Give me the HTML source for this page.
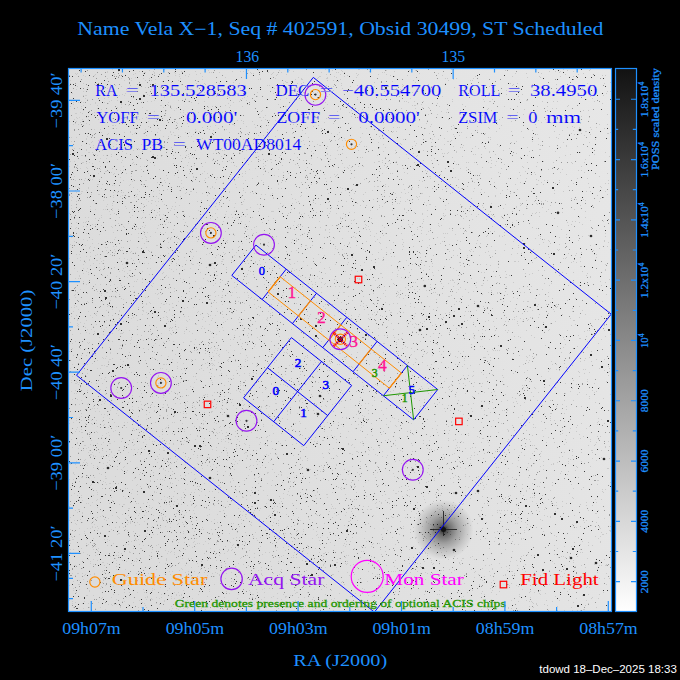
<!DOCTYPE html><html><head><meta charset="utf-8"><style>html,body{margin:0;padding:0;background:#000;width:680px;height:680px;overflow:hidden}svg{display:block}</style></head><body>
<svg width="680" height="680" viewBox="0 0 680 680">
<defs>
<linearGradient id="cb" x1="0" y1="0" x2="0" y2="1"><stop offset="0" stop-color="#121212"/><stop offset="1" stop-color="#ffffff"/></linearGradient>
<linearGradient id="bgg" x1="0" y1="0.3" x2="1" y2="0"><stop offset="0" stop-color="#dcdcdc"/><stop offset="1" stop-color="#e7e7e7"/></linearGradient>
<radialGradient id="halo"><stop offset="0" stop-color="#000" stop-opacity="0.85"/><stop offset="0.08" stop-color="#000" stop-opacity="0.7"/><stop offset="0.2" stop-color="#000" stop-opacity="0.52"/><stop offset="0.45" stop-color="#000" stop-opacity="0.3"/><stop offset="0.75" stop-color="#000" stop-opacity="0.12"/><stop offset="1" stop-color="#000" stop-opacity="0"/></radialGradient>
<filter id="sb2" x="-1" y="-1" width="3" height="3"><feGaussianBlur stdDeviation="0.7"/></filter>
<clipPath id="fr"><rect x="69" y="69" width="542" height="542"/></clipPath>
</defs>
<rect width="680" height="680" fill="#000"/>
<g clip-path="url(#fr)">
<rect x="68" y="68" width="544" height="544" fill="url(#bgg)"/>
<path fill="#cacaca" d="M345 515h1v1h-1zM247 260h1v1h-1zM491 585h1v1h-1zM148 263h1v1h-1zM93 538h1v1h-1zM236 252h1v1h-1zM177 255h1v1h-1zM290 259h1v1h-1zM599 201h1v1h-1zM377 78h1v1h-1zM427 419h1v1h-1zM82 119h1v1h-1zM193 561h1v1h-1zM499 275h1v1h-1zM222 150h1v1h-1zM305 277h1v1h-1zM222 161h1v1h-1zM219 72h1v1h-1zM167 339h1v1h-1zM136 540h1v1h-1zM257 96h1v1h-1zM473 251h1v1h-1zM401 192h1v1h-1zM307 407h1v1h-1zM591 129h1v1h-1zM114 441h1v1h-1zM138 228h1v1h-1zM350 523h1v1h-1zM383 528h1v1h-1zM573 560h1v1h-1zM99 293h1v1h-1zM154 100h1v1h-1zM475 571h1v1h-1zM282 376h1v1h-1zM146 377h1v1h-1zM498 263h1v1h-1zM382 306h1v1h-1zM83 222h1v1h-1zM418 470h1v1h-1zM316 171h1v1h-1zM334 436h1v1h-1zM107 162h1v1h-1zM84 601h1v1h-1zM236 537h1v1h-1zM431 86h1v1h-1zM115 395h1v1h-1zM197 457h1v1h-1zM167 247h1v1h-1zM385 290h1v1h-1zM580 549h1v1h-1zM235 461h1v1h-1zM288 232h1v1h-1zM83 268h1v1h-1zM194 165h1v1h-1zM287 353h1v1h-1zM530 585h1v1h-1zM594 445h1v1h-1zM153 500h1v1h-1zM324 523h1v1h-1zM244 292h1v1h-1zM337 249h1v1h-1zM93 559h1v1h-1zM325 304h1v1h-1zM326 74h1v1h-1zM405 287h1v1h-1zM591 361h1v1h-1zM519 355h1v1h-1zM231 501h1v1h-1zM191 341h1v1h-1zM470 557h1v1h-1zM193 510h1v1h-1zM345 216h1v1h-1zM399 392h1v1h-1zM320 537h1v1h-1zM204 579h1v1h-1zM546 445h1v1h-1zM299 589h1v1h-1zM303 494h1v1h-1zM222 259h1v1h-1zM465 197h1v1h-1zM289 70h1v1h-1zM386 424h1v1h-1zM192 517h1v1h-1zM310 330h1v1h-1zM131 581h1v1h-1zM436 117h1v1h-1zM211 89h1v1h-1zM503 499h1v1h-1zM591 598h1v1h-1zM91 142h1v1h-1zM204 438h1v1h-1zM370 269h1v1h-1zM141 408h1v1h-1zM242 204h1v1h-1zM219 331h1v1h-1zM327 330h1v1h-1zM276 454h1v1h-1zM242 544h1v1h-1zM145 180h1v1h-1zM224 115h1v1h-1zM482 333h1v1h-1zM249 169h1v1h-1zM474 338h1v1h-1zM386 74h1v1h-1zM530 497h1v1h-1zM554 554h1v1h-1zM427 247h1v1h-1zM147 282h1v1h-1zM73 173h1v1h-1zM374 82h1v1h-1zM415 164h1v1h-1zM171 385h1v1h-1zM216 605h1v1h-1zM489 216h1v1h-1zM541 421h1v1h-1zM146 607h1v1h-1zM575 255h1v1h-1zM506 94h1v1h-1zM261 486h1v1h-1zM526 499h1v1h-1zM124 258h1v1h-1zM444 522h1v1h-1zM599 526h1v1h-1zM111 156h1v1h-1zM518 517h1v1h-1zM492 569h1v1h-1zM503 150h1v1h-1zM160 415h1v1h-1zM415 145h1v1h-1zM277 506h1v1h-1zM430 539h1v1h-1zM92 317h1v1h-1zM451 69h1v1h-1zM253 274h1v1h-1zM394 418h1v1h-1zM71 307h1v1h-1zM546 211h1v1h-1zM301 398h1v1h-1zM192 405h1v1h-1zM589 426h1v1h-1zM505 271h1v1h-1zM232 249h1v1h-1zM196 350h1v1h-1zM340 353h1v1h-1zM404 587h1v1h-1zM443 317h1v1h-1zM293 439h1v1h-1zM542 101h1v1h-1zM163 397h1v1h-1zM179 274h1v1h-1zM209 205h1v1h-1zM548 406h1v1h-1zM350 565h1v1h-1zM507 332h1v1h-1zM414 289h1v1h-1zM78 452h1v1h-1zM162 532h1v1h-1zM181 499h1v1h-1zM236 390h1v1h-1zM285 181h1v1h-1zM143 94h1v1h-1zM171 383h1v1h-1zM452 99h1v1h-1zM594 564h1v1h-1zM141 607h1v1h-1zM452 514h1v1h-1zM72 603h1v1h-1zM488 162h1v1h-1zM409 376h1v1h-1zM119 464h1v1h-1zM157 158h1v1h-1zM472 80h1v1h-1zM359 144h1v1h-1zM186 155h1v1h-1zM70 322h1v1h-1zM430 395h1v1h-1zM544 270h1v1h-1zM281 501h1v1h-1zM523 387h1v1h-1zM444 597h1v1h-1zM496 161h1v1h-1zM186 327h1v1h-1zM208 586h1v1h-1zM465 333h1v1h-1zM89 591h1v1h-1zM464 364h1v1h-1zM442 189h1v1h-1zM128 522h1v1h-1zM146 599h1v1h-1zM565 155h1v1h-1zM266 373h1v1h-1zM90 252h1v1h-1zM122 160h1v1h-1zM86 149h1v1h-1zM460 204h1v1h-1zM505 330h1v1h-1zM157 479h1v1h-1zM70 326h1v1h-1zM77 258h1v1h-1zM494 231h1v1h-1zM389 503h1v1h-1zM278 303h1v1h-1zM464 358h1v1h-1zM138 416h1v1h-1zM471 133h1v1h-1zM422 214h1v1h-1zM361 424h1v1h-1zM380 549h1v1h-1zM264 588h1v1h-1zM92 113h1v1h-1zM385 157h1v1h-1zM305 245h1v1h-1zM400 521h1v1h-1zM118 120h1v1h-1zM522 589h1v1h-1zM561 117h1v1h-1zM263 117h1v1h-1zM419 196h1v1h-1zM285 106h1v1h-1zM126 576h1v1h-1zM259 117h1v1h-1zM484 117h1v1h-1zM338 294h1v1h-1zM556 369h1v1h-1zM355 428h1v1h-1zM356 492h1v1h-1zM85 98h1v1h-1zM333 86h1v1h-1zM187 462h1v1h-1zM145 80h1v1h-1zM313 529h1v1h-1zM225 231h1v1h-1zM313 500h1v1h-1zM108 500h1v1h-1zM214 292h1v1h-1zM372 435h1v1h-1zM521 539h1v1h-1zM396 342h1v1h-1zM441 570h1v1h-1zM222 409h1v1h-1zM484 357h1v1h-1zM509 585h1v1h-1zM76 113h1v1h-1zM392 193h1v1h-1zM69 193h1v1h-1zM535 258h1v1h-1zM211 72h1v1h-1zM512 358h1v1h-1zM117 534h1v1h-1zM531 466h1v1h-1zM220 487h1v1h-1zM338 139h1v1h-1zM415 120h1v1h-1zM401 277h1v1h-1zM560 147h1v1h-1zM321 341h1v1h-1zM217 438h1v1h-1zM110 359h1v1h-1zM349 165h1v1h-1zM605 282h1v1h-1zM158 375h1v1h-1zM336 562h1v1h-1zM589 155h1v1h-1zM521 502h1v1h-1zM473 322h1v1h-1zM581 352h1v1h-1zM145 92h1v1h-1zM196 159h1v1h-1zM136 580h1v1h-1zM469 220h1v1h-1zM281 602h1v1h-1zM439 509h1v1h-1zM577 577h1v1h-1zM191 504h1v1h-1zM149 70h1v1h-1zM494 391h1v1h-1zM378 361h1v1h-1zM346 512h1v1h-1zM600 528h1v1h-1zM183 444h1v1h-1zM297 109h1v1h-1zM156 545h1v1h-1zM262 575h1v1h-1zM148 349h1v1h-1zM408 265h1v1h-1zM338 571h1v1h-1zM601 565h1v1h-1zM538 392h1v1h-1zM268 311h1v1h-1zM312 245h1v1h-1zM243 497h1v1h-1zM309 173h1v1h-1zM482 115h1v1h-1zM469 208h1v1h-1zM283 384h1v1h-1zM278 523h1v1h-1zM360 137h1v1h-1zM195 359h1v1h-1zM534 172h1v1h-1zM81 429h1v1h-1zM222 402h1v1h-1zM261 111h1v1h-1zM71 208h1v1h-1zM143 78h1v1h-1zM174 431h1v1h-1zM169 340h1v1h-1zM89 178h1v1h-1zM99 179h1v1h-1zM523 364h1v1h-1zM532 356h1v1h-1zM407 380h1v1h-1zM596 607h1v1h-1zM123 467h1v1h-1zM390 391h1v1h-1zM76 222h1v1h-1zM518 245h1v1h-1zM169 478h1v1h-1zM259 578h1v1h-1zM69 479h1v1h-1zM143 545h1v1h-1zM536 527h1v1h-1zM406 212h1v1h-1zM96 324h1v1h-1zM297 87h1v1h-1zM285 318h1v1h-1zM167 139h1v1h-1zM556 364h1v1h-1zM226 609h1v1h-1zM576 253h1v1h-1zM369 329h1v1h-1zM405 517h1v1h-1zM97 368h1v1h-1zM367 420h1v1h-1zM460 564h1v1h-1zM443 286h1v1h-1zM585 567h1v1h-1zM206 254h1v1h-1zM151 118h1v1h-1zM116 128h1v1h-1zM262 554h1v1h-1zM409 370h1v1h-1zM246 150h1v1h-1zM513 297h1v1h-1zM74 176h1v1h-1zM588 110h1v1h-1zM315 203h1v1h-1zM184 269h1v1h-1zM109 553h1v1h-1zM290 595h1v1h-1zM135 194h1v1h-1zM112 128h1v1h-1zM592 390h1v1h-1zM584 162h1v1h-1zM174 501h1v1h-1zM403 85h1v1h-1zM452 454h1v1h-1zM379 171h1v1h-1zM571 581h1v1h-1zM146 117h1v1h-1zM77 271h1v1h-1zM351 127h1v1h-1zM490 287h1v1h-1zM77 573h1v1h-1zM554 535h1v1h-1zM321 331h1v1h-1zM596 513h1v1h-1zM266 326h1v1h-1zM383 352h1v1h-1zM212 133h1v1h-1zM363 111h1v1h-1zM313 92h1v1h-1zM100 588h1v1h-1zM240 322h1v1h-1zM239 441h1v1h-1zM330 349h1v1h-1zM473 333h1v1h-1zM92 424h1v1h-1zM448 510h1v1h-1zM508 607h1v1h-1zM559 182h1v1h-1zM197 486h1v1h-1zM110 353h1v1h-1zM496 188h1v1h-1zM73 539h1v1h-1zM467 320h1v1h-1zM229 85h1v1h-1zM356 370h1v1h-1zM163 279h1v1h-1zM361 551h1v1h-1zM166 441h1v1h-1zM190 386h1v1h-1zM130 552h1v1h-1zM193 542h1v1h-1zM368 454h1v1h-1zM168 428h1v1h-1zM71 432h1v1h-1zM130 184h1v1h-1zM130 94h1v1h-1zM520 205h1v1h-1zM480 539h1v1h-1zM167 590h1v1h-1zM377 466h1v1h-1zM138 409h1v1h-1zM217 534h1v1h-1zM154 278h1v1h-1zM412 489h1v1h-1zM97 260h1v1h-1zM442 506h1v1h-1zM503 301h1v1h-1zM140 472h1v1h-1zM357 352h1v1h-1zM125 369h1v1h-1zM342 188h1v1h-1zM276 328h1v1h-1zM579 217h1v1h-1zM288 402h1v1h-1zM79 275h1v1h-1zM75 291h1v1h-1zM470 365h1v1h-1zM342 163h1v1h-1zM325 562h1v1h-1zM113 394h1v1h-1zM501 495h1v1h-1zM109 279h1v1h-1zM178 385h1v1h-1zM426 521h1v1h-1zM294 229h1v1h-1zM203 370h1v1h-1zM350 485h1v1h-1zM123 527h1v1h-1zM277 547h1v1h-1zM395 461h1v1h-1zM78 324h1v1h-1zM128 585h1v1h-1zM518 544h1v1h-1zM107 339h1v1h-1zM496 594h1v1h-1zM135 132h1v1h-1zM509 148h1v1h-1zM123 170h1v1h-1zM313 126h1v1h-1zM587 379h1v1h-1zM458 187h1v1h-1zM389 304h1v1h-1zM482 346h1v1h-1zM69 544h1v1h-1zM243 279h1v1h-1zM198 581h1v1h-1zM203 244h1v1h-1zM566 406h1v1h-1zM120 462h1v1h-1zM308 601h1v1h-1zM292 203h1v1h-1zM556 536h1v1h-1zM419 331h1v1h-1zM217 348h1v1h-1zM581 406h1v1h-1zM180 429h1v1h-1zM562 430h1v1h-1zM363 386h1v1h-1zM263 426h1v1h-1zM212 106h1v1h-1zM508 321h1v1h-1zM86 284h1v1h-1zM360 461h1v1h-1zM487 235h1v1h-1zM363 306h1v1h-1zM475 154h1v1h-1zM507 503h1v1h-1zM550 368h1v1h-1zM442 579h1v1h-1zM202 127h1v1h-1zM548 240h1v1h-1zM340 449h1v1h-1zM414 576h1v1h-1zM104 316h1v1h-1zM202 397h1v1h-1zM221 541h1v1h-1zM521 427h1v1h-1zM249 375h1v1h-1zM585 369h1v1h-1zM336 175h1v1h-1zM297 553h1v1h-1zM113 174h1v1h-1zM427 553h1v1h-1zM331 508h1v1h-1zM565 114h1v1h-1zM338 147h1v1h-1zM460 265h1v1h-1zM283 172h1v1h-1zM601 187h1v1h-1zM585 217h1v1h-1zM440 174h1v1h-1zM109 101h1v1h-1zM434 478h1v1h-1zM222 414h1v1h-1zM445 392h1v1h-1zM316 523h1v1h-1zM353 564h1v1h-1zM535 124h1v1h-1zM143 186h1v1h-1zM286 380h1v1h-1zM113 192h1v1h-1zM69 343h1v1h-1zM199 299h1v1h-1zM349 242h1v1h-1zM81 413h1v1h-1zM288 148h1v1h-1zM283 493h1v1h-1zM297 413h1v1h-1zM383 600h1v1h-1zM240 420h1v1h-1zM224 385h1v1h-1zM380 117h1v1h-1zM222 311h1v1h-1zM185 489h1v1h-1zM484 503h1v1h-1zM327 78h1v1h-1zM82 603h1v1h-1zM216 308h1v1h-1zM467 255h1v1h-1zM86 233h1v1h-1zM213 263h1v1h-1zM457 465h1v1h-1zM283 280h1v1h-1zM128 192h1v1h-1zM242 515h1v1h-1zM75 380h1v1h-1zM527 467h1v1h-1zM590 134h1v1h-1zM105 171h1v1h-1zM121 579h1v1h-1zM70 234h1v1h-1zM351 386h1v1h-1zM109 525h1v1h-1zM176 329h1v1h-1zM182 601h1v1h-1zM157 377h1v1h-1zM266 388h1v1h-1zM328 452h1v1h-1zM511 121h1v1h-1zM477 240h1v1h-1zM383 257h1v1h-1zM458 400h1v1h-1zM331 435h1v1h-1zM265 530h1v1h-1zM143 348h1v1h-1zM179 456h1v1h-1zM331 599h1v1h-1zM411 354h1v1h-1zM260 258h1v1h-1zM106 451h1v1h-1zM352 367h1v1h-1zM98 144h1v1h-1zM491 246h1v1h-1zM402 365h1v1h-1zM119 557h1v1h-1zM180 382h1v1h-1zM224 130h1v1h-1zM564 573h1v1h-1zM185 98h1v1h-1zM281 530h1v1h-1zM590 69h1v1h-1zM119 504h1v1h-1zM307 545h1v1h-1zM144 234h1v1h-1zM245 147h1v1h-1zM370 509h1v1h-1zM268 144h1v1h-1zM89 234h1v1h-1zM479 437h1v1h-1zM213 356h1v1h-1zM473 135h1v1h-1zM262 110h1v1h-1zM430 524h1v1h-1zM355 237h1v1h-1zM245 216h1v1h-1zM309 326h1v1h-1zM384 227h1v1h-1zM328 393h1v1h-1zM150 112h1v1h-1zM408 604h1v1h-1zM172 362h1v1h-1zM235 421h1v1h-1zM576 384h1v1h-1zM386 247h1v1h-1zM229 132h1v1h-1zM238 250h1v1h-1zM592 581h1v1h-1zM230 122h1v1h-1zM382 456h1v1h-1zM343 551h1v1h-1zM80 333h1v1h-1zM412 224h1v1h-1zM383 151h1v1h-1zM260 239h1v1h-1zM285 90h1v1h-1zM295 199h1v1h-1zM507 340h1v1h-1zM340 323h1v1h-1zM257 406h1v1h-1zM295 149h1v1h-1zM154 111h1v1h-1zM324 426h1v1h-1zM511 131h1v1h-1zM551 413h1v1h-1zM206 508h1v1h-1zM168 237h1v1h-1zM209 354h1v1h-1zM412 561h1v1h-1zM181 71h1v1h-1zM514 573h1v1h-1zM300 423h1v1h-1zM133 531h1v1h-1zM216 404h1v1h-1zM398 419h1v1h-1zM101 293h1v1h-1zM283 205h1v1h-1zM414 398h1v1h-1zM240 383h1v1h-1zM261 573h1v1h-1zM131 339h1v1h-1zM178 80h1v1h-1zM578 477h1v1h-1zM384 399h1v1h-1zM262 589h1v1h-1zM138 503h1v1h-1zM176 595h1v1h-1zM78 499h1v1h-1zM341 192h1v1h-1zM86 139h1v1h-1zM83 273h1v1h-1zM322 560h1v1h-1zM302 460h1v1h-1zM177 394h1v1h-1zM557 101h1v1h-1zM351 378h1v1h-1zM126 427h1v1h-1zM526 470h1v1h-1zM280 384h1v1h-1zM379 147h1v1h-1zM380 597h1v1h-1zM584 331h1v1h-1zM499 451h1v1h-1zM595 513h1v1h-1zM162 81h1v1h-1zM402 333h1v1h-1zM424 321h1v1h-1zM346 157h1v1h-1zM128 604h1v1h-1zM86 89h1v1h-1zM74 216h1v1h-1zM233 375h1v1h-1zM395 440h1v1h-1zM357 97h1v1h-1zM131 449h1v1h-1zM516 432h1v1h-1zM396 384h1v1h-1zM217 112h1v1h-1zM582 236h1v1h-1zM112 333h1v1h-1zM307 408h1v1h-1zM222 112h1v1h-1zM195 71h1v1h-1zM225 154h1v1h-1zM272 258h1v1h-1zM110 443h1v1h-1zM424 602h1v1h-1zM605 152h1v1h-1zM80 112h1v1h-1zM151 251h1v1h-1zM132 253h1v1h-1zM229 107h1v1h-1zM182 581h1v1h-1zM525 522h1v1h-1zM328 552h1v1h-1zM152 590h1v1h-1zM87 554h1v1h-1zM523 577h1v1h-1zM439 590h1v1h-1zM82 500h1v1h-1zM228 359h1v1h-1zM428 493h1v1h-1zM241 216h1v1h-1zM518 601h1v1h-1zM273 93h1v1h-1zM293 137h1v1h-1zM69 213h1v1h-1zM504 459h1v1h-1zM230 393h1v1h-1zM288 228h1v1h-1zM456 151h1v1h-1zM262 144h1v1h-1zM338 311h1v1h-1zM393 242h1v1h-1zM157 565h1v1h-1zM601 532h1v1h-1zM490 412h1v1h-1zM264 597h1v1h-1zM69 520h1v1h-1zM601 419h1v1h-1zM202 76h1v1h-1zM104 102h1v1h-1zM353 603h1v1h-1zM292 541h1v1h-1zM287 269h1v1h-1zM542 430h1v1h-1zM431 610h1v1h-1zM576 527h1v1h-1zM152 443h1v1h-1zM413 546h1v1h-1zM227 240h1v1h-1zM339 364h1v1h-1zM345 563h1v1h-1zM193 387h1v1h-1zM208 177h1v1h-1zM182 517h1v1h-1zM426 318h1v1h-1zM236 310h1v1h-1zM126 91h1v1h-1zM240 71h1v1h-1zM167 405h1v1h-1zM189 277h1v1h-1zM210 548h1v1h-1zM89 436h1v1h-1zM547 110h1v1h-1zM139 396h1v1h-1zM376 233h1v1h-1zM433 333h1v1h-1zM356 245h1v1h-1zM123 504h1v1h-1zM360 466h1v1h-1zM94 112h1v1h-1zM164 480h1v1h-1zM336 515h1v1h-1zM320 158h1v1h-1zM396 493h1v1h-1zM86 546h1v1h-1zM117 287h1v1h-1zM453 250h1v1h-1zM324 350h1v1h-1zM429 266h1v1h-1zM363 249h1v1h-1zM501 216h1v1h-1zM510 116h1v1h-1zM117 516h1v1h-1zM535 427h1v1h-1zM223 548h1v1h-1zM378 585h1v1h-1zM518 508h1v1h-1zM241 120h1v1h-1zM101 261h1v1h-1zM72 334h1v1h-1zM157 534h1v1h-1zM292 268h1v1h-1zM604 423h1v1h-1zM85 222h1v1h-1zM482 591h1v1h-1zM73 311h1v1h-1zM281 72h1v1h-1zM245 532h1v1h-1zM481 272h1v1h-1zM275 136h1v1h-1zM421 230h1v1h-1zM180 475h1v1h-1zM142 282h1v1h-1zM90 246h1v1h-1zM522 313h1v1h-1zM270 159h1v1h-1zM405 193h1v1h-1zM397 313h1v1h-1zM327 537h1v1h-1zM253 143h1v1h-1zM527 320h1v1h-1zM370 210h1v1h-1zM512 551h1v1h-1zM492 399h1v1h-1zM542 289h1v1h-1zM119 258h1v1h-1zM263 424h1v1h-1zM116 134h1v1h-1zM480 243h1v1h-1zM502 375h1v1h-1zM296 126h1v1h-1zM567 300h1v1h-1zM271 262h1v1h-1zM506 454h1v1h-1zM361 329h1v1h-1zM358 410h1v1h-1zM183 524h1v1h-1zM416 111h1v1h-1zM83 284h1v1h-1zM256 589h1v1h-1zM574 320h1v1h-1zM95 154h1v1h-1zM274 88h1v1h-1zM345 557h1v1h-1zM161 105h1v1h-1zM169 330h1v1h-1zM424 594h1v1h-1zM127 575h1v1h-1zM327 146h1v1h-1zM167 449h1v1h-1zM494 541h1v1h-1zM214 505h1v1h-1zM324 553h1v1h-1zM465 448h1v1h-1zM419 289h1v1h-1zM110 280h1v1h-1zM110 272h1v1h-1zM474 577h1v1h-1zM268 472h1v1h-1zM83 281h1v1h-1zM147 101h1v1h-1zM210 248h1v1h-1zM276 550h1v1h-1zM263 166h1v1h-1zM182 423h1v1h-1zM516 585h1v1h-1zM409 70h1v1h-1zM122 264h1v1h-1zM284 382h1v1h-1zM446 112h1v1h-1zM194 467h1v1h-1zM267 320h1v1h-1zM325 69h1v1h-1zM403 536h1v1h-1zM119 201h1v1h-1zM131 585h1v1h-1zM99 190h1v1h-1zM374 304h1v1h-1zM401 338h1v1h-1zM113 431h1v1h-1zM132 163h1v1h-1zM468 523h1v1h-1zM189 216h1v1h-1zM357 85h1v1h-1zM140 584h1v1h-1zM452 424h1v1h-1zM331 590h1v1h-1zM196 74h1v1h-1zM446 378h1v1h-1zM325 178h1v1h-1zM503 603h1v1h-1zM574 127h1v1h-1zM207 280h1v1h-1zM217 471h1v1h-1zM226 269h1v1h-1zM383 414h1v1h-1zM71 205h1v1h-1zM213 120h1v1h-1zM197 543h1v1h-1zM133 162h1v1h-1zM142 291h1v1h-1zM106 206h1v1h-1zM82 155h1v1h-1zM97 360h1v1h-1zM453 187h1v1h-1zM272 418h1v1h-1zM279 503h1v1h-1zM227 242h1v1h-1zM420 341h1v1h-1zM580 205h1v1h-1zM94 129h1v1h-1zM588 594h1v1h-1zM591 525h1v1h-1zM517 323h1v1h-1zM383 431h1v1h-1zM489 445h1v1h-1zM138 449h1v1h-1zM85 217h1v1h-1zM605 264h1v1h-1zM189 545h1v1h-1zM107 78h1v1h-1zM302 286h1v1h-1zM271 188h1v1h-1zM104 572h1v1h-1zM192 333h1v1h-1zM395 425h1v1h-1zM351 110h1v1h-1zM121 103h1v1h-1zM288 429h1v1h-1zM442 468h1v1h-1zM141 210h1v1h-1zM394 76h1v1h-1zM178 129h1v1h-1zM562 456h1v1h-1zM180 78h1v1h-1zM608 366h1v1h-1zM490 588h1v1h-1zM149 488h1v1h-1zM207 367h1v1h-1zM169 393h1v1h-1zM115 251h1v1h-1zM170 255h1v1h-1zM333 421h1v1h-1zM132 395h1v1h-1zM460 411h1v1h-1zM581 423h1v1h-1zM371 260h1v1h-1zM87 521h1v1h-1zM160 444h1v1h-1zM404 412h1v1h-1zM301 553h1v1h-1zM605 269h1v1h-1zM548 313h1v1h-1zM248 475h1v1h-1zM186 586h1v1h-1zM197 263h1v1h-1zM532 435h1v1h-1zM100 533h1v1h-1zM334 254h1v1h-1zM351 167h1v1h-1zM401 108h1v1h-1zM291 472h1v1h-1zM557 479h1v1h-1zM70 517h1v1h-1zM151 598h1v1h-1zM185 370h1v1h-1zM223 506h1v1h-1zM168 462h1v1h-1zM99 267h1v1h-1zM404 269h1v1h-1zM76 418h1v1h-1zM154 406h1v1h-1zM375 315h1v1h-1zM69 310h1v1h-1zM261 194h1v1h-1zM90 206h1v1h-1zM162 264h1v1h-1zM566 257h1v1h-1zM374 162h1v1h-1zM259 269h1v1h-1zM337 298h1v1h-1zM183 363h1v1h-1zM278 251h1v1h-1zM313 364h1v1h-1zM499 119h1v1h-1zM196 131h1v1h-1zM76 121h1v1h-1zM331 87h1v1h-1zM325 308h1v1h-1zM318 382h1v1h-1zM156 528h1v1h-1zM478 493h1v1h-1zM351 445h1v1h-1zM368 609h1v1h-1zM282 121h1v1h-1zM362 95h1v1h-1zM582 271h1v1h-1zM397 274h1v1h-1zM491 592h1v1h-1zM372 573h1v1h-1zM69 258h1v1h-1zM432 139h1v1h-1zM530 399h1v1h-1zM122 151h1v1h-1zM390 421h1v1h-1zM491 167h1v1h-1zM499 484h1v1h-1zM279 145h1v1h-1zM228 103h1v1h-1zM108 573h1v1h-1zM296 250h1v1h-1zM144 243h1v1h-1zM437 294h1v1h-1zM580 610h1v1h-1zM257 249h1v1h-1zM163 95h1v1h-1zM83 102h1v1h-1zM497 503h1v1h-1zM233 544h1v1h-1zM341 324h1v1h-1zM604 370h1v1h-1zM232 159h1v1h-1zM109 503h1v1h-1zM286 347h1v1h-1zM397 120h1v1h-1zM333 508h1v1h-1zM425 552h1v1h-1zM169 504h1v1h-1zM331 133h1v1h-1zM175 354h1v1h-1zM151 80h1v1h-1zM321 72h1v1h-1zM166 558h1v1h-1zM337 559h1v1h-1zM499 510h1v1h-1zM457 279h1v1h-1zM208 107h1v1h-1zM89 333h1v1h-1zM227 551h1v1h-1zM487 503h1v1h-1zM286 583h1v1h-1zM72 399h1v1h-1zM78 550h1v1h-1zM397 217h1v1h-1zM499 591h1v1h-1zM164 96h1v1h-1zM219 555h1v1h-1zM154 410h1v1h-1zM280 498h1v1h-1zM362 588h1v1h-1zM428 317h1v1h-1zM346 555h1v1h-1zM342 393h1v1h-1zM594 392h1v1h-1zM189 158h1v1h-1zM202 244h1v1h-1zM120 283h1v1h-1zM450 354h1v1h-1zM141 218h1v1h-1zM372 190h1v1h-1zM231 550h1v1h-1zM231 111h1v1h-1zM599 594h1v1h-1zM100 373h1v1h-1zM430 574h1v1h-1zM540 590h1v1h-1zM326 181h1v1h-1zM90 574h1v1h-1zM191 359h1v1h-1zM302 398h1v1h-1zM219 485h1v1h-1zM490 101h1v1h-1zM83 141h1v1h-1zM433 606h1v1h-1zM97 105h1v1h-1zM410 503h1v1h-1zM477 126h1v1h-1zM203 423h1v1h-1zM501 539h1v1h-1zM212 160h1v1h-1zM492 402h1v1h-1zM365 227h1v1h-1zM85 396h1v1h-1zM274 510h1v1h-1zM415 108h1v1h-1zM523 114h1v1h-1zM91 523h1v1h-1zM431 376h1v1h-1zM343 292h1v1h-1zM382 225h1v1h-1zM379 136h1v1h-1zM71 217h1v1h-1zM490 211h1v1h-1zM316 368h1v1h-1zM134 281h1v1h-1zM341 318h1v1h-1zM573 90h1v1h-1zM327 80h1v1h-1zM424 326h1v1h-1zM445 323h1v1h-1zM219 356h1v1h-1zM96 260h1v1h-1zM368 523h1v1h-1zM227 293h1v1h-1zM318 254h1v1h-1zM119 526h1v1h-1zM471 278h1v1h-1zM294 221h1v1h-1zM520 203h1v1h-1zM319 221h1v1h-1zM173 271h1v1h-1zM182 282h1v1h-1zM550 302h1v1h-1zM104 329h1v1h-1zM248 270h1v1h-1zM118 209h1v1h-1zM245 361h1v1h-1zM268 414h1v1h-1zM187 307h1v1h-1zM221 430h1v1h-1zM363 392h1v1h-1zM70 540h1v1h-1zM422 213h1v1h-1zM171 134h1v1h-1zM476 243h1v1h-1zM108 362h1v1h-1zM247 274h1v1h-1zM111 529h1v1h-1zM176 216h1v1h-1zM539 149h1v1h-1zM98 344h1v1h-1zM564 339h1v1h-1zM240 99h1v1h-1zM399 487h1v1h-1zM459 301h1v1h-1zM398 219h1v1h-1zM306 570h1v1h-1zM322 99h1v1h-1zM478 87h1v1h-1zM280 155h1v1h-1zM89 248h1v1h-1zM113 561h1v1h-1zM138 539h1v1h-1zM384 343h1v1h-1zM355 516h1v1h-1zM92 179h1v1h-1zM124 132h1v1h-1zM274 257h1v1h-1zM162 407h1v1h-1zM424 95h1v1h-1zM542 520h1v1h-1zM604 128h1v1h-1zM335 246h1v1h-1zM418 462h1v1h-1zM605 489h1v1h-1zM223 317h1v1h-1zM430 367h1v1h-1zM411 269h1v1h-1zM579 372h1v1h-1zM478 148h1v1h-1zM344 324h1v1h-1zM248 282h1v1h-1zM379 501h1v1h-1zM398 294h1v1h-1zM152 434h1v1h-1zM188 136h1v1h-1zM138 233h1v1h-1zM515 398h1v1h-1zM283 83h1v1h-1zM456 164h1v1h-1zM153 124h1v1h-1zM89 162h1v1h-1zM97 426h1v1h-1zM211 412h1v1h-1zM297 83h1v1h-1zM125 344h1v1h-1zM157 149h1v1h-1zM82 522h1v1h-1zM207 173h1v1h-1zM406 154h1v1h-1zM589 142h1v1h-1zM109 413h1v1h-1zM137 438h1v1h-1zM564 400h1v1h-1zM100 532h1v1h-1zM281 153h1v1h-1zM472 180h1v1h-1zM162 517h1v1h-1zM430 536h1v1h-1zM462 156h1v1h-1zM298 574h1v1h-1zM125 525h1v1h-1zM489 151h1v1h-1zM342 249h1v1h-1zM565 344h1v1h-1zM236 286h1v1h-1zM516 206h1v1h-1zM377 384h1v1h-1zM412 451h1v1h-1zM183 279h1v1h-1zM231 162h1v1h-1zM116 246h1v1h-1zM114 576h1v1h-1zM221 263h1v1h-1zM562 433h1v1h-1zM339 254h1v1h-1zM315 548h1v1h-1zM327 370h1v1h-1zM217 514h1v1h-1zM160 441h1v1h-1zM376 590h1v1h-1zM445 580h1v1h-1zM147 426h1v1h-1zM227 96h1v1h-1zM240 514h1v1h-1zM380 243h1v1h-1zM148 427h1v1h-1zM460 273h1v1h-1zM168 471h1v1h-1zM214 488h1v1h-1zM554 190h1v1h-1zM202 319h1v1h-1zM418 199h1v1h-1zM193 256h1v1h-1zM571 484h1v1h-1zM379 576h1v1h-1zM151 508h1v1h-1zM189 331h1v1h-1zM254 514h1v1h-1zM419 266h1v1h-1zM358 74h1v1h-1zM271 74h1v1h-1zM298 318h1v1h-1zM259 339h1v1h-1zM467 199h1v1h-1zM496 131h1v1h-1zM397 408h1v1h-1zM366 258h1v1h-1zM120 177h1v1h-1zM444 153h1v1h-1zM400 290h1v1h-1zM543 461h1v1h-1zM78 278h1v1h-1zM128 105h1v1h-1zM443 199h1v1h-1zM604 240h1v1h-1zM86 355h1v1h-1zM493 408h1v1h-1zM225 214h1v1h-1zM145 129h1v1h-1zM431 606h1v1h-1zM158 487h1v1h-1zM293 557h1v1h-1zM184 542h1v1h-1zM121 469h1v1h-1zM112 205h1v1h-1zM72 537h1v1h-1zM394 505h1v1h-1zM468 404h1v1h-1zM526 73h1v1h-1zM233 233h1v1h-1zM188 395h1v1h-1zM86 95h1v1h-1zM107 275h1v1h-1zM142 602h1v1h-1zM236 448h1v1h-1zM294 153h1v1h-1zM175 75h1v1h-1zM263 174h1v1h-1zM348 231h1v1h-1zM200 272h1v1h-1zM139 600h1v1h-1zM78 584h1v1h-1zM336 280h1v1h-1zM485 515h1v1h-1zM165 563h1v1h-1zM175 531h1v1h-1zM470 495h1v1h-1zM208 533h1v1h-1zM136 503h1v1h-1zM112 125h1v1h-1zM359 69h1v1h-1zM236 496h1v1h-1zM157 360h1v1h-1zM527 370h1v1h-1zM344 357h1v1h-1zM265 552h1v1h-1zM549 348h1v1h-1zM378 258h1v1h-1zM158 383h1v1h-1zM513 373h1v1h-1zM589 372h1v1h-1zM472 590h1v1h-1zM125 488h1v1h-1zM577 556h1v1h-1zM294 481h1v1h-1zM353 480h1v1h-1zM240 571h1v1h-1zM470 459h1v1h-1zM199 88h1v1h-1zM88 452h1v1h-1zM136 196h1v1h-1zM435 414h1v1h-1zM101 365h1v1h-1zM270 195h1v1h-1zM165 500h1v1h-1zM90 433h1v1h-1zM373 449h1v1h-1zM350 596h1v1h-1zM145 87h1v1h-1zM293 71h1v1h-1zM219 375h1v1h-1zM274 501h1v1h-1zM207 362h1v1h-1zM217 246h1v1h-1zM149 507h1v1h-1zM421 334h1v1h-1zM233 82h1v1h-1zM163 317h1v1h-1zM390 75h1v1h-1zM497 350h1v1h-1zM93 154h1v1h-1zM233 124h1v1h-1zM228 378h1v1h-1zM431 562h1v1h-1zM268 72h1v1h-1zM436 429h1v1h-1zM240 257h1v1h-1zM237 120h1v1h-1zM419 120h1v1h-1zM568 576h1v1h-1zM118 71h1v1h-1zM270 366h1v1h-1zM587 586h1v1h-1zM271 441h1v1h-1zM157 245h1v1h-1zM550 378h1v1h-1zM251 377h1v1h-1zM385 184h1v1h-1zM433 501h1v1h-1zM600 541h1v1h-1zM74 520h1v1h-1zM285 597h1v1h-1zM273 198h1v1h-1zM367 581h1v1h-1zM255 413h1v1h-1zM87 373h1v1h-1zM223 238h1v1h-1zM481 401h1v1h-1zM74 148h1v1h-1zM427 171h1v1h-1zM308 283h1v1h-1zM467 257h1v1h-1zM343 488h1v1h-1zM119 329h1v1h-1zM351 220h1v1h-1zM328 164h1v1h-1zM189 169h1v1h-1zM236 370h1v1h-1zM432 573h1v1h-1zM153 392h1v1h-1zM599 578h1v1h-1zM381 520h1v1h-1zM377 507h1v1h-1zM314 475h1v1h-1zM110 254h1v1h-1zM117 194h1v1h-1zM530 122h1v1h-1zM448 559h1v1h-1zM545 507h1v1h-1zM312 84h1v1h-1zM96 420h1v1h-1zM393 571h1v1h-1zM170 96h1v1h-1zM129 87h1v1h-1zM236 490h1v1h-1zM263 400h1v1h-1zM486 484h1v1h-1zM257 584h1v1h-1zM214 272h1v1h-1zM507 386h1v1h-1zM425 553h1v1h-1zM77 165h1v1h-1zM379 161h1v1h-1zM167 189h1v1h-1zM403 607h1v1h-1zM472 447h1v1h-1zM455 475h1v1h-1zM86 320h1v1h-1zM249 466h1v1h-1zM413 319h1v1h-1zM129 365h1v1h-1zM212 318h1v1h-1zM581 200h1v1h-1zM168 248h1v1h-1zM232 217h1v1h-1zM221 562h1v1h-1zM239 322h1v1h-1zM117 469h1v1h-1zM244 541h1v1h-1zM86 384h1v1h-1zM320 471h1v1h-1zM170 238h1v1h-1zM86 271h1v1h-1zM371 285h1v1h-1zM457 214h1v1h-1zM529 355h1v1h-1zM453 286h1v1h-1zM131 541h1v1h-1zM421 532h1v1h-1zM96 229h1v1h-1zM87 240h1v1h-1zM238 547h1v1h-1zM498 467h1v1h-1zM308 517h1v1h-1zM562 404h1v1h-1zM109 218h1v1h-1zM316 290h1v1h-1zM436 553h1v1h-1zM362 382h1v1h-1zM91 489h1v1h-1zM446 581h1v1h-1zM239 492h1v1h-1zM341 283h1v1h-1zM401 219h1v1h-1zM496 470h1v1h-1zM430 341h1v1h-1zM156 336h1v1h-1zM356 240h1v1h-1zM340 217h1v1h-1zM340 74h1v1h-1zM407 477h1v1h-1zM192 547h1v1h-1zM539 459h1v1h-1zM399 386h1v1h-1zM323 336h1v1h-1zM368 410h1v1h-1zM595 244h1v1h-1zM210 188h1v1h-1zM85 574h1v1h-1zM294 143h1v1h-1zM226 448h1v1h-1zM138 116h1v1h-1zM427 365h1v1h-1zM156 245h1v1h-1zM97 560h1v1h-1zM327 497h1v1h-1zM92 136h1v1h-1zM301 79h1v1h-1zM184 429h1v1h-1zM69 423h1v1h-1zM407 490h1v1h-1zM129 508h1v1h-1zM87 180h1v1h-1zM584 522h1v1h-1zM425 502h1v1h-1zM443 213h1v1h-1zM183 112h1v1h-1zM147 268h1v1h-1zM124 195h1v1h-1zM297 592h1v1h-1zM130 85h1v1h-1zM206 217h1v1h-1zM412 324h1v1h-1zM517 178h1v1h-1zM464 360h1v1h-1zM225 441h1v1h-1zM138 155h1v1h-1zM259 510h1v1h-1zM448 433h1v1h-1zM91 420h1v1h-1zM88 382h1v1h-1zM280 203h1v1h-1zM97 550h1v1h-1zM143 306h1v1h-1zM544 283h1v1h-1zM83 552h1v1h-1zM410 258h1v1h-1zM121 298h1v1h-1zM251 525h1v1h-1zM287 255h1v1h-1zM353 236h1v1h-1zM117 466h1v1h-1zM70 552h1v1h-1zM107 306h1v1h-1zM289 263h1v1h-1zM251 506h1v1h-1zM216 370h1v1h-1zM201 287h1v1h-1zM278 523h1v1h-1zM472 219h1v1h-1zM139 441h1v1h-1zM350 86h1v1h-1zM304 233h1v1h-1zM186 413h1v1h-1zM337 177h1v1h-1zM255 192h1v1h-1zM158 444h1v1h-1zM552 482h1v1h-1zM314 441h1v1h-1zM586 505h1v1h-1zM477 130h1v1h-1zM388 320h1v1h-1zM118 483h1v1h-1zM174 501h1v1h-1zM194 513h1v1h-1zM388 391h1v1h-1zM301 78h1v1h-1zM527 77h1v1h-1zM512 211h1v1h-1zM129 283h1v1h-1zM84 575h1v1h-1zM512 463h1v1h-1zM305 176h1v1h-1zM483 555h1v1h-1zM295 600h1v1h-1zM76 89h1v1h-1zM275 532h1v1h-1zM350 399h1v1h-1zM107 247h1v1h-1zM186 192h1v1h-1zM312 109h1v1h-1zM256 253h1v1h-1zM154 309h1v1h-1zM412 202h1v1h-1zM180 196h1v1h-1zM171 391h1v1h-1zM269 406h1v1h-1zM345 357h1v1h-1zM213 302h1v1h-1zM250 289h1v1h-1zM344 543h1v1h-1zM208 604h1v1h-1zM423 429h1v1h-1zM389 498h1v1h-1zM286 596h1v1h-1zM339 286h1v1h-1zM524 402h1v1h-1zM187 459h1v1h-1zM478 574h1v1h-1zM453 477h1v1h-1zM528 362h1v1h-1zM224 597h1v1h-1zM475 76h1v1h-1zM427 352h1v1h-1zM92 344h1v1h-1zM465 393h1v1h-1zM351 582h1v1h-1zM556 307h1v1h-1zM605 236h1v1h-1zM559 370h1v1h-1zM381 503h1v1h-1zM504 581h1v1h-1zM170 483h1v1h-1zM541 182h1v1h-1zM578 335h1v1h-1zM480 346h1v1h-1zM118 533h1v1h-1zM225 568h1v1h-1zM248 565h1v1h-1zM249 305h1v1h-1zM203 395h1v1h-1zM125 529h1v1h-1zM317 157h1v1h-1zM441 128h1v1h-1zM320 145h1v1h-1zM149 576h1v1h-1zM162 556h1v1h-1zM177 604h1v1h-1zM131 516h1v1h-1zM186 584h1v1h-1zM597 572h1v1h-1zM296 269h1v1h-1zM195 94h1v1h-1zM529 592h1v1h-1zM198 566h1v1h-1zM303 296h1v1h-1zM163 395h1v1h-1zM75 113h1v1h-1zM90 454h1v1h-1zM223 330h1v1h-1zM346 417h1v1h-1zM548 499h1v1h-1zM406 580h1v1h-1zM216 302h1v1h-1zM94 574h1v1h-1zM307 265h1v1h-1zM201 529h1v1h-1zM239 537h1v1h-1zM175 403h1v1h-1zM113 146h1v1h-1zM365 403h1v1h-1zM301 446h1v1h-1zM224 254h1v1h-1zM455 364h1v1h-1zM241 196h1v1h-1zM326 85h1v1h-1zM130 340h1v1h-1zM531 335h1v1h-1zM588 510h1v1h-1zM280 141h1v1h-1zM116 413h1v1h-1zM372 564h1v1h-1zM414 162h1v1h-1zM136 281h1v1h-1zM243 564h1v1h-1zM360 142h1v1h-1zM89 432h1v1h-1zM193 583h1v1h-1zM363 445h1v1h-1zM307 127h1v1h-1zM442 530h1v1h-1zM366 225h1v1h-1zM374 236h1v1h-1zM321 392h1v1h-1zM267 396h1v1h-1zM143 204h1v1h-1zM457 284h1v1h-1zM383 260h1v1h-1zM563 69h1v1h-1zM304 92h1v1h-1zM330 532h1v1h-1zM267 129h1v1h-1zM213 433h1v1h-1zM107 292h1v1h-1zM563 288h1v1h-1zM343 426h1v1h-1zM351 318h1v1h-1zM439 402h1v1h-1zM329 91h1v1h-1zM141 404h1v1h-1zM222 280h1v1h-1zM344 584h1v1h-1zM367 593h1v1h-1zM351 424h1v1h-1zM495 451h1v1h-1zM128 589h1v1h-1zM200 455h1v1h-1zM604 325h1v1h-1zM72 93h1v1h-1zM189 74h1v1h-1zM83 450h1v1h-1zM144 263h1v1h-1zM445 83h1v1h-1zM123 321h1v1h-1zM202 468h1v1h-1zM157 524h1v1h-1zM103 316h1v1h-1zM348 316h1v1h-1zM507 408h1v1h-1zM153 283h1v1h-1zM550 205h1v1h-1zM549 241h1v1h-1zM220 229h1v1h-1zM266 319h1v1h-1zM184 380h1v1h-1zM477 121h1v1h-1zM422 388h1v1h-1zM348 474h1v1h-1zM364 179h1v1h-1zM195 439h1v1h-1zM610 530h1v1h-1zM134 561h1v1h-1zM502 190h1v1h-1zM227 401h1v1h-1zM378 485h1v1h-1zM192 579h1v1h-1zM188 316h1v1h-1zM109 305h1v1h-1zM507 476h1v1h-1zM178 327h1v1h-1zM130 131h1v1h-1zM104 266h1v1h-1zM427 391h1v1h-1zM149 142h1v1h-1zM175 206h1v1h-1zM193 376h1v1h-1zM485 148h1v1h-1zM327 494h1v1h-1zM562 272h1v1h-1zM75 297h1v1h-1zM256 373h1v1h-1zM207 572h1v1h-1zM392 81h1v1h-1zM254 568h1v1h-1zM382 136h1v1h-1zM374 400h1v1h-1zM130 343h1v1h-1zM146 237h1v1h-1zM187 112h1v1h-1zM610 531h1v1h-1zM473 191h1v1h-1zM264 455h1v1h-1zM438 223h1v1h-1zM469 381h1v1h-1zM187 148h1v1h-1zM374 397h1v1h-1zM72 539h1v1h-1zM378 335h1v1h-1zM103 481h1v1h-1zM95 411h1v1h-1zM165 526h1v1h-1zM79 528h1v1h-1zM380 138h1v1h-1zM179 595h1v1h-1zM232 141h1v1h-1zM487 280h1v1h-1zM437 578h1v1h-1zM173 155h1v1h-1zM411 389h1v1h-1zM386 167h1v1h-1zM564 444h1v1h-1zM183 537h1v1h-1zM497 510h1v1h-1zM436 393h1v1h-1zM90 179h1v1h-1zM310 86h1v1h-1zM421 386h1v1h-1zM597 424h1v1h-1zM89 152h1v1h-1zM499 563h1v1h-1zM379 369h1v1h-1zM287 526h1v1h-1zM194 474h1v1h-1zM322 86h1v1h-1zM310 526h1v1h-1zM468 466h1v1h-1zM381 249h1v1h-1zM516 141h1v1h-1zM590 96h1v1h-1zM468 433h1v1h-1zM564 117h1v1h-1zM577 610h1v1h-1zM117 584h1v1h-1zM428 523h1v1h-1zM477 179h1v1h-1zM209 443h1v1h-1zM298 201h1v1h-1zM214 584h1v1h-1zM330 363h1v1h-1zM243 390h1v1h-1zM194 406h1v1h-1zM89 144h1v1h-1zM98 467h1v1h-1zM425 170h1v1h-1zM387 326h1v1h-1zM172 571h1v1h-1zM392 272h1v1h-1zM240 603h1v1h-1zM157 337h1v1h-1zM240 573h1v1h-1zM203 424h1v1h-1zM354 193h1v1h-1zM444 576h1v1h-1zM251 522h1v1h-1zM85 327h1v1h-1zM422 468h1v1h-1zM117 386h1v1h-1zM117 460h1v1h-1zM78 187h1v1h-1zM550 232h1v1h-1zM172 483h1v1h-1zM122 579h1v1h-1zM279 91h1v1h-1zM330 328h1v1h-1zM514 544h1v1h-1zM241 115h1v1h-1zM202 166h1v1h-1zM605 446h1v1h-1zM366 329h1v1h-1zM209 129h1v1h-1zM106 327h1v1h-1zM586 527h1v1h-1zM170 131h1v1h-1zM520 518h1v1h-1zM349 195h1v1h-1zM489 86h1v1h-1zM382 397h1v1h-1zM420 329h1v1h-1zM384 91h1v1h-1zM298 139h1v1h-1zM292 437h1v1h-1zM307 248h1v1h-1zM73 422h1v1h-1zM300 136h1v1h-1zM365 482h1v1h-1zM229 593h1v1h-1zM144 427h1v1h-1zM342 153h1v1h-1zM449 569h1v1h-1zM299 384h1v1h-1zM504 250h1v1h-1zM590 466h1v1h-1zM210 364h1v1h-1zM521 204h1v1h-1zM293 384h1v1h-1zM577 553h1v1h-1zM155 83h1v1h-1zM167 104h1v1h-1zM399 376h1v1h-1zM143 442h1v1h-1zM312 377h1v1h-1zM490 205h1v1h-1zM170 506h1v1h-1zM156 205h1v1h-1zM210 348h1v1h-1zM293 455h1v1h-1zM330 211h1v1h-1zM295 79h1v1h-1zM186 512h1v1h-1zM191 155h1v1h-1zM541 451h1v1h-1zM152 200h1v1h-1zM180 142h1v1h-1zM533 427h1v1h-1zM225 253h1v1h-1zM134 536h1v1h-1zM283 381h1v1h-1zM260 546h1v1h-1zM278 299h1v1h-1zM108 311h1v1h-1zM590 439h1v1h-1zM324 107h1v1h-1zM505 549h1v1h-1zM395 591h1v1h-1zM427 210h1v1h-1zM508 486h1v1h-1zM127 277h1v1h-1zM407 199h1v1h-1zM347 470h1v1h-1zM513 192h1v1h-1zM478 330h1v1h-1zM477 436h1v1h-1zM244 443h1v1h-1zM423 354h1v1h-1zM463 218h1v1h-1zM208 350h1v1h-1zM557 610h1v1h-1zM470 448h1v1h-1zM205 353h1v1h-1zM112 227h1v1h-1zM468 487h1v1h-1zM222 327h1v1h-1zM550 323h1v1h-1zM147 94h1v1h-1zM279 70h1v1h-1zM504 164h1v1h-1zM412 92h1v1h-1zM125 544h1v1h-1zM172 608h1v1h-1zM98 548h1v1h-1zM191 263h1v1h-1zM609 156h1v1h-1zM435 176h1v1h-1zM113 586h1v1h-1zM564 421h1v1h-1zM304 358h1v1h-1zM430 491h1v1h-1zM366 128h1v1h-1zM99 161h1v1h-1zM158 128h1v1h-1zM139 119h1v1h-1zM399 534h1v1h-1zM150 358h1v1h-1zM307 470h1v1h-1zM97 291h1v1h-1zM230 482h1v1h-1zM324 237h1v1h-1zM307 176h1v1h-1zM195 577h1v1h-1zM204 483h1v1h-1zM327 96h1v1h-1zM422 193h1v1h-1zM534 357h1v1h-1zM444 556h1v1h-1zM504 452h1v1h-1zM165 470h1v1h-1zM88 272h1v1h-1zM572 308h1v1h-1zM400 201h1v1h-1zM311 439h1v1h-1zM391 581h1v1h-1zM579 317h1v1h-1zM410 303h1v1h-1zM266 535h1v1h-1zM386 252h1v1h-1zM253 233h1v1h-1zM177 510h1v1h-1zM430 284h1v1h-1zM507 570h1v1h-1zM332 225h1v1h-1zM166 502h1v1h-1zM560 172h1v1h-1zM125 170h1v1h-1zM541 122h1v1h-1zM327 208h1v1h-1zM147 530h1v1h-1zM387 581h1v1h-1zM572 311h1v1h-1zM182 511h1v1h-1zM75 390h1v1h-1zM212 449h1v1h-1zM145 585h1v1h-1zM117 410h1v1h-1zM332 304h1v1h-1zM507 400h1v1h-1zM490 137h1v1h-1zM596 391h1v1h-1zM347 338h1v1h-1zM300 196h1v1h-1zM458 187h1v1h-1zM573 400h1v1h-1zM570 318h1v1h-1zM223 609h1v1h-1zM206 550h1v1h-1zM85 381h1v1h-1zM151 552h1v1h-1zM474 188h1v1h-1zM327 391h1v1h-1zM395 560h1v1h-1zM305 403h1v1h-1zM151 527h1v1h-1zM317 534h1v1h-1zM212 263h1v1h-1zM117 192h1v1h-1zM429 269h1v1h-1zM252 506h1v1h-1zM313 564h1v1h-1zM82 366h1v1h-1zM310 469h1v1h-1zM153 95h1v1h-1zM177 393h1v1h-1zM71 101h1v1h-1zM185 222h1v1h-1zM466 170h1v1h-1zM270 288h1v1h-1zM369 364h1v1h-1zM87 168h1v1h-1zM432 428h1v1h-1zM87 329h1v1h-1zM531 555h1v1h-1zM549 329h1v1h-1zM403 246h1v1h-1zM284 535h1v1h-1zM492 374h1v1h-1zM306 188h1v1h-1zM106 478h1v1h-1zM86 424h1v1h-1zM378 74h1v1h-1zM247 342h1v1h-1zM593 580h1v1h-1zM325 567h1v1h-1zM550 516h1v1h-1zM202 193h1v1h-1zM87 136h1v1h-1zM199 147h1v1h-1zM549 90h1v1h-1zM424 399h1v1h-1zM319 552h1v1h-1zM79 199h1v1h-1zM318 125h1v1h-1zM576 199h1v1h-1zM247 149h1v1h-1zM345 107h1v1h-1zM89 124h1v1h-1zM429 474h1v1h-1zM207 313h1v1h-1zM135 252h1v1h-1zM75 383h1v1h-1zM210 438h1v1h-1zM358 150h1v1h-1zM173 443h1v1h-1zM178 523h1v1h-1zM99 218h1v1h-1zM535 298h1v1h-1zM204 395h1v1h-1zM302 534h1v1h-1zM167 178h1v1h-1zM470 171h1v1h-1zM371 423h1v1h-1zM358 424h1v1h-1zM139 535h1v1h-1zM112 515h1v1h-1zM463 145h1v1h-1zM437 425h1v1h-1zM254 557h1v1h-1zM411 188h1v1h-1zM536 184h1v1h-1zM527 524h1v1h-1zM473 386h1v1h-1zM375 503h1v1h-1zM561 352h1v1h-1zM481 154h1v1h-1zM191 492h1v1h-1zM128 606h1v1h-1zM417 227h1v1h-1zM131 234h1v1h-1zM581 119h1v1h-1zM416 430h1v1h-1zM85 178h1v1h-1zM508 468h1v1h-1zM518 87h1v1h-1zM380 273h1v1h-1zM549 137h1v1h-1zM248 420h1v1h-1zM165 580h1v1h-1zM221 441h1v1h-1zM255 532h1v1h-1zM534 592h1v1h-1zM251 297h1v1h-1zM567 371h1v1h-1zM193 454h1v1h-1zM608 420h1v1h-1zM146 414h1v1h-1zM75 464h1v1h-1zM90 456h1v1h-1zM365 220h1v1h-1zM373 352h1v1h-1zM261 407h1v1h-1zM124 460h1v1h-1zM440 570h1v1h-1zM336 567h1v1h-1zM160 182h1v1h-1zM358 166h1v1h-1zM81 155h1v1h-1zM213 153h1v1h-1zM385 440h1v1h-1zM444 216h1v1h-1zM239 101h1v1h-1zM216 179h1v1h-1zM240 392h1v1h-1zM221 504h1v1h-1zM78 448h1v1h-1zM566 145h1v1h-1zM445 513h1v1h-1zM218 489h1v1h-1zM221 148h1v1h-1zM449 166h1v1h-1zM77 442h1v1h-1zM419 523h1v1h-1zM453 440h1v1h-1zM210 331h1v1h-1zM250 298h1v1h-1zM290 227h1v1h-1zM120 359h1v1h-1zM192 258h1v1h-1zM528 463h1v1h-1zM291 286h1v1h-1zM294 316h1v1h-1zM136 510h1v1h-1zM259 208h1v1h-1zM205 162h1v1h-1zM149 274h1v1h-1zM350 520h1v1h-1zM276 375h1v1h-1zM160 87h1v1h-1zM390 509h1v1h-1zM270 416h1v1h-1zM354 499h1v1h-1zM245 263h1v1h-1zM406 101h1v1h-1zM178 504h1v1h-1zM289 365h1v1h-1zM285 385h1v1h-1zM406 463h1v1h-1zM114 579h1v1h-1zM210 295h1v1h-1zM154 73h1v1h-1zM205 541h1v1h-1zM191 102h1v1h-1zM557 119h1v1h-1zM213 223h1v1h-1zM411 589h1v1h-1zM117 159h1v1h-1zM349 330h1v1h-1zM489 101h1v1h-1zM438 225h1v1h-1zM237 297h1v1h-1zM85 245h1v1h-1zM81 427h1v1h-1zM278 418h1v1h-1zM396 426h1v1h-1zM354 574h1v1h-1zM455 448h1v1h-1zM372 93h1v1h-1zM335 328h1v1h-1zM131 80h1v1h-1zM274 140h1v1h-1zM97 492h1v1h-1zM149 251h1v1h-1zM203 443h1v1h-1zM217 311h1v1h-1zM119 217h1v1h-1zM312 209h1v1h-1zM580 261h1v1h-1zM574 570h1v1h-1zM548 437h1v1h-1zM234 211h1v1h-1zM129 82h1v1h-1zM443 570h1v1h-1zM269 500h1v1h-1zM351 223h1v1h-1zM134 128h1v1h-1zM259 376h1v1h-1zM562 169h1v1h-1zM214 268h1v1h-1zM146 159h1v1h-1zM441 117h1v1h-1zM413 527h1v1h-1zM244 227h1v1h-1zM100 166h1v1h-1zM217 275h1v1h-1zM305 606h1v1h-1zM225 546h1v1h-1zM421 193h1v1h-1zM485 321h1v1h-1zM226 267h1v1h-1zM202 387h1v1h-1zM590 276h1v1h-1zM416 537h1v1h-1zM169 309h1v1h-1zM503 325h1v1h-1zM172 422h1v1h-1zM275 120h1v1h-1zM131 251h1v1h-1zM538 138h1v1h-1zM543 322h1v1h-1zM530 118h1v1h-1zM392 132h1v1h-1zM124 460h1v1h-1zM143 311h1v1h-1zM329 161h1v1h-1zM157 125h1v1h-1zM233 177h1v1h-1zM233 261h1v1h-1zM447 300h1v1h-1zM484 192h1v1h-1zM522 94h1v1h-1zM143 207h1v1h-1zM417 571h1v1h-1zM105 358h1v1h-1zM146 419h1v1h-1zM302 312h1v1h-1zM134 478h1v1h-1zM174 575h1v1h-1zM268 462h1v1h-1zM470 525h1v1h-1zM390 253h1v1h-1zM181 594h1v1h-1zM245 180h1v1h-1zM582 310h1v1h-1zM403 312h1v1h-1zM158 376h1v1h-1zM592 450h1v1h-1zM223 330h1v1h-1zM249 395h1v1h-1zM264 137h1v1h-1zM454 282h1v1h-1zM610 82h1v1h-1zM250 495h1v1h-1zM346 201h1v1h-1zM411 400h1v1h-1zM178 592h1v1h-1zM568 285h1v1h-1zM81 497h1v1h-1zM199 265h1v1h-1zM418 126h1v1h-1zM606 564h1v1h-1zM349 366h1v1h-1zM317 276h1v1h-1zM245 228h1v1h-1zM72 348h1v1h-1zM225 517h1v1h-1zM310 314h1v1h-1zM400 570h1v1h-1zM195 129h1v1h-1zM606 294h1v1h-1zM452 192h1v1h-1zM484 272h1v1h-1zM277 593h1v1h-1zM157 456h1v1h-1zM114 422h1v1h-1zM189 132h1v1h-1zM320 316h1v1h-1zM187 505h1v1h-1zM443 570h1v1h-1zM255 168h1v1h-1zM518 96h1v1h-1zM586 587h1v1h-1zM542 405h1v1h-1zM430 547h1v1h-1zM127 358h1v1h-1zM329 367h1v1h-1zM560 434h1v1h-1zM170 333h1v1h-1zM450 596h1v1h-1zM230 357h1v1h-1zM457 255h1v1h-1zM150 303h1v1h-1zM162 155h1v1h-1zM435 343h1v1h-1zM188 473h1v1h-1zM456 579h1v1h-1zM151 558h1v1h-1zM590 245h1v1h-1zM77 443h1v1h-1zM232 464h1v1h-1zM465 289h1v1h-1zM168 356h1v1h-1zM375 354h1v1h-1zM474 162h1v1h-1zM438 139h1v1h-1zM108 133h1v1h-1zM88 447h1v1h-1zM193 230h1v1h-1zM260 409h1v1h-1zM351 223h1v1h-1zM288 280h1v1h-1zM211 360h1v1h-1zM165 593h1v1h-1zM246 452h1v1h-1zM177 236h1v1h-1zM124 582h1v1h-1zM181 598h1v1h-1zM217 177h1v1h-1zM177 217h1v1h-1zM109 443h1v1h-1zM444 237h1v1h-1zM248 164h1v1h-1zM410 565h1v1h-1zM180 199h1v1h-1zM180 403h1v1h-1zM365 224h1v1h-1zM418 542h1v1h-1zM256 461h1v1h-1zM449 228h1v1h-1zM296 475h1v1h-1zM278 291h1v1h-1zM242 176h1v1h-1zM216 334h1v1h-1zM331 207h1v1h-1zM320 544h1v1h-1zM368 571h1v1h-1zM357 203h1v1h-1zM108 103h1v1h-1zM575 298h1v1h-1zM461 188h1v1h-1zM76 192h1v1h-1zM322 540h1v1h-1zM153 472h1v1h-1zM493 580h1v1h-1zM239 419h1v1h-1zM469 225h1v1h-1zM514 449h1v1h-1zM409 185h1v1h-1zM443 233h1v1h-1zM391 312h1v1h-1zM119 533h1v1h-1zM76 227h1v1h-1zM359 278h1v1h-1zM479 515h1v1h-1zM539 244h1v1h-1zM160 368h1v1h-1zM517 523h1v1h-1zM360 327h1v1h-1zM80 168h1v1h-1zM337 144h1v1h-1zM404 278h1v1h-1zM239 317h1v1h-1zM96 315h1v1h-1zM163 394h1v1h-1zM150 178h1v1h-1zM195 468h1v1h-1zM430 558h1v1h-1zM456 328h1v1h-1zM261 567h1v1h-1zM140 390h1v1h-1zM435 324h1v1h-1zM116 276h1v1h-1zM345 479h1v1h-1zM184 351h1v1h-1zM238 594h1v1h-1zM338 422h1v1h-1zM382 260h1v1h-1zM267 397h1v1h-1zM172 376h1v1h-1zM449 244h1v1h-1zM429 465h1v1h-1zM584 135h1v1h-1zM255 344h1v1h-1zM488 451h1v1h-1zM304 597h1v1h-1zM173 253h1v1h-1zM233 339h1v1h-1zM218 422h1v1h-1zM490 360h1v1h-1zM229 586h1v1h-1zM587 273h1v1h-1zM90 601h1v1h-1zM241 557h1v1h-1zM404 510h1v1h-1zM299 212h1v1h-1zM481 123h1v1h-1zM598 319h1v1h-1zM158 397h1v1h-1zM137 494h1v1h-1zM155 79h1v1h-1zM77 320h1v1h-1zM287 410h1v1h-1zM360 421h1v1h-1zM482 294h1v1h-1zM595 499h1v1h-1zM120 170h1v1h-1zM446 464h1v1h-1zM237 463h1v1h-1zM343 321h1v1h-1zM193 307h1v1h-1zM180 112h1v1h-1zM289 488h1v1h-1zM330 269h1v1h-1zM557 184h1v1h-1zM297 111h1v1h-1zM505 607h1v1h-1zM102 365h1v1h-1zM146 180h1v1h-1zM300 96h1v1h-1zM77 73h1v1h-1zM228 92h1v1h-1zM107 134h1v1h-1zM160 255h1v1h-1zM159 345h1v1h-1zM286 514h1v1h-1zM213 478h1v1h-1zM134 430h1v1h-1zM210 218h1v1h-1zM297 261h1v1h-1zM176 263h1v1h-1zM328 202h1v1h-1zM202 603h1v1h-1zM167 434h1v1h-1zM101 414h1v1h-1zM393 303h1v1h-1zM72 197h1v1h-1zM120 333h1v1h-1zM115 476h1v1h-1zM428 445h1v1h-1zM492 99h1v1h-1zM242 267h1v1h-1zM73 588h1v1h-1zM207 515h1v1h-1zM325 230h1v1h-1zM296 241h1v1h-1zM154 72h1v1h-1zM298 118h1v1h-1zM307 355h1v1h-1zM303 140h1v1h-1zM412 105h1v1h-1zM212 573h1v1h-1zM152 599h1v1h-1zM92 388h1v1h-1zM259 298h1v1h-1zM535 174h1v1h-1zM129 592h1v1h-1zM488 442h1v1h-1zM162 368h1v1h-1zM334 315h1v1h-1zM394 337h1v1h-1zM109 149h1v1h-1zM143 340h1v1h-1zM357 451h1v1h-1zM400 402h1v1h-1zM313 202h1v1h-1zM174 291h1v1h-1zM250 524h1v1h-1zM530 591h1v1h-1zM407 75h1v1h-1zM303 550h1v1h-1zM106 180h1v1h-1zM358 69h1v1h-1zM166 364h1v1h-1zM518 533h1v1h-1zM173 539h1v1h-1zM101 437h1v1h-1zM426 522h1v1h-1zM125 498h1v1h-1zM329 361h1v1h-1zM82 432h1v1h-1zM432 503h1v1h-1zM462 188h1v1h-1zM426 353h1v1h-1zM511 254h1v1h-1zM302 576h1v1h-1zM497 124h1v1h-1zM338 201h1v1h-1zM177 467h1v1h-1zM571 224h1v1h-1zM155 232h1v1h-1zM232 478h1v1h-1zM482 580h1v1h-1zM132 473h1v1h-1zM133 602h1v1h-1zM162 438h1v1h-1zM130 523h1v1h-1zM303 294h1v1h-1zM520 292h1v1h-1zM248 235h1v1h-1zM107 462h1v1h-1zM204 412h1v1h-1zM514 406h1v1h-1zM247 491h1v1h-1zM165 224h1v1h-1zM329 370h1v1h-1zM358 411h1v1h-1zM250 260h1v1h-1zM348 431h1v1h-1zM226 241h1v1h-1zM422 349h1v1h-1zM488 320h1v1h-1zM358 412h1v1h-1zM426 538h1v1h-1zM147 597h1v1h-1zM395 571h1v1h-1zM95 255h1v1h-1zM559 244h1v1h-1zM175 324h1v1h-1zM205 421h1v1h-1zM577 425h1v1h-1zM216 544h1v1h-1zM244 97h1v1h-1zM124 388h1v1h-1zM181 595h1v1h-1zM482 568h1v1h-1zM217 522h1v1h-1zM141 144h1v1h-1zM576 523h1v1h-1zM329 511h1v1h-1zM142 581h1v1h-1zM240 385h1v1h-1zM70 274h1v1h-1zM190 268h1v1h-1zM395 544h1v1h-1zM533 424h1v1h-1zM198 594h1v1h-1zM317 371h1v1h-1zM344 469h1v1h-1zM518 247h1v1h-1zM547 201h1v1h-1zM508 485h1v1h-1zM119 310h1v1h-1zM218 117h1v1h-1zM464 189h1v1h-1zM209 514h1v1h-1zM484 414h1v1h-1zM487 470h1v1h-1zM566 503h1v1h-1zM294 383h1v1h-1zM336 208h1v1h-1zM210 445h1v1h-1zM477 164h1v1h-1zM147 145h1v1h-1zM329 213h1v1h-1zM473 205h1v1h-1zM258 563h1v1h-1zM245 380h1v1h-1zM298 226h1v1h-1zM495 196h1v1h-1zM304 116h1v1h-1zM368 449h1v1h-1zM431 383h1v1h-1zM432 577h1v1h-1zM256 286h1v1h-1zM171 261h1v1h-1zM337 225h1v1h-1zM326 78h1v1h-1zM247 360h1v1h-1zM183 413h1v1h-1zM134 133h1v1h-1zM258 490h1v1h-1zM220 553h1v1h-1zM102 571h1v1h-1zM130 522h1v1h-1zM103 417h1v1h-1zM495 165h1v1h-1zM456 301h1v1h-1zM340 566h1v1h-1zM529 606h1v1h-1zM147 533h1v1h-1zM506 286h1v1h-1zM443 454h1v1h-1zM317 515h1v1h-1zM512 161h1v1h-1zM495 330h1v1h-1zM324 122h1v1h-1zM436 442h1v1h-1zM202 138h1v1h-1zM375 280h1v1h-1zM386 201h1v1h-1zM113 125h1v1h-1zM219 83h1v1h-1zM296 531h1v1h-1zM189 459h1v1h-1zM74 493h1v1h-1zM263 169h1v1h-1zM352 444h1v1h-1zM298 523h1v1h-1zM292 120h1v1h-1zM216 467h1v1h-1zM243 412h1v1h-1zM417 155h1v1h-1zM122 364h1v1h-1zM79 589h1v1h-1zM212 186h1v1h-1zM305 497h1v1h-1zM468 201h1v1h-1zM193 141h1v1h-1zM343 146h1v1h-1zM255 262h1v1h-1zM299 401h1v1h-1zM252 487h1v1h-1zM159 468h1v1h-1zM333 534h1v1h-1zM523 555h1v1h-1zM540 145h1v1h-1zM299 270h1v1h-1zM200 217h1v1h-1zM187 239h1v1h-1zM265 389h1v1h-1zM580 526h1v1h-1zM342 352h1v1h-1zM559 180h1v1h-1zM93 465h1v1h-1zM93 145h1v1h-1zM438 490h1v1h-1zM503 218h1v1h-1zM331 504h1v1h-1zM284 122h1v1h-1zM79 431h1v1h-1zM606 573h1v1h-1zM115 558h1v1h-1zM199 495h1v1h-1zM287 411h1v1h-1zM504 235h1v1h-1zM231 605h1v1h-1zM345 328h1v1h-1zM124 80h1v1h-1zM538 235h1v1h-1zM370 353h1v1h-1zM437 609h1v1h-1zM134 164h1v1h-1zM382 495h1v1h-1zM334 279h1v1h-1zM180 355h1v1h-1zM382 304h1v1h-1zM196 251h1v1h-1zM148 427h1v1h-1zM204 246h1v1h-1zM289 605h1v1h-1zM366 256h1v1h-1zM432 325h1v1h-1zM397 303h1v1h-1zM210 315h1v1h-1zM398 270h1v1h-1zM345 190h1v1h-1zM114 201h1v1h-1zM329 304h1v1h-1zM142 314h1v1h-1zM83 239h1v1h-1zM302 79h1v1h-1zM400 381h1v1h-1zM522 385h1v1h-1zM571 198h1v1h-1zM354 277h1v1h-1zM460 287h1v1h-1zM119 95h1v1h-1zM193 392h1v1h-1zM360 265h1v1h-1zM361 427h1v1h-1zM315 284h1v1h-1zM124 118h1v1h-1zM516 486h1v1h-1zM267 317h1v1h-1zM208 500h1v1h-1zM420 257h1v1h-1zM73 472h1v1h-1zM78 546h1v1h-1zM408 486h1v1h-1zM379 242h1v1h-1zM337 328h1v1h-1zM552 298h1v1h-1zM309 482h1v1h-1zM376 563h1v1h-1zM217 350h1v1h-1zM195 339h1v1h-1zM445 411h1v1h-1zM124 466h1v1h-1zM231 402h1v1h-1zM327 364h1v1h-1zM161 294h1v1h-1zM204 101h1v1h-1zM494 347h1v1h-1zM154 352h1v1h-1zM212 216h1v1h-1zM600 186h1v1h-1zM512 222h1v1h-1zM76 524h1v1h-1zM431 560h1v1h-1zM294 137h1v1h-1zM260 373h1v1h-1zM75 228h1v1h-1zM439 397h1v1h-1zM242 330h1v1h-1zM75 565h1v1h-1zM194 541h1v1h-1zM463 503h1v1h-1zM335 158h1v1h-1zM238 389h1v1h-1zM227 92h1v1h-1zM393 283h1v1h-1zM110 483h1v1h-1zM532 483h1v1h-1zM340 187h1v1h-1zM425 572h1v1h-1zM581 133h1v1h-1zM463 596h1v1h-1zM267 473h1v1h-1zM454 602h1v1h-1zM235 203h1v1h-1zM490 265h1v1h-1zM146 312h1v1h-1zM254 299h1v1h-1zM510 301h1v1h-1zM321 292h1v1h-1zM550 517h1v1h-1zM249 469h1v1h-1zM314 327h1v1h-1zM147 428h1v1h-1zM453 552h1v1h-1zM413 434h1v1h-1zM498 345h1v1h-1zM255 344h1v1h-1zM459 383h1v1h-1zM332 574h1v1h-1zM244 399h1v1h-1zM189 173h1v1h-1zM240 428h1v1h-1zM516 220h1v1h-1zM83 226h1v1h-1zM210 126h1v1h-1zM537 400h1v1h-1zM176 122h1v1h-1zM197 352h1v1h-1zM521 131h1v1h-1zM555 183h1v1h-1zM366 205h1v1h-1zM398 339h1v1h-1zM189 288h1v1h-1zM429 196h1v1h-1zM256 437h1v1h-1zM553 162h1v1h-1zM182 584h1v1h-1zM573 282h1v1h-1zM159 449h1v1h-1zM294 387h1v1h-1zM321 406h1v1h-1zM469 227h1v1h-1zM393 335h1v1h-1zM442 96h1v1h-1zM339 146h1v1h-1zM249 329h1v1h-1zM317 491h1v1h-1zM281 475h1v1h-1zM201 561h1v1h-1zM138 237h1v1h-1zM417 197h1v1h-1zM75 73h1v1h-1zM522 439h1v1h-1zM322 428h1v1h-1zM100 607h1v1h-1zM303 531h1v1h-1zM499 235h1v1h-1zM377 385h1v1h-1zM348 296h1v1h-1zM97 530h1v1h-1zM501 299h1v1h-1zM82 515h1v1h-1zM191 252h1v1h-1zM204 228h1v1h-1zM166 175h1v1h-1zM579 222h1v1h-1zM70 106h1v1h-1zM546 304h1v1h-1zM521 538h1v1h-1zM254 510h1v1h-1zM82 512h1v1h-1zM102 150h1v1h-1zM426 482h1v1h-1zM297 225h1v1h-1zM332 517h1v1h-1zM284 151h1v1h-1zM245 173h1v1h-1zM131 276h1v1h-1zM223 322h1v1h-1zM185 549h1v1h-1zM403 362h1v1h-1zM257 176h1v1h-1zM599 565h1v1h-1zM110 389h1v1h-1zM196 192h1v1h-1zM272 525h1v1h-1zM548 292h1v1h-1zM162 519h1v1h-1zM345 546h1v1h-1zM77 320h1v1h-1zM386 457h1v1h-1zM512 397h1v1h-1zM247 214h1v1h-1zM508 450h1v1h-1zM448 583h1v1h-1zM211 135h1v1h-1zM116 569h1v1h-1zM252 257h1v1h-1zM205 609h1v1h-1zM389 90h1v1h-1zM242 243h1v1h-1zM368 413h1v1h-1zM434 541h1v1h-1zM75 186h1v1h-1zM201 488h1v1h-1zM445 209h1v1h-1zM417 291h1v1h-1zM525 411h1v1h-1zM160 506h1v1h-1zM245 224h1v1h-1zM157 228h1v1h-1zM454 570h1v1h-1zM218 355h1v1h-1zM560 71h1v1h-1zM109 95h1v1h-1zM359 279h1v1h-1zM588 603h1v1h-1zM586 502h1v1h-1zM604 359h1v1h-1zM439 545h1v1h-1zM349 278h1v1h-1zM165 475h1v1h-1zM160 130h1v1h-1zM590 191h1v1h-1zM238 366h1v1h-1zM157 391h1v1h-1zM481 143h1v1h-1zM168 277h1v1h-1zM119 527h1v1h-1zM441 178h1v1h-1zM293 537h1v1h-1zM180 240h1v1h-1zM90 561h1v1h-1zM278 523h1v1h-1zM340 330h1v1h-1zM118 223h1v1h-1zM72 404h1v1h-1zM214 392h1v1h-1zM248 407h1v1h-1zM126 173h1v1h-1zM150 474h1v1h-1zM388 86h1v1h-1zM251 432h1v1h-1zM590 127h1v1h-1zM412 146h1v1h-1zM343 545h1v1h-1zM414 316h1v1h-1zM99 234h1v1h-1zM348 378h1v1h-1zM296 592h1v1h-1zM88 283h1v1h-1zM566 442h1v1h-1zM395 150h1v1h-1zM226 408h1v1h-1zM353 459h1v1h-1zM554 131h1v1h-1zM492 568h1v1h-1zM215 554h1v1h-1zM306 370h1v1h-1zM86 167h1v1h-1zM159 215h1v1h-1zM504 214h1v1h-1zM207 560h1v1h-1zM579 376h1v1h-1zM166 316h1v1h-1zM99 473h1v1h-1zM252 178h1v1h-1zM71 237h1v1h-1zM547 314h1v1h-1zM496 603h1v1h-1zM119 518h1v1h-1zM396 161h1v1h-1zM164 461h1v1h-1zM187 600h1v1h-1zM171 208h1v1h-1zM204 572h1v1h-1zM333 90h1v1h-1zM207 457h1v1h-1zM521 556h1v1h-1zM391 526h1v1h-1zM273 573h1v1h-1zM145 579h1v1h-1zM127 530h1v1h-1zM493 420h1v1h-1zM605 191h1v1h-1zM209 589h1v1h-1zM448 395h1v1h-1zM445 215h1v1h-1zM229 427h1v1h-1zM307 357h1v1h-1zM431 449h1v1h-1zM358 480h1v1h-1zM89 450h1v1h-1zM91 480h1v1h-1zM83 364h1v1h-1zM533 396h1v1h-1zM275 78h1v1h-1zM103 442h1v1h-1zM607 133h1v1h-1zM428 481h1v1h-1zM457 240h1v1h-1zM563 142h1v1h-1zM286 98h1v1h-1zM203 236h1v1h-1zM590 191h1v1h-1zM302 435h1v1h-1zM424 568h1v1h-1zM256 308h1v1h-1zM103 334h1v1h-1zM133 179h1v1h-1zM142 251h1v1h-1zM315 282h1v1h-1zM105 394h1v1h-1zM260 526h1v1h-1zM449 312h1v1h-1zM413 557h1v1h-1zM179 252h1v1h-1zM198 103h1v1h-1zM197 463h1v1h-1zM171 463h1v1h-1zM252 506h1v1h-1zM427 168h1v1h-1zM280 99h1v1h-1zM71 200h1v1h-1zM98 184h1v1h-1zM441 354h1v1h-1zM226 591h1v1h-1zM450 353h1v1h-1zM556 406h1v1h-1zM297 157h1v1h-1zM240 493h1v1h-1zM284 260h1v1h-1zM516 401h1v1h-1zM71 316h1v1h-1zM214 162h1v1h-1zM354 483h1v1h-1zM443 215h1v1h-1zM246 355h1v1h-1zM277 396h1v1h-1zM107 88h1v1h-1zM337 134h1v1h-1zM346 537h1v1h-1zM245 516h1v1h-1zM102 383h1v1h-1zM439 561h1v1h-1zM403 399h1v1h-1zM219 575h1v1h-1zM332 506h1v1h-1zM465 525h1v1h-1zM132 489h1v1h-1zM93 549h1v1h-1zM138 607h1v1h-1zM167 553h1v1h-1zM470 251h1v1h-1zM312 287h1v1h-1zM93 456h1v1h-1zM609 279h1v1h-1zM422 277h1v1h-1zM595 475h1v1h-1zM183 590h1v1h-1zM257 204h1v1h-1zM301 574h1v1h-1zM488 388h1v1h-1zM573 71h1v1h-1zM410 378h1v1h-1zM233 538h1v1h-1zM589 357h1v1h-1zM402 86h1v1h-1zM168 76h1v1h-1zM400 89h1v1h-1zM165 428h1v1h-1zM453 492h1v1h-1zM168 242h1v1h-1zM589 398h1v1h-1zM397 119h1v1h-1zM387 530h1v1h-1zM275 399h1v1h-1zM247 456h1v1h-1zM160 318h1v1h-1zM215 238h1v1h-1zM369 352h1v1h-1zM76 461h1v1h-1zM378 130h1v1h-1zM505 497h1v1h-1zM391 380h1v1h-1zM174 422h1v1h-1zM286 352h1v1h-1zM186 87h1v1h-1zM272 515h1v1h-1zM317 474h1v1h-1zM149 505h1v1h-1zM562 576h1v1h-1zM279 574h1v1h-1zM504 106h1v1h-1zM472 376h1v1h-1zM293 368h1v1h-1zM478 205h1v1h-1zM496 318h1v1h-1zM523 167h1v1h-1zM104 365h1v1h-1zM374 563h1v1h-1zM313 501h1v1h-1zM308 437h1v1h-1zM97 554h1v1h-1zM124 448h1v1h-1zM415 358h1v1h-1zM116 604h1v1h-1zM101 188h1v1h-1zM465 476h1v1h-1zM600 536h1v1h-1zM273 299h1v1h-1zM344 333h1v1h-1zM349 212h1v1h-1zM306 447h1v1h-1zM476 310h1v1h-1zM359 474h1v1h-1zM377 339h1v1h-1zM495 463h1v1h-1zM278 441h1v1h-1zM430 228h1v1h-1zM271 383h1v1h-1zM280 571h1v1h-1zM301 195h1v1h-1zM576 466h1v1h-1zM212 402h1v1h-1zM518 325h1v1h-1zM404 583h1v1h-1zM434 480h1v1h-1zM267 436h1v1h-1zM291 270h1v1h-1zM536 179h1v1h-1zM188 571h1v1h-1zM192 173h1v1h-1zM608 133h1v1h-1zM112 168h1v1h-1zM377 311h1v1h-1zM415 282h1v1h-1zM523 538h1v1h-1zM253 417h1v1h-1zM504 305h1v1h-1zM321 589h1v1h-1zM389 310h1v1h-1zM534 463h1v1h-1zM98 551h1v1h-1zM77 292h1v1h-1zM300 399h1v1h-1zM251 512h1v1h-1zM180 582h1v1h-1zM165 550h1v1h-1zM79 552h1v1h-1zM341 83h1v1h-1zM228 549h1v1h-1zM542 495h1v1h-1zM508 496h1v1h-1zM553 464h1v1h-1zM498 418h1v1h-1zM86 150h1v1h-1zM81 400h1v1h-1zM292 545h1v1h-1zM412 187h1v1h-1zM607 91h1v1h-1zM355 593h1v1h-1zM554 193h1v1h-1zM316 511h1v1h-1zM407 468h1v1h-1zM114 120h1v1h-1zM470 589h1v1h-1zM344 253h1v1h-1zM213 428h1v1h-1zM254 478h1v1h-1zM439 594h1v1h-1zM209 509h1v1h-1zM417 563h1v1h-1zM450 193h1v1h-1zM239 375h1v1h-1zM540 519h1v1h-1zM466 167h1v1h-1zM403 139h1v1h-1zM385 494h1v1h-1zM597 497h1v1h-1zM568 186h1v1h-1zM215 296h1v1h-1zM225 189h1v1h-1zM133 292h1v1h-1zM400 261h1v1h-1zM198 112h1v1h-1zM585 131h1v1h-1zM247 335h1v1h-1zM88 403h1v1h-1zM564 452h1v1h-1zM322 319h1v1h-1zM248 297h1v1h-1zM412 375h1v1h-1zM222 291h1v1h-1zM313 410h1v1h-1zM180 412h1v1h-1zM110 404h1v1h-1zM451 572h1v1h-1zM113 460h1v1h-1zM499 484h1v1h-1zM323 358h1v1h-1zM492 226h1v1h-1zM156 121h1v1h-1zM138 515h1v1h-1zM209 415h1v1h-1zM78 573h1v1h-1zM257 152h1v1h-1zM609 530h1v1h-1zM156 492h1v1h-1zM411 348h1v1h-1zM556 502h1v1h-1zM239 486h1v1h-1zM568 253h1v1h-1zM322 453h1v1h-1zM200 505h1v1h-1zM558 138h1v1h-1zM230 339h1v1h-1zM498 432h1v1h-1zM95 355h1v1h-1zM228 600h1v1h-1zM526 200h1v1h-1zM125 93h1v1h-1zM488 292h1v1h-1zM479 516h1v1h-1zM369 71h1v1h-1zM278 520h1v1h-1zM483 438h1v1h-1zM197 81h1v1h-1zM428 459h1v1h-1zM413 153h1v1h-1zM279 496h1v1h-1zM222 183h1v1h-1zM360 557h1v1h-1zM293 429h1v1h-1zM389 91h1v1h-1zM149 78h1v1h-1zM495 195h1v1h-1zM192 504h1v1h-1zM260 467h1v1h-1zM86 138h1v1h-1zM136 558h1v1h-1zM459 135h1v1h-1zM86 448h1v1h-1zM555 596h1v1h-1zM425 546h1v1h-1zM333 438h1v1h-1zM234 235h1v1h-1zM126 372h1v1h-1zM392 537h1v1h-1zM424 499h1v1h-1zM429 533h1v1h-1zM90 265h1v1h-1zM382 173h1v1h-1zM112 315h1v1h-1zM418 480h1v1h-1zM163 469h1v1h-1zM279 532h1v1h-1zM276 236h1v1h-1zM581 565h1v1h-1zM316 122h1v1h-1zM486 264h1v1h-1zM404 209h1v1h-1zM527 286h1v1h-1zM522 240h1v1h-1zM554 442h1v1h-1zM471 538h1v1h-1zM340 433h1v1h-1zM394 120h1v1h-1zM201 220h1v1h-1zM115 237h1v1h-1zM355 140h1v1h-1zM201 491h1v1h-1zM594 154h1v1h-1zM415 464h1v1h-1zM461 560h1v1h-1zM337 111h1v1h-1zM231 424h1v1h-1zM274 239h1v1h-1zM552 364h1v1h-1zM533 249h1v1h-1zM155 219h1v1h-1zM362 109h1v1h-1zM373 567h1v1h-1zM401 552h1v1h-1zM544 327h1v1h-1zM184 333h1v1h-1zM326 406h1v1h-1zM268 172h1v1h-1zM554 545h1v1h-1zM130 461h1v1h-1zM279 157h1v1h-1zM290 264h1v1h-1zM227 81h1v1h-1zM501 125h1v1h-1zM363 166h1v1h-1zM285 148h1v1h-1zM335 508h1v1h-1zM145 72h1v1h-1zM163 509h1v1h-1zM286 109h1v1h-1zM429 239h1v1h-1zM431 160h1v1h-1zM385 485h1v1h-1zM488 610h1v1h-1zM348 244h1v1h-1zM128 508h1v1h-1zM211 263h1v1h-1zM524 372h1v1h-1zM195 281h1v1h-1zM108 518h1v1h-1zM406 321h1v1h-1zM437 432h1v1h-1zM154 491h1v1h-1zM487 440h1v1h-1zM195 516h1v1h-1zM514 430h1v1h-1zM164 215h1v1h-1zM322 471h1v1h-1zM353 268h1v1h-1zM506 274h1v1h-1zM280 486h1v1h-1zM290 386h1v1h-1zM568 458h1v1h-1zM580 438h1v1h-1zM539 212h1v1h-1zM216 450h1v1h-1zM341 401h1v1h-1zM163 458h1v1h-1zM299 421h1v1h-1zM195 228h1v1h-1zM73 479h1v1h-1zM117 392h1v1h-1zM101 295h1v1h-1zM540 238h1v1h-1zM79 148h1v1h-1zM142 118h1v1h-1zM428 393h1v1h-1zM293 225h1v1h-1zM479 307h1v1h-1zM419 483h1v1h-1zM328 130h1v1h-1zM446 368h1v1h-1zM384 375h1v1h-1zM113 232h1v1h-1zM260 160h1v1h-1zM503 208h1v1h-1zM219 140h1v1h-1zM224 447h1v1h-1zM477 318h1v1h-1zM278 260h1v1h-1zM271 211h1v1h-1zM162 518h1v1h-1zM349 225h1v1h-1zM129 330h1v1h-1zM71 382h1v1h-1zM347 563h1v1h-1zM119 435h1v1h-1zM141 548h1v1h-1zM278 169h1v1h-1zM355 145h1v1h-1zM116 599h1v1h-1zM111 388h1v1h-1zM572 221h1v1h-1zM358 452h1v1h-1zM409 226h1v1h-1zM265 194h1v1h-1zM610 132h1v1h-1zM477 454h1v1h-1zM484 453h1v1h-1zM188 573h1v1h-1zM319 76h1v1h-1zM406 581h1v1h-1zM112 309h1v1h-1zM340 108h1v1h-1zM320 345h1v1h-1zM227 558h1v1h-1zM77 118h1v1h-1zM363 194h1v1h-1zM311 151h1v1h-1zM345 311h1v1h-1zM538 317h1v1h-1zM175 411h1v1h-1zM597 584h1v1h-1zM410 98h1v1h-1zM550 416h1v1h-1zM218 254h1v1h-1zM529 274h1v1h-1zM191 472h1v1h-1zM410 208h1v1h-1zM314 360h1v1h-1zM305 133h1v1h-1zM126 561h1v1h-1zM195 324h1v1h-1zM144 603h1v1h-1zM349 592h1v1h-1zM365 192h1v1h-1zM125 206h1v1h-1zM500 158h1v1h-1zM166 303h1v1h-1zM324 399h1v1h-1zM128 444h1v1h-1zM105 377h1v1h-1zM103 580h1v1h-1zM402 348h1v1h-1zM145 297h1v1h-1zM272 469h1v1h-1zM100 578h1v1h-1zM342 171h1v1h-1zM466 231h1v1h-1zM160 483h1v1h-1zM570 459h1v1h-1zM402 381h1v1h-1zM195 408h1v1h-1zM430 436h1v1h-1zM86 123h1v1h-1zM409 496h1v1h-1zM483 536h1v1h-1zM539 76h1v1h-1zM382 537h1v1h-1zM470 498h1v1h-1zM300 276h1v1h-1zM219 427h1v1h-1zM456 270h1v1h-1zM505 575h1v1h-1zM178 609h1v1h-1zM266 408h1v1h-1zM316 356h1v1h-1zM483 518h1v1h-1zM129 552h1v1h-1zM221 245h1v1h-1zM200 314h1v1h-1zM216 95h1v1h-1zM122 195h1v1h-1zM322 440h1v1h-1zM119 434h1v1h-1zM356 508h1v1h-1zM540 456h1v1h-1zM436 299h1v1h-1zM576 262h1v1h-1zM573 76h1v1h-1zM137 484h1v1h-1zM69 351h1v1h-1zM97 108h1v1h-1zM292 239h1v1h-1zM181 517h1v1h-1zM159 436h1v1h-1zM76 315h1v1h-1zM501 502h1v1h-1zM364 589h1v1h-1zM601 316h1v1h-1zM480 192h1v1h-1zM538 180h1v1h-1zM230 378h1v1h-1zM447 131h1v1h-1zM568 90h1v1h-1zM223 510h1v1h-1zM475 482h1v1h-1zM246 276h1v1h-1zM239 569h1v1h-1zM317 144h1v1h-1zM120 369h1v1h-1zM198 210h1v1h-1zM256 328h1v1h-1zM443 533h1v1h-1zM158 544h1v1h-1zM339 353h1v1h-1zM171 108h1v1h-1zM76 254h1v1h-1zM123 226h1v1h-1zM422 323h1v1h-1zM528 388h1v1h-1zM133 317h1v1h-1zM318 362h1v1h-1zM523 183h1v1h-1zM375 360h1v1h-1zM430 91h1v1h-1zM129 551h1v1h-1zM478 485h1v1h-1zM247 209h1v1h-1zM170 482h1v1h-1zM591 351h1v1h-1zM247 133h1v1h-1zM206 115h1v1h-1zM88 603h1v1h-1zM571 133h1v1h-1zM75 602h1v1h-1zM188 558h1v1h-1zM393 444h1v1h-1zM363 303h1v1h-1zM287 419h1v1h-1zM84 338h1v1h-1zM226 403h1v1h-1zM469 265h1v1h-1zM126 472h1v1h-1zM93 406h1v1h-1zM583 369h1v1h-1zM157 132h1v1h-1zM362 133h1v1h-1zM241 133h1v1h-1zM356 374h1v1h-1zM121 441h1v1h-1zM281 556h1v1h-1zM423 135h1v1h-1zM242 98h1v1h-1zM95 314h1v1h-1zM81 101h1v1h-1zM124 422h1v1h-1zM228 381h1v1h-1zM366 229h1v1h-1zM259 315h1v1h-1zM536 203h1v1h-1zM460 168h1v1h-1zM442 241h1v1h-1zM432 355h1v1h-1zM216 353h1v1h-1zM362 157h1v1h-1zM194 535h1v1h-1zM171 328h1v1h-1zM285 603h1v1h-1zM435 421h1v1h-1zM100 258h1v1h-1zM402 496h1v1h-1zM602 75h1v1h-1zM197 201h1v1h-1zM454 127h1v1h-1zM174 598h1v1h-1zM505 291h1v1h-1zM121 104h1v1h-1zM83 83h1v1h-1zM104 424h1v1h-1zM500 444h1v1h-1zM124 227h1v1h-1zM403 528h1v1h-1zM410 572h1v1h-1zM170 105h1v1h-1zM172 359h1v1h-1zM215 263h1v1h-1zM79 509h1v1h-1zM177 123h1v1h-1zM533 455h1v1h-1zM164 450h1v1h-1zM488 408h1v1h-1zM571 162h1v1h-1zM92 502h1v1h-1zM290 413h1v1h-1zM296 533h1v1h-1zM244 606h1v1h-1zM465 289h1v1h-1zM592 458h1v1h-1zM159 562h1v1h-1zM471 344h1v1h-1zM426 205h1v1h-1zM405 397h1v1h-1zM132 397h1v1h-1zM424 265h1v1h-1zM338 514h1v1h-1zM190 341h1v1h-1zM239 152h1v1h-1zM358 184h1v1h-1zM324 255h1v1h-1zM512 571h1v1h-1zM267 472h1v1h-1zM273 197h1v1h-1zM549 146h1v1h-1zM529 360h1v1h-1zM302 267h1v1h-1zM573 272h1v1h-1zM106 171h1v1h-1zM514 317h1v1h-1zM282 418h1v1h-1zM162 273h1v1h-1zM124 579h1v1h-1zM395 493h1v1h-1zM86 483h1v1h-1zM106 484h1v1h-1zM382 162h1v1h-1zM368 540h1v1h-1zM501 567h1v1h-1zM267 495h1v1h-1zM190 119h1v1h-1zM300 492h1v1h-1zM422 553h1v1h-1zM307 553h1v1h-1zM371 123h1v1h-1zM144 257h1v1h-1zM291 384h1v1h-1zM471 408h1v1h-1zM441 362h1v1h-1zM610 249h1v1h-1zM474 382h1v1h-1zM330 177h1v1h-1zM132 215h1v1h-1zM536 503h1v1h-1zM360 594h1v1h-1zM153 534h1v1h-1zM77 319h1v1h-1zM394 476h1v1h-1zM453 168h1v1h-1zM210 299h1v1h-1zM258 135h1v1h-1zM518 586h1v1h-1zM101 456h1v1h-1zM89 259h1v1h-1zM444 138h1v1h-1zM229 113h1v1h-1zM562 506h1v1h-1zM269 85h1v1h-1zM537 204h1v1h-1zM153 345h1v1h-1zM422 227h1v1h-1zM108 267h1v1h-1zM528 470h1v1h-1zM216 203h1v1h-1zM405 346h1v1h-1zM104 379h1v1h-1zM278 183h1v1h-1zM291 251h1v1h-1zM450 478h1v1h-1zM118 517h1v1h-1zM479 585h1v1h-1zM257 464h1v1h-1zM202 402h1v1h-1zM75 372h1v1h-1zM120 345h1v1h-1zM75 575h1v1h-1zM147 297h1v1h-1zM415 362h1v1h-1zM159 190h1v1h-1zM256 237h1v1h-1zM457 447h1v1h-1zM360 270h1v1h-1zM212 382h1v1h-1zM500 513h1v1h-1zM181 595h1v1h-1zM349 508h1v1h-1zM302 560h1v1h-1zM505 204h1v1h-1zM90 256h1v1h-1zM524 109h1v1h-1zM451 295h1v1h-1zM129 352h1v1h-1zM392 600h1v1h-1zM226 515h1v1h-1zM91 495h1v1h-1zM452 280h1v1h-1zM425 187h1v1h-1zM145 225h1v1h-1zM290 407h1v1h-1zM573 498h1v1h-1zM111 497h1v1h-1zM475 285h1v1h-1zM597 296h1v1h-1zM334 76h1v1h-1zM311 268h1v1h-1zM278 348h1v1h-1zM302 130h1v1h-1zM94 599h1v1h-1zM419 409h1v1h-1zM254 423h1v1h-1zM261 582h1v1h-1zM158 458h1v1h-1zM163 304h1v1h-1zM332 470h1v1h-1zM80 257h1v1h-1zM166 155h1v1h-1zM566 435h1v1h-1zM151 346h1v1h-1zM570 428h1v1h-1zM359 401h1v1h-1zM519 288h1v1h-1zM108 468h1v1h-1zM415 82h1v1h-1zM108 456h1v1h-1zM177 242h1v1h-1zM505 70h1v1h-1zM283 562h1v1h-1zM121 333h1v1h-1zM172 330h1v1h-1zM97 443h1v1h-1zM226 438h1v1h-1zM461 132h1v1h-1zM122 94h1v1h-1zM112 208h1v1h-1zM260 117h1v1h-1zM185 405h1v1h-1zM322 401h1v1h-1zM457 459h1v1h-1zM342 238h1v1h-1zM277 130h1v1h-1zM500 482h1v1h-1zM339 593h1v1h-1zM330 542h1v1h-1zM238 174h1v1h-1zM106 292h1v1h-1zM165 182h1v1h-1zM134 291h1v1h-1zM411 523h1v1h-1zM243 385h1v1h-1zM118 594h1v1h-1zM165 111h1v1h-1zM218 485h1v1h-1zM454 87h1v1h-1zM522 569h1v1h-1zM323 306h1v1h-1zM464 87h1v1h-1zM163 407h1v1h-1zM383 343h1v1h-1zM312 396h1v1h-1zM132 480h1v1h-1zM82 437h1v1h-1zM586 520h1v1h-1zM610 394h1v1h-1zM348 555h1v1h-1zM604 324h1v1h-1zM79 359h1v1h-1zM149 325h1v1h-1zM563 347h1v1h-1zM498 172h1v1h-1zM126 384h1v1h-1zM275 403h1v1h-1zM75 278h1v1h-1zM453 493h1v1h-1zM498 267h1v1h-1zM368 107h1v1h-1zM258 156h1v1h-1zM292 198h1v1h-1zM319 271h1v1h-1zM486 377h1v1h-1zM335 521h1v1h-1zM334 238h1v1h-1zM384 127h1v1h-1zM166 93h1v1h-1zM181 308h1v1h-1zM292 503h1v1h-1zM98 143h1v1h-1zM405 295h1v1h-1zM423 221h1v1h-1zM607 468h1v1h-1zM485 133h1v1h-1zM105 585h1v1h-1zM481 477h1v1h-1zM109 425h1v1h-1zM188 457h1v1h-1zM427 472h1v1h-1zM536 355h1v1h-1zM379 543h1v1h-1zM214 229h1v1h-1zM124 504h1v1h-1zM573 488h1v1h-1zM212 534h1v1h-1zM293 95h1v1h-1zM457 357h1v1h-1zM105 482h1v1h-1zM526 178h1v1h-1zM569 449h1v1h-1zM374 528h1v1h-1zM291 194h1v1h-1zM165 516h1v1h-1zM87 475h1v1h-1zM284 304h1v1h-1zM464 379h1v1h-1zM108 268h1v1h-1zM92 452h1v1h-1zM186 146h1v1h-1zM574 209h1v1h-1zM186 574h1v1h-1zM132 409h1v1h-1zM489 403h1v1h-1zM460 110h1v1h-1zM161 245h1v1h-1zM519 99h1v1h-1zM469 476h1v1h-1zM172 474h1v1h-1zM434 450h1v1h-1zM363 495h1v1h-1zM199 131h1v1h-1zM221 138h1v1h-1zM111 100h1v1h-1zM410 306h1v1h-1zM426 316h1v1h-1zM410 532h1v1h-1zM90 528h1v1h-1zM244 453h1v1h-1zM419 388h1v1h-1zM267 85h1v1h-1zM132 406h1v1h-1zM111 172h1v1h-1zM544 515h1v1h-1zM527 155h1v1h-1zM290 172h1v1h-1zM403 168h1v1h-1zM173 496h1v1h-1zM168 321h1v1h-1zM368 226h1v1h-1zM219 511h1v1h-1zM274 277h1v1h-1zM391 516h1v1h-1zM346 564h1v1h-1zM548 88h1v1h-1zM254 604h1v1h-1zM469 415h1v1h-1zM545 345h1v1h-1zM222 297h1v1h-1zM166 90h1v1h-1zM352 534h1v1h-1zM126 89h1v1h-1zM317 92h1v1h-1zM420 553h1v1h-1zM357 472h1v1h-1zM112 457h1v1h-1zM455 177h1v1h-1zM213 130h1v1h-1zM217 209h1v1h-1zM144 234h1v1h-1zM447 153h1v1h-1zM371 509h1v1h-1zM347 106h1v1h-1zM172 541h1v1h-1zM262 392h1v1h-1zM183 602h1v1h-1zM175 580h1v1h-1zM542 207h1v1h-1zM532 141h1v1h-1zM261 570h1v1h-1zM602 103h1v1h-1zM605 183h1v1h-1zM73 473h1v1h-1zM309 217h1v1h-1zM179 562h1v1h-1zM165 276h1v1h-1zM582 224h1v1h-1zM473 371h1v1h-1zM375 262h1v1h-1zM497 292h1v1h-1zM299 88h1v1h-1zM467 255h1v1h-1zM450 280h1v1h-1zM148 201h1v1h-1zM178 542h1v1h-1zM457 334h1v1h-1zM89 260h1v1h-1zM580 338h1v1h-1zM495 165h1v1h-1zM365 547h1v1h-1zM76 74h1v1h-1zM114 321h1v1h-1zM149 302h1v1h-1zM223 221h1v1h-1zM257 437h1v1h-1zM164 496h1v1h-1zM93 263h1v1h-1zM581 116h1v1h-1zM520 405h1v1h-1zM448 608h1v1h-1zM492 607h1v1h-1zM428 279h1v1h-1zM172 327h1v1h-1zM140 166h1v1h-1zM232 313h1v1h-1zM408 224h1v1h-1zM228 286h1v1h-1zM577 588h1v1h-1zM158 225h1v1h-1zM72 343h1v1h-1zM181 232h1v1h-1zM216 447h1v1h-1zM135 73h1v1h-1zM316 172h1v1h-1zM352 300h1v1h-1zM234 125h1v1h-1zM209 372h1v1h-1zM286 390h1v1h-1zM581 166h1v1h-1zM306 297h1v1h-1zM482 167h1v1h-1zM250 579h1v1h-1zM213 277h1v1h-1zM106 320h1v1h-1zM376 341h1v1h-1zM323 564h1v1h-1zM594 101h1v1h-1zM449 468h1v1h-1zM468 435h1v1h-1zM407 347h1v1h-1zM136 513h1v1h-1zM123 192h1v1h-1zM539 216h1v1h-1zM183 290h1v1h-1zM444 216h1v1h-1zM139 241h1v1h-1zM105 427h1v1h-1zM143 231h1v1h-1zM356 341h1v1h-1zM177 524h1v1h-1zM484 278h1v1h-1zM208 95h1v1h-1zM111 154h1v1h-1zM287 386h1v1h-1zM375 454h1v1h-1zM247 229h1v1h-1zM229 191h1v1h-1zM375 477h1v1h-1zM453 268h1v1h-1zM159 604h1v1h-1zM474 572h1v1h-1zM211 363h1v1h-1zM501 401h1v1h-1zM124 95h1v1h-1zM274 506h1v1h-1zM393 127h1v1h-1zM244 366h1v1h-1zM410 111h1v1h-1zM150 374h1v1h-1zM448 152h1v1h-1zM88 343h1v1h-1zM543 503h1v1h-1zM547 106h1v1h-1zM190 287h1v1h-1zM303 217h1v1h-1zM201 149h1v1h-1zM229 192h1v1h-1zM340 218h1v1h-1zM495 586h1v1h-1zM196 83h1v1h-1zM114 185h1v1h-1zM139 435h1v1h-1zM154 411h1v1h-1zM301 365h1v1h-1zM536 212h1v1h-1zM415 323h1v1h-1zM268 220h1v1h-1zM338 334h1v1h-1zM183 452h1v1h-1zM271 384h1v1h-1zM242 282h1v1h-1zM77 427h1v1h-1zM516 560h1v1h-1zM286 251h1v1h-1zM234 464h1v1h-1zM111 490h1v1h-1zM518 261h1v1h-1zM459 447h1v1h-1zM105 242h1v1h-1zM563 191h1v1h-1zM540 594h1v1h-1zM425 579h1v1h-1zM197 436h1v1h-1zM234 282h1v1h-1zM586 428h1v1h-1zM359 314h1v1h-1zM314 338h1v1h-1zM316 531h1v1h-1zM251 490h1v1h-1zM495 395h1v1h-1zM106 310h1v1h-1zM101 378h1v1h-1zM556 304h1v1h-1zM95 527h1v1h-1zM265 262h1v1h-1zM562 212h1v1h-1zM459 502h1v1h-1zM467 458h1v1h-1zM465 379h1v1h-1zM578 74h1v1h-1zM196 324h1v1h-1zM260 78h1v1h-1zM558 557h1v1h-1zM180 136h1v1h-1zM110 584h1v1h-1zM474 301h1v1h-1zM183 492h1v1h-1zM75 228h1v1h-1zM446 520h1v1h-1zM414 564h1v1h-1zM268 136h1v1h-1zM514 479h1v1h-1zM101 217h1v1h-1zM302 226h1v1h-1zM298 224h1v1h-1zM409 461h1v1h-1zM405 305h1v1h-1zM164 585h1v1h-1zM102 562h1v1h-1zM160 467h1v1h-1zM354 487h1v1h-1zM233 234h1v1h-1zM100 284h1v1h-1zM282 609h1v1h-1zM194 479h1v1h-1zM360 283h1v1h-1zM249 221h1v1h-1zM214 376h1v1h-1zM123 247h1v1h-1zM146 237h1v1h-1zM583 487h1v1h-1zM98 602h1v1h-1zM92 527h1v1h-1zM246 458h1v1h-1zM511 142h1v1h-1zM575 566h1v1h-1zM505 244h1v1h-1zM459 563h1v1h-1zM92 353h1v1h-1zM362 91h1v1h-1zM419 180h1v1h-1zM451 421h1v1h-1zM209 591h1v1h-1zM87 293h1v1h-1zM215 291h1v1h-1zM174 554h1v1h-1zM162 441h1v1h-1zM181 369h1v1h-1zM212 187h1v1h-1zM221 261h1v1h-1zM288 213h1v1h-1zM558 508h1v1h-1zM101 215h1v1h-1zM144 521h1v1h-1zM236 576h1v1h-1zM199 427h1v1h-1zM112 358h1v1h-1zM467 592h1v1h-1zM241 579h1v1h-1zM491 110h1v1h-1zM353 253h1v1h-1zM489 467h1v1h-1zM157 273h1v1h-1zM151 141h1v1h-1zM395 571h1v1h-1zM452 279h1v1h-1zM161 499h1v1h-1zM483 99h1v1h-1zM404 208h1v1h-1zM95 608h1v1h-1zM112 69h1v1h-1zM398 421h1v1h-1zM400 388h1v1h-1zM254 415h1v1h-1zM193 264h1v1h-1zM491 160h1v1h-1zM454 512h1v1h-1zM79 487h1v1h-1zM128 112h1v1h-1zM423 309h1v1h-1zM261 406h1v1h-1zM211 347h1v1h-1zM430 386h1v1h-1zM448 249h1v1h-1zM327 416h1v1h-1zM140 208h1v1h-1zM235 184h1v1h-1zM567 222h1v1h-1zM216 407h1v1h-1zM555 321h1v1h-1zM506 277h1v1h-1zM174 209h1v1h-1zM315 495h1v1h-1zM114 284h1v1h-1zM495 537h1v1h-1zM165 232h1v1h-1zM465 106h1v1h-1zM217 311h1v1h-1zM564 565h1v1h-1zM86 190h1v1h-1zM267 405h1v1h-1zM596 460h1v1h-1zM488 108h1v1h-1zM556 84h1v1h-1zM438 73h1v1h-1zM559 157h1v1h-1zM406 359h1v1h-1zM609 458h1v1h-1zM388 463h1v1h-1zM323 467h1v1h-1zM73 590h1v1h-1zM254 553h1v1h-1zM89 555h1v1h-1zM325 594h1v1h-1zM81 106h1v1h-1zM429 440h1v1h-1zM334 513h1v1h-1zM437 307h1v1h-1zM372 544h1v1h-1zM385 233h1v1h-1zM329 229h1v1h-1zM522 321h1v1h-1zM270 284h1v1h-1zM503 478h1v1h-1zM235 361h1v1h-1zM161 380h1v1h-1zM90 444h1v1h-1zM141 572h1v1h-1zM391 114h1v1h-1zM434 403h1v1h-1zM137 189h1v1h-1zM333 423h1v1h-1zM552 601h1v1h-1zM247 146h1v1h-1zM543 469h1v1h-1zM568 225h1v1h-1zM223 439h1v1h-1zM458 351h1v1h-1zM212 363h1v1h-1zM197 435h1v1h-1zM447 78h1v1h-1zM241 346h1v1h-1zM71 175h1v1h-1zM353 199h1v1h-1zM204 180h1v1h-1zM559 72h1v1h-1zM157 339h1v1h-1zM219 204h1v1h-1zM503 377h1v1h-1zM235 218h1v1h-1zM184 316h1v1h-1zM103 468h1v1h-1zM83 91h1v1h-1zM548 254h1v1h-1zM97 507h1v1h-1zM334 545h1v1h-1zM430 178h1v1h-1zM606 565h1v1h-1zM448 405h1v1h-1zM231 214h1v1h-1zM113 195h1v1h-1zM100 129h1v1h-1zM197 563h1v1h-1zM151 101h1v1h-1zM531 601h1v1h-1zM381 273h1v1h-1zM99 452h1v1h-1zM513 402h1v1h-1zM215 206h1v1h-1zM318 77h1v1h-1zM285 440h1v1h-1zM463 501h1v1h-1zM88 544h1v1h-1zM562 501h1v1h-1zM129 145h1v1h-1zM571 262h1v1h-1zM242 544h1v1h-1zM429 245h1v1h-1zM535 303h1v1h-1zM377 574h1v1h-1zM419 552h1v1h-1zM69 574h1v1h-1zM520 574h1v1h-1zM551 361h1v1h-1zM252 376h1v1h-1zM415 538h1v1h-1zM284 271h1v1h-1zM248 226h1v1h-1zM160 255h1v1h-1zM356 414h1v1h-1zM107 563h1v1h-1zM248 602h1v1h-1zM372 596h1v1h-1zM227 501h1v1h-1zM391 323h1v1h-1zM263 135h1v1h-1zM76 201h1v1h-1zM184 515h1v1h-1zM129 185h1v1h-1zM391 256h1v1h-1zM149 439h1v1h-1zM519 594h1v1h-1zM169 328h1v1h-1zM317 78h1v1h-1zM100 368h1v1h-1zM192 403h1v1h-1zM352 537h1v1h-1zM392 204h1v1h-1zM307 167h1v1h-1zM342 88h1v1h-1zM545 593h1v1h-1zM208 70h1v1h-1zM292 444h1v1h-1zM489 303h1v1h-1zM521 521h1v1h-1zM242 497h1v1h-1zM94 477h1v1h-1zM360 205h1v1h-1zM378 328h1v1h-1zM265 165h1v1h-1zM572 497h1v1h-1zM465 385h1v1h-1zM185 89h1v1h-1zM344 72h1v1h-1zM251 335h1v1h-1zM259 438h1v1h-1zM475 447h1v1h-1zM143 212h1v1h-1zM550 400h1v1h-1zM453 558h1v1h-1zM350 371h1v1h-1zM274 518h1v1h-1zM387 116h1v1h-1zM605 336h1v1h-1zM243 71h1v1h-1zM441 111h1v1h-1zM315 318h1v1h-1zM157 182h1v1h-1zM115 296h1v1h-1zM232 124h1v1h-1zM472 180h1v1h-1zM165 535h1v1h-1zM322 535h1v1h-1zM456 445h1v1h-1zM324 284h1v1h-1zM273 433h1v1h-1zM139 544h1v1h-1zM76 592h1v1h-1zM159 598h1v1h-1zM144 459h1v1h-1zM588 445h1v1h-1zM155 201h1v1h-1zM200 235h1v1h-1zM216 432h1v1h-1zM437 103h1v1h-1zM155 262h1v1h-1zM603 492h1v1h-1zM410 430h1v1h-1zM316 535h1v1h-1zM77 323h1v1h-1zM150 495h1v1h-1zM246 535h1v1h-1zM77 399h1v1h-1zM338 487h1v1h-1zM234 165h1v1h-1zM71 495h1v1h-1zM272 543h1v1h-1zM254 346h1v1h-1zM524 292h1v1h-1zM534 258h1v1h-1zM466 216h1v1h-1zM593 475h1v1h-1zM146 303h1v1h-1zM290 411h1v1h-1zM592 545h1v1h-1zM423 496h1v1h-1zM399 437h1v1h-1zM154 165h1v1h-1zM157 142h1v1h-1zM481 339h1v1h-1zM441 225h1v1h-1zM293 555h1v1h-1zM168 391h1v1h-1zM578 371h1v1h-1zM101 225h1v1h-1zM380 315h1v1h-1zM201 585h1v1h-1zM146 239h1v1h-1zM111 408h1v1h-1zM180 551h1v1h-1zM76 429h1v1h-1zM243 123h1v1h-1zM294 525h1v1h-1zM325 273h1v1h-1zM428 465h1v1h-1zM167 319h1v1h-1zM150 162h1v1h-1zM241 519h1v1h-1zM490 121h1v1h-1zM341 512h1v1h-1zM461 597h1v1h-1zM271 566h1v1h-1zM610 526h1v1h-1zM415 537h1v1h-1zM104 519h1v1h-1zM517 466h1v1h-1zM339 403h1v1h-1zM119 311h1v1h-1zM179 356h1v1h-1zM205 122h1v1h-1zM335 248h1v1h-1zM256 226h1v1h-1zM118 251h1v1h-1zM185 151h1v1h-1zM479 584h1v1h-1zM311 394h1v1h-1zM162 429h1v1h-1zM346 418h1v1h-1zM488 354h1v1h-1zM152 588h1v1h-1zM213 158h1v1h-1zM215 213h1v1h-1zM387 578h1v1h-1zM225 566h1v1h-1zM581 489h1v1h-1zM87 545h1v1h-1zM153 71h1v1h-1zM604 330h1v1h-1zM563 588h1v1h-1zM106 189h1v1h-1zM126 373h1v1h-1zM577 146h1v1h-1zM91 423h1v1h-1zM195 376h1v1h-1zM129 497h1v1h-1zM327 104h1v1h-1zM596 502h1v1h-1zM270 315h1v1h-1zM275 454h1v1h-1zM127 259h1v1h-1zM98 482h1v1h-1zM123 396h1v1h-1zM335 535h1v1h-1zM249 445h1v1h-1zM142 226h1v1h-1zM460 405h1v1h-1zM331 430h1v1h-1zM159 415h1v1h-1zM366 305h1v1h-1zM166 275h1v1h-1zM508 439h1v1h-1zM346 541h1v1h-1zM339 138h1v1h-1zM166 459h1v1h-1zM300 416h1v1h-1zM109 418h1v1h-1zM530 117h1v1h-1zM248 70h1v1h-1zM144 197h1v1h-1zM196 379h1v1h-1zM356 319h1v1h-1zM240 511h1v1h-1zM120 567h1v1h-1zM130 516h1v1h-1zM119 147h1v1h-1zM207 114h1v1h-1zM416 560h1v1h-1zM581 452h1v1h-1zM216 255h1v1h-1zM185 475h1v1h-1zM269 588h1v1h-1zM291 242h1v1h-1zM572 163h1v1h-1zM273 87h1v1h-1zM160 386h1v1h-1zM602 491h1v1h-1zM460 249h1v1h-1zM139 474h1v1h-1zM74 268h1v1h-1zM203 317h1v1h-1zM413 80h1v1h-1zM235 568h1v1h-1zM203 222h1v1h-1zM376 462h1v1h-1zM88 187h1v1h-1zM298 517h1v1h-1zM526 206h1v1h-1zM527 147h1v1h-1zM301 214h1v1h-1zM205 178h1v1h-1zM540 453h1v1h-1zM436 160h1v1h-1zM177 362h1v1h-1zM238 219h1v1h-1zM294 303h1v1h-1zM167 378h1v1h-1zM88 311h1v1h-1zM177 368h1v1h-1zM166 110h1v1h-1zM97 426h1v1h-1zM230 469h1v1h-1zM82 191h1v1h-1zM73 236h1v1h-1zM124 145h1v1h-1zM587 558h1v1h-1zM428 231h1v1h-1zM143 184h1v1h-1zM199 490h1v1h-1zM384 72h1v1h-1zM69 121h1v1h-1zM608 315h1v1h-1zM168 425h1v1h-1zM310 360h1v1h-1zM438 435h1v1h-1zM122 250h1v1h-1zM598 598h1v1h-1zM82 568h1v1h-1zM392 517h1v1h-1zM543 242h1v1h-1zM169 498h1v1h-1zM373 199h1v1h-1zM588 542h1v1h-1zM187 367h1v1h-1zM325 102h1v1h-1zM580 123h1v1h-1zM238 563h1v1h-1zM323 437h1v1h-1zM231 581h1v1h-1zM257 379h1v1h-1zM414 327h1v1h-1zM587 178h1v1h-1zM532 227h1v1h-1zM186 260h1v1h-1zM188 126h1v1h-1zM373 515h1v1h-1zM328 193h1v1h-1zM403 460h1v1h-1zM371 218h1v1h-1zM465 474h1v1h-1zM358 418h1v1h-1zM536 289h1v1h-1zM166 427h1v1h-1zM513 208h1v1h-1zM253 536h1v1h-1zM459 477h1v1h-1zM501 510h1v1h-1zM196 520h1v1h-1zM142 278h1v1h-1zM75 523h1v1h-1zM108 171h1v1h-1zM102 301h1v1h-1zM363 551h1v1h-1zM290 412h1v1h-1zM545 379h1v1h-1zM116 389h1v1h-1zM439 106h1v1h-1zM536 327h1v1h-1zM565 74h1v1h-1zM178 264h1v1h-1zM532 317h1v1h-1zM587 284h1v1h-1zM483 357h1v1h-1zM599 248h1v1h-1zM510 108h1v1h-1zM72 601h1v1h-1zM550 532h1v1h-1zM464 231h1v1h-1zM142 151h1v1h-1zM258 477h1v1h-1zM88 603h1v1h-1zM102 421h1v1h-1zM114 74h1v1h-1zM203 278h1v1h-1zM581 577h1v1h-1zM322 248h1v1h-1zM115 93h1v1h-1zM79 493h1v1h-1zM489 362h1v1h-1zM410 538h1v1h-1zM300 458h1v1h-1zM81 355h1v1h-1zM94 450h1v1h-1zM482 482h1v1h-1zM490 412h1v1h-1zM194 426h1v1h-1zM527 357h1v1h-1zM210 552h1v1h-1zM591 333h1v1h-1zM156 215h1v1h-1zM585 211h1v1h-1zM295 587h1v1h-1zM267 318h1v1h-1zM575 324h1v1h-1zM288 491h1v1h-1zM230 105h1v1h-1zM105 247h1v1h-1zM377 120h1v1h-1zM182 373h1v1h-1zM101 404h1v1h-1zM121 162h1v1h-1zM274 175h1v1h-1zM195 544h1v1h-1zM278 184h1v1h-1zM206 267h1v1h-1zM107 579h1v1h-1zM363 486h1v1h-1zM326 118h1v1h-1zM434 136h1v1h-1zM380 298h1v1h-1zM368 318h1v1h-1zM106 250h1v1h-1zM158 502h1v1h-1zM584 360h1v1h-1zM536 166h1v1h-1zM271 304h1v1h-1zM487 608h1v1h-1zM109 460h1v1h-1zM395 445h1v1h-1zM419 418h1v1h-1zM208 543h1v1h-1zM534 337h1v1h-1zM565 439h1v1h-1zM368 314h1v1h-1zM278 474h1v1h-1zM527 162h1v1h-1zM609 368h1v1h-1zM212 86h1v1h-1zM406 260h1v1h-1zM278 104h1v1h-1zM81 155h1v1h-1zM422 223h1v1h-1zM341 313h1v1h-1zM244 310h1v1h-1zM585 159h1v1h-1zM225 242h1v1h-1zM272 448h1v1h-1zM278 419h1v1h-1zM353 220h1v1h-1zM596 359h1v1h-1zM97 408h1v1h-1zM78 309h1v1h-1zM199 426h1v1h-1zM159 209h1v1h-1zM269 515h1v1h-1zM171 269h1v1h-1zM228 91h1v1h-1zM526 356h1v1h-1zM183 411h1v1h-1zM527 301h1v1h-1zM417 229h1v1h-1zM69 585h1v1h-1zM529 381h1v1h-1zM195 489h1v1h-1zM164 600h1v1h-1zM168 102h1v1h-1zM143 133h1v1h-1zM523 319h1v1h-1zM135 525h1v1h-1zM540 77h1v1h-1zM427 444h1v1h-1zM308 318h1v1h-1zM299 377h1v1h-1zM545 200h1v1h-1zM272 532h1v1h-1zM411 443h1v1h-1zM606 584h1v1h-1zM300 520h1v1h-1zM552 485h1v1h-1zM448 426h1v1h-1zM333 411h1v1h-1zM349 112h1v1h-1zM181 598h1v1h-1zM162 479h1v1h-1zM242 106h1v1h-1zM508 330h1v1h-1zM268 363h1v1h-1zM517 106h1v1h-1zM238 177h1v1h-1zM350 327h1v1h-1zM320 76h1v1h-1zM234 255h1v1h-1zM528 477h1v1h-1zM187 597h1v1h-1zM566 146h1v1h-1zM122 270h1v1h-1zM357 331h1v1h-1zM228 439h1v1h-1zM69 600h1v1h-1zM557 606h1v1h-1zM116 292h1v1h-1zM278 372h1v1h-1zM70 543h1v1h-1zM509 275h1v1h-1zM432 263h1v1h-1zM344 245h1v1h-1zM595 402h1v1h-1zM209 72h1v1h-1zM217 239h1v1h-1zM94 524h1v1h-1zM316 405h1v1h-1zM114 555h1v1h-1zM580 544h1v1h-1zM572 365h1v1h-1zM336 95h1v1h-1zM107 545h1v1h-1zM559 600h1v1h-1zM241 204h1v1h-1zM89 124h1v1h-1zM471 569h1v1h-1zM332 404h1v1h-1zM296 202h1v1h-1zM164 364h1v1h-1zM113 543h1v1h-1zM461 441h1v1h-1zM334 598h1v1h-1zM248 263h1v1h-1zM200 73h1v1h-1zM457 516h1v1h-1zM454 518h1v1h-1zM226 350h1v1h-1zM459 576h1v1h-1zM265 119h1v1h-1zM199 92h1v1h-1zM219 574h1v1h-1zM377 472h1v1h-1zM484 487h1v1h-1zM146 414h1v1h-1zM296 238h1v1h-1zM400 450h1v1h-1zM303 92h1v1h-1zM607 114h1v1h-1zM113 296h1v1h-1zM511 600h1v1h-1zM252 234h1v1h-1zM91 440h1v1h-1zM540 236h1v1h-1zM315 437h1v1h-1zM218 362h1v1h-1zM245 514h1v1h-1zM246 392h1v1h-1zM382 587h1v1h-1zM267 71h1v1h-1zM554 505h1v1h-1zM401 463h1v1h-1zM593 250h1v1h-1zM230 542h1v1h-1zM84 260h1v1h-1zM577 394h1v1h-1zM246 499h1v1h-1zM327 436h1v1h-1zM499 236h1v1h-1zM432 564h1v1h-1zM234 469h1v1h-1zM87 133h1v1h-1zM211 431h1v1h-1zM267 245h1v1h-1zM470 80h1v1h-1zM287 477h1v1h-1zM109 341h1v1h-1zM137 522h1v1h-1zM336 77h1v1h-1zM81 432h1v1h-1zM110 359h1v1h-1zM495 537h1v1h-1zM130 240h1v1h-1zM181 349h1v1h-1zM420 322h1v1h-1zM436 496h1v1h-1zM329 339h1v1h-1zM243 511h1v1h-1zM112 379h1v1h-1zM127 422h1v1h-1zM383 144h1v1h-1zM573 438h1v1h-1zM513 282h1v1h-1zM176 608h1v1h-1zM202 173h1v1h-1zM169 443h1v1h-1zM109 359h1v1h-1zM538 304h1v1h-1zM158 474h1v1h-1zM462 504h1v1h-1zM113 318h1v1h-1zM500 481h1v1h-1zM349 243h1v1h-1zM491 472h1v1h-1zM245 386h1v1h-1zM110 319h1v1h-1zM553 101h1v1h-1zM402 244h1v1h-1zM122 470h1v1h-1zM337 525h1v1h-1zM273 237h1v1h-1zM264 458h1v1h-1zM360 430h1v1h-1zM310 274h1v1h-1zM293 505h1v1h-1zM137 581h1v1h-1zM409 557h1v1h-1zM219 456h1v1h-1zM139 319h1v1h-1zM150 236h1v1h-1zM166 560h1v1h-1zM89 607h1v1h-1zM238 508h1v1h-1zM427 250h1v1h-1zM537 605h1v1h-1zM337 456h1v1h-1zM609 371h1v1h-1zM360 442h1v1h-1zM234 180h1v1h-1zM480 516h1v1h-1zM205 477h1v1h-1zM124 601h1v1h-1zM342 140h1v1h-1zM369 450h1v1h-1zM452 505h1v1h-1zM243 253h1v1h-1zM290 87h1v1h-1zM151 285h1v1h-1zM83 462h1v1h-1zM153 191h1v1h-1zM564 363h1v1h-1zM119 318h1v1h-1zM517 253h1v1h-1zM300 225h1v1h-1zM527 311h1v1h-1zM123 549h1v1h-1zM222 314h1v1h-1zM321 282h1v1h-1zM87 545h1v1h-1zM305 356h1v1h-1zM579 127h1v1h-1zM239 246h1v1h-1zM424 561h1v1h-1zM205 84h1v1h-1zM174 392h1v1h-1zM576 598h1v1h-1zM459 248h1v1h-1zM324 470h1v1h-1zM481 609h1v1h-1zM451 140h1v1h-1zM136 345h1v1h-1zM573 119h1v1h-1zM88 559h1v1h-1zM143 73h1v1h-1zM373 206h1v1h-1zM250 592h1v1h-1zM541 169h1v1h-1zM282 431h1v1h-1zM500 173h1v1h-1zM311 184h1v1h-1zM227 567h1v1h-1zM491 178h1v1h-1zM529 488h1v1h-1zM134 109h1v1h-1zM225 77h1v1h-1zM427 573h1v1h-1zM478 393h1v1h-1zM357 271h1v1h-1zM519 596h1v1h-1zM505 277h1v1h-1zM334 391h1v1h-1zM246 239h1v1h-1zM169 464h1v1h-1zM264 592h1v1h-1zM493 321h1v1h-1zM546 574h1v1h-1zM491 564h1v1h-1zM366 496h1v1h-1zM278 539h1v1h-1zM123 332h1v1h-1zM401 148h1v1h-1zM171 147h1v1h-1zM512 76h1v1h-1zM242 348h1v1h-1zM169 571h1v1h-1zM101 328h1v1h-1zM247 436h1v1h-1zM506 566h1v1h-1zM283 498h1v1h-1zM72 573h1v1h-1zM525 425h1v1h-1zM160 479h1v1h-1zM126 382h1v1h-1zM214 519h1v1h-1zM336 439h1v1h-1zM215 182h1v1h-1zM550 418h1v1h-1zM185 114h1v1h-1zM77 495h1v1h-1zM458 410h1v1h-1zM113 197h1v1h-1zM342 417h1v1h-1zM232 545h1v1h-1zM154 116h1v1h-1zM220 511h1v1h-1zM363 425h1v1h-1zM403 298h1v1h-1zM73 549h1v1h-1zM187 321h1v1h-1zM412 331h1v1h-1zM460 117h1v1h-1zM481 593h1v1h-1zM341 424h1v1h-1zM257 379h1v1h-1zM96 383h1v1h-1zM432 272h1v1h-1zM128 223h1v1h-1zM88 217h1v1h-1zM368 403h1v1h-1zM372 405h1v1h-1zM490 575h1v1h-1zM532 84h1v1h-1zM584 373h1v1h-1zM405 466h1v1h-1zM582 88h1v1h-1zM439 473h1v1h-1zM292 133h1v1h-1zM114 249h1v1h-1zM529 307h1v1h-1zM345 494h1v1h-1zM468 311h1v1h-1zM595 319h1v1h-1zM352 189h1v1h-1zM321 396h1v1h-1zM137 578h1v1h-1zM142 217h1v1h-1zM216 334h1v1h-1zM381 410h1v1h-1zM271 272h1v1h-1zM474 336h1v1h-1zM245 93h1v1h-1zM531 392h1v1h-1zM147 186h1v1h-1zM369 603h1v1h-1zM307 460h1v1h-1zM236 292h1v1h-1zM410 321h1v1h-1zM121 247h1v1h-1zM478 214h1v1h-1zM72 537h1v1h-1zM226 143h1v1h-1zM378 286h1v1h-1zM295 423h1v1h-1zM522 484h1v1h-1zM334 354h1v1h-1zM371 127h1v1h-1zM110 381h1v1h-1zM170 552h1v1h-1zM193 177h1v1h-1zM185 565h1v1h-1zM79 276h1v1h-1zM172 351h1v1h-1zM517 112h1v1h-1zM371 546h1v1h-1zM70 504h1v1h-1zM226 466h1v1h-1zM599 387h1v1h-1zM229 200h1v1h-1zM573 130h1v1h-1zM482 473h1v1h-1zM592 505h1v1h-1zM261 120h1v1h-1zM255 573h1v1h-1zM84 323h1v1h-1zM391 265h1v1h-1zM215 408h1v1h-1zM245 85h1v1h-1zM253 372h1v1h-1zM205 94h1v1h-1zM598 343h1v1h-1zM492 349h1v1h-1zM511 608h1v1h-1zM532 273h1v1h-1zM235 95h1v1h-1zM175 73h1v1h-1zM163 404h1v1h-1zM302 226h1v1h-1zM93 521h1v1h-1zM216 96h1v1h-1zM171 598h1v1h-1zM536 198h1v1h-1zM91 329h1v1h-1zM320 514h1v1h-1zM493 271h1v1h-1zM259 610h1v1h-1zM420 563h1v1h-1zM227 281h1v1h-1zM434 369h1v1h-1zM74 119h1v1h-1zM312 599h1v1h-1zM92 224h1v1h-1zM231 424h1v1h-1zM303 476h1v1h-1zM506 226h1v1h-1zM399 297h1v1h-1zM344 525h1v1h-1zM408 192h1v1h-1zM96 490h1v1h-1zM315 362h1v1h-1zM543 436h1v1h-1zM525 380h1v1h-1zM88 188h1v1h-1zM224 188h1v1h-1zM98 173h1v1h-1zM552 108h1v1h-1zM159 454h1v1h-1zM572 451h1v1h-1zM196 401h1v1h-1zM272 299h1v1h-1zM106 158h1v1h-1zM78 102h1v1h-1zM99 194h1v1h-1zM95 411h1v1h-1zM144 227h1v1h-1zM300 457h1v1h-1zM123 575h1v1h-1zM127 377h1v1h-1zM605 565h1v1h-1zM116 566h1v1h-1zM191 361h1v1h-1zM483 489h1v1h-1zM333 600h1v1h-1zM544 180h1v1h-1zM403 526h1v1h-1zM572 610h1v1h-1zM160 378h1v1h-1zM236 93h1v1h-1zM327 380h1v1h-1zM532 497h1v1h-1zM87 87h1v1h-1zM330 155h1v1h-1zM98 140h1v1h-1zM440 495h1v1h-1zM326 599h1v1h-1zM445 233h1v1h-1zM118 555h1v1h-1zM586 99h1v1h-1zM85 76h1v1h-1zM175 547h1v1h-1zM211 333h1v1h-1zM189 299h1v1h-1zM459 132h1v1h-1zM475 146h1v1h-1zM194 507h1v1h-1zM442 555h1v1h-1zM327 601h1v1h-1zM489 255h1v1h-1zM95 284h1v1h-1zM92 239h1v1h-1zM156 569h1v1h-1zM193 607h1v1h-1zM545 428h1v1h-1zM519 455h1v1h-1zM607 124h1v1h-1zM183 608h1v1h-1zM164 180h1v1h-1zM545 119h1v1h-1zM529 439h1v1h-1zM127 149h1v1h-1zM235 436h1v1h-1zM239 257h1v1h-1zM465 524h1v1h-1zM199 404h1v1h-1zM266 437h1v1h-1zM261 603h1v1h-1zM170 458h1v1h-1zM201 200h1v1h-1zM385 186h1v1h-1zM507 294h1v1h-1zM455 505h1v1h-1zM377 186h1v1h-1zM497 512h1v1h-1zM364 146h1v1h-1zM342 71h1v1h-1zM449 259h1v1h-1zM290 481h1v1h-1zM397 528h1v1h-1zM194 344h1v1h-1zM198 606h1v1h-1zM167 382h1v1h-1zM134 449h1v1h-1zM95 167h1v1h-1zM142 238h1v1h-1zM111 226h1v1h-1zM549 369h1v1h-1zM468 292h1v1h-1zM118 76h1v1h-1zM487 558h1v1h-1zM600 542h1v1h-1zM483 112h1v1h-1zM594 564h1v1h-1zM221 297h1v1h-1zM119 450h1v1h-1zM294 99h1v1h-1zM402 239h1v1h-1zM310 338h1v1h-1zM321 128h1v1h-1zM302 292h1v1h-1zM109 296h1v1h-1zM296 292h1v1h-1zM179 76h1v1h-1zM163 136h1v1h-1zM396 344h1v1h-1zM265 194h1v1h-1zM113 183h1v1h-1zM521 491h1v1h-1zM555 387h1v1h-1zM261 574h1v1h-1zM462 600h1v1h-1zM308 232h1v1h-1zM491 582h1v1h-1zM228 439h1v1h-1zM201 368h1v1h-1zM365 329h1v1h-1zM108 242h1v1h-1zM308 548h1v1h-1zM209 431h1v1h-1zM569 589h1v1h-1zM194 531h1v1h-1zM568 461h1v1h-1zM248 333h1v1h-1zM444 609h1v1h-1zM571 384h1v1h-1zM351 270h1v1h-1zM494 326h1v1h-1zM247 555h1v1h-1zM222 261h1v1h-1zM221 90h1v1h-1zM574 515h1v1h-1zM243 121h1v1h-1zM403 242h1v1h-1zM329 232h1v1h-1zM520 182h1v1h-1zM537 306h1v1h-1zM367 434h1v1h-1zM351 116h1v1h-1zM79 534h1v1h-1zM87 364h1v1h-1zM110 321h1v1h-1zM456 152h1v1h-1zM112 341h1v1h-1zM545 584h1v1h-1zM341 302h1v1h-1zM524 419h1v1h-1zM98 194h1v1h-1zM388 130h1v1h-1zM419 226h1v1h-1zM371 556h1v1h-1zM81 369h1v1h-1zM349 607h1v1h-1zM480 406h1v1h-1zM70 529h1v1h-1zM193 134h1v1h-1zM422 240h1v1h-1zM407 167h1v1h-1zM534 555h1v1h-1zM549 570h1v1h-1zM559 134h1v1h-1zM586 394h1v1h-1zM171 237h1v1h-1zM139 513h1v1h-1zM348 443h1v1h-1zM110 285h1v1h-1zM352 584h1v1h-1zM435 494h1v1h-1zM197 576h1v1h-1zM170 210h1v1h-1zM381 554h1v1h-1zM240 558h1v1h-1zM110 289h1v1h-1zM378 335h1v1h-1zM247 424h1v1h-1zM160 279h1v1h-1zM82 305h1v1h-1zM426 521h1v1h-1zM559 275h1v1h-1zM531 413h1v1h-1zM272 193h1v1h-1zM297 567h1v1h-1zM354 146h1v1h-1zM379 562h1v1h-1zM294 270h1v1h-1zM189 532h1v1h-1zM274 581h1v1h-1zM169 260h1v1h-1zM379 345h1v1h-1zM74 295h1v1h-1zM140 453h1v1h-1zM125 569h1v1h-1zM394 581h1v1h-1zM564 413h1v1h-1zM215 247h1v1h-1zM462 104h1v1h-1zM431 608h1v1h-1zM448 283h1v1h-1zM358 110h1v1h-1zM88 274h1v1h-1zM202 364h1v1h-1zM419 73h1v1h-1zM155 343h1v1h-1zM119 271h1v1h-1zM91 463h1v1h-1zM530 441h1v1h-1zM222 127h1v1h-1zM199 431h1v1h-1zM188 162h1v1h-1zM152 507h1v1h-1zM604 241h1v1h-1zM548 296h1v1h-1zM276 145h1v1h-1zM77 379h1v1h-1zM378 560h1v1h-1zM472 411h1v1h-1zM325 225h1v1h-1zM350 453h1v1h-1zM75 123h1v1h-1zM440 467h1v1h-1zM79 382h1v1h-1zM493 294h1v1h-1zM287 178h1v1h-1zM260 537h1v1h-1zM494 216h1v1h-1zM454 136h1v1h-1zM377 455h1v1h-1zM385 551h1v1h-1zM414 141h1v1h-1zM562 314h1v1h-1zM128 402h1v1h-1zM374 606h1v1h-1zM411 467h1v1h-1zM347 561h1v1h-1zM368 114h1v1h-1zM291 378h1v1h-1zM245 171h1v1h-1zM354 212h1v1h-1zM92 141h1v1h-1zM192 598h1v1h-1zM87 89h1v1h-1zM160 258h1v1h-1zM431 213h1v1h-1zM223 252h1v1h-1zM481 422h1v1h-1zM83 95h1v1h-1zM245 359h1v1h-1zM209 491h1v1h-1zM454 128h1v1h-1zM121 118h1v1h-1zM101 586h1v1h-1zM598 480h1v1h-1zM289 254h1v1h-1zM372 314h1v1h-1zM333 80h1v1h-1zM93 564h1v1h-1zM313 258h1v1h-1zM408 277h1v1h-1zM82 477h1v1h-1zM410 529h1v1h-1zM235 566h1v1h-1zM162 382h1v1h-1zM330 159h1v1h-1zM193 157h1v1h-1zM167 317h1v1h-1zM250 454h1v1h-1zM581 461h1v1h-1zM150 268h1v1h-1zM579 338h1v1h-1zM240 153h1v1h-1zM259 260h1v1h-1zM356 343h1v1h-1zM100 516h1v1h-1zM196 218h1v1h-1zM197 419h1v1h-1zM403 570h1v1h-1zM196 538h1v1h-1zM420 573h1v1h-1zM104 190h1v1h-1zM271 458h1v1h-1zM459 461h1v1h-1zM268 366h1v1h-1zM444 408h1v1h-1zM523 301h1v1h-1zM255 157h1v1h-1zM177 459h1v1h-1zM507 429h1v1h-1zM201 455h1v1h-1zM413 168h1v1h-1zM539 486h1v1h-1zM239 297h1v1h-1zM608 242h1v1h-1zM391 279h1v1h-1zM186 417h1v1h-1zM89 570h1v1h-1zM579 434h1v1h-1zM237 423h1v1h-1zM186 545h1v1h-1zM572 92h1v1h-1zM216 487h1v1h-1zM433 309h1v1h-1zM160 527h1v1h-1zM242 496h1v1h-1zM273 596h1v1h-1zM327 153h1v1h-1zM231 295h1v1h-1zM396 296h1v1h-1zM527 100h1v1h-1zM420 253h1v1h-1zM285 114h1v1h-1zM287 494h1v1h-1zM388 108h1v1h-1zM253 193h1v1h-1zM553 309h1v1h-1zM442 153h1v1h-1zM71 419h1v1h-1zM168 371h1v1h-1zM159 339h1v1h-1zM288 111h1v1h-1zM108 339h1v1h-1zM77 107h1v1h-1zM82 513h1v1h-1zM260 508h1v1h-1zM355 115h1v1h-1zM163 263h1v1h-1zM283 594h1v1h-1zM230 345h1v1h-1zM242 173h1v1h-1zM600 190h1v1h-1zM174 135h1v1h-1zM451 511h1v1h-1zM523 495h1v1h-1zM150 219h1v1h-1zM120 196h1v1h-1zM174 288h1v1h-1zM555 511h1v1h-1zM114 383h1v1h-1zM468 418h1v1h-1zM220 396h1v1h-1zM270 561h1v1h-1zM258 211h1v1h-1zM368 182h1v1h-1zM468 433h1v1h-1zM402 407h1v1h-1zM228 442h1v1h-1zM515 73h1v1h-1zM389 93h1v1h-1zM252 411h1v1h-1zM205 445h1v1h-1zM220 91h1v1h-1zM121 553h1v1h-1zM229 607h1v1h-1zM204 477h1v1h-1zM223 182h1v1h-1zM194 571h1v1h-1zM447 141h1v1h-1zM346 100h1v1h-1zM470 463h1v1h-1zM194 344h1v1h-1zM374 312h1v1h-1zM502 236h1v1h-1zM264 581h1v1h-1zM567 474h1v1h-1zM408 158h1v1h-1zM221 199h1v1h-1zM299 400h1v1h-1zM231 475h1v1h-1zM347 226h1v1h-1zM439 474h1v1h-1zM399 157h1v1h-1zM232 549h1v1h-1zM80 260h1v1h-1zM456 330h1v1h-1zM530 526h1v1h-1zM298 275h1v1h-1zM400 143h1v1h-1zM532 501h1v1h-1zM152 357h1v1h-1zM425 306h1v1h-1zM364 309h1v1h-1zM506 90h1v1h-1zM92 152h1v1h-1zM87 99h1v1h-1zM386 418h1v1h-1zM441 517h1v1h-1zM136 347h1v1h-1zM357 373h1v1h-1zM347 264h1v1h-1zM122 601h1v1h-1zM485 252h1v1h-1zM502 381h1v1h-1zM557 584h1v1h-1zM255 127h1v1h-1zM144 331h1v1h-1zM462 579h1v1h-1zM485 309h1v1h-1zM186 562h1v1h-1zM473 154h1v1h-1zM498 478h1v1h-1zM563 556h1v1h-1zM405 580h1v1h-1zM120 607h1v1h-1zM594 93h1v1h-1zM484 582h1v1h-1zM378 252h1v1h-1zM312 284h1v1h-1zM423 101h1v1h-1zM164 594h1v1h-1zM500 193h1v1h-1zM474 559h1v1h-1zM372 607h1v1h-1zM181 183h1v1h-1zM559 237h1v1h-1zM312 491h1v1h-1zM544 509h1v1h-1zM75 431h1v1h-1zM357 75h1v1h-1zM318 575h1v1h-1zM393 329h1v1h-1zM228 103h1v1h-1zM530 350h1v1h-1zM184 542h1v1h-1zM228 217h1v1h-1zM356 499h1v1h-1zM589 330h1v1h-1zM443 347h1v1h-1zM114 455h1v1h-1zM553 167h1v1h-1zM326 494h1v1h-1zM483 374h1v1h-1zM396 395h1v1h-1zM79 580h1v1h-1zM492 590h1v1h-1zM181 504h1v1h-1zM382 196h1v1h-1zM271 309h1v1h-1zM189 291h1v1h-1zM419 150h1v1h-1zM200 414h1v1h-1zM234 287h1v1h-1zM86 376h1v1h-1zM491 290h1v1h-1zM403 219h1v1h-1zM203 529h1v1h-1zM276 603h1v1h-1zM186 524h1v1h-1zM271 162h1v1h-1zM473 291h1v1h-1zM345 271h1v1h-1zM250 465h1v1h-1zM159 193h1v1h-1zM105 478h1v1h-1zM112 118h1v1h-1zM281 472h1v1h-1zM332 437h1v1h-1zM251 609h1v1h-1zM415 584h1v1h-1zM265 372h1v1h-1zM169 310h1v1h-1zM275 418h1v1h-1zM133 428h1v1h-1zM445 433h1v1h-1zM74 307h1v1h-1zM96 423h1v1h-1zM305 502h1v1h-1zM89 590h1v1h-1zM428 388h1v1h-1zM223 491h1v1h-1zM489 571h1v1h-1zM379 205h1v1h-1zM205 394h1v1h-1zM227 460h1v1h-1zM270 521h1v1h-1zM251 161h1v1h-1zM285 106h1v1h-1zM85 445h1v1h-1zM395 153h1v1h-1zM565 393h1v1h-1zM102 88h1v1h-1zM373 560h1v1h-1zM141 393h1v1h-1zM399 127h1v1h-1zM345 359h1v1h-1zM345 603h1v1h-1zM347 75h1v1h-1zM116 426h1v1h-1zM483 306h1v1h-1zM88 503h1v1h-1zM489 548h1v1h-1zM131 258h1v1h-1zM344 407h1v1h-1zM324 313h1v1h-1zM577 467h1v1h-1zM493 350h1v1h-1zM231 260h1v1h-1zM178 135h1v1h-1zM291 209h1v1h-1zM113 246h1v1h-1zM518 336h1v1h-1zM481 408h1v1h-1zM213 464h1v1h-1zM452 376h1v1h-1zM231 523h1v1h-1zM128 146h1v1h-1zM182 598h1v1h-1zM270 141h1v1h-1zM310 586h1v1h-1zM97 507h1v1h-1zM86 426h1v1h-1zM483 283h1v1h-1zM172 315h1v1h-1zM434 512h1v1h-1zM209 324h1v1h-1zM151 556h1v1h-1zM286 527h1v1h-1zM191 567h1v1h-1zM174 344h1v1h-1zM115 85h1v1h-1zM378 359h1v1h-1zM123 496h1v1h-1zM75 341h1v1h-1zM568 471h1v1h-1zM208 314h1v1h-1zM326 587h1v1h-1zM244 237h1v1h-1zM198 603h1v1h-1zM322 258h1v1h-1zM275 393h1v1h-1zM544 239h1v1h-1zM256 366h1v1h-1zM313 355h1v1h-1zM71 536h1v1h-1zM357 520h1v1h-1zM86 163h1v1h-1zM123 299h1v1h-1zM320 227h1v1h-1zM86 332h1v1h-1zM588 235h1v1h-1zM517 83h1v1h-1zM118 552h1v1h-1zM351 482h1v1h-1zM171 596h1v1h-1zM405 276h1v1h-1zM500 531h1v1h-1zM439 517h1v1h-1zM402 84h1v1h-1zM281 427h1v1h-1zM174 72h1v1h-1zM243 405h1v1h-1zM156 603h1v1h-1zM323 457h1v1h-1zM96 313h1v1h-1zM131 176h1v1h-1zM551 283h1v1h-1zM347 167h1v1h-1zM178 592h1v1h-1zM315 475h1v1h-1zM455 356h1v1h-1zM554 420h1v1h-1zM225 578h1v1h-1zM103 162h1v1h-1zM173 444h1v1h-1zM237 217h1v1h-1zM101 437h1v1h-1zM329 532h1v1h-1zM204 587h1v1h-1zM449 296h1v1h-1zM402 451h1v1h-1zM489 565h1v1h-1zM175 128h1v1h-1zM298 597h1v1h-1zM507 410h1v1h-1zM455 439h1v1h-1zM337 150h1v1h-1zM425 537h1v1h-1zM522 389h1v1h-1zM280 443h1v1h-1zM229 439h1v1h-1zM524 532h1v1h-1zM590 277h1v1h-1zM97 432h1v1h-1zM257 592h1v1h-1zM102 184h1v1h-1zM306 490h1v1h-1zM565 383h1v1h-1zM176 513h1v1h-1zM95 456h1v1h-1zM505 394h1v1h-1zM311 281h1v1h-1zM250 207h1v1h-1zM261 269h1v1h-1zM265 165h1v1h-1zM411 409h1v1h-1zM605 447h1v1h-1zM163 468h1v1h-1zM415 313h1v1h-1zM609 446h1v1h-1zM247 357h1v1h-1zM338 154h1v1h-1zM139 262h1v1h-1zM103 579h1v1h-1zM425 128h1v1h-1zM404 172h1v1h-1zM293 322h1v1h-1zM118 384h1v1h-1zM299 88h1v1h-1zM473 403h1v1h-1zM605 75h1v1h-1zM91 194h1v1h-1zM409 474h1v1h-1zM202 326h1v1h-1zM327 154h1v1h-1zM250 192h1v1h-1zM484 410h1v1h-1zM608 180h1v1h-1zM477 523h1v1h-1zM391 452h1v1h-1zM123 166h1v1h-1zM575 470h1v1h-1zM221 452h1v1h-1zM118 434h1v1h-1zM544 413h1v1h-1zM381 502h1v1h-1zM168 253h1v1h-1zM432 266h1v1h-1zM94 75h1v1h-1zM520 157h1v1h-1zM555 71h1v1h-1zM459 562h1v1h-1zM545 94h1v1h-1zM454 311h1v1h-1zM427 296h1v1h-1zM241 410h1v1h-1zM241 605h1v1h-1zM131 318h1v1h-1zM233 102h1v1h-1zM150 258h1v1h-1zM199 401h1v1h-1zM240 353h1v1h-1zM311 158h1v1h-1zM181 443h1v1h-1zM567 106h1v1h-1zM473 337h1v1h-1zM83 105h1v1h-1zM212 332h1v1h-1zM326 98h1v1h-1zM312 141h1v1h-1zM319 600h1v1h-1zM295 539h1v1h-1zM474 397h1v1h-1zM112 605h1v1h-1zM361 141h1v1h-1zM105 276h1v1h-1zM300 235h1v1h-1zM568 463h1v1h-1zM424 462h1v1h-1zM368 514h1v1h-1zM87 404h1v1h-1zM373 543h1v1h-1zM321 287h1v1h-1zM427 555h1v1h-1zM78 212h1v1h-1zM335 286h1v1h-1zM530 400h1v1h-1zM116 555h1v1h-1zM557 226h1v1h-1zM225 438h1v1h-1zM458 456h1v1h-1zM222 304h1v1h-1zM222 433h1v1h-1zM215 348h1v1h-1zM567 330h1v1h-1zM372 500h1v1h-1zM239 336h1v1h-1zM510 561h1v1h-1zM216 416h1v1h-1zM444 144h1v1h-1zM490 167h1v1h-1zM463 414h1v1h-1zM360 397h1v1h-1zM109 464h1v1h-1zM161 355h1v1h-1zM314 589h1v1h-1zM525 571h1v1h-1zM313 153h1v1h-1zM139 261h1v1h-1zM254 124h1v1h-1zM174 398h1v1h-1zM81 193h1v1h-1zM526 100h1v1h-1zM176 467h1v1h-1zM427 120h1v1h-1zM365 437h1v1h-1zM126 153h1v1h-1zM447 233h1v1h-1zM131 563h1v1h-1zM301 468h1v1h-1zM399 311h1v1h-1zM191 505h1v1h-1zM238 546h1v1h-1zM147 241h1v1h-1zM454 304h1v1h-1zM221 156h1v1h-1zM395 193h1v1h-1zM255 127h1v1h-1zM367 593h1v1h-1zM377 368h1v1h-1zM178 503h1v1h-1zM74 393h1v1h-1zM259 461h1v1h-1zM474 205h1v1h-1zM578 335h1v1h-1zM361 84h1v1h-1zM154 144h1v1h-1zM480 264h1v1h-1zM276 360h1v1h-1zM526 600h1v1h-1zM287 414h1v1h-1zM116 563h1v1h-1zM336 442h1v1h-1zM294 590h1v1h-1zM202 79h1v1h-1zM345 140h1v1h-1zM422 181h1v1h-1zM438 493h1v1h-1zM176 594h1v1h-1zM535 479h1v1h-1zM159 169h1v1h-1zM264 335h1v1h-1zM82 573h1v1h-1zM497 293h1v1h-1zM164 393h1v1h-1zM264 444h1v1h-1zM81 477h1v1h-1zM566 234h1v1h-1zM145 236h1v1h-1zM541 201h1v1h-1zM155 582h1v1h-1zM384 394h1v1h-1zM244 404h1v1h-1zM106 433h1v1h-1zM454 161h1v1h-1zM253 594h1v1h-1zM174 592h1v1h-1zM112 185h1v1h-1zM252 291h1v1h-1zM403 184h1v1h-1zM233 146h1v1h-1zM335 264h1v1h-1zM356 73h1v1h-1zM279 604h1v1h-1zM137 374h1v1h-1zM140 454h1v1h-1zM262 311h1v1h-1zM168 288h1v1h-1zM173 163h1v1h-1zM278 282h1v1h-1zM603 592h1v1h-1zM138 407h1v1h-1zM580 504h1v1h-1zM188 359h1v1h-1zM111 604h1v1h-1zM544 387h1v1h-1zM116 297h1v1h-1zM278 176h1v1h-1zM123 180h1v1h-1zM365 452h1v1h-1zM316 478h1v1h-1zM585 314h1v1h-1zM405 459h1v1h-1zM373 474h1v1h-1zM429 108h1v1h-1zM304 144h1v1h-1zM163 450h1v1h-1zM260 442h1v1h-1zM288 546h1v1h-1zM473 375h1v1h-1zM146 483h1v1h-1zM357 367h1v1h-1zM483 207h1v1h-1zM156 274h1v1h-1zM183 533h1v1h-1zM489 152h1v1h-1zM161 338h1v1h-1zM538 228h1v1h-1zM225 321h1v1h-1zM273 604h1v1h-1zM317 602h1v1h-1zM587 381h1v1h-1zM309 277h1v1h-1zM106 520h1v1h-1zM488 451h1v1h-1zM535 213h1v1h-1zM543 465h1v1h-1zM597 569h1v1h-1zM226 436h1v1h-1zM527 554h1v1h-1zM126 253h1v1h-1zM283 292h1v1h-1zM92 547h1v1h-1zM214 365h1v1h-1zM446 527h1v1h-1zM86 123h1v1h-1zM504 410h1v1h-1zM283 555h1v1h-1zM548 169h1v1h-1zM233 111h1v1h-1zM607 246h1v1h-1zM356 233h1v1h-1zM77 320h1v1h-1zM86 539h1v1h-1zM544 604h1v1h-1zM129 248h1v1h-1zM73 372h1v1h-1zM236 187h1v1h-1zM293 515h1v1h-1zM485 565h1v1h-1zM521 452h1v1h-1zM155 422h1v1h-1zM529 422h1v1h-1zM567 591h1v1h-1zM122 333h1v1h-1zM580 257h1v1h-1zM236 446h1v1h-1zM501 423h1v1h-1zM316 212h1v1h-1zM100 396h1v1h-1zM421 233h1v1h-1zM142 279h1v1h-1zM200 569h1v1h-1zM590 220h1v1h-1zM182 115h1v1h-1zM341 390h1v1h-1zM71 216h1v1h-1zM481 510h1v1h-1zM513 535h1v1h-1zM79 481h1v1h-1zM87 301h1v1h-1zM335 604h1v1h-1zM77 86h1v1h-1zM164 395h1v1h-1zM380 237h1v1h-1zM75 294h1v1h-1zM324 268h1v1h-1zM164 69h1v1h-1zM465 208h1v1h-1zM224 553h1v1h-1zM180 155h1v1h-1zM255 261h1v1h-1zM179 74h1v1h-1zM467 186h1v1h-1zM188 101h1v1h-1zM268 246h1v1h-1zM381 307h1v1h-1zM473 78h1v1h-1zM93 455h1v1h-1zM453 502h1v1h-1zM333 448h1v1h-1zM225 563h1v1h-1zM429 133h1v1h-1zM549 71h1v1h-1zM141 573h1v1h-1zM288 273h1v1h-1zM394 71h1v1h-1zM595 139h1v1h-1zM472 255h1v1h-1zM169 268h1v1h-1zM336 455h1v1h-1zM445 168h1v1h-1zM124 271h1v1h-1zM219 432h1v1h-1zM606 533h1v1h-1zM367 509h1v1h-1zM460 241h1v1h-1zM182 558h1v1h-1zM92 408h1v1h-1zM354 506h1v1h-1zM596 127h1v1h-1zM537 134h1v1h-1zM250 271h1v1h-1zM315 324h1v1h-1zM344 167h1v1h-1zM100 158h1v1h-1zM140 158h1v1h-1zM513 241h1v1h-1zM115 191h1v1h-1zM74 474h1v1h-1zM573 320h1v1h-1zM164 304h1v1h-1zM156 196h1v1h-1zM238 301h1v1h-1zM471 198h1v1h-1zM375 269h1v1h-1zM216 560h1v1h-1zM394 457h1v1h-1zM165 115h1v1h-1zM240 582h1v1h-1zM401 469h1v1h-1zM265 406h1v1h-1zM245 452h1v1h-1zM229 541h1v1h-1zM364 538h1v1h-1zM319 540h1v1h-1zM226 375h1v1h-1zM424 202h1v1h-1zM215 572h1v1h-1zM403 228h1v1h-1zM106 387h1v1h-1zM487 415h1v1h-1zM449 251h1v1h-1zM339 323h1v1h-1zM283 547h1v1h-1zM537 486h1v1h-1zM209 356h1v1h-1zM156 597h1v1h-1zM211 306h1v1h-1zM90 513h1v1h-1zM269 268h1v1h-1zM111 597h1v1h-1zM72 364h1v1h-1zM332 492h1v1h-1zM237 598h1v1h-1zM316 412h1v1h-1zM592 452h1v1h-1zM387 335h1v1h-1zM265 115h1v1h-1zM250 72h1v1h-1zM420 566h1v1h-1zM454 453h1v1h-1zM556 505h1v1h-1zM194 350h1v1h-1zM557 462h1v1h-1zM462 491h1v1h-1zM282 606h1v1h-1zM90 104h1v1h-1zM449 332h1v1h-1zM271 341h1v1h-1zM566 90h1v1h-1zM433 255h1v1h-1zM421 548h1v1h-1zM357 603h1v1h-1zM427 518h1v1h-1zM229 97h1v1h-1zM543 87h1v1h-1zM488 505h1v1h-1zM77 382h1v1h-1zM282 165h1v1h-1zM146 241h1v1h-1zM98 119h1v1h-1zM182 396h1v1h-1zM466 137h1v1h-1zM533 603h1v1h-1zM526 491h1v1h-1zM150 388h1v1h-1zM595 536h1v1h-1zM555 305h1v1h-1zM118 330h1v1h-1zM70 565h1v1h-1zM257 540h1v1h-1zM202 462h1v1h-1zM460 576h1v1h-1zM340 474h1v1h-1zM223 459h1v1h-1zM183 187h1v1h-1zM90 533h1v1h-1zM325 552h1v1h-1zM403 115h1v1h-1zM162 201h1v1h-1zM336 382h1v1h-1zM382 230h1v1h-1zM82 162h1v1h-1zM245 543h1v1h-1zM207 396h1v1h-1zM178 259h1v1h-1zM97 334h1v1h-1zM479 364h1v1h-1zM553 463h1v1h-1zM131 337h1v1h-1zM85 348h1v1h-1zM298 165h1v1h-1zM172 542h1v1h-1zM318 178h1v1h-1zM572 126h1v1h-1zM152 286h1v1h-1zM351 591h1v1h-1zM269 351h1v1h-1zM550 413h1v1h-1zM416 359h1v1h-1zM293 393h1v1h-1zM512 319h1v1h-1zM228 506h1v1h-1zM76 383h1v1h-1zM396 88h1v1h-1zM601 285h1v1h-1zM325 229h1v1h-1zM232 292h1v1h-1zM301 182h1v1h-1zM126 597h1v1h-1zM566 273h1v1h-1zM362 443h1v1h-1zM133 74h1v1h-1zM222 600h1v1h-1zM188 607h1v1h-1zM210 406h1v1h-1zM381 434h1v1h-1zM78 384h1v1h-1zM336 213h1v1h-1zM582 351h1v1h-1zM594 337h1v1h-1zM133 439h1v1h-1zM199 543h1v1h-1zM313 199h1v1h-1zM546 600h1v1h-1zM259 298h1v1h-1zM162 388h1v1h-1zM395 162h1v1h-1zM358 609h1v1h-1zM573 183h1v1h-1zM151 404h1v1h-1zM153 154h1v1h-1zM449 386h1v1h-1zM112 500h1v1h-1zM279 87h1v1h-1zM227 452h1v1h-1zM490 231h1v1h-1zM179 239h1v1h-1zM356 451h1v1h-1zM195 177h1v1h-1zM331 361h1v1h-1zM228 550h1v1h-1zM497 282h1v1h-1zM107 72h1v1h-1zM158 144h1v1h-1zM106 465h1v1h-1zM561 571h1v1h-1zM96 83h1v1h-1zM606 309h1v1h-1zM463 351h1v1h-1zM69 506h1v1h-1zM103 577h1v1h-1zM75 122h1v1h-1zM268 516h1v1h-1zM143 140h1v1h-1zM432 587h1v1h-1zM155 576h1v1h-1zM559 249h1v1h-1zM255 488h1v1h-1zM332 474h1v1h-1zM209 457h1v1h-1zM401 399h1v1h-1zM262 604h1v1h-1zM426 123h1v1h-1zM208 281h1v1h-1zM409 549h1v1h-1zM432 390h1v1h-1zM186 225h1v1h-1zM126 379h1v1h-1zM397 448h1v1h-1zM152 441h1v1h-1zM79 117h1v1h-1zM520 423h1v1h-1zM141 176h1v1h-1zM211 376h1v1h-1zM282 482h1v1h-1zM176 269h1v1h-1zM332 565h1v1h-1zM487 109h1v1h-1zM249 447h1v1h-1zM72 343h1v1h-1zM360 603h1v1h-1zM195 506h1v1h-1zM319 145h1v1h-1zM87 89h1v1h-1zM225 436h1v1h-1zM575 221h1v1h-1zM452 101h1v1h-1zM80 348h1v1h-1zM446 607h1v1h-1zM543 184h1v1h-1zM424 551h1v1h-1zM76 393h1v1h-1zM494 532h1v1h-1zM387 455h1v1h-1zM471 455h1v1h-1zM281 474h1v1h-1zM441 335h1v1h-1zM181 84h1v1h-1zM399 357h1v1h-1zM234 574h1v1h-1zM76 306h1v1h-1zM319 278h1v1h-1zM354 177h1v1h-1zM95 218h1v1h-1zM247 292h1v1h-1zM426 234h1v1h-1zM150 480h1v1h-1zM69 85h1v1h-1zM599 176h1v1h-1zM442 293h1v1h-1zM228 352h1v1h-1zM108 432h1v1h-1zM422 107h1v1h-1zM90 505h1v1h-1zM418 334h1v1h-1zM108 604h1v1h-1zM484 392h1v1h-1zM388 186h1v1h-1zM579 306h1v1h-1zM487 351h1v1h-1zM123 268h1v1h-1zM448 367h1v1h-1zM308 215h1v1h-1zM282 295h1v1h-1zM217 501h1v1h-1zM537 162h1v1h-1zM352 513h1v1h-1zM435 146h1v1h-1zM377 155h1v1h-1zM186 389h1v1h-1zM96 504h1v1h-1zM270 377h1v1h-1zM362 512h1v1h-1zM357 99h1v1h-1zM147 596h1v1h-1zM482 496h1v1h-1zM519 172h1v1h-1zM109 531h1v1h-1zM384 286h1v1h-1zM263 159h1v1h-1zM560 76h1v1h-1zM483 458h1v1h-1zM166 217h1v1h-1zM173 158h1v1h-1zM190 434h1v1h-1zM488 436h1v1h-1zM499 350h1v1h-1zM421 104h1v1h-1zM166 312h1v1h-1zM276 75h1v1h-1zM181 296h1v1h-1zM208 157h1v1h-1zM144 72h1v1h-1zM511 583h1v1h-1zM201 608h1v1h-1zM272 211h1v1h-1zM265 445h1v1h-1zM104 196h1v1h-1zM307 501h1v1h-1zM146 304h1v1h-1zM147 169h1v1h-1zM340 382h1v1h-1zM471 214h1v1h-1zM231 309h1v1h-1zM214 576h1v1h-1zM174 110h1v1h-1zM528 530h1v1h-1zM263 490h1v1h-1zM439 351h1v1h-1zM172 303h1v1h-1zM150 151h1v1h-1zM106 356h1v1h-1zM583 73h1v1h-1zM240 88h1v1h-1zM401 144h1v1h-1zM177 366h1v1h-1zM88 119h1v1h-1zM291 557h1v1h-1zM440 573h1v1h-1zM452 157h1v1h-1zM596 254h1v1h-1zM497 496h1v1h-1zM256 602h1v1h-1zM79 254h1v1h-1zM122 224h1v1h-1zM149 372h1v1h-1zM146 92h1v1h-1zM252 580h1v1h-1zM383 293h1v1h-1zM237 439h1v1h-1zM251 471h1v1h-1zM266 454h1v1h-1zM358 326h1v1h-1zM115 78h1v1h-1zM480 579h1v1h-1zM499 146h1v1h-1zM275 396h1v1h-1zM163 514h1v1h-1zM382 306h1v1h-1zM315 89h1v1h-1zM379 207h1v1h-1zM586 275h1v1h-1zM434 362h1v1h-1zM259 387h1v1h-1zM146 205h1v1h-1zM218 384h1v1h-1zM217 433h1v1h-1zM397 295h1v1h-1zM341 582h1v1h-1zM167 497h1v1h-1zM450 531h1v1h-1zM133 286h1v1h-1zM444 153h1v1h-1zM557 306h1v1h-1zM100 462h1v1h-1zM333 610h1v1h-1zM163 364h1v1h-1zM536 604h1v1h-1zM607 173h1v1h-1zM80 260h1v1h-1zM411 155h1v1h-1zM546 442h1v1h-1zM240 339h1v1h-1zM569 556h1v1h-1zM170 523h1v1h-1zM549 584h1v1h-1zM76 467h1v1h-1zM455 584h1v1h-1zM448 141h1v1h-1zM531 253h1v1h-1zM416 196h1v1h-1zM233 405h1v1h-1zM232 71h1v1h-1zM444 457h1v1h-1zM349 575h1v1h-1zM514 261h1v1h-1zM586 336h1v1h-1zM335 372h1v1h-1zM340 109h1v1h-1zM548 330h1v1h-1zM370 235h1v1h-1zM323 556h1v1h-1zM176 580h1v1h-1zM121 78h1v1h-1zM478 476h1v1h-1zM150 217h1v1h-1zM431 576h1v1h-1zM307 311h1v1h-1zM112 321h1v1h-1zM237 412h1v1h-1zM168 222h1v1h-1zM279 85h1v1h-1zM138 429h1v1h-1zM592 597h1v1h-1zM486 522h1v1h-1zM277 74h1v1h-1zM458 289h1v1h-1zM211 320h1v1h-1zM337 562h1v1h-1zM534 201h1v1h-1zM259 444h1v1h-1zM587 330h1v1h-1zM172 433h1v1h-1zM161 515h1v1h-1zM247 455h1v1h-1zM554 563h1v1h-1zM441 505h1v1h-1zM219 596h1v1h-1zM340 228h1v1h-1zM550 490h1v1h-1zM365 531h1v1h-1zM135 538h1v1h-1zM582 552h1v1h-1zM490 357h1v1h-1zM507 460h1v1h-1zM185 456h1v1h-1zM167 415h1v1h-1zM174 415h1v1h-1zM245 95h1v1h-1zM110 300h1v1h-1zM427 216h1v1h-1zM525 273h1v1h-1zM399 96h1v1h-1zM270 313h1v1h-1zM103 463h1v1h-1zM137 279h1v1h-1zM86 503h1v1h-1zM200 427h1v1h-1zM71 141h1v1h-1zM583 520h1v1h-1zM596 442h1v1h-1zM100 269h1v1h-1zM278 391h1v1h-1zM75 180h1v1h-1zM553 254h1v1h-1zM423 270h1v1h-1zM406 573h1v1h-1zM210 567h1v1h-1zM217 327h1v1h-1zM102 263h1v1h-1zM191 558h1v1h-1zM451 126h1v1h-1zM530 458h1v1h-1zM388 439h1v1h-1zM377 239h1v1h-1zM579 392h1v1h-1zM137 382h1v1h-1zM102 515h1v1h-1zM234 335h1v1h-1zM390 590h1v1h-1zM257 337h1v1h-1zM102 488h1v1h-1zM344 292h1v1h-1zM410 594h1v1h-1zM245 192h1v1h-1zM243 190h1v1h-1zM299 435h1v1h-1zM181 441h1v1h-1zM609 311h1v1h-1zM563 556h1v1h-1zM338 72h1v1h-1zM351 147h1v1h-1zM169 488h1v1h-1zM448 387h1v1h-1zM92 488h1v1h-1zM256 538h1v1h-1zM100 169h1v1h-1zM325 283h1v1h-1zM272 236h1v1h-1zM350 170h1v1h-1zM351 366h1v1h-1zM75 510h1v1h-1zM312 538h1v1h-1zM581 252h1v1h-1zM584 609h1v1h-1zM378 161h1v1h-1zM434 158h1v1h-1zM226 450h1v1h-1zM101 132h1v1h-1zM277 511h1v1h-1zM240 517h1v1h-1zM414 307h1v1h-1zM599 368h1v1h-1zM315 348h1v1h-1zM303 261h1v1h-1zM71 226h1v1h-1zM160 587h1v1h-1zM131 294h1v1h-1zM85 423h1v1h-1zM548 209h1v1h-1zM604 518h1v1h-1zM181 497h1v1h-1zM167 521h1v1h-1zM145 146h1v1h-1zM460 353h1v1h-1zM133 74h1v1h-1zM105 244h1v1h-1zM104 403h1v1h-1zM497 531h1v1h-1zM136 376h1v1h-1zM467 534h1v1h-1zM600 281h1v1h-1zM305 428h1v1h-1zM299 213h1v1h-1zM397 203h1v1h-1zM123 412h1v1h-1zM195 131h1v1h-1zM144 166h1v1h-1zM304 318h1v1h-1zM92 243h1v1h-1zM548 371h1v1h-1zM265 170h1v1h-1zM500 458h1v1h-1zM277 534h1v1h-1zM73 355h1v1h-1zM456 392h1v1h-1zM253 512h1v1h-1zM129 78h1v1h-1zM268 499h1v1h-1zM539 593h1v1h-1zM207 187h1v1h-1zM159 554h1v1h-1zM276 403h1v1h-1zM128 387h1v1h-1zM173 229h1v1h-1zM463 383h1v1h-1zM211 380h1v1h-1zM71 380h1v1h-1zM492 215h1v1h-1zM547 180h1v1h-1zM157 462h1v1h-1zM341 70h1v1h-1zM142 542h1v1h-1zM576 203h1v1h-1zM150 405h1v1h-1zM389 196h1v1h-1zM229 160h1v1h-1zM336 81h1v1h-1zM520 175h1v1h-1zM580 266h1v1h-1zM164 145h1v1h-1zM520 318h1v1h-1zM288 120h1v1h-1zM566 409h1v1h-1zM163 342h1v1h-1zM583 609h1v1h-1zM597 484h1v1h-1zM133 410h1v1h-1zM143 432h1v1h-1zM254 385h1v1h-1zM514 336h1v1h-1zM235 330h1v1h-1zM163 214h1v1h-1zM338 344h1v1h-1zM515 308h1v1h-1zM182 522h1v1h-1zM364 601h1v1h-1zM184 440h1v1h-1zM212 342h1v1h-1zM381 534h1v1h-1zM86 545h1v1h-1zM494 182h1v1h-1zM277 598h1v1h-1zM393 390h1v1h-1zM96 500h1v1h-1zM417 567h1v1h-1zM418 414h1v1h-1zM601 450h1v1h-1zM161 597h1v1h-1zM603 221h1v1h-1zM366 275h1v1h-1zM362 415h1v1h-1zM205 321h1v1h-1zM610 91h1v1h-1zM405 112h1v1h-1zM233 523h1v1h-1zM489 128h1v1h-1zM181 299h1v1h-1zM492 256h1v1h-1zM97 184h1v1h-1zM337 338h1v1h-1zM128 544h1v1h-1zM592 583h1v1h-1zM316 606h1v1h-1zM567 70h1v1h-1zM338 312h1v1h-1zM381 382h1v1h-1zM432 387h1v1h-1zM267 160h1v1h-1zM271 154h1v1h-1zM460 262h1v1h-1zM173 341h1v1h-1zM349 453h1v1h-1zM124 592h1v1h-1zM250 248h1v1h-1zM451 422h1v1h-1zM146 135h1v1h-1zM223 259h1v1h-1zM218 479h1v1h-1zM491 163h1v1h-1zM377 561h1v1h-1zM215 226h1v1h-1zM80 519h1v1h-1zM371 222h1v1h-1zM371 447h1v1h-1zM236 417h1v1h-1zM207 195h1v1h-1zM294 584h1v1h-1zM342 533h1v1h-1zM176 108h1v1h-1zM556 108h1v1h-1zM283 145h1v1h-1zM74 565h1v1h-1zM110 352h1v1h-1zM125 267h1v1h-1zM481 386h1v1h-1zM503 575h1v1h-1zM133 548h1v1h-1zM75 405h1v1h-1zM103 260h1v1h-1zM97 526h1v1h-1zM233 378h1v1h-1zM541 258h1v1h-1zM76 117h1v1h-1zM288 398h1v1h-1zM127 273h1v1h-1zM434 526h1v1h-1zM560 576h1v1h-1zM303 160h1v1h-1zM534 451h1v1h-1zM184 214h1v1h-1zM118 382h1v1h-1zM184 308h1v1h-1zM87 463h1v1h-1zM284 539h1v1h-1zM75 510h1v1h-1zM108 305h1v1h-1zM362 200h1v1h-1zM504 384h1v1h-1zM94 422h1v1h-1zM481 372h1v1h-1zM137 577h1v1h-1zM183 342h1v1h-1zM461 434h1v1h-1zM416 143h1v1h-1zM293 124h1v1h-1zM222 295h1v1h-1zM466 391h1v1h-1zM244 199h1v1h-1zM301 246h1v1h-1zM309 307h1v1h-1zM383 304h1v1h-1zM212 491h1v1h-1zM213 337h1v1h-1zM243 183h1v1h-1zM229 468h1v1h-1zM154 358h1v1h-1zM283 298h1v1h-1zM134 444h1v1h-1zM335 357h1v1h-1zM516 316h1v1h-1zM453 134h1v1h-1zM193 580h1v1h-1zM279 557h1v1h-1zM608 358h1v1h-1zM121 86h1v1h-1zM293 355h1v1h-1zM360 127h1v1h-1zM263 182h1v1h-1zM349 507h1v1h-1zM261 180h1v1h-1zM212 368h1v1h-1zM125 518h1v1h-1zM142 310h1v1h-1zM548 610h1v1h-1zM524 257h1v1h-1zM194 492h1v1h-1zM475 112h1v1h-1zM197 312h1v1h-1zM144 592h1v1h-1zM448 440h1v1h-1zM108 427h1v1h-1zM459 262h1v1h-1zM249 550h1v1h-1zM164 85h1v1h-1zM390 163h1v1h-1zM407 410h1v1h-1zM437 114h1v1h-1zM551 503h1v1h-1zM375 384h1v1h-1zM249 542h1v1h-1zM289 579h1v1h-1zM281 433h1v1h-1zM197 241h1v1h-1zM304 213h1v1h-1zM176 265h1v1h-1zM81 416h1v1h-1zM295 385h1v1h-1zM341 309h1v1h-1zM368 480h1v1h-1zM155 370h1v1h-1zM333 574h1v1h-1zM87 268h1v1h-1zM196 401h1v1h-1zM105 209h1v1h-1zM243 139h1v1h-1zM212 352h1v1h-1zM518 460h1v1h-1zM481 189h1v1h-1zM159 214h1v1h-1zM414 517h1v1h-1zM428 114h1v1h-1zM133 445h1v1h-1zM567 127h1v1h-1zM148 454h1v1h-1zM231 547h1v1h-1zM472 396h1v1h-1zM210 466h1v1h-1zM164 204h1v1h-1zM74 161h1v1h-1zM99 411h1v1h-1zM83 579h1v1h-1zM188 76h1v1h-1zM150 331h1v1h-1zM339 558h1v1h-1zM170 567h1v1h-1zM522 166h1v1h-1zM385 147h1v1h-1zM214 350h1v1h-1zM152 142h1v1h-1zM145 597h1v1h-1zM136 573h1v1h-1zM201 86h1v1h-1zM248 295h1v1h-1zM608 372h1v1h-1zM488 251h1v1h-1zM429 176h1v1h-1zM509 568h1v1h-1zM364 262h1v1h-1zM137 467h1v1h-1zM565 557h1v1h-1zM102 515h1v1h-1zM348 287h1v1h-1zM120 296h1v1h-1zM133 150h1v1h-1zM514 239h1v1h-1zM377 209h1v1h-1zM134 197h1v1h-1zM87 528h1v1h-1zM278 561h1v1h-1zM233 581h1v1h-1zM272 73h1v1h-1zM159 211h1v1h-1zM416 324h1v1h-1zM115 527h1v1h-1zM95 74h1v1h-1zM174 491h1v1h-1zM412 235h1v1h-1zM172 206h1v1h-1zM387 593h1v1h-1zM382 365h1v1h-1zM418 187h1v1h-1zM296 378h1v1h-1zM334 406h1v1h-1zM412 445h1v1h-1zM103 358h1v1h-1zM536 510h1v1h-1zM600 198h1v1h-1zM440 243h1v1h-1zM278 243h1v1h-1zM557 249h1v1h-1zM446 188h1v1h-1zM148 385h1v1h-1zM183 110h1v1h-1zM88 152h1v1h-1zM161 594h1v1h-1zM109 324h1v1h-1zM399 460h1v1h-1zM152 145h1v1h-1zM299 414h1v1h-1zM181 568h1v1h-1zM81 191h1v1h-1zM397 164h1v1h-1zM454 556h1v1h-1zM513 84h1v1h-1zM244 574h1v1h-1zM352 466h1v1h-1zM238 247h1v1h-1zM526 360h1v1h-1zM110 403h1v1h-1zM239 391h1v1h-1zM294 552h1v1h-1zM262 222h1v1h-1zM336 72h1v1h-1zM435 206h1v1h-1zM175 505h1v1h-1zM574 134h1v1h-1zM159 515h1v1h-1zM565 570h1v1h-1zM122 586h1v1h-1zM372 428h1v1h-1zM562 130h1v1h-1zM463 558h1v1h-1zM493 473h1v1h-1zM82 113h1v1h-1zM154 589h1v1h-1zM174 552h1v1h-1zM512 425h1v1h-1zM572 388h1v1h-1zM140 486h1v1h-1zM583 436h1v1h-1zM569 353h1v1h-1zM321 160h1v1h-1zM312 609h1v1h-1zM207 577h1v1h-1zM293 601h1v1h-1zM312 123h1v1h-1zM95 555h1v1h-1zM405 201h1v1h-1zM376 507h1v1h-1zM81 495h1v1h-1zM443 219h1v1h-1zM227 319h1v1h-1zM112 203h1v1h-1zM460 513h1v1h-1zM518 503h1v1h-1zM401 233h1v1h-1zM438 164h1v1h-1zM356 77h1v1h-1zM242 549h1v1h-1zM474 452h1v1h-1zM404 101h1v1h-1zM464 315h1v1h-1zM560 147h1v1h-1zM554 311h1v1h-1zM312 577h1v1h-1zM127 524h1v1h-1zM207 110h1v1h-1zM285 91h1v1h-1zM572 449h1v1h-1zM574 93h1v1h-1zM321 328h1v1h-1zM140 401h1v1h-1zM598 510h1v1h-1zM486 219h1v1h-1zM441 318h1v1h-1zM293 382h1v1h-1zM179 399h1v1h-1zM431 142h1v1h-1zM143 503h1v1h-1zM180 607h1v1h-1zM519 366h1v1h-1zM235 300h1v1h-1zM401 486h1v1h-1zM491 214h1v1h-1zM138 148h1v1h-1zM107 415h1v1h-1zM445 205h1v1h-1zM238 275h1v1h-1zM148 250h1v1h-1zM347 349h1v1h-1zM261 125h1v1h-1zM254 304h1v1h-1zM385 500h1v1h-1zM184 331h1v1h-1zM151 89h1v1h-1zM394 208h1v1h-1zM409 563h1v1h-1zM523 214h1v1h-1zM296 557h1v1h-1zM100 389h1v1h-1zM508 608h1v1h-1zM253 250h1v1h-1zM275 257h1v1h-1zM201 428h1v1h-1zM292 396h1v1h-1zM224 396h1v1h-1zM171 334h1v1h-1zM250 155h1v1h-1zM441 447h1v1h-1zM484 576h1v1h-1zM161 303h1v1h-1zM185 132h1v1h-1zM491 218h1v1h-1zM133 187h1v1h-1zM380 181h1v1h-1zM87 390h1v1h-1zM430 176h1v1h-1zM117 107h1v1h-1zM409 272h1v1h-1zM255 508h1v1h-1zM109 211h1v1h-1zM217 540h1v1h-1zM518 532h1v1h-1zM339 538h1v1h-1zM94 333h1v1h-1zM319 177h1v1h-1zM329 449h1v1h-1zM299 340h1v1h-1zM571 607h1v1h-1zM199 428h1v1h-1zM386 70h1v1h-1zM303 556h1v1h-1zM147 502h1v1h-1zM156 205h1v1h-1zM173 132h1v1h-1zM510 83h1v1h-1zM417 508h1v1h-1zM534 497h1v1h-1zM296 240h1v1h-1zM168 105h1v1h-1zM414 379h1v1h-1zM288 173h1v1h-1zM207 532h1v1h-1zM570 391h1v1h-1zM220 282h1v1h-1zM484 213h1v1h-1zM495 413h1v1h-1zM191 136h1v1h-1zM354 219h1v1h-1zM512 477h1v1h-1zM481 442h1v1h-1zM347 526h1v1h-1zM127 488h1v1h-1zM249 267h1v1h-1zM415 507h1v1h-1zM244 303h1v1h-1zM451 384h1v1h-1zM161 333h1v1h-1zM487 476h1v1h-1zM211 521h1v1h-1zM105 609h1v1h-1zM101 598h1v1h-1zM537 106h1v1h-1zM476 216h1v1h-1zM143 589h1v1h-1zM495 350h1v1h-1zM324 563h1v1h-1zM341 487h1v1h-1zM461 378h1v1h-1zM150 451h1v1h-1zM423 443h1v1h-1zM248 400h1v1h-1zM110 449h1v1h-1zM122 514h1v1h-1zM547 516h1v1h-1zM448 80h1v1h-1zM149 485h1v1h-1zM494 457h1v1h-1zM109 554h1v1h-1zM407 363h1v1h-1zM218 295h1v1h-1zM393 353h1v1h-1zM97 155h1v1h-1zM481 434h1v1h-1zM211 347h1v1h-1zM131 372h1v1h-1zM217 573h1v1h-1zM214 422h1v1h-1zM83 110h1v1h-1zM285 374h1v1h-1zM137 194h1v1h-1zM527 518h1v1h-1zM258 570h1v1h-1zM515 237h1v1h-1zM451 129h1v1h-1zM107 366h1v1h-1zM599 191h1v1h-1zM404 189h1v1h-1zM204 553h1v1h-1zM241 431h1v1h-1zM577 178h1v1h-1zM453 125h1v1h-1zM196 505h1v1h-1zM230 481h1v1h-1zM219 393h1v1h-1zM315 382h1v1h-1zM137 592h1v1h-1zM580 552h1v1h-1zM408 584h1v1h-1zM608 375h1v1h-1zM480 173h1v1h-1zM301 83h1v1h-1zM96 431h1v1h-1zM244 548h1v1h-1zM130 521h1v1h-1zM169 609h1v1h-1zM533 414h1v1h-1zM332 70h1v1h-1zM106 437h1v1h-1zM215 257h1v1h-1zM97 494h1v1h-1zM221 565h1v1h-1zM466 162h1v1h-1zM249 543h1v1h-1zM329 267h1v1h-1zM268 125h1v1h-1zM226 432h1v1h-1zM370 231h1v1h-1zM337 364h1v1h-1zM393 490h1v1h-1zM504 232h1v1h-1zM174 316h1v1h-1zM518 417h1v1h-1zM289 116h1v1h-1zM80 322h1v1h-1zM214 360h1v1h-1zM73 506h1v1h-1zM603 534h1v1h-1zM392 173h1v1h-1zM177 499h1v1h-1zM143 310h1v1h-1zM187 401h1v1h-1zM187 484h1v1h-1zM321 465h1v1h-1zM102 435h1v1h-1zM86 595h1v1h-1zM601 499h1v1h-1zM296 508h1v1h-1zM107 335h1v1h-1zM539 294h1v1h-1zM130 270h1v1h-1zM131 78h1v1h-1zM318 365h1v1h-1zM594 254h1v1h-1zM422 362h1v1h-1zM385 296h1v1h-1zM348 262h1v1h-1zM246 514h1v1h-1zM258 306h1v1h-1zM132 181h1v1h-1zM472 556h1v1h-1zM333 123h1v1h-1zM90 209h1v1h-1zM449 389h1v1h-1zM102 348h1v1h-1zM517 298h1v1h-1zM303 449h1v1h-1zM258 580h1v1h-1zM537 449h1v1h-1zM553 266h1v1h-1zM323 565h1v1h-1zM150 495h1v1h-1zM163 107h1v1h-1zM346 437h1v1h-1zM268 242h1v1h-1zM104 296h1v1h-1zM155 255h1v1h-1zM524 530h1v1h-1zM168 136h1v1h-1zM555 118h1v1h-1zM216 447h1v1h-1zM182 266h1v1h-1zM337 174h1v1h-1zM212 533h1v1h-1zM78 326h1v1h-1zM241 240h1v1h-1zM300 318h1v1h-1zM182 429h1v1h-1zM303 529h1v1h-1zM561 556h1v1h-1zM238 319h1v1h-1zM313 101h1v1h-1zM485 357h1v1h-1zM111 87h1v1h-1zM294 263h1v1h-1zM351 325h1v1h-1zM84 368h1v1h-1zM427 407h1v1h-1zM283 534h1v1h-1zM192 364h1v1h-1zM252 121h1v1h-1zM481 285h1v1h-1zM455 396h1v1h-1zM382 206h1v1h-1zM145 605h1v1h-1zM162 218h1v1h-1zM463 442h1v1h-1zM84 180h1v1h-1zM403 475h1v1h-1zM503 531h1v1h-1zM259 550h1v1h-1zM427 448h1v1h-1zM178 170h1v1h-1zM549 257h1v1h-1zM520 337h1v1h-1zM352 454h1v1h-1zM179 570h1v1h-1zM97 517h1v1h-1zM291 329h1v1h-1zM161 156h1v1h-1zM226 129h1v1h-1zM501 293h1v1h-1zM316 302h1v1h-1zM517 565h1v1h-1zM586 600h1v1h-1zM583 110h1v1h-1zM208 568h1v1h-1zM444 266h1v1h-1zM289 495h1v1h-1zM300 387h1v1h-1zM315 116h1v1h-1zM339 380h1v1h-1zM573 261h1v1h-1zM459 537h1v1h-1zM203 544h1v1h-1zM179 539h1v1h-1zM351 315h1v1h-1zM105 476h1v1h-1zM529 576h1v1h-1zM264 524h1v1h-1zM458 578h1v1h-1zM272 464h1v1h-1zM488 127h1v1h-1zM588 545h1v1h-1zM308 349h1v1h-1zM196 228h1v1h-1zM323 422h1v1h-1zM350 247h1v1h-1zM157 212h1v1h-1zM305 384h1v1h-1zM442 75h1v1h-1zM92 163h1v1h-1zM283 576h1v1h-1zM121 314h1v1h-1zM133 455h1v1h-1zM522 415h1v1h-1zM85 459h1v1h-1zM226 573h1v1h-1zM344 76h1v1h-1zM73 124h1v1h-1zM185 480h1v1h-1zM89 247h1v1h-1zM205 363h1v1h-1zM369 319h1v1h-1zM394 256h1v1h-1zM452 390h1v1h-1zM205 344h1v1h-1zM124 271h1v1h-1zM526 527h1v1h-1zM446 185h1v1h-1zM443 324h1v1h-1zM470 317h1v1h-1zM573 525h1v1h-1zM86 256h1v1h-1zM535 71h1v1h-1zM211 529h1v1h-1zM372 254h1v1h-1zM247 104h1v1h-1zM147 519h1v1h-1zM292 601h1v1h-1zM87 352h1v1h-1zM397 127h1v1h-1zM350 178h1v1h-1zM411 423h1v1h-1zM249 590h1v1h-1zM114 213h1v1h-1zM488 467h1v1h-1zM103 562h1v1h-1zM435 580h1v1h-1zM329 314h1v1h-1zM370 317h1v1h-1zM78 243h1v1h-1zM270 453h1v1h-1zM166 559h1v1h-1zM133 401h1v1h-1zM267 441h1v1h-1zM239 170h1v1h-1zM368 336h1v1h-1zM263 272h1v1h-1zM471 249h1v1h-1zM301 141h1v1h-1zM147 232h1v1h-1zM271 159h1v1h-1zM417 104h1v1h-1zM357 567h1v1h-1zM224 150h1v1h-1zM163 447h1v1h-1zM568 105h1v1h-1zM209 458h1v1h-1zM574 542h1v1h-1zM96 389h1v1h-1zM569 493h1v1h-1zM384 165h1v1h-1zM306 245h1v1h-1zM141 335h1v1h-1zM78 509h1v1h-1zM536 228h1v1h-1zM357 605h1v1h-1zM507 441h1v1h-1zM572 524h1v1h-1zM185 572h1v1h-1zM214 188h1v1h-1zM532 493h1v1h-1zM132 134h1v1h-1zM506 580h1v1h-1zM351 511h1v1h-1zM238 250h1v1h-1zM278 608h1v1h-1zM441 577h1v1h-1zM259 474h1v1h-1zM146 199h1v1h-1zM590 441h1v1h-1zM515 261h1v1h-1zM473 427h1v1h-1zM435 292h1v1h-1zM378 142h1v1h-1zM456 292h1v1h-1zM201 328h1v1h-1zM76 420h1v1h-1zM70 464h1v1h-1zM192 264h1v1h-1zM75 123h1v1h-1zM114 253h1v1h-1zM393 473h1v1h-1zM340 79h1v1h-1zM598 418h1v1h-1zM538 120h1v1h-1zM104 98h1v1h-1zM507 189h1v1h-1zM273 522h1v1h-1zM97 254h1v1h-1zM187 123h1v1h-1zM284 609h1v1h-1zM118 530h1v1h-1zM151 200h1v1h-1zM98 483h1v1h-1zM361 546h1v1h-1zM246 126h1v1h-1zM241 366h1v1h-1zM156 486h1v1h-1zM69 545h1v1h-1zM192 91h1v1h-1zM294 477h1v1h-1zM581 266h1v1h-1zM291 526h1v1h-1zM311 573h1v1h-1zM563 337h1v1h-1zM508 430h1v1h-1zM255 291h1v1h-1zM584 172h1v1h-1zM160 232h1v1h-1zM598 439h1v1h-1zM121 285h1v1h-1zM585 605h1v1h-1zM306 583h1v1h-1zM104 414h1v1h-1zM92 363h1v1h-1zM107 71h1v1h-1zM232 528h1v1h-1zM465 311h1v1h-1zM264 284h1v1h-1zM607 194h1v1h-1zM329 94h1v1h-1zM238 504h1v1h-1zM277 456h1v1h-1zM151 131h1v1h-1zM573 562h1v1h-1zM158 201h1v1h-1zM253 73h1v1h-1zM85 95h1v1h-1zM93 177h1v1h-1zM213 364h1v1h-1zM442 404h1v1h-1zM528 319h1v1h-1zM559 457h1v1h-1zM397 353h1v1h-1zM157 155h1v1h-1zM260 150h1v1h-1zM100 301h1v1h-1zM83 162h1v1h-1zM423 150h1v1h-1zM556 137h1v1h-1zM274 285h1v1h-1zM76 137h1v1h-1zM482 329h1v1h-1zM157 316h1v1h-1zM293 296h1v1h-1zM565 258h1v1h-1zM77 325h1v1h-1zM108 97h1v1h-1zM123 361h1v1h-1zM402 249h1v1h-1zM527 208h1v1h-1zM215 283h1v1h-1zM376 507h1v1h-1zM573 602h1v1h-1zM179 190h1v1h-1zM503 369h1v1h-1zM388 161h1v1h-1zM375 241h1v1h-1zM193 176h1v1h-1zM114 239h1v1h-1zM459 326h1v1h-1zM260 336h1v1h-1zM348 168h1v1h-1zM242 400h1v1h-1zM592 326h1v1h-1zM454 469h1v1h-1zM181 180h1v1h-1zM495 334h1v1h-1zM125 529h1v1h-1zM536 127h1v1h-1zM339 292h1v1h-1zM233 272h1v1h-1zM235 415h1v1h-1zM102 597h1v1h-1zM458 275h1v1h-1zM540 575h1v1h-1zM414 117h1v1h-1zM416 156h1v1h-1zM274 472h1v1h-1zM410 355h1v1h-1zM277 350h1v1h-1zM106 366h1v1h-1zM429 204h1v1h-1zM316 514h1v1h-1zM404 87h1v1h-1zM428 468h1v1h-1zM386 396h1v1h-1zM184 431h1v1h-1zM603 398h1v1h-1zM532 602h1v1h-1zM333 393h1v1h-1zM394 566h1v1h-1zM145 439h1v1h-1zM103 398h1v1h-1zM212 365h1v1h-1zM377 312h1v1h-1zM79 500h1v1h-1zM309 316h1v1h-1zM207 596h1v1h-1zM429 224h1v1h-1zM227 455h1v1h-1zM382 160h1v1h-1zM181 311h1v1h-1zM417 502h1v1h-1zM450 410h1v1h-1zM73 104h1v1h-1zM512 510h1v1h-1zM363 296h1v1h-1zM316 498h1v1h-1zM150 593h1v1h-1zM610 482h1v1h-1zM99 263h1v1h-1zM73 102h1v1h-1zM369 229h1v1h-1zM308 137h1v1h-1zM594 198h1v1h-1zM420 514h1v1h-1zM385 96h1v1h-1zM254 253h1v1h-1zM327 574h1v1h-1zM273 72h1v1h-1zM532 445h1v1h-1zM431 364h1v1h-1zM488 108h1v1h-1zM277 321h1v1h-1zM149 95h1v1h-1zM109 441h1v1h-1zM563 258h1v1h-1zM175 135h1v1h-1zM312 284h1v1h-1zM228 361h1v1h-1zM75 190h1v1h-1zM286 74h1v1h-1zM85 584h1v1h-1zM249 404h1v1h-1zM561 471h1v1h-1zM468 375h1v1h-1zM433 563h1v1h-1zM74 305h1v1h-1zM137 247h1v1h-1zM485 538h1v1h-1zM484 101h1v1h-1zM256 596h1v1h-1zM188 156h1v1h-1zM537 486h1v1h-1zM154 411h1v1h-1zM197 94h1v1h-1zM382 316h1v1h-1zM374 186h1v1h-1zM472 521h1v1h-1zM521 559h1v1h-1zM221 408h1v1h-1zM166 369h1v1h-1zM204 92h1v1h-1zM74 241h1v1h-1zM365 274h1v1h-1zM272 425h1v1h-1zM488 313h1v1h-1zM580 152h1v1h-1zM505 574h1v1h-1zM160 587h1v1h-1zM145 360h1v1h-1zM373 139h1v1h-1zM236 166h1v1h-1zM139 149h1v1h-1zM219 604h1v1h-1zM69 166h1v1h-1zM70 368h1v1h-1zM136 535h1v1h-1zM517 403h1v1h-1zM180 118h1v1h-1zM81 420h1v1h-1zM273 211h1v1h-1zM114 173h1v1h-1zM429 602h1v1h-1zM404 580h1v1h-1zM70 80h1v1h-1zM251 229h1v1h-1zM70 487h1v1h-1zM71 196h1v1h-1zM306 561h1v1h-1zM137 320h1v1h-1zM163 272h1v1h-1zM323 478h1v1h-1zM457 442h1v1h-1zM154 441h1v1h-1zM127 470h1v1h-1zM81 145h1v1h-1zM174 175h1v1h-1zM71 391h1v1h-1zM456 78h1v1h-1zM249 326h1v1h-1zM109 540h1v1h-1zM431 124h1v1h-1zM207 128h1v1h-1zM598 538h1v1h-1zM112 210h1v1h-1zM102 450h1v1h-1zM70 161h1v1h-1zM218 128h1v1h-1zM177 524h1v1h-1zM564 610h1v1h-1zM93 543h1v1h-1zM214 140h1v1h-1zM578 134h1v1h-1zM558 250h1v1h-1zM464 583h1v1h-1zM343 213h1v1h-1zM397 268h1v1h-1zM413 246h1v1h-1zM576 427h1v1h-1zM409 489h1v1h-1zM97 499h1v1h-1zM392 417h1v1h-1zM529 151h1v1h-1zM256 232h1v1h-1zM482 438h1v1h-1zM123 425h1v1h-1zM279 268h1v1h-1zM340 488h1v1h-1zM431 392h1v1h-1zM412 264h1v1h-1zM425 421h1v1h-1zM358 510h1v1h-1zM149 579h1v1h-1zM136 485h1v1h-1zM525 309h1v1h-1zM234 574h1v1h-1zM485 599h1v1h-1zM533 607h1v1h-1zM589 587h1v1h-1zM566 367h1v1h-1zM457 558h1v1h-1zM606 381h1v1h-1zM155 577h1v1h-1zM421 262h1v1h-1zM468 123h1v1h-1zM589 70h1v1h-1zM432 188h1v1h-1zM397 291h1v1h-1zM213 285h1v1h-1zM502 410h1v1h-1zM349 470h1v1h-1zM255 424h1v1h-1zM157 294h1v1h-1zM351 267h1v1h-1zM556 554h1v1h-1zM426 290h1v1h-1zM225 216h1v1h-1zM517 189h1v1h-1zM194 85h1v1h-1zM334 383h1v1h-1zM608 441h1v1h-1zM133 225h1v1h-1zM532 130h1v1h-1zM227 453h1v1h-1zM362 593h1v1h-1zM170 239h1v1h-1zM109 162h1v1h-1zM72 447h1v1h-1zM252 363h1v1h-1zM215 233h1v1h-1zM535 238h1v1h-1zM187 232h1v1h-1zM363 506h1v1h-1zM102 448h1v1h-1zM137 326h1v1h-1zM538 144h1v1h-1zM106 155h1v1h-1zM328 304h1v1h-1zM541 73h1v1h-1zM91 454h1v1h-1zM391 249h1v1h-1zM430 517h1v1h-1zM443 215h1v1h-1zM338 81h1v1h-1zM216 542h1v1h-1zM506 317h1v1h-1zM119 397h1v1h-1zM610 334h1v1h-1zM317 441h1v1h-1zM325 405h1v1h-1zM499 292h1v1h-1zM119 348h1v1h-1zM140 548h1v1h-1zM278 265h1v1h-1zM281 569h1v1h-1zM252 217h1v1h-1zM85 262h1v1h-1zM132 209h1v1h-1zM103 209h1v1h-1zM307 315h1v1h-1zM525 446h1v1h-1zM281 599h1v1h-1zM129 270h1v1h-1zM285 550h1v1h-1zM244 480h1v1h-1zM495 276h1v1h-1zM86 226h1v1h-1zM195 478h1v1h-1zM388 498h1v1h-1zM470 137h1v1h-1zM93 155h1v1h-1zM565 426h1v1h-1zM187 165h1v1h-1zM122 560h1v1h-1zM587 83h1v1h-1zM261 149h1v1h-1zM495 250h1v1h-1zM74 531h1v1h-1zM79 584h1v1h-1zM384 360h1v1h-1zM505 321h1v1h-1zM150 481h1v1h-1zM105 401h1v1h-1zM512 541h1v1h-1zM149 437h1v1h-1zM115 297h1v1h-1zM205 147h1v1h-1zM269 435h1v1h-1zM440 387h1v1h-1zM565 93h1v1h-1zM259 260h1v1h-1zM245 444h1v1h-1zM465 468h1v1h-1zM516 505h1v1h-1zM319 367h1v1h-1zM416 513h1v1h-1zM133 545h1v1h-1zM468 305h1v1h-1zM225 588h1v1h-1zM403 605h1v1h-1zM508 431h1v1h-1zM397 276h1v1h-1zM106 478h1v1h-1zM530 317h1v1h-1zM174 252h1v1h-1zM69 318h1v1h-1zM525 243h1v1h-1zM526 430h1v1h-1zM279 336h1v1h-1zM226 414h1v1h-1zM601 339h1v1h-1zM540 482h1v1h-1zM262 465h1v1h-1zM260 603h1v1h-1zM586 191h1v1h-1zM110 556h1v1h-1zM313 597h1v1h-1zM409 358h1v1h-1zM146 247h1v1h-1zM407 173h1v1h-1zM151 203h1v1h-1zM323 504h1v1h-1zM349 112h1v1h-1zM582 595h1v1h-1zM70 244h1v1h-1zM160 583h1v1h-1zM528 301h1v1h-1zM482 205h1v1h-1zM298 394h1v1h-1zM437 389h1v1h-1zM142 107h1v1h-1zM253 513h1v1h-1zM316 302h1v1h-1zM589 187h1v1h-1zM276 390h1v1h-1zM91 382h1v1h-1zM577 577h1v1h-1zM204 328h1v1h-1zM352 333h1v1h-1zM183 219h1v1h-1zM323 553h1v1h-1zM257 92h1v1h-1zM484 594h1v1h-1zM306 497h1v1h-1zM335 403h1v1h-1zM199 369h1v1h-1zM425 408h1v1h-1zM158 293h1v1h-1zM117 110h1v1h-1zM281 306h1v1h-1zM164 97h1v1h-1zM283 276h1v1h-1zM225 105h1v1h-1zM524 455h1v1h-1zM374 86h1v1h-1zM309 379h1v1h-1zM382 277h1v1h-1zM268 242h1v1h-1zM162 434h1v1h-1zM430 126h1v1h-1zM268 216h1v1h-1zM86 117h1v1h-1zM319 95h1v1h-1zM437 404h1v1h-1zM414 105h1v1h-1zM221 584h1v1h-1zM80 387h1v1h-1zM525 171h1v1h-1zM88 173h1v1h-1zM453 280h1v1h-1zM366 146h1v1h-1zM345 188h1v1h-1zM508 584h1v1h-1zM568 600h1v1h-1zM532 262h1v1h-1zM366 541h1v1h-1zM327 356h1v1h-1zM344 606h1v1h-1zM94 247h1v1h-1zM589 396h1v1h-1zM361 300h1v1h-1zM382 451h1v1h-1zM539 511h1v1h-1zM465 486h1v1h-1zM495 154h1v1h-1zM86 462h1v1h-1zM573 380h1v1h-1zM376 502h1v1h-1zM313 89h1v1h-1zM260 244h1v1h-1zM224 142h1v1h-1zM108 333h1v1h-1zM207 465h1v1h-1zM97 466h1v1h-1zM355 607h1v1h-1zM111 451h1v1h-1zM335 176h1v1h-1zM429 306h1v1h-1zM109 454h1v1h-1zM171 610h1v1h-1zM254 227h1v1h-1zM268 415h1v1h-1zM144 449h1v1h-1zM336 464h1v1h-1zM480 478h1v1h-1zM400 197h1v1h-1zM420 406h1v1h-1zM423 440h1v1h-1zM526 439h1v1h-1zM260 467h1v1h-1zM410 478h1v1h-1zM237 532h1v1h-1zM384 192h1v1h-1zM296 303h1v1h-1zM497 144h1v1h-1zM221 197h1v1h-1zM81 548h1v1h-1zM110 84h1v1h-1zM278 367h1v1h-1zM229 475h1v1h-1zM486 236h1v1h-1zM146 444h1v1h-1zM597 195h1v1h-1zM167 404h1v1h-1zM78 124h1v1h-1zM373 293h1v1h-1zM419 196h1v1h-1zM241 221h1v1h-1zM134 91h1v1h-1zM236 328h1v1h-1zM478 460h1v1h-1zM116 144h1v1h-1zM405 379h1v1h-1zM439 197h1v1h-1zM199 158h1v1h-1zM588 183h1v1h-1zM423 511h1v1h-1zM128 541h1v1h-1zM524 385h1v1h-1zM491 203h1v1h-1zM197 455h1v1h-1zM253 465h1v1h-1zM69 343h1v1h-1zM518 568h1v1h-1zM261 599h1v1h-1zM220 370h1v1h-1zM98 243h1v1h-1zM239 460h1v1h-1zM211 302h1v1h-1zM594 564h1v1h-1zM218 492h1v1h-1zM467 260h1v1h-1zM137 559h1v1h-1zM95 546h1v1h-1zM160 105h1v1h-1zM445 313h1v1h-1zM303 82h1v1h-1zM500 521h1v1h-1zM450 141h1v1h-1zM148 126h1v1h-1zM95 103h1v1h-1zM135 539h1v1h-1zM555 383h1v1h-1zM204 83h1v1h-1zM245 542h1v1h-1zM482 383h1v1h-1zM99 341h1v1h-1zM281 188h1v1h-1zM469 211h1v1h-1zM499 96h1v1h-1zM536 603h1v1h-1zM421 303h1v1h-1zM102 357h1v1h-1zM295 164h1v1h-1zM79 404h1v1h-1zM339 132h1v1h-1zM188 380h1v1h-1zM373 595h1v1h-1zM263 163h1v1h-1zM561 229h1v1h-1zM88 170h1v1h-1zM94 408h1v1h-1zM178 480h1v1h-1zM599 124h1v1h-1zM89 478h1v1h-1zM510 495h1v1h-1zM114 267h1v1h-1zM170 327h1v1h-1zM307 592h1v1h-1zM175 202h1v1h-1zM399 203h1v1h-1zM492 515h1v1h-1zM198 573h1v1h-1zM423 219h1v1h-1zM185 75h1v1h-1zM570 154h1v1h-1zM394 284h1v1h-1zM287 82h1v1h-1zM571 546h1v1h-1zM316 404h1v1h-1zM323 440h1v1h-1zM89 342h1v1h-1zM341 553h1v1h-1zM442 586h1v1h-1zM476 287h1v1h-1zM101 444h1v1h-1zM378 186h1v1h-1zM129 126h1v1h-1zM171 82h1v1h-1zM287 253h1v1h-1zM328 605h1v1h-1zM542 571h1v1h-1zM114 604h1v1h-1zM447 109h1v1h-1zM462 147h1v1h-1zM438 270h1v1h-1zM87 465h1v1h-1zM540 149h1v1h-1zM99 337h1v1h-1zM172 307h1v1h-1zM358 316h1v1h-1zM419 468h1v1h-1zM77 512h1v1h-1zM152 549h1v1h-1zM408 102h1v1h-1zM283 159h1v1h-1zM314 278h1v1h-1zM350 520h1v1h-1zM335 140h1v1h-1zM94 84h1v1h-1zM448 296h1v1h-1zM147 314h1v1h-1zM211 411h1v1h-1zM272 312h1v1h-1zM100 498h1v1h-1zM246 100h1v1h-1zM351 354h1v1h-1zM203 420h1v1h-1zM543 95h1v1h-1zM107 539h1v1h-1zM249 373h1v1h-1zM393 601h1v1h-1zM433 275h1v1h-1zM190 191h1v1h-1zM208 345h1v1h-1zM448 600h1v1h-1zM126 208h1v1h-1zM445 78h1v1h-1zM139 524h1v1h-1zM113 594h1v1h-1zM80 122h1v1h-1zM429 449h1v1h-1zM234 350h1v1h-1zM209 93h1v1h-1zM472 148h1v1h-1zM121 107h1v1h-1zM180 556h1v1h-1zM93 495h1v1h-1zM413 282h1v1h-1zM103 425h1v1h-1zM486 522h1v1h-1zM583 199h1v1h-1zM189 319h1v1h-1zM252 597h1v1h-1zM218 85h1v1h-1zM512 85h1v1h-1zM199 288h1v1h-1zM598 517h1v1h-1zM597 422h1v1h-1zM139 191h1v1h-1zM333 384h1v1h-1zM433 515h1v1h-1zM284 352h1v1h-1zM383 235h1v1h-1zM398 262h1v1h-1zM302 446h1v1h-1zM221 439h1v1h-1zM460 228h1v1h-1zM441 283h1v1h-1zM579 285h1v1h-1zM119 294h1v1h-1zM539 314h1v1h-1zM602 489h1v1h-1zM544 117h1v1h-1zM104 277h1v1h-1zM243 319h1v1h-1zM108 315h1v1h-1zM300 374h1v1h-1zM259 356h1v1h-1zM331 458h1v1h-1zM459 502h1v1h-1zM133 162h1v1h-1zM526 490h1v1h-1zM324 174h1v1h-1zM368 595h1v1h-1zM82 403h1v1h-1zM599 527h1v1h-1zM226 402h1v1h-1zM386 408h1v1h-1zM209 253h1v1h-1zM375 561h1v1h-1zM234 220h1v1h-1zM516 153h1v1h-1zM269 120h1v1h-1zM80 194h1v1h-1zM215 125h1v1h-1zM107 253h1v1h-1zM194 382h1v1h-1zM496 467h1v1h-1zM248 337h1v1h-1zM541 376h1v1h-1zM268 285h1v1h-1zM604 83h1v1h-1zM233 459h1v1h-1zM239 526h1v1h-1zM274 352h1v1h-1zM258 79h1v1h-1zM97 84h1v1h-1zM149 214h1v1h-1zM225 436h1v1h-1zM513 282h1v1h-1zM179 205h1v1h-1zM271 597h1v1h-1zM312 275h1v1h-1zM460 147h1v1h-1zM131 501h1v1h-1zM235 431h1v1h-1zM172 471h1v1h-1zM444 458h1v1h-1zM349 318h1v1h-1zM430 287h1v1h-1zM530 597h1v1h-1zM443 351h1v1h-1zM131 493h1v1h-1zM247 96h1v1h-1zM76 381h1v1h-1zM499 128h1v1h-1zM455 234h1v1h-1zM361 405h1v1h-1zM346 544h1v1h-1zM269 552h1v1h-1zM474 455h1v1h-1zM212 395h1v1h-1zM532 310h1v1h-1zM84 531h1v1h-1zM480 383h1v1h-1zM109 435h1v1h-1zM571 325h1v1h-1zM577 93h1v1h-1zM298 77h1v1h-1zM149 412h1v1h-1zM164 601h1v1h-1zM233 480h1v1h-1zM604 578h1v1h-1zM149 555h1v1h-1zM326 573h1v1h-1zM199 486h1v1h-1zM219 354h1v1h-1zM83 608h1v1h-1zM268 455h1v1h-1zM441 149h1v1h-1zM496 479h1v1h-1zM282 401h1v1h-1zM552 561h1v1h-1zM102 511h1v1h-1zM87 595h1v1h-1zM207 394h1v1h-1zM70 575h1v1h-1zM158 298h1v1h-1zM227 496h1v1h-1zM105 579h1v1h-1zM348 521h1v1h-1zM448 203h1v1h-1zM414 101h1v1h-1zM214 604h1v1h-1zM586 131h1v1h-1zM382 325h1v1h-1zM146 110h1v1h-1zM230 121h1v1h-1zM98 528h1v1h-1zM608 468h1v1h-1zM117 100h1v1h-1zM398 376h1v1h-1zM441 552h1v1h-1zM360 157h1v1h-1zM103 200h1v1h-1zM520 493h1v1h-1zM485 330h1v1h-1zM330 243h1v1h-1zM309 519h1v1h-1zM256 450h1v1h-1zM241 523h1v1h-1zM385 302h1v1h-1zM225 471h1v1h-1zM198 470h1v1h-1zM94 573h1v1h-1zM366 241h1v1h-1zM317 492h1v1h-1zM281 182h1v1h-1zM543 531h1v1h-1zM398 491h1v1h-1zM508 321h1v1h-1zM300 371h1v1h-1zM103 316h1v1h-1zM400 268h1v1h-1zM444 526h1v1h-1zM275 547h1v1h-1zM551 464h1v1h-1zM95 224h1v1h-1zM354 548h1v1h-1zM254 263h1v1h-1zM601 457h1v1h-1zM437 344h1v1h-1zM320 262h1v1h-1zM564 546h1v1h-1zM101 109h1v1h-1zM176 461h1v1h-1zM576 583h1v1h-1zM231 572h1v1h-1zM186 320h1v1h-1zM288 338h1v1h-1zM161 144h1v1h-1zM341 85h1v1h-1zM596 257h1v1h-1zM452 230h1v1h-1zM581 170h1v1h-1zM391 571h1v1h-1zM152 209h1v1h-1zM128 515h1v1h-1zM442 508h1v1h-1zM295 279h1v1h-1zM407 431h1v1h-1zM411 511h1v1h-1zM605 270h1v1h-1zM549 285h1v1h-1zM150 450h1v1h-1zM106 85h1v1h-1zM183 531h1v1h-1zM291 534h1v1h-1zM419 400h1v1h-1zM84 533h1v1h-1zM435 287h1v1h-1zM295 287h1v1h-1zM211 373h1v1h-1zM410 287h1v1h-1zM245 350h1v1h-1zM547 605h1v1h-1zM93 147h1v1h-1zM202 527h1v1h-1zM273 218h1v1h-1zM144 515h1v1h-1zM606 93h1v1h-1zM529 601h1v1h-1zM246 209h1v1h-1zM141 169h1v1h-1zM147 148h1v1h-1zM543 161h1v1h-1zM550 390h1v1h-1zM235 359h1v1h-1zM178 100h1v1h-1zM215 150h1v1h-1zM209 295h1v1h-1zM495 187h1v1h-1zM175 321h1v1h-1zM118 240h1v1h-1zM138 401h1v1h-1zM535 388h1v1h-1zM503 472h1v1h-1zM594 383h1v1h-1zM595 444h1v1h-1zM449 430h1v1h-1zM448 119h1v1h-1zM591 450h1v1h-1zM267 483h1v1h-1zM95 209h1v1h-1zM479 255h1v1h-1zM406 580h1v1h-1zM488 137h1v1h-1zM83 264h1v1h-1zM188 154h1v1h-1zM136 148h1v1h-1zM239 491h1v1h-1zM597 436h1v1h-1zM181 188h1v1h-1zM219 549h1v1h-1zM308 137h1v1h-1zM173 307h1v1h-1zM229 533h1v1h-1zM390 173h1v1h-1zM423 160h1v1h-1zM500 452h1v1h-1zM84 445h1v1h-1zM352 257h1v1h-1zM205 495h1v1h-1zM442 530h1v1h-1zM108 411h1v1h-1zM146 536h1v1h-1zM221 373h1v1h-1zM158 198h1v1h-1zM427 383h1v1h-1zM532 213h1v1h-1zM453 255h1v1h-1zM303 608h1v1h-1zM226 211h1v1h-1zM453 482h1v1h-1zM320 204h1v1h-1zM207 575h1v1h-1zM246 518h1v1h-1zM307 458h1v1h-1zM587 341h1v1h-1zM252 341h1v1h-1zM534 387h1v1h-1zM342 581h1v1h-1zM162 556h1v1h-1zM234 207h1v1h-1zM576 431h1v1h-1zM188 559h1v1h-1zM242 343h1v1h-1zM302 402h1v1h-1zM330 240h1v1h-1zM155 293h1v1h-1zM566 174h1v1h-1zM449 512h1v1h-1zM308 506h1v1h-1zM244 158h1v1h-1zM187 608h1v1h-1zM515 184h1v1h-1zM171 606h1v1h-1zM414 458h1v1h-1zM229 417h1v1h-1zM140 571h1v1h-1zM351 580h1v1h-1zM436 608h1v1h-1zM475 175h1v1h-1zM336 465h1v1h-1zM135 77h1v1h-1zM73 607h1v1h-1zM167 76h1v1h-1zM358 579h1v1h-1zM414 212h1v1h-1zM540 466h1v1h-1zM384 203h1v1h-1zM274 362h1v1h-1zM525 564h1v1h-1zM439 226h1v1h-1zM72 376h1v1h-1zM358 558h1v1h-1zM90 485h1v1h-1zM104 539h1v1h-1zM154 585h1v1h-1zM585 200h1v1h-1zM152 526h1v1h-1zM192 95h1v1h-1zM148 573h1v1h-1zM125 575h1v1h-1zM470 457h1v1h-1zM107 541h1v1h-1zM511 571h1v1h-1zM138 307h1v1h-1zM110 214h1v1h-1zM132 227h1v1h-1zM490 139h1v1h-1zM168 551h1v1h-1zM437 508h1v1h-1zM86 221h1v1h-1zM250 415h1v1h-1zM399 261h1v1h-1zM182 569h1v1h-1zM453 325h1v1h-1zM110 487h1v1h-1zM129 573h1v1h-1zM585 358h1v1h-1zM195 150h1v1h-1zM139 71h1v1h-1zM550 420h1v1h-1zM285 81h1v1h-1zM549 347h1v1h-1zM508 449h1v1h-1zM341 221h1v1h-1zM482 285h1v1h-1zM565 466h1v1h-1zM460 467h1v1h-1zM425 590h1v1h-1zM319 332h1v1h-1zM595 259h1v1h-1zM243 409h1v1h-1zM336 604h1v1h-1zM414 351h1v1h-1zM401 226h1v1h-1zM81 108h1v1h-1zM285 596h1v1h-1zM175 378h1v1h-1zM102 401h1v1h-1zM537 184h1v1h-1zM125 580h1v1h-1zM90 563h1v1h-1zM458 179h1v1h-1zM379 447h1v1h-1zM348 444h1v1h-1zM70 83h1v1h-1zM273 289h1v1h-1zM431 369h1v1h-1zM69 538h1v1h-1zM93 326h1v1h-1zM608 183h1v1h-1zM351 347h1v1h-1zM341 398h1v1h-1zM557 548h1v1h-1zM329 139h1v1h-1zM154 492h1v1h-1zM123 340h1v1h-1zM101 142h1v1h-1zM592 98h1v1h-1zM438 368h1v1h-1zM392 193h1v1h-1zM258 483h1v1h-1zM343 394h1v1h-1zM462 296h1v1h-1zM327 77h1v1h-1zM170 132h1v1h-1zM283 409h1v1h-1zM566 237h1v1h-1zM589 117h1v1h-1zM116 307h1v1h-1zM554 218h1v1h-1zM262 604h1v1h-1zM374 110h1v1h-1zM339 351h1v1h-1zM596 137h1v1h-1zM462 558h1v1h-1zM81 70h1v1h-1zM119 409h1v1h-1zM516 207h1v1h-1zM357 278h1v1h-1zM474 182h1v1h-1zM396 197h1v1h-1zM354 447h1v1h-1zM368 506h1v1h-1zM381 99h1v1h-1zM395 121h1v1h-1zM286 82h1v1h-1zM171 413h1v1h-1zM393 131h1v1h-1zM396 131h1v1h-1zM110 410h1v1h-1zM396 381h1v1h-1zM604 559h1v1h-1zM596 522h1v1h-1zM508 178h1v1h-1zM118 450h1v1h-1zM325 509h1v1h-1zM69 420h1v1h-1zM87 342h1v1h-1zM154 326h1v1h-1zM580 361h1v1h-1zM152 396h1v1h-1zM428 107h1v1h-1zM297 530h1v1h-1zM390 312h1v1h-1zM272 268h1v1h-1zM173 504h1v1h-1zM484 476h1v1h-1zM450 584h1v1h-1zM368 563h1v1h-1zM190 606h1v1h-1zM523 137h1v1h-1zM142 271h1v1h-1zM156 327h1v1h-1zM526 330h1v1h-1zM587 347h1v1h-1zM120 606h1v1h-1zM190 501h1v1h-1zM88 302h1v1h-1zM138 362h1v1h-1zM185 403h1v1h-1zM148 121h1v1h-1zM577 346h1v1h-1zM362 441h1v1h-1zM278 208h1v1h-1zM73 581h1v1h-1zM535 448h1v1h-1zM141 448h1v1h-1zM605 233h1v1h-1zM263 414h1v1h-1zM492 308h1v1h-1zM313 121h1v1h-1zM109 483h1v1h-1zM171 263h1v1h-1zM198 311h1v1h-1zM101 474h1v1h-1zM534 445h1v1h-1zM250 326h1v1h-1zM227 360h1v1h-1zM278 328h1v1h-1zM280 507h1v1h-1zM159 493h1v1h-1zM84 460h1v1h-1zM175 450h1v1h-1zM393 517h1v1h-1zM170 574h1v1h-1zM517 321h1v1h-1zM158 118h1v1h-1zM446 551h1v1h-1zM296 443h1v1h-1zM111 281h1v1h-1zM230 357h1v1h-1zM243 188h1v1h-1zM273 357h1v1h-1zM102 582h1v1h-1zM111 452h1v1h-1zM483 485h1v1h-1zM414 472h1v1h-1zM475 493h1v1h-1zM308 595h1v1h-1zM384 579h1v1h-1zM482 528h1v1h-1zM125 364h1v1h-1zM261 127h1v1h-1zM444 381h1v1h-1zM406 494h1v1h-1zM121 192h1v1h-1zM442 189h1v1h-1zM423 349h1v1h-1zM515 523h1v1h-1zM271 485h1v1h-1zM415 105h1v1h-1zM453 79h1v1h-1zM501 168h1v1h-1zM420 410h1v1h-1zM350 541h1v1h-1zM302 478h1v1h-1zM252 594h1v1h-1zM382 72h1v1h-1zM278 188h1v1h-1zM327 422h1v1h-1zM324 363h1v1h-1zM322 561h1v1h-1zM531 286h1v1h-1zM458 364h1v1h-1zM303 369h1v1h-1zM329 330h1v1h-1zM213 198h1v1h-1zM415 70h1v1h-1zM91 484h1v1h-1zM324 431h1v1h-1zM329 360h1v1h-1zM330 344h1v1h-1zM560 473h1v1h-1zM162 485h1v1h-1zM491 464h1v1h-1zM491 426h1v1h-1zM160 307h1v1h-1zM602 301h1v1h-1zM364 416h1v1h-1zM94 331h1v1h-1zM239 482h1v1h-1zM212 411h1v1h-1zM413 364h1v1h-1zM267 578h1v1h-1zM158 385h1v1h-1zM304 152h1v1h-1zM468 162h1v1h-1zM197 402h1v1h-1zM90 315h1v1h-1zM398 351h1v1h-1zM108 531h1v1h-1zM176 580h1v1h-1zM133 260h1v1h-1zM295 593h1v1h-1zM549 385h1v1h-1zM204 171h1v1h-1zM356 391h1v1h-1zM108 361h1v1h-1zM216 275h1v1h-1zM200 84h1v1h-1zM430 204h1v1h-1zM147 110h1v1h-1zM183 516h1v1h-1zM430 336h1v1h-1zM334 174h1v1h-1zM422 379h1v1h-1zM93 467h1v1h-1zM146 512h1v1h-1zM359 468h1v1h-1zM72 145h1v1h-1zM384 335h1v1h-1zM491 392h1v1h-1zM361 361h1v1h-1zM399 261h1v1h-1zM247 421h1v1h-1zM347 572h1v1h-1zM157 387h1v1h-1zM251 73h1v1h-1zM137 334h1v1h-1zM171 551h1v1h-1zM259 113h1v1h-1zM169 588h1v1h-1zM170 527h1v1h-1zM267 578h1v1h-1zM360 305h1v1h-1zM365 492h1v1h-1zM236 408h1v1h-1zM609 578h1v1h-1zM467 368h1v1h-1zM128 452h1v1h-1zM130 132h1v1h-1zM153 515h1v1h-1zM387 463h1v1h-1zM309 232h1v1h-1zM116 560h1v1h-1zM182 158h1v1h-1zM398 292h1v1h-1zM156 148h1v1h-1zM272 480h1v1h-1zM321 299h1v1h-1zM136 561h1v1h-1zM598 421h1v1h-1zM155 145h1v1h-1zM184 257h1v1h-1zM104 565h1v1h-1zM453 146h1v1h-1zM463 375h1v1h-1zM83 75h1v1h-1zM273 93h1v1h-1zM169 304h1v1h-1zM255 491h1v1h-1zM514 319h1v1h-1zM422 526h1v1h-1zM448 438h1v1h-1zM476 282h1v1h-1zM538 270h1v1h-1zM86 543h1v1h-1zM600 436h1v1h-1zM218 537h1v1h-1zM344 138h1v1h-1zM462 206h1v1h-1zM130 252h1v1h-1zM166 504h1v1h-1zM578 170h1v1h-1zM178 177h1v1h-1zM423 280h1v1h-1zM103 155h1v1h-1zM260 79h1v1h-1zM248 405h1v1h-1zM602 534h1v1h-1zM532 453h1v1h-1zM185 193h1v1h-1zM217 217h1v1h-1zM126 519h1v1h-1zM80 289h1v1h-1zM278 525h1v1h-1zM456 466h1v1h-1zM277 512h1v1h-1zM118 415h1v1h-1zM571 162h1v1h-1zM572 455h1v1h-1zM136 467h1v1h-1zM246 422h1v1h-1zM270 460h1v1h-1zM260 264h1v1h-1zM220 426h1v1h-1zM433 528h1v1h-1zM102 275h1v1h-1zM158 420h1v1h-1zM274 124h1v1h-1zM130 217h1v1h-1zM489 339h1v1h-1zM418 389h1v1h-1zM348 346h1v1h-1zM603 95h1v1h-1zM462 550h1v1h-1zM115 430h1v1h-1zM433 292h1v1h-1zM107 204h1v1h-1zM594 575h1v1h-1zM129 82h1v1h-1zM597 480h1v1h-1zM392 210h1v1h-1zM462 366h1v1h-1zM346 382h1v1h-1zM259 476h1v1h-1zM71 439h1v1h-1zM578 240h1v1h-1zM284 278h1v1h-1zM274 410h1v1h-1zM349 521h1v1h-1zM522 488h1v1h-1zM521 253h1v1h-1zM178 301h1v1h-1zM475 326h1v1h-1zM92 526h1v1h-1zM137 452h1v1h-1zM239 83h1v1h-1zM184 503h1v1h-1zM141 509h1v1h-1zM341 489h1v1h-1zM507 510h1v1h-1zM437 237h1v1h-1zM215 315h1v1h-1zM134 223h1v1h-1zM328 480h1v1h-1zM99 390h1v1h-1zM232 399h1v1h-1zM254 394h1v1h-1zM143 610h1v1h-1zM386 565h1v1h-1zM70 549h1v1h-1zM79 417h1v1h-1zM550 243h1v1h-1zM318 537h1v1h-1zM326 584h1v1h-1zM285 533h1v1h-1zM191 191h1v1h-1zM550 416h1v1h-1zM258 70h1v1h-1zM437 594h1v1h-1zM95 102h1v1h-1zM255 321h1v1h-1zM244 373h1v1h-1zM340 118h1v1h-1zM469 250h1v1h-1zM93 595h1v1h-1zM180 278h1v1h-1zM435 534h1v1h-1zM232 500h1v1h-1zM115 125h1v1h-1zM451 509h1v1h-1zM419 482h1v1h-1zM236 544h1v1h-1zM71 137h1v1h-1zM71 141h1v1h-1zM266 503h1v1h-1zM229 308h1v1h-1zM510 193h1v1h-1zM243 201h1v1h-1zM582 541h1v1h-1zM428 84h1v1h-1zM555 151h1v1h-1zM504 510h1v1h-1zM109 347h1v1h-1zM106 366h1v1h-1zM311 164h1v1h-1zM216 423h1v1h-1zM99 392h1v1h-1zM355 486h1v1h-1zM492 315h1v1h-1zM467 425h1v1h-1z"/>
<path fill="#999999" d="M125 198h1v1h-1zM107 122h1v1h-1zM344 488h1v1h-1zM393 214h1v1h-1zM451 257h1v1h-1zM423 538h1v1h-1zM82 465h1v1h-1zM174 142h1v1h-1zM108 536h1v1h-1zM297 523h1v1h-1zM595 475h1v1h-1zM342 149h1v1h-1zM136 201h1v1h-1zM302 551h1v1h-1zM134 292h1v1h-1zM524 438h1v1h-1zM123 490h1v1h-1zM523 566h1v1h-1zM94 361h1v1h-1zM309 594h1v1h-1zM140 558h1v1h-1zM298 248h1v1h-1zM130 202h1v1h-1zM357 377h1v1h-1zM532 361h1v1h-1zM208 316h1v1h-1zM360 468h1v1h-1zM553 182h1v1h-1zM476 534h1v1h-1zM180 532h1v1h-1zM373 547h1v1h-1zM103 269h1v1h-1zM591 484h1v1h-1zM118 77h1v1h-1zM478 236h1v1h-1zM80 459h1v1h-1zM461 216h1v1h-1zM516 213h1v1h-1zM353 205h1v1h-1zM433 525h1v1h-1zM215 322h1v1h-1zM593 284h1v1h-1zM420 226h1v1h-1zM144 405h1v1h-1zM439 348h1v1h-1zM513 610h1v1h-1zM412 607h1v1h-1zM509 587h1v1h-1zM164 220h1v1h-1zM216 553h1v1h-1zM235 486h1v1h-1zM581 97h1v1h-1zM160 547h1v1h-1zM452 417h1v1h-1zM146 363h1v1h-1zM594 480h1v1h-1zM350 135h1v1h-1zM545 278h1v1h-1zM79 586h1v1h-1zM315 381h1v1h-1zM158 592h1v1h-1zM344 284h1v1h-1zM202 228h1v1h-1zM583 352h1v1h-1zM502 117h1v1h-1zM333 166h1v1h-1zM401 491h1v1h-1zM415 507h1v1h-1zM231 379h1v1h-1zM412 286h1v1h-1zM143 222h1v1h-1zM295 465h1v1h-1zM241 312h1v1h-1zM129 409h1v1h-1zM538 411h1v1h-1zM374 595h1v1h-1zM112 242h1v1h-1zM395 387h1v1h-1zM327 237h1v1h-1zM330 589h1v1h-1zM171 408h1v1h-1zM208 147h1v1h-1zM449 492h1v1h-1zM555 272h1v1h-1zM416 332h1v1h-1zM308 410h1v1h-1zM544 586h1v1h-1zM133 386h1v1h-1zM465 356h1v1h-1zM118 191h1v1h-1zM506 169h1v1h-1zM469 220h1v1h-1zM318 338h1v1h-1zM584 463h1v1h-1zM491 606h1v1h-1zM213 406h1v1h-1zM567 84h1v1h-1zM185 417h1v1h-1zM346 498h1v1h-1zM505 514h1v1h-1zM537 309h1v1h-1zM602 425h1v1h-1zM379 285h1v1h-1zM485 461h1v1h-1zM278 563h1v1h-1zM484 360h1v1h-1zM452 177h1v1h-1zM461 206h1v1h-1zM463 228h1v1h-1zM181 161h1v1h-1zM430 110h1v1h-1zM452 291h1v1h-1zM436 117h1v1h-1zM517 393h1v1h-1zM479 246h1v1h-1zM324 465h1v1h-1zM78 200h1v1h-1zM229 302h1v1h-1zM120 336h1v1h-1zM410 275h1v1h-1zM309 145h1v1h-1zM103 263h1v1h-1zM152 274h1v1h-1zM492 453h1v1h-1zM89 434h1v1h-1zM258 159h1v1h-1zM117 353h1v1h-1zM82 373h1v1h-1zM222 400h1v1h-1zM151 339h1v1h-1zM249 598h1v1h-1zM146 92h1v1h-1zM234 309h1v1h-1zM571 200h1v1h-1zM103 88h1v1h-1zM130 144h1v1h-1zM170 287h1v1h-1zM80 385h1v1h-1zM362 547h1v1h-1zM168 138h1v1h-1zM213 72h1v1h-1zM465 495h1v1h-1zM167 120h1v1h-1zM290 486h1v1h-1zM372 223h1v1h-1zM160 178h1v1h-1zM227 435h1v1h-1zM429 452h1v1h-1zM72 149h1v1h-1zM345 313h1v1h-1zM457 403h1v1h-1zM188 237h1v1h-1zM299 203h1v1h-1zM536 434h1v1h-1zM79 347h1v1h-1zM369 217h1v1h-1zM491 498h1v1h-1zM83 441h1v1h-1zM145 217h1v1h-1zM414 115h1v1h-1zM202 302h1v1h-1zM218 527h1v1h-1zM180 312h1v1h-1zM174 413h1v1h-1zM199 353h1v1h-1zM558 304h1v1h-1zM592 228h1v1h-1zM257 363h1v1h-1zM183 417h1v1h-1zM609 514h1v1h-1zM374 567h1v1h-1zM86 161h1v1h-1zM569 316h1v1h-1zM410 432h1v1h-1zM301 192h1v1h-1zM301 244h1v1h-1zM401 547h1v1h-1zM167 531h1v1h-1zM220 279h1v1h-1zM251 334h1v1h-1zM555 363h1v1h-1zM397 170h1v1h-1zM288 549h1v1h-1zM202 463h1v1h-1zM570 585h1v1h-1zM382 539h1v1h-1zM303 113h1v1h-1zM557 425h1v1h-1zM505 288h1v1h-1zM506 288h1v1h-1zM313 101h1v1h-1zM377 303h1v1h-1zM302 234h1v1h-1zM298 538h1v1h-1zM94 275h1v1h-1zM205 231h1v1h-1zM396 96h1v1h-1zM75 576h1v1h-1zM160 318h1v1h-1zM235 489h1v1h-1zM78 228h1v1h-1zM461 144h1v1h-1zM206 217h1v1h-1zM408 187h1v1h-1zM270 369h1v1h-1zM227 283h1v1h-1zM277 330h1v1h-1zM239 256h1v1h-1zM536 257h1v1h-1zM508 529h1v1h-1zM584 564h1v1h-1zM175 393h1v1h-1zM98 83h1v1h-1zM610 345h1v1h-1zM265 387h1v1h-1zM157 289h1v1h-1zM247 73h1v1h-1zM237 342h1v1h-1zM209 461h1v1h-1zM122 346h1v1h-1zM252 376h1v1h-1zM461 274h1v1h-1zM417 602h1v1h-1zM599 403h1v1h-1zM94 543h1v1h-1zM211 113h1v1h-1zM150 84h1v1h-1zM266 568h1v1h-1zM523 221h1v1h-1zM175 456h1v1h-1zM355 108h1v1h-1zM389 240h1v1h-1zM209 412h1v1h-1zM129 440h1v1h-1zM352 501h1v1h-1zM69 137h1v1h-1zM167 418h1v1h-1zM167 522h1v1h-1zM345 214h1v1h-1zM393 548h1v1h-1zM300 464h1v1h-1zM332 560h1v1h-1zM192 423h1v1h-1zM89 555h1v1h-1zM525 443h1v1h-1zM557 145h1v1h-1zM195 80h1v1h-1zM210 369h1v1h-1zM213 134h1v1h-1zM375 338h1v1h-1zM181 145h1v1h-1zM474 303h1v1h-1zM215 529h1v1h-1zM139 82h1v1h-1zM408 295h1v1h-1zM601 272h1v1h-1zM199 591h1v1h-1zM317 182h1v1h-1zM426 334h1v1h-1zM279 420h1v1h-1zM80 278h1v1h-1zM340 381h1v1h-1zM218 503h1v1h-1zM86 84h1v1h-1zM357 553h1v1h-1zM113 577h1v1h-1zM347 258h1v1h-1zM487 308h1v1h-1zM180 231h1v1h-1zM195 323h1v1h-1zM518 224h1v1h-1zM150 91h1v1h-1zM187 438h1v1h-1zM397 267h1v1h-1zM143 435h1v1h-1zM177 127h1v1h-1zM141 382h1v1h-1zM69 442h1v1h-1zM385 311h1v1h-1zM263 372h1v1h-1zM322 600h1v1h-1zM173 604h1v1h-1zM595 144h1v1h-1zM188 574h1v1h-1zM212 431h1v1h-1zM157 330h1v1h-1zM162 431h1v1h-1zM119 296h1v1h-1zM208 505h1v1h-1zM449 314h1v1h-1zM503 384h1v1h-1zM242 408h1v1h-1zM186 441h1v1h-1zM138 199h1v1h-1zM538 591h1v1h-1zM163 514h1v1h-1zM174 225h1v1h-1zM212 459h1v1h-1zM591 227h1v1h-1zM396 235h1v1h-1zM251 154h1v1h-1zM79 346h1v1h-1zM575 197h1v1h-1zM443 567h1v1h-1zM402 293h1v1h-1zM269 306h1v1h-1zM530 599h1v1h-1zM248 142h1v1h-1zM222 75h1v1h-1zM382 484h1v1h-1zM485 209h1v1h-1zM383 122h1v1h-1zM582 300h1v1h-1zM580 313h1v1h-1zM321 272h1v1h-1zM484 277h1v1h-1zM599 440h1v1h-1zM170 462h1v1h-1zM536 448h1v1h-1zM534 495h1v1h-1zM118 88h1v1h-1zM596 230h1v1h-1zM119 249h1v1h-1zM179 519h1v1h-1zM170 475h1v1h-1zM412 433h1v1h-1zM319 86h1v1h-1zM137 149h1v1h-1zM175 333h1v1h-1zM295 234h1v1h-1zM198 239h1v1h-1zM141 488h1v1h-1zM371 387h1v1h-1zM190 251h1v1h-1zM418 324h1v1h-1zM389 582h1v1h-1zM486 415h1v1h-1zM179 514h1v1h-1zM220 200h1v1h-1zM210 275h1v1h-1zM146 410h1v1h-1zM270 91h1v1h-1zM521 585h1v1h-1zM569 561h1v1h-1zM85 464h1v1h-1zM561 413h1v1h-1zM338 106h1v1h-1zM591 325h1v1h-1zM520 533h1v1h-1zM192 181h1v1h-1zM214 300h1v1h-1zM173 577h1v1h-1zM588 121h1v1h-1zM446 303h1v1h-1zM183 167h1v1h-1zM248 134h1v1h-1zM527 387h1v1h-1zM150 600h1v1h-1zM417 279h1v1h-1zM277 457h1v1h-1zM314 116h1v1h-1zM458 283h1v1h-1zM396 505h1v1h-1zM312 241h1v1h-1zM200 380h1v1h-1zM92 302h1v1h-1zM246 567h1v1h-1zM129 83h1v1h-1zM310 275h1v1h-1zM203 148h1v1h-1zM509 445h1v1h-1zM512 248h1v1h-1zM269 416h1v1h-1zM337 476h1v1h-1zM182 100h1v1h-1zM186 395h1v1h-1zM176 305h1v1h-1zM331 359h1v1h-1zM205 224h1v1h-1zM378 300h1v1h-1zM247 578h1v1h-1zM135 117h1v1h-1zM160 292h1v1h-1zM86 384h1v1h-1zM447 249h1v1h-1zM275 220h1v1h-1zM196 177h1v1h-1zM405 139h1v1h-1zM539 155h1v1h-1zM78 553h1v1h-1zM201 568h1v1h-1zM234 179h1v1h-1zM171 232h1v1h-1zM336 486h1v1h-1zM93 76h1v1h-1zM597 100h1v1h-1zM603 506h1v1h-1zM230 292h1v1h-1zM113 118h1v1h-1zM255 152h1v1h-1zM543 203h1v1h-1zM546 477h1v1h-1zM181 378h1v1h-1zM574 199h1v1h-1zM314 413h1v1h-1zM148 545h1v1h-1zM113 501h1v1h-1zM557 447h1v1h-1zM139 363h1v1h-1zM557 117h1v1h-1zM222 405h1v1h-1zM532 417h1v1h-1zM390 377h1v1h-1zM569 249h1v1h-1zM88 116h1v1h-1zM132 276h1v1h-1zM237 373h1v1h-1zM357 508h1v1h-1zM489 373h1v1h-1zM456 185h1v1h-1zM119 432h1v1h-1zM294 208h1v1h-1zM110 272h1v1h-1zM400 388h1v1h-1zM216 82h1v1h-1zM242 302h1v1h-1zM365 251h1v1h-1zM254 475h1v1h-1zM83 326h1v1h-1zM122 438h1v1h-1zM567 533h1v1h-1zM145 382h1v1h-1zM173 399h1v1h-1zM317 443h1v1h-1zM154 75h1v1h-1zM296 585h1v1h-1zM533 358h1v1h-1zM481 597h1v1h-1zM273 557h1v1h-1zM421 302h1v1h-1zM398 334h1v1h-1zM236 444h1v1h-1zM527 306h1v1h-1zM374 557h1v1h-1zM325 166h1v1h-1zM292 430h1v1h-1zM578 235h1v1h-1zM372 150h1v1h-1zM227 608h1v1h-1zM524 390h1v1h-1zM81 297h1v1h-1zM308 232h1v1h-1zM81 79h1v1h-1zM272 513h1v1h-1zM87 433h1v1h-1zM575 161h1v1h-1zM171 500h1v1h-1zM338 224h1v1h-1zM439 295h1v1h-1zM376 134h1v1h-1zM157 352h1v1h-1zM424 128h1v1h-1zM235 148h1v1h-1zM243 93h1v1h-1zM506 415h1v1h-1zM515 371h1v1h-1zM487 497h1v1h-1zM389 380h1v1h-1zM189 101h1v1h-1zM405 381h1v1h-1zM133 421h1v1h-1zM154 210h1v1h-1zM495 253h1v1h-1zM415 263h1v1h-1zM206 507h1v1h-1zM547 609h1v1h-1zM123 545h1v1h-1zM184 225h1v1h-1zM156 521h1v1h-1zM150 369h1v1h-1zM211 342h1v1h-1zM250 217h1v1h-1zM135 501h1v1h-1zM238 133h1v1h-1zM179 273h1v1h-1zM399 430h1v1h-1zM305 606h1v1h-1zM193 218h1v1h-1zM236 528h1v1h-1zM128 140h1v1h-1zM189 440h1v1h-1zM310 247h1v1h-1zM200 206h1v1h-1zM150 546h1v1h-1zM398 471h1v1h-1zM310 337h1v1h-1zM125 526h1v1h-1zM96 289h1v1h-1zM231 443h1v1h-1zM148 241h1v1h-1zM385 202h1v1h-1zM457 605h1v1h-1zM555 79h1v1h-1zM552 168h1v1h-1zM109 488h1v1h-1zM241 435h1v1h-1zM234 552h1v1h-1zM273 511h1v1h-1zM91 580h1v1h-1zM402 98h1v1h-1zM567 552h1v1h-1zM227 415h1v1h-1zM244 545h1v1h-1zM117 546h1v1h-1zM357 585h1v1h-1zM152 333h1v1h-1zM557 118h1v1h-1zM599 101h1v1h-1zM246 467h1v1h-1zM246 250h1v1h-1zM118 73h1v1h-1zM150 127h1v1h-1zM377 300h1v1h-1zM408 285h1v1h-1zM103 420h1v1h-1zM579 238h1v1h-1zM275 285h1v1h-1zM426 141h1v1h-1zM331 361h1v1h-1zM589 116h1v1h-1zM296 114h1v1h-1zM366 419h1v1h-1zM312 500h1v1h-1zM151 210h1v1h-1zM297 519h1v1h-1zM119 225h1v1h-1zM303 586h1v1h-1zM259 356h1v1h-1zM175 397h1v1h-1zM85 409h1v1h-1zM574 527h1v1h-1zM455 215h1v1h-1zM253 139h1v1h-1zM131 202h1v1h-1zM419 579h1v1h-1zM256 382h1v1h-1zM110 348h1v1h-1zM469 97h1v1h-1zM410 517h1v1h-1zM496 328h1v1h-1zM231 262h1v1h-1zM499 283h1v1h-1zM339 231h1v1h-1zM322 389h1v1h-1zM334 121h1v1h-1zM204 567h1v1h-1zM237 430h1v1h-1zM265 161h1v1h-1zM115 291h1v1h-1zM290 228h1v1h-1zM316 183h1v1h-1zM252 492h1v1h-1zM495 481h1v1h-1zM167 142h1v1h-1zM329 236h1v1h-1zM242 212h1v1h-1zM297 91h1v1h-1zM400 580h1v1h-1zM526 208h1v1h-1zM466 327h1v1h-1zM335 415h1v1h-1zM378 278h1v1h-1zM189 194h1v1h-1zM543 204h1v1h-1zM135 253h1v1h-1zM348 286h1v1h-1zM471 151h1v1h-1zM365 207h1v1h-1zM215 106h1v1h-1zM496 380h1v1h-1zM209 365h1v1h-1zM308 546h1v1h-1zM581 610h1v1h-1zM289 162h1v1h-1zM301 480h1v1h-1zM94 405h1v1h-1zM122 523h1v1h-1zM257 125h1v1h-1zM173 377h1v1h-1zM397 555h1v1h-1zM142 473h1v1h-1zM207 296h1v1h-1zM415 548h1v1h-1zM216 153h1v1h-1zM227 400h1v1h-1zM180 420h1v1h-1zM305 456h1v1h-1zM374 568h1v1h-1zM461 327h1v1h-1zM274 416h1v1h-1zM494 91h1v1h-1zM441 171h1v1h-1zM578 537h1v1h-1zM219 202h1v1h-1zM167 208h1v1h-1zM243 335h1v1h-1zM111 268h1v1h-1zM166 341h1v1h-1zM129 104h1v1h-1zM433 530h1v1h-1zM386 81h1v1h-1zM529 434h1v1h-1zM205 350h1v1h-1zM176 125h1v1h-1zM596 412h1v1h-1zM243 520h1v1h-1zM418 185h1v1h-1zM559 461h1v1h-1zM79 134h1v1h-1zM450 267h1v1h-1zM302 275h1v1h-1zM252 348h1v1h-1zM207 106h1v1h-1zM183 601h1v1h-1zM391 194h1v1h-1zM193 535h1v1h-1zM84 507h1v1h-1zM69 75h1v1h-1zM160 525h1v1h-1zM296 554h1v1h-1zM469 260h1v1h-1zM81 163h1v1h-1zM159 138h1v1h-1zM213 504h1v1h-1zM137 128h1v1h-1zM428 378h1v1h-1zM353 600h1v1h-1zM545 401h1v1h-1zM344 94h1v1h-1zM326 148h1v1h-1zM224 426h1v1h-1zM525 276h1v1h-1zM283 533h1v1h-1zM267 132h1v1h-1zM164 445h1v1h-1zM241 77h1v1h-1zM342 359h1v1h-1zM115 140h1v1h-1zM164 240h1v1h-1zM440 500h1v1h-1zM120 605h1v1h-1zM380 428h1v1h-1zM315 608h1v1h-1zM176 485h1v1h-1zM94 432h1v1h-1zM380 604h1v1h-1zM498 358h1v1h-1zM168 427h1v1h-1zM109 507h1v1h-1zM113 201h1v1h-1zM171 259h1v1h-1zM249 132h1v1h-1zM365 464h1v1h-1zM147 383h1v1h-1zM243 603h1v1h-1zM144 140h1v1h-1zM310 85h1v1h-1zM328 217h1v1h-1zM146 592h1v1h-1zM305 438h1v1h-1zM444 241h1v1h-1zM367 385h1v1h-1zM168 459h1v1h-1zM323 471h1v1h-1zM398 542h1v1h-1zM536 196h1v1h-1zM554 497h1v1h-1zM462 405h1v1h-1zM390 532h1v1h-1zM83 448h1v1h-1zM395 201h1v1h-1zM288 271h1v1h-1zM368 419h1v1h-1zM502 217h1v1h-1zM426 273h1v1h-1zM363 443h1v1h-1zM407 326h1v1h-1zM228 281h1v1h-1zM440 548h1v1h-1zM274 345h1v1h-1zM503 423h1v1h-1zM511 543h1v1h-1zM169 447h1v1h-1zM509 565h1v1h-1zM107 304h1v1h-1zM215 435h1v1h-1zM407 112h1v1h-1zM346 599h1v1h-1zM437 489h1v1h-1zM259 519h1v1h-1zM181 311h1v1h-1zM430 322h1v1h-1zM207 351h1v1h-1zM457 466h1v1h-1zM454 150h1v1h-1zM147 524h1v1h-1zM192 249h1v1h-1zM303 205h1v1h-1zM377 543h1v1h-1zM404 342h1v1h-1zM150 329h1v1h-1zM93 566h1v1h-1zM120 182h1v1h-1zM136 164h1v1h-1zM539 454h1v1h-1zM310 376h1v1h-1zM417 103h1v1h-1zM390 441h1v1h-1zM219 603h1v1h-1zM164 147h1v1h-1zM386 327h1v1h-1zM228 392h1v1h-1zM207 248h1v1h-1zM106 393h1v1h-1zM123 450h1v1h-1zM327 189h1v1h-1zM218 541h1v1h-1zM124 589h1v1h-1zM460 462h1v1h-1zM489 216h1v1h-1zM534 479h1v1h-1zM81 390h1v1h-1zM129 367h1v1h-1zM419 152h1v1h-1zM108 422h1v1h-1zM580 358h1v1h-1zM420 193h1v1h-1zM553 404h1v1h-1zM71 313h1v1h-1zM515 484h1v1h-1zM264 343h1v1h-1zM89 455h1v1h-1zM100 306h1v1h-1zM191 449h1v1h-1zM553 173h1v1h-1zM206 460h1v1h-1zM270 393h1v1h-1zM382 135h1v1h-1zM272 354h1v1h-1zM169 183h1v1h-1zM608 450h1v1h-1zM178 383h1v1h-1zM526 555h1v1h-1zM214 429h1v1h-1zM459 362h1v1h-1zM115 375h1v1h-1zM358 411h1v1h-1zM102 244h1v1h-1zM401 528h1v1h-1zM290 159h1v1h-1zM144 184h1v1h-1zM148 296h1v1h-1zM193 485h1v1h-1zM158 528h1v1h-1zM110 584h1v1h-1zM560 348h1v1h-1zM511 435h1v1h-1zM221 301h1v1h-1zM407 467h1v1h-1zM259 555h1v1h-1zM72 605h1v1h-1zM472 232h1v1h-1zM581 119h1v1h-1zM129 196h1v1h-1zM360 341h1v1h-1zM436 75h1v1h-1zM237 284h1v1h-1zM219 247h1v1h-1zM572 108h1v1h-1zM134 522h1v1h-1zM250 320h1v1h-1zM165 255h1v1h-1zM242 325h1v1h-1zM313 562h1v1h-1zM115 225h1v1h-1zM295 431h1v1h-1zM252 342h1v1h-1zM186 329h1v1h-1zM194 538h1v1h-1zM341 342h1v1h-1zM116 522h1v1h-1zM363 418h1v1h-1zM386 99h1v1h-1zM264 474h1v1h-1zM398 87h1v1h-1zM462 509h1v1h-1zM267 252h1v1h-1zM389 549h1v1h-1zM551 88h1v1h-1zM329 201h1v1h-1zM157 385h1v1h-1zM207 200h1v1h-1zM231 463h1v1h-1zM530 292h1v1h-1zM222 420h1v1h-1zM574 567h1v1h-1zM480 569h1v1h-1zM411 577h1v1h-1zM398 323h1v1h-1zM169 284h1v1h-1zM486 246h1v1h-1zM91 110h1v1h-1zM407 517h1v1h-1zM184 461h1v1h-1zM170 222h1v1h-1zM375 463h1v1h-1zM240 448h1v1h-1zM562 427h1v1h-1zM168 458h1v1h-1zM579 506h1v1h-1zM176 237h1v1h-1zM156 486h1v1h-1zM299 408h1v1h-1zM176 376h1v1h-1zM172 149h1v1h-1zM283 175h1v1h-1zM128 355h1v1h-1zM195 414h1v1h-1zM159 575h1v1h-1zM462 188h1v1h-1zM478 514h1v1h-1zM189 283h1v1h-1zM204 507h1v1h-1zM468 93h1v1h-1zM128 196h1v1h-1zM106 284h1v1h-1zM335 276h1v1h-1zM506 349h1v1h-1zM253 271h1v1h-1zM401 428h1v1h-1zM496 385h1v1h-1zM223 203h1v1h-1zM161 513h1v1h-1zM452 385h1v1h-1zM76 233h1v1h-1zM402 423h1v1h-1zM340 558h1v1h-1zM239 445h1v1h-1zM269 149h1v1h-1zM95 564h1v1h-1zM88 419h1v1h-1zM78 363h1v1h-1zM587 146h1v1h-1zM370 461h1v1h-1zM181 126h1v1h-1zM340 436h1v1h-1zM77 542h1v1h-1zM377 198h1v1h-1zM302 467h1v1h-1zM121 190h1v1h-1zM556 88h1v1h-1zM90 147h1v1h-1zM229 388h1v1h-1zM519 395h1v1h-1zM147 82h1v1h-1zM493 576h1v1h-1zM102 448h1v1h-1zM349 378h1v1h-1zM253 385h1v1h-1zM564 360h1v1h-1zM494 573h1v1h-1zM235 360h1v1h-1zM79 511h1v1h-1zM588 462h1v1h-1zM148 313h1v1h-1zM72 247h1v1h-1zM138 361h1v1h-1zM401 179h1v1h-1zM199 397h1v1h-1zM598 525h1v1h-1zM170 468h1v1h-1zM324 429h1v1h-1zM299 469h1v1h-1zM211 446h1v1h-1zM493 151h1v1h-1zM69 299h1v1h-1zM160 150h1v1h-1zM529 475h1v1h-1zM216 568h1v1h-1zM199 445h1v1h-1zM531 215h1v1h-1zM238 436h1v1h-1zM238 223h1v1h-1zM379 574h1v1h-1zM274 282h1v1h-1zM583 144h1v1h-1zM161 465h1v1h-1zM214 551h1v1h-1zM431 113h1v1h-1zM110 196h1v1h-1zM603 246h1v1h-1zM228 228h1v1h-1zM551 202h1v1h-1zM302 489h1v1h-1zM536 354h1v1h-1zM477 78h1v1h-1zM449 328h1v1h-1zM166 410h1v1h-1zM110 331h1v1h-1zM155 359h1v1h-1zM293 423h1v1h-1zM251 330h1v1h-1zM93 286h1v1h-1zM367 69h1v1h-1zM220 106h1v1h-1zM157 273h1v1h-1zM165 110h1v1h-1zM163 417h1v1h-1zM509 531h1v1h-1zM307 234h1v1h-1zM317 416h1v1h-1zM102 251h1v1h-1zM505 224h1v1h-1zM541 203h1v1h-1zM327 286h1v1h-1zM455 539h1v1h-1zM232 529h1v1h-1zM175 516h1v1h-1zM78 76h1v1h-1zM252 235h1v1h-1zM274 584h1v1h-1zM376 393h1v1h-1zM269 537h1v1h-1zM134 540h1v1h-1zM387 166h1v1h-1zM255 108h1v1h-1zM324 586h1v1h-1zM370 137h1v1h-1zM594 198h1v1h-1zM145 575h1v1h-1zM352 508h1v1h-1zM260 198h1v1h-1zM223 167h1v1h-1zM308 596h1v1h-1zM103 222h1v1h-1zM145 404h1v1h-1zM119 70h1v1h-1zM105 230h1v1h-1zM439 527h1v1h-1zM262 311h1v1h-1zM512 575h1v1h-1zM306 175h1v1h-1zM240 381h1v1h-1zM377 486h1v1h-1zM516 498h1v1h-1zM106 567h1v1h-1zM226 314h1v1h-1zM420 532h1v1h-1zM112 291h1v1h-1zM273 499h1v1h-1zM138 309h1v1h-1zM223 188h1v1h-1zM417 91h1v1h-1zM257 300h1v1h-1zM607 565h1v1h-1zM508 499h1v1h-1zM224 516h1v1h-1zM182 582h1v1h-1zM354 484h1v1h-1zM216 342h1v1h-1zM593 74h1v1h-1zM283 404h1v1h-1zM216 369h1v1h-1zM286 368h1v1h-1zM381 420h1v1h-1zM266 289h1v1h-1zM277 305h1v1h-1zM164 277h1v1h-1zM421 493h1v1h-1zM500 277h1v1h-1zM173 332h1v1h-1zM397 516h1v1h-1zM381 577h1v1h-1zM246 283h1v1h-1zM200 214h1v1h-1zM595 602h1v1h-1zM160 243h1v1h-1zM315 513h1v1h-1zM187 546h1v1h-1zM523 286h1v1h-1zM208 454h1v1h-1zM470 311h1v1h-1zM79 194h1v1h-1zM531 511h1v1h-1zM531 191h1v1h-1zM235 451h1v1h-1zM375 576h1v1h-1zM548 459h1v1h-1zM156 551h1v1h-1zM297 524h1v1h-1zM115 375h1v1h-1zM430 504h1v1h-1zM119 567h1v1h-1zM254 100h1v1h-1zM179 317h1v1h-1zM510 191h1v1h-1zM345 500h1v1h-1zM135 606h1v1h-1zM381 81h1v1h-1zM400 549h1v1h-1zM396 578h1v1h-1zM570 419h1v1h-1zM72 428h1v1h-1zM267 107h1v1h-1zM232 257h1v1h-1zM352 459h1v1h-1zM222 126h1v1h-1zM416 77h1v1h-1zM365 152h1v1h-1zM89 197h1v1h-1zM266 533h1v1h-1zM358 568h1v1h-1zM163 147h1v1h-1zM487 500h1v1h-1zM151 556h1v1h-1zM266 518h1v1h-1zM402 339h1v1h-1zM288 481h1v1h-1zM307 177h1v1h-1zM122 402h1v1h-1zM276 610h1v1h-1zM72 530h1v1h-1zM135 518h1v1h-1zM381 215h1v1h-1zM528 168h1v1h-1zM224 154h1v1h-1zM423 405h1v1h-1zM339 503h1v1h-1zM517 610h1v1h-1zM78 158h1v1h-1zM351 190h1v1h-1zM485 96h1v1h-1zM233 162h1v1h-1zM499 544h1v1h-1zM201 342h1v1h-1zM96 78h1v1h-1zM348 505h1v1h-1zM557 508h1v1h-1zM111 545h1v1h-1zM168 72h1v1h-1zM74 129h1v1h-1zM263 521h1v1h-1zM342 218h1v1h-1zM359 413h1v1h-1zM174 214h1v1h-1zM570 553h1v1h-1zM333 458h1v1h-1zM87 392h1v1h-1zM164 115h1v1h-1zM119 382h1v1h-1zM126 302h1v1h-1zM235 554h1v1h-1zM437 505h1v1h-1zM130 579h1v1h-1zM419 252h1v1h-1zM259 74h1v1h-1zM75 587h1v1h-1zM134 597h1v1h-1zM506 529h1v1h-1zM453 558h1v1h-1zM375 120h1v1h-1zM319 466h1v1h-1zM84 380h1v1h-1zM77 580h1v1h-1zM169 518h1v1h-1zM519 475h1v1h-1zM153 196h1v1h-1zM432 146h1v1h-1zM550 575h1v1h-1zM258 381h1v1h-1zM277 457h1v1h-1zM296 462h1v1h-1zM390 405h1v1h-1zM464 338h1v1h-1zM398 355h1v1h-1zM182 84h1v1h-1zM405 129h1v1h-1zM119 84h1v1h-1zM386 233h1v1h-1zM254 94h1v1h-1zM425 256h1v1h-1zM160 246h1v1h-1zM442 387h1v1h-1zM285 275h1v1h-1zM76 207h1v1h-1zM168 465h1v1h-1zM235 80h1v1h-1zM488 363h1v1h-1zM407 495h1v1h-1zM95 226h1v1h-1zM134 535h1v1h-1zM321 428h1v1h-1zM235 148h1v1h-1zM198 601h1v1h-1zM309 477h1v1h-1zM470 299h1v1h-1zM335 194h1v1h-1zM186 563h1v1h-1zM226 568h1v1h-1zM183 380h1v1h-1zM609 515h1v1h-1zM384 190h1v1h-1zM276 389h1v1h-1zM93 517h1v1h-1zM229 252h1v1h-1zM95 544h1v1h-1zM219 286h1v1h-1zM462 604h1v1h-1zM322 211h1v1h-1zM595 454h1v1h-1zM384 380h1v1h-1zM496 384h1v1h-1zM234 337h1v1h-1zM214 523h1v1h-1zM319 494h1v1h-1zM132 521h1v1h-1zM431 155h1v1h-1zM117 387h1v1h-1zM376 484h1v1h-1zM475 391h1v1h-1zM306 114h1v1h-1zM314 558h1v1h-1zM167 486h1v1h-1zM292 595h1v1h-1zM218 500h1v1h-1zM290 86h1v1h-1zM228 568h1v1h-1zM573 311h1v1h-1zM472 181h1v1h-1zM166 219h1v1h-1zM100 427h1v1h-1zM95 609h1v1h-1zM307 494h1v1h-1zM413 531h1v1h-1zM494 457h1v1h-1zM75 290h1v1h-1zM529 378h1v1h-1zM125 386h1v1h-1zM121 173h1v1h-1zM452 473h1v1h-1zM582 384h1v1h-1zM240 128h1v1h-1zM372 124h1v1h-1zM408 422h1v1h-1zM184 368h1v1h-1zM416 70h1v1h-1zM183 314h1v1h-1zM532 318h1v1h-1zM530 307h1v1h-1zM600 78h1v1h-1zM222 608h1v1h-1zM87 70h1v1h-1zM421 567h1v1h-1zM296 500h1v1h-1zM171 532h1v1h-1zM92 419h1v1h-1zM336 87h1v1h-1zM559 570h1v1h-1zM212 384h1v1h-1zM261 479h1v1h-1zM372 332h1v1h-1zM525 363h1v1h-1zM164 440h1v1h-1zM272 248h1v1h-1zM355 263h1v1h-1zM165 443h1v1h-1zM604 510h1v1h-1zM356 428h1v1h-1zM138 293h1v1h-1zM250 459h1v1h-1zM608 526h1v1h-1zM218 345h1v1h-1zM70 371h1v1h-1zM151 470h1v1h-1zM231 434h1v1h-1zM359 391h1v1h-1zM573 525h1v1h-1zM188 539h1v1h-1zM117 97h1v1h-1zM406 110h1v1h-1zM138 610h1v1h-1zM185 495h1v1h-1zM331 181h1v1h-1zM106 197h1v1h-1zM290 580h1v1h-1zM147 318h1v1h-1zM520 561h1v1h-1zM277 330h1v1h-1zM576 572h1v1h-1zM225 295h1v1h-1zM217 264h1v1h-1zM419 241h1v1h-1zM141 181h1v1h-1zM452 567h1v1h-1zM303 523h1v1h-1zM547 102h1v1h-1zM107 209h1v1h-1zM391 131h1v1h-1zM246 478h1v1h-1zM455 394h1v1h-1zM307 179h1v1h-1zM120 489h1v1h-1zM183 548h1v1h-1zM462 563h1v1h-1zM427 187h1v1h-1zM317 470h1v1h-1zM450 534h1v1h-1zM296 356h1v1h-1zM77 168h1v1h-1zM413 587h1v1h-1zM444 503h1v1h-1zM301 332h1v1h-1zM478 185h1v1h-1zM560 516h1v1h-1zM253 568h1v1h-1zM551 213h1v1h-1zM104 399h1v1h-1zM348 103h1v1h-1zM431 479h1v1h-1zM353 549h1v1h-1zM171 478h1v1h-1zM109 553h1v1h-1zM189 510h1v1h-1zM232 603h1v1h-1zM607 263h1v1h-1zM428 200h1v1h-1zM534 492h1v1h-1zM302 275h1v1h-1zM214 497h1v1h-1zM162 185h1v1h-1zM105 494h1v1h-1zM198 81h1v1h-1zM231 500h1v1h-1zM474 519h1v1h-1zM72 433h1v1h-1zM162 224h1v1h-1zM246 495h1v1h-1zM238 344h1v1h-1zM512 161h1v1h-1zM269 228h1v1h-1zM170 117h1v1h-1zM236 138h1v1h-1zM381 442h1v1h-1zM421 144h1v1h-1zM99 375h1v1h-1zM251 570h1v1h-1zM447 532h1v1h-1zM118 73h1v1h-1zM77 285h1v1h-1zM192 360h1v1h-1zM571 207h1v1h-1zM590 323h1v1h-1zM144 352h1v1h-1zM73 179h1v1h-1zM88 221h1v1h-1zM209 193h1v1h-1zM442 472h1v1h-1zM185 408h1v1h-1zM252 98h1v1h-1zM301 100h1v1h-1zM252 598h1v1h-1zM284 592h1v1h-1zM470 206h1v1h-1zM603 328h1v1h-1zM129 275h1v1h-1zM94 134h1v1h-1zM355 164h1v1h-1zM305 182h1v1h-1zM291 371h1v1h-1zM610 567h1v1h-1zM490 184h1v1h-1zM217 474h1v1h-1zM152 313h1v1h-1zM441 493h1v1h-1zM469 564h1v1h-1zM559 557h1v1h-1zM410 458h1v1h-1zM273 464h1v1h-1zM265 171h1v1h-1zM142 409h1v1h-1zM197 402h1v1h-1zM201 465h1v1h-1zM446 424h1v1h-1zM104 268h1v1h-1zM163 190h1v1h-1zM198 236h1v1h-1zM119 185h1v1h-1zM227 541h1v1h-1zM183 211h1v1h-1zM152 149h1v1h-1zM385 158h1v1h-1zM545 416h1v1h-1zM129 589h1v1h-1zM79 179h1v1h-1zM106 108h1v1h-1zM564 588h1v1h-1zM103 583h1v1h-1zM300 94h1v1h-1zM75 287h1v1h-1zM248 324h1v1h-1zM159 144h1v1h-1zM89 237h1v1h-1zM199 88h1v1h-1zM345 400h1v1h-1zM179 273h1v1h-1zM415 598h1v1h-1zM153 466h1v1h-1zM186 293h1v1h-1zM100 533h1v1h-1zM243 589h1v1h-1zM243 382h1v1h-1zM487 452h1v1h-1zM148 407h1v1h-1zM523 125h1v1h-1zM254 357h1v1h-1zM199 400h1v1h-1zM150 417h1v1h-1zM196 373h1v1h-1zM371 431h1v1h-1zM107 155h1v1h-1zM326 462h1v1h-1zM548 545h1v1h-1zM167 149h1v1h-1zM226 489h1v1h-1zM298 454h1v1h-1zM334 164h1v1h-1zM210 607h1v1h-1zM275 546h1v1h-1zM498 90h1v1h-1zM379 287h1v1h-1zM289 259h1v1h-1zM549 571h1v1h-1zM144 206h1v1h-1zM491 370h1v1h-1zM317 527h1v1h-1zM139 272h1v1h-1zM229 124h1v1h-1zM471 178h1v1h-1zM552 400h1v1h-1zM355 117h1v1h-1zM356 357h1v1h-1zM551 281h1v1h-1zM555 306h1v1h-1zM205 332h1v1h-1zM176 248h1v1h-1zM148 331h1v1h-1zM96 450h1v1h-1zM88 416h1v1h-1zM290 124h1v1h-1zM232 256h1v1h-1zM166 409h1v1h-1zM360 578h1v1h-1zM262 154h1v1h-1zM298 239h1v1h-1zM249 579h1v1h-1zM372 565h1v1h-1zM93 546h1v1h-1zM169 496h1v1h-1zM111 589h1v1h-1zM103 331h1v1h-1zM293 505h1v1h-1zM189 118h1v1h-1zM442 596h1v1h-1zM436 310h1v1h-1zM482 507h1v1h-1zM447 408h1v1h-1zM433 167h1v1h-1zM306 513h1v1h-1zM467 126h1v1h-1zM363 419h1v1h-1zM569 190h1v1h-1zM294 303h1v1h-1zM463 525h1v1h-1zM313 210h1v1h-1zM566 220h1v1h-1zM141 102h1v1h-1zM163 604h1v1h-1zM394 594h1v1h-1zM275 449h1v1h-1zM160 224h1v1h-1zM316 523h1v1h-1zM303 333h1v1h-1zM81 179h1v1h-1zM498 544h1v1h-1zM84 303h1v1h-1zM272 236h1v1h-1zM238 517h1v1h-1zM293 132h1v1h-1zM177 606h1v1h-1zM403 535h1v1h-1zM555 126h1v1h-1zM596 123h1v1h-1zM442 510h1v1h-1zM515 347h1v1h-1zM259 563h1v1h-1zM580 111h1v1h-1zM283 324h1v1h-1zM442 459h1v1h-1zM174 119h1v1h-1zM355 202h1v1h-1zM93 327h1v1h-1zM541 170h1v1h-1zM368 151h1v1h-1zM454 507h1v1h-1zM298 297h1v1h-1zM316 318h1v1h-1zM139 411h1v1h-1zM507 522h1v1h-1zM460 479h1v1h-1zM519 210h1v1h-1zM401 355h1v1h-1zM608 223h1v1h-1zM512 332h1v1h-1zM329 427h1v1h-1zM283 463h1v1h-1zM221 383h1v1h-1zM192 524h1v1h-1zM321 159h1v1h-1zM513 427h1v1h-1zM263 259h1v1h-1zM264 199h1v1h-1zM602 220h1v1h-1zM384 491h1v1h-1zM520 558h1v1h-1zM451 289h1v1h-1zM321 411h1v1h-1zM272 270h1v1h-1zM303 548h1v1h-1zM348 303h1v1h-1zM491 292h1v1h-1zM502 498h1v1h-1zM257 430h1v1h-1zM81 568h1v1h-1zM312 522h1v1h-1zM480 178h1v1h-1zM573 578h1v1h-1zM122 287h1v1h-1zM199 344h1v1h-1zM133 565h1v1h-1zM110 273h1v1h-1zM321 567h1v1h-1zM357 146h1v1h-1zM321 131h1v1h-1zM375 259h1v1h-1zM383 322h1v1h-1zM75 404h1v1h-1zM154 481h1v1h-1zM83 183h1v1h-1zM340 392h1v1h-1zM394 550h1v1h-1zM422 102h1v1h-1zM166 217h1v1h-1zM292 495h1v1h-1zM268 186h1v1h-1zM280 345h1v1h-1zM230 174h1v1h-1zM80 465h1v1h-1zM572 190h1v1h-1zM355 185h1v1h-1zM82 561h1v1h-1zM191 166h1v1h-1zM362 509h1v1h-1zM426 445h1v1h-1zM449 455h1v1h-1zM317 337h1v1h-1zM436 189h1v1h-1zM171 187h1v1h-1zM95 350h1v1h-1zM535 134h1v1h-1zM147 366h1v1h-1zM196 347h1v1h-1zM460 379h1v1h-1zM430 534h1v1h-1zM275 556h1v1h-1zM178 256h1v1h-1zM107 445h1v1h-1zM333 244h1v1h-1zM244 328h1v1h-1zM537 472h1v1h-1zM166 411h1v1h-1zM513 435h1v1h-1zM246 467h1v1h-1zM120 250h1v1h-1zM565 247h1v1h-1zM116 512h1v1h-1zM309 163h1v1h-1zM544 422h1v1h-1zM324 547h1v1h-1zM542 275h1v1h-1zM93 475h1v1h-1zM187 226h1v1h-1zM565 358h1v1h-1zM546 478h1v1h-1zM555 423h1v1h-1zM311 574h1v1h-1zM448 112h1v1h-1zM235 547h1v1h-1zM461 302h1v1h-1zM537 289h1v1h-1zM158 518h1v1h-1zM356 144h1v1h-1zM174 242h1v1h-1zM123 598h1v1h-1zM230 439h1v1h-1zM298 381h1v1h-1zM123 304h1v1h-1zM342 254h1v1h-1zM203 359h1v1h-1zM124 276h1v1h-1zM421 350h1v1h-1zM86 475h1v1h-1zM574 115h1v1h-1zM595 379h1v1h-1zM286 343h1v1h-1zM461 207h1v1h-1zM528 552h1v1h-1zM129 536h1v1h-1zM513 311h1v1h-1zM164 142h1v1h-1zM88 607h1v1h-1zM297 494h1v1h-1zM124 425h1v1h-1zM402 165h1v1h-1zM534 110h1v1h-1zM90 450h1v1h-1zM421 334h1v1h-1zM122 427h1v1h-1zM498 336h1v1h-1zM115 220h1v1h-1zM171 498h1v1h-1zM458 380h1v1h-1zM258 494h1v1h-1zM116 169h1v1h-1zM378 300h1v1h-1zM244 382h1v1h-1zM466 573h1v1h-1zM493 103h1v1h-1zM346 484h1v1h-1zM300 224h1v1h-1zM431 87h1v1h-1zM455 510h1v1h-1zM515 604h1v1h-1zM83 125h1v1h-1zM489 79h1v1h-1zM225 507h1v1h-1zM261 419h1v1h-1zM572 378h1v1h-1zM436 497h1v1h-1zM316 503h1v1h-1zM292 128h1v1h-1zM109 302h1v1h-1zM245 342h1v1h-1zM192 517h1v1h-1zM137 580h1v1h-1zM412 537h1v1h-1zM541 204h1v1h-1zM243 330h1v1h-1zM490 157h1v1h-1zM291 537h1v1h-1zM216 486h1v1h-1zM221 501h1v1h-1zM542 145h1v1h-1zM572 91h1v1h-1zM272 555h1v1h-1zM389 286h1v1h-1zM248 328h1v1h-1zM93 334h1v1h-1zM380 432h1v1h-1zM451 117h1v1h-1zM364 490h1v1h-1zM166 152h1v1h-1zM209 557h1v1h-1zM608 410h1v1h-1zM342 255h1v1h-1zM105 602h1v1h-1zM570 82h1v1h-1zM422 510h1v1h-1zM74 536h1v1h-1zM379 469h1v1h-1zM562 408h1v1h-1zM598 330h1v1h-1zM313 171h1v1h-1zM243 115h1v1h-1zM75 398h1v1h-1zM360 595h1v1h-1zM214 346h1v1h-1zM178 238h1v1h-1zM595 526h1v1h-1zM97 186h1v1h-1zM525 181h1v1h-1zM466 574h1v1h-1zM296 547h1v1h-1zM576 573h1v1h-1zM299 431h1v1h-1zM421 246h1v1h-1zM262 96h1v1h-1zM464 90h1v1h-1zM139 432h1v1h-1zM90 409h1v1h-1zM74 245h1v1h-1zM367 87h1v1h-1zM341 200h1v1h-1zM83 394h1v1h-1zM458 479h1v1h-1zM186 150h1v1h-1zM311 381h1v1h-1zM245 555h1v1h-1zM531 537h1v1h-1zM244 484h1v1h-1zM304 375h1v1h-1zM389 579h1v1h-1zM320 426h1v1h-1zM314 346h1v1h-1zM169 501h1v1h-1zM346 253h1v1h-1zM593 109h1v1h-1zM434 72h1v1h-1zM567 584h1v1h-1zM397 568h1v1h-1zM463 233h1v1h-1zM70 330h1v1h-1zM181 514h1v1h-1zM109 531h1v1h-1zM111 394h1v1h-1zM123 253h1v1h-1zM220 482h1v1h-1zM132 424h1v1h-1zM193 402h1v1h-1zM569 432h1v1h-1zM353 289h1v1h-1zM275 485h1v1h-1zM238 250h1v1h-1zM475 419h1v1h-1zM300 495h1v1h-1zM499 176h1v1h-1zM504 284h1v1h-1zM151 394h1v1h-1zM228 435h1v1h-1zM557 382h1v1h-1zM305 170h1v1h-1zM102 347h1v1h-1zM375 470h1v1h-1zM129 212h1v1h-1zM241 100h1v1h-1zM133 553h1v1h-1zM209 539h1v1h-1zM96 599h1v1h-1zM258 182h1v1h-1zM192 528h1v1h-1zM92 344h1v1h-1zM354 307h1v1h-1zM336 225h1v1h-1zM443 71h1v1h-1zM250 145h1v1h-1zM92 545h1v1h-1zM211 311h1v1h-1zM544 487h1v1h-1zM328 375h1v1h-1zM396 162h1v1h-1zM264 329h1v1h-1zM102 526h1v1h-1zM170 292h1v1h-1zM421 573h1v1h-1zM105 427h1v1h-1zM337 601h1v1h-1zM118 383h1v1h-1zM361 452h1v1h-1zM341 160h1v1h-1zM437 449h1v1h-1zM526 584h1v1h-1zM562 208h1v1h-1zM314 403h1v1h-1zM198 269h1v1h-1zM362 165h1v1h-1zM257 507h1v1h-1zM305 177h1v1h-1zM400 425h1v1h-1zM530 445h1v1h-1zM462 451h1v1h-1zM532 150h1v1h-1zM75 83h1v1h-1zM484 401h1v1h-1zM426 517h1v1h-1zM286 132h1v1h-1zM337 205h1v1h-1zM363 337h1v1h-1zM539 471h1v1h-1zM474 349h1v1h-1zM581 549h1v1h-1zM410 166h1v1h-1zM446 259h1v1h-1zM69 408h1v1h-1zM335 468h1v1h-1zM108 364h1v1h-1zM165 572h1v1h-1zM211 470h1v1h-1zM140 228h1v1h-1zM418 511h1v1h-1zM556 540h1v1h-1zM181 464h1v1h-1zM546 311h1v1h-1zM150 147h1v1h-1zM504 295h1v1h-1zM74 318h1v1h-1zM383 138h1v1h-1zM330 519h1v1h-1zM436 302h1v1h-1zM493 475h1v1h-1zM330 286h1v1h-1zM313 377h1v1h-1zM316 443h1v1h-1zM224 586h1v1h-1zM271 585h1v1h-1zM345 561h1v1h-1zM312 386h1v1h-1zM527 173h1v1h-1zM109 564h1v1h-1zM108 252h1v1h-1zM157 144h1v1h-1zM328 86h1v1h-1zM579 512h1v1h-1zM494 101h1v1h-1zM231 157h1v1h-1zM162 293h1v1h-1zM481 586h1v1h-1zM74 130h1v1h-1zM301 389h1v1h-1zM396 293h1v1h-1zM264 230h1v1h-1zM165 113h1v1h-1zM181 585h1v1h-1zM92 99h1v1h-1zM89 111h1v1h-1zM501 553h1v1h-1zM156 339h1v1h-1zM101 139h1v1h-1zM452 381h1v1h-1zM240 389h1v1h-1zM279 538h1v1h-1zM589 387h1v1h-1zM438 337h1v1h-1zM148 338h1v1h-1zM308 185h1v1h-1zM85 375h1v1h-1zM508 348h1v1h-1zM75 593h1v1h-1zM350 517h1v1h-1zM411 470h1v1h-1zM95 203h1v1h-1zM446 420h1v1h-1zM92 300h1v1h-1zM82 576h1v1h-1zM327 401h1v1h-1zM545 294h1v1h-1zM287 349h1v1h-1zM445 245h1v1h-1zM164 141h1v1h-1zM483 450h1v1h-1zM220 583h1v1h-1zM361 290h1v1h-1zM199 181h1v1h-1zM480 336h1v1h-1zM100 171h1v1h-1zM174 462h1v1h-1zM350 499h1v1h-1zM69 188h1v1h-1zM515 120h1v1h-1zM391 446h1v1h-1zM281 572h1v1h-1zM329 608h1v1h-1zM150 407h1v1h-1zM155 217h1v1h-1zM367 470h1v1h-1zM355 191h1v1h-1zM75 83h1v1h-1zM563 86h1v1h-1zM496 120h1v1h-1zM124 530h1v1h-1zM548 304h1v1h-1zM204 582h1v1h-1zM384 216h1v1h-1zM341 552h1v1h-1zM179 186h1v1h-1zM112 255h1v1h-1zM306 564h1v1h-1zM211 245h1v1h-1zM569 134h1v1h-1zM206 429h1v1h-1zM545 300h1v1h-1zM498 422h1v1h-1zM144 133h1v1h-1zM509 452h1v1h-1zM476 559h1v1h-1zM577 105h1v1h-1zM551 323h1v1h-1zM86 477h1v1h-1zM320 610h1v1h-1zM433 238h1v1h-1zM313 261h1v1h-1zM575 567h1v1h-1zM592 334h1v1h-1zM424 180h1v1h-1zM92 522h1v1h-1zM152 499h1v1h-1zM261 381h1v1h-1zM191 298h1v1h-1zM460 442h1v1h-1zM377 543h1v1h-1zM567 162h1v1h-1zM366 466h1v1h-1zM273 551h1v1h-1zM215 219h1v1h-1zM396 351h1v1h-1zM260 307h1v1h-1zM71 115h1v1h-1zM451 469h1v1h-1zM208 192h1v1h-1zM78 328h1v1h-1zM185 86h1v1h-1zM417 524h1v1h-1zM432 163h1v1h-1zM185 521h1v1h-1zM150 433h1v1h-1zM408 122h1v1h-1zM378 130h1v1h-1zM416 466h1v1h-1zM590 525h1v1h-1zM544 332h1v1h-1zM481 530h1v1h-1zM100 509h1v1h-1zM483 449h1v1h-1zM106 583h1v1h-1zM365 338h1v1h-1zM94 290h1v1h-1zM249 104h1v1h-1zM377 201h1v1h-1zM95 519h1v1h-1zM321 195h1v1h-1zM363 512h1v1h-1zM421 127h1v1h-1zM128 192h1v1h-1zM299 98h1v1h-1zM71 179h1v1h-1zM375 392h1v1h-1zM112 252h1v1h-1zM360 476h1v1h-1zM103 304h1v1h-1zM405 485h1v1h-1zM147 165h1v1h-1zM74 288h1v1h-1zM141 184h1v1h-1zM326 543h1v1h-1zM399 179h1v1h-1zM298 309h1v1h-1zM78 301h1v1h-1zM291 271h1v1h-1zM609 432h1v1h-1zM438 318h1v1h-1zM98 449h1v1h-1zM264 168h1v1h-1zM431 289h1v1h-1zM192 589h1v1h-1zM488 141h1v1h-1zM386 554h1v1h-1zM142 550h1v1h-1zM140 518h1v1h-1zM340 519h1v1h-1zM72 568h1v1h-1zM147 403h1v1h-1zM242 249h1v1h-1zM351 198h1v1h-1zM82 121h1v1h-1zM387 502h1v1h-1zM276 542h1v1h-1zM218 152h1v1h-1zM104 173h1v1h-1zM411 315h1v1h-1zM235 301h1v1h-1zM481 157h1v1h-1zM413 343h1v1h-1zM351 173h1v1h-1zM225 111h1v1h-1zM291 81h1v1h-1zM217 163h1v1h-1zM349 106h1v1h-1zM103 516h1v1h-1zM501 159h1v1h-1zM125 104h1v1h-1zM169 502h1v1h-1zM165 400h1v1h-1zM423 108h1v1h-1zM473 397h1v1h-1zM133 498h1v1h-1zM195 296h1v1h-1zM356 533h1v1h-1zM522 203h1v1h-1zM269 233h1v1h-1zM81 502h1v1h-1zM347 287h1v1h-1zM119 564h1v1h-1zM98 469h1v1h-1zM385 468h1v1h-1zM252 324h1v1h-1zM152 547h1v1h-1zM149 196h1v1h-1zM325 155h1v1h-1zM292 364h1v1h-1zM497 112h1v1h-1zM148 511h1v1h-1zM408 289h1v1h-1zM374 174h1v1h-1zM406 409h1v1h-1zM531 381h1v1h-1zM184 538h1v1h-1zM531 465h1v1h-1zM467 523h1v1h-1zM546 508h1v1h-1zM186 177h1v1h-1zM482 585h1v1h-1zM311 558h1v1h-1zM176 384h1v1h-1zM219 536h1v1h-1zM480 247h1v1h-1zM449 514h1v1h-1zM293 482h1v1h-1zM161 182h1v1h-1zM564 393h1v1h-1zM249 242h1v1h-1zM335 328h1v1h-1zM591 432h1v1h-1zM318 598h1v1h-1zM410 607h1v1h-1zM408 210h1v1h-1zM447 463h1v1h-1zM320 396h1v1h-1zM176 532h1v1h-1zM227 609h1v1h-1zM249 238h1v1h-1zM72 569h1v1h-1zM307 84h1v1h-1zM408 411h1v1h-1zM180 190h1v1h-1zM238 572h1v1h-1zM425 591h1v1h-1zM143 197h1v1h-1zM102 325h1v1h-1zM299 406h1v1h-1zM191 230h1v1h-1zM176 128h1v1h-1zM236 210h1v1h-1zM366 178h1v1h-1zM70 533h1v1h-1zM538 72h1v1h-1zM107 184h1v1h-1zM369 181h1v1h-1zM323 559h1v1h-1zM347 255h1v1h-1zM174 473h1v1h-1zM94 417h1v1h-1zM269 534h1v1h-1zM383 384h1v1h-1zM492 587h1v1h-1zM199 536h1v1h-1zM74 218h1v1h-1zM220 570h1v1h-1zM180 441h1v1h-1zM436 343h1v1h-1zM523 269h1v1h-1zM175 478h1v1h-1zM536 474h1v1h-1zM318 198h1v1h-1zM388 555h1v1h-1zM493 375h1v1h-1zM523 321h1v1h-1zM82 476h1v1h-1zM118 426h1v1h-1zM450 184h1v1h-1zM122 344h1v1h-1zM107 170h1v1h-1zM507 584h1v1h-1zM140 158h1v1h-1zM224 561h1v1h-1zM528 513h1v1h-1zM476 477h1v1h-1zM375 320h1v1h-1zM274 536h1v1h-1zM381 216h1v1h-1zM592 251h1v1h-1zM551 501h1v1h-1zM132 430h1v1h-1zM286 345h1v1h-1zM544 534h1v1h-1zM606 265h1v1h-1zM283 116h1v1h-1zM306 160h1v1h-1zM338 252h1v1h-1zM300 604h1v1h-1zM532 606h1v1h-1zM215 91h1v1h-1zM77 355h1v1h-1zM583 415h1v1h-1zM290 212h1v1h-1zM561 452h1v1h-1zM280 162h1v1h-1zM224 412h1v1h-1zM343 582h1v1h-1zM498 261h1v1h-1zM263 184h1v1h-1zM206 551h1v1h-1zM187 530h1v1h-1zM90 225h1v1h-1zM122 198h1v1h-1zM326 365h1v1h-1zM235 303h1v1h-1zM276 423h1v1h-1zM346 322h1v1h-1zM231 486h1v1h-1zM472 601h1v1h-1zM79 445h1v1h-1zM530 589h1v1h-1zM527 377h1v1h-1zM343 106h1v1h-1zM218 227h1v1h-1zM581 449h1v1h-1zM99 151h1v1h-1zM124 446h1v1h-1zM361 582h1v1h-1zM354 170h1v1h-1zM309 586h1v1h-1zM312 376h1v1h-1zM495 81h1v1h-1zM450 213h1v1h-1zM70 214h1v1h-1zM165 347h1v1h-1zM477 175h1v1h-1zM192 231h1v1h-1zM608 576h1v1h-1zM177 398h1v1h-1zM295 362h1v1h-1zM122 407h1v1h-1zM299 187h1v1h-1zM176 540h1v1h-1zM202 313h1v1h-1zM554 550h1v1h-1zM267 120h1v1h-1zM195 179h1v1h-1zM397 373h1v1h-1zM240 131h1v1h-1zM133 253h1v1h-1zM271 569h1v1h-1zM509 217h1v1h-1zM298 252h1v1h-1zM268 295h1v1h-1zM511 514h1v1h-1zM373 291h1v1h-1zM365 492h1v1h-1zM593 207h1v1h-1zM422 171h1v1h-1zM293 472h1v1h-1zM91 324h1v1h-1zM297 575h1v1h-1zM198 464h1v1h-1zM73 515h1v1h-1zM125 104h1v1h-1zM333 237h1v1h-1zM473 262h1v1h-1zM330 141h1v1h-1zM285 368h1v1h-1zM101 177h1v1h-1zM219 164h1v1h-1zM85 156h1v1h-1zM455 461h1v1h-1zM118 600h1v1h-1zM87 434h1v1h-1zM306 364h1v1h-1zM256 279h1v1h-1zM231 578h1v1h-1zM99 536h1v1h-1zM569 357h1v1h-1zM172 350h1v1h-1zM563 569h1v1h-1zM213 503h1v1h-1zM452 425h1v1h-1zM376 314h1v1h-1zM328 514h1v1h-1zM459 539h1v1h-1zM271 459h1v1h-1zM378 148h1v1h-1zM238 524h1v1h-1zM484 134h1v1h-1zM548 246h1v1h-1zM350 274h1v1h-1zM207 110h1v1h-1zM337 428h1v1h-1zM430 138h1v1h-1zM122 506h1v1h-1zM142 307h1v1h-1zM551 533h1v1h-1zM140 507h1v1h-1zM240 302h1v1h-1zM113 530h1v1h-1zM231 312h1v1h-1zM99 390h1v1h-1zM603 197h1v1h-1zM309 103h1v1h-1zM135 477h1v1h-1zM229 311h1v1h-1zM231 318h1v1h-1zM574 259h1v1h-1zM370 126h1v1h-1zM104 80h1v1h-1zM533 547h1v1h-1zM264 506h1v1h-1zM227 409h1v1h-1zM151 545h1v1h-1zM201 365h1v1h-1zM303 337h1v1h-1zM263 459h1v1h-1zM146 428h1v1h-1zM524 311h1v1h-1zM233 234h1v1h-1zM340 154h1v1h-1zM411 189h1v1h-1zM373 92h1v1h-1zM80 386h1v1h-1zM328 117h1v1h-1zM379 130h1v1h-1zM176 557h1v1h-1zM296 186h1v1h-1zM522 349h1v1h-1zM241 132h1v1h-1zM272 168h1v1h-1zM176 290h1v1h-1zM559 334h1v1h-1zM422 356h1v1h-1zM451 425h1v1h-1zM504 315h1v1h-1zM402 79h1v1h-1zM168 122h1v1h-1zM559 369h1v1h-1zM138 211h1v1h-1zM152 402h1v1h-1zM439 294h1v1h-1zM288 464h1v1h-1zM178 511h1v1h-1zM348 508h1v1h-1zM158 558h1v1h-1zM110 242h1v1h-1zM592 521h1v1h-1zM209 343h1v1h-1zM507 420h1v1h-1zM295 184h1v1h-1zM383 322h1v1h-1zM377 78h1v1h-1zM191 352h1v1h-1zM282 80h1v1h-1zM512 155h1v1h-1zM207 126h1v1h-1zM266 125h1v1h-1zM300 451h1v1h-1zM115 106h1v1h-1zM418 588h1v1h-1zM479 184h1v1h-1zM294 538h1v1h-1zM192 236h1v1h-1zM69 195h1v1h-1zM191 575h1v1h-1zM355 421h1v1h-1zM330 208h1v1h-1zM548 82h1v1h-1zM257 365h1v1h-1zM100 254h1v1h-1zM516 304h1v1h-1zM362 291h1v1h-1zM190 458h1v1h-1zM498 264h1v1h-1zM282 503h1v1h-1zM411 569h1v1h-1zM260 562h1v1h-1zM94 545h1v1h-1zM388 381h1v1h-1zM328 305h1v1h-1zM374 181h1v1h-1zM201 566h1v1h-1zM457 592h1v1h-1zM173 278h1v1h-1zM507 350h1v1h-1zM608 219h1v1h-1zM491 553h1v1h-1zM130 502h1v1h-1zM306 489h1v1h-1zM357 117h1v1h-1zM459 578h1v1h-1zM497 451h1v1h-1zM353 572h1v1h-1zM87 197h1v1h-1zM75 481h1v1h-1zM80 553h1v1h-1zM362 431h1v1h-1zM380 168h1v1h-1zM351 486h1v1h-1zM392 199h1v1h-1zM357 329h1v1h-1zM244 276h1v1h-1zM425 261h1v1h-1zM167 461h1v1h-1zM355 508h1v1h-1zM155 135h1v1h-1zM91 129h1v1h-1zM236 143h1v1h-1zM140 461h1v1h-1zM467 420h1v1h-1zM174 585h1v1h-1zM302 253h1v1h-1zM443 547h1v1h-1zM70 501h1v1h-1zM302 473h1v1h-1zM431 146h1v1h-1zM222 224h1v1h-1zM175 565h1v1h-1zM501 474h1v1h-1zM158 551h1v1h-1zM200 447h1v1h-1zM244 394h1v1h-1zM253 450h1v1h-1zM499 414h1v1h-1zM449 334h1v1h-1zM154 69h1v1h-1zM282 206h1v1h-1zM217 401h1v1h-1zM87 369h1v1h-1zM399 100h1v1h-1zM180 396h1v1h-1zM264 367h1v1h-1zM166 323h1v1h-1zM134 180h1v1h-1zM142 409h1v1h-1zM148 418h1v1h-1zM77 520h1v1h-1zM277 575h1v1h-1zM322 142h1v1h-1zM314 263h1v1h-1zM206 579h1v1h-1zM105 87h1v1h-1zM128 317h1v1h-1zM357 157h1v1h-1zM518 438h1v1h-1zM415 451h1v1h-1zM498 474h1v1h-1zM140 424h1v1h-1zM141 86h1v1h-1zM187 118h1v1h-1zM410 412h1v1h-1zM374 266h1v1h-1zM483 280h1v1h-1zM403 344h1v1h-1zM400 146h1v1h-1zM365 524h1v1h-1zM174 514h1v1h-1zM251 514h1v1h-1zM212 133h1v1h-1zM594 150h1v1h-1zM93 250h1v1h-1zM305 153h1v1h-1zM431 572h1v1h-1zM479 383h1v1h-1zM94 137h1v1h-1zM160 320h1v1h-1zM592 205h1v1h-1zM431 261h1v1h-1zM302 371h1v1h-1zM568 516h1v1h-1zM153 144h1v1h-1zM361 85h1v1h-1zM413 568h1v1h-1zM320 549h1v1h-1zM374 129h1v1h-1zM203 605h1v1h-1zM105 72h1v1h-1zM114 76h1v1h-1zM587 282h1v1h-1zM111 296h1v1h-1zM139 553h1v1h-1zM361 301h1v1h-1zM374 493h1v1h-1zM237 433h1v1h-1zM379 357h1v1h-1zM151 537h1v1h-1zM186 441h1v1h-1zM605 432h1v1h-1zM94 313h1v1h-1zM412 332h1v1h-1zM348 534h1v1h-1zM267 440h1v1h-1zM256 185h1v1h-1zM232 312h1v1h-1zM149 80h1v1h-1zM110 218h1v1h-1zM87 581h1v1h-1zM134 295h1v1h-1zM440 376h1v1h-1zM408 362h1v1h-1zM108 126h1v1h-1zM561 203h1v1h-1zM260 243h1v1h-1zM500 299h1v1h-1zM393 436h1v1h-1zM96 549h1v1h-1zM523 433h1v1h-1zM576 138h1v1h-1zM97 168h1v1h-1zM174 144h1v1h-1zM375 462h1v1h-1zM93 445h1v1h-1zM532 204h1v1h-1zM370 285h1v1h-1zM153 475h1v1h-1zM363 228h1v1h-1zM356 143h1v1h-1zM91 192h1v1h-1zM437 373h1v1h-1zM423 139h1v1h-1zM327 304h1v1h-1zM479 175h1v1h-1zM439 473h1v1h-1zM527 99h1v1h-1zM209 299h1v1h-1zM485 302h1v1h-1zM161 289h1v1h-1zM159 503h1v1h-1zM581 208h1v1h-1zM184 497h1v1h-1zM384 371h1v1h-1zM444 430h1v1h-1zM382 324h1v1h-1zM333 550h1v1h-1zM588 604h1v1h-1zM215 161h1v1h-1zM290 579h1v1h-1zM283 279h1v1h-1zM335 120h1v1h-1zM542 239h1v1h-1zM138 571h1v1h-1zM291 381h1v1h-1zM183 478h1v1h-1zM127 463h1v1h-1zM233 153h1v1h-1zM169 265h1v1h-1zM294 587h1v1h-1zM503 312h1v1h-1zM528 129h1v1h-1zM98 380h1v1h-1zM201 582h1v1h-1zM351 237h1v1h-1zM432 131h1v1h-1zM281 445h1v1h-1zM99 597h1v1h-1zM223 341h1v1h-1zM213 432h1v1h-1zM98 98h1v1h-1zM253 271h1v1h-1zM554 514h1v1h-1zM261 437h1v1h-1zM299 567h1v1h-1zM365 408h1v1h-1zM313 114h1v1h-1zM435 511h1v1h-1zM330 399h1v1h-1zM520 394h1v1h-1zM352 596h1v1h-1zM205 570h1v1h-1zM280 421h1v1h-1zM481 133h1v1h-1zM288 482h1v1h-1zM278 333h1v1h-1zM135 512h1v1h-1zM205 274h1v1h-1zM114 558h1v1h-1zM482 391h1v1h-1zM227 602h1v1h-1zM220 313h1v1h-1zM199 572h1v1h-1zM127 241h1v1h-1zM106 577h1v1h-1zM440 314h1v1h-1zM191 571h1v1h-1zM219 396h1v1h-1zM224 129h1v1h-1zM167 227h1v1h-1zM148 486h1v1h-1zM223 183h1v1h-1zM334 84h1v1h-1zM142 579h1v1h-1zM587 508h1v1h-1zM247 344h1v1h-1zM576 592h1v1h-1zM323 469h1v1h-1zM192 407h1v1h-1zM526 318h1v1h-1zM460 298h1v1h-1zM78 129h1v1h-1zM440 135h1v1h-1zM353 417h1v1h-1zM189 345h1v1h-1zM142 517h1v1h-1zM501 162h1v1h-1zM131 173h1v1h-1zM342 479h1v1h-1zM289 102h1v1h-1zM124 551h1v1h-1zM74 141h1v1h-1zM177 493h1v1h-1zM568 584h1v1h-1zM224 513h1v1h-1zM118 314h1v1h-1zM220 608h1v1h-1zM392 223h1v1h-1zM293 160h1v1h-1zM424 351h1v1h-1zM216 271h1v1h-1zM76 566h1v1h-1zM521 445h1v1h-1zM211 303h1v1h-1zM171 566h1v1h-1zM448 446h1v1h-1zM201 163h1v1h-1zM272 572h1v1h-1zM353 184h1v1h-1zM301 509h1v1h-1zM172 541h1v1h-1zM136 315h1v1h-1zM321 555h1v1h-1zM257 286h1v1h-1zM452 228h1v1h-1zM201 263h1v1h-1zM240 303h1v1h-1zM96 520h1v1h-1zM148 87h1v1h-1zM344 556h1v1h-1zM319 234h1v1h-1zM75 530h1v1h-1zM104 197h1v1h-1zM150 396h1v1h-1zM378 595h1v1h-1zM91 609h1v1h-1zM414 234h1v1h-1zM252 534h1v1h-1zM441 181h1v1h-1zM398 594h1v1h-1zM255 585h1v1h-1zM162 118h1v1h-1zM302 587h1v1h-1zM604 161h1v1h-1zM530 349h1v1h-1zM458 164h1v1h-1zM279 512h1v1h-1zM410 227h1v1h-1zM384 196h1v1h-1zM487 528h1v1h-1zM561 162h1v1h-1zM433 381h1v1h-1zM598 438h1v1h-1zM386 518h1v1h-1zM304 153h1v1h-1zM151 252h1v1h-1zM187 441h1v1h-1zM355 565h1v1h-1zM141 248h1v1h-1zM216 77h1v1h-1zM487 244h1v1h-1zM309 238h1v1h-1zM281 374h1v1h-1zM305 410h1v1h-1zM553 264h1v1h-1zM346 304h1v1h-1zM275 453h1v1h-1zM273 77h1v1h-1zM296 99h1v1h-1zM439 468h1v1h-1zM230 468h1v1h-1zM218 596h1v1h-1zM314 600h1v1h-1zM465 610h1v1h-1zM119 434h1v1h-1zM467 282h1v1h-1zM436 500h1v1h-1zM358 227h1v1h-1zM168 595h1v1h-1zM525 399h1v1h-1zM104 570h1v1h-1zM97 72h1v1h-1zM100 424h1v1h-1zM258 548h1v1h-1zM209 533h1v1h-1zM122 602h1v1h-1zM152 74h1v1h-1zM369 294h1v1h-1zM159 184h1v1h-1zM545 111h1v1h-1zM136 226h1v1h-1zM143 171h1v1h-1zM177 440h1v1h-1zM322 278h1v1h-1zM398 395h1v1h-1zM135 170h1v1h-1zM129 82h1v1h-1zM75 122h1v1h-1zM512 135h1v1h-1zM557 574h1v1h-1zM306 468h1v1h-1zM419 119h1v1h-1zM487 381h1v1h-1zM92 288h1v1h-1zM230 504h1v1h-1zM331 425h1v1h-1zM309 390h1v1h-1zM200 174h1v1h-1zM121 240h1v1h-1zM151 334h1v1h-1zM519 198h1v1h-1zM286 508h1v1h-1zM305 561h1v1h-1zM382 233h1v1h-1zM87 100h1v1h-1zM164 503h1v1h-1zM73 144h1v1h-1zM363 115h1v1h-1zM154 519h1v1h-1zM227 308h1v1h-1zM219 366h1v1h-1zM376 591h1v1h-1zM246 591h1v1h-1zM501 88h1v1h-1zM70 274h1v1h-1zM254 277h1v1h-1zM436 381h1v1h-1zM186 95h1v1h-1zM197 349h1v1h-1zM274 99h1v1h-1zM390 99h1v1h-1zM400 312h1v1h-1zM76 204h1v1h-1zM162 532h1v1h-1zM128 510h1v1h-1zM271 287h1v1h-1zM90 475h1v1h-1zM264 506h1v1h-1zM464 321h1v1h-1zM389 470h1v1h-1zM310 205h1v1h-1zM94 115h1v1h-1zM369 351h1v1h-1zM397 176h1v1h-1zM86 545h1v1h-1zM164 311h1v1h-1zM422 315h1v1h-1zM114 84h1v1h-1zM104 577h1v1h-1zM483 203h1v1h-1zM415 569h1v1h-1zM507 70h1v1h-1zM545 253h1v1h-1zM399 515h1v1h-1zM82 353h1v1h-1zM198 239h1v1h-1zM148 487h1v1h-1zM320 316h1v1h-1zM372 413h1v1h-1zM326 383h1v1h-1zM397 477h1v1h-1zM311 515h1v1h-1zM340 318h1v1h-1zM196 415h1v1h-1zM455 434h1v1h-1zM465 213h1v1h-1zM147 160h1v1h-1zM383 185h1v1h-1zM304 571h1v1h-1zM85 102h1v1h-1zM327 215h1v1h-1zM293 486h1v1h-1zM499 543h1v1h-1zM129 595h1v1h-1zM278 72h1v1h-1zM536 571h1v1h-1zM386 316h1v1h-1zM141 203h1v1h-1zM177 186h1v1h-1zM601 261h1v1h-1zM174 434h1v1h-1zM101 438h1v1h-1zM272 588h1v1h-1zM479 451h1v1h-1zM603 85h1v1h-1zM440 198h1v1h-1zM239 169h1v1h-1zM377 287h1v1h-1zM478 82h1v1h-1zM207 186h1v1h-1zM156 431h1v1h-1zM311 156h1v1h-1zM471 347h1v1h-1zM96 447h1v1h-1zM396 109h1v1h-1zM573 348h1v1h-1zM136 170h1v1h-1zM291 426h1v1h-1zM581 577h1v1h-1zM296 173h1v1h-1zM260 327h1v1h-1zM337 528h1v1h-1zM185 264h1v1h-1zM163 418h1v1h-1zM338 425h1v1h-1zM585 572h1v1h-1zM152 351h1v1h-1zM297 124h1v1h-1zM376 499h1v1h-1zM73 88h1v1h-1zM332 354h1v1h-1zM540 577h1v1h-1zM354 232h1v1h-1zM81 522h1v1h-1zM127 520h1v1h-1zM508 83h1v1h-1zM80 200h1v1h-1zM405 356h1v1h-1zM574 226h1v1h-1zM220 312h1v1h-1zM100 502h1v1h-1zM147 527h1v1h-1zM450 291h1v1h-1zM316 325h1v1h-1zM291 519h1v1h-1zM366 360h1v1h-1zM220 91h1v1h-1zM129 286h1v1h-1zM150 567h1v1h-1zM112 307h1v1h-1zM280 322h1v1h-1zM237 531h1v1h-1zM500 79h1v1h-1zM516 71h1v1h-1zM359 505h1v1h-1zM229 234h1v1h-1zM98 396h1v1h-1zM95 552h1v1h-1zM373 277h1v1h-1zM399 261h1v1h-1zM86 483h1v1h-1zM392 607h1v1h-1zM132 171h1v1h-1zM82 441h1v1h-1zM325 344h1v1h-1zM132 442h1v1h-1zM374 319h1v1h-1zM479 575h1v1h-1zM258 143h1v1h-1zM84 261h1v1h-1zM467 546h1v1h-1zM280 107h1v1h-1zM595 173h1v1h-1zM442 288h1v1h-1zM556 408h1v1h-1zM563 513h1v1h-1zM300 368h1v1h-1zM260 273h1v1h-1zM82 341h1v1h-1zM314 490h1v1h-1zM313 200h1v1h-1zM368 326h1v1h-1zM411 454h1v1h-1zM185 453h1v1h-1zM135 269h1v1h-1zM222 339h1v1h-1zM105 242h1v1h-1zM484 308h1v1h-1zM95 149h1v1h-1zM145 510h1v1h-1zM566 558h1v1h-1zM98 220h1v1h-1zM320 480h1v1h-1zM137 329h1v1h-1zM175 152h1v1h-1zM156 395h1v1h-1zM409 200h1v1h-1zM119 243h1v1h-1zM81 124h1v1h-1zM133 97h1v1h-1zM253 399h1v1h-1zM477 264h1v1h-1zM178 556h1v1h-1zM69 540h1v1h-1zM558 168h1v1h-1zM106 381h1v1h-1zM111 428h1v1h-1zM205 385h1v1h-1zM211 576h1v1h-1zM260 486h1v1h-1zM514 598h1v1h-1zM119 447h1v1h-1zM475 130h1v1h-1zM194 546h1v1h-1zM104 256h1v1h-1zM143 570h1v1h-1zM365 451h1v1h-1zM564 478h1v1h-1zM275 160h1v1h-1zM398 514h1v1h-1zM506 412h1v1h-1zM255 516h1v1h-1zM178 448h1v1h-1zM246 551h1v1h-1zM213 159h1v1h-1zM95 133h1v1h-1zM381 395h1v1h-1zM514 192h1v1h-1zM194 451h1v1h-1zM265 360h1v1h-1zM398 228h1v1h-1zM542 141h1v1h-1zM507 214h1v1h-1zM459 450h1v1h-1zM72 245h1v1h-1zM477 588h1v1h-1zM488 609h1v1h-1zM359 231h1v1h-1zM220 392h1v1h-1zM443 156h1v1h-1zM377 297h1v1h-1zM290 533h1v1h-1zM416 343h1v1h-1zM238 241h1v1h-1zM529 289h1v1h-1zM361 473h1v1h-1zM354 374h1v1h-1zM166 520h1v1h-1zM468 182h1v1h-1zM372 516h1v1h-1zM115 313h1v1h-1zM106 584h1v1h-1zM338 167h1v1h-1zM308 227h1v1h-1zM113 407h1v1h-1zM217 160h1v1h-1zM369 391h1v1h-1zM81 450h1v1h-1zM355 405h1v1h-1zM185 462h1v1h-1zM317 97h1v1h-1zM544 108h1v1h-1zM551 424h1v1h-1zM172 565h1v1h-1zM400 527h1v1h-1zM363 201h1v1h-1zM426 601h1v1h-1zM258 161h1v1h-1zM377 95h1v1h-1zM108 312h1v1h-1zM140 339h1v1h-1zM417 251h1v1h-1zM184 494h1v1h-1zM320 170h1v1h-1zM150 599h1v1h-1zM459 486h1v1h-1zM242 431h1v1h-1zM387 337h1v1h-1zM192 528h1v1h-1zM217 392h1v1h-1zM287 232h1v1h-1zM266 280h1v1h-1zM70 456h1v1h-1zM585 203h1v1h-1zM323 108h1v1h-1zM259 526h1v1h-1zM117 230h1v1h-1zM257 500h1v1h-1zM185 99h1v1h-1zM408 386h1v1h-1zM170 106h1v1h-1zM362 399h1v1h-1zM432 103h1v1h-1zM74 167h1v1h-1zM104 146h1v1h-1zM151 423h1v1h-1zM178 428h1v1h-1zM71 193h1v1h-1zM451 462h1v1h-1zM324 243h1v1h-1zM377 177h1v1h-1zM460 531h1v1h-1zM435 284h1v1h-1zM300 434h1v1h-1zM476 531h1v1h-1zM374 352h1v1h-1zM381 194h1v1h-1zM161 556h1v1h-1zM159 74h1v1h-1zM521 440h1v1h-1zM113 128h1v1h-1zM140 319h1v1h-1zM433 134h1v1h-1zM192 173h1v1h-1zM129 79h1v1h-1zM356 202h1v1h-1zM352 480h1v1h-1zM128 541h1v1h-1zM252 191h1v1h-1zM407 436h1v1h-1zM459 325h1v1h-1zM407 365h1v1h-1zM172 250h1v1h-1zM487 307h1v1h-1zM99 270h1v1h-1zM468 169h1v1h-1zM70 360h1v1h-1zM223 475h1v1h-1zM388 427h1v1h-1zM101 74h1v1h-1zM474 335h1v1h-1zM464 150h1v1h-1zM506 183h1v1h-1zM193 535h1v1h-1zM586 137h1v1h-1zM220 412h1v1h-1zM283 177h1v1h-1zM427 346h1v1h-1zM254 138h1v1h-1zM331 575h1v1h-1zM209 462h1v1h-1zM151 514h1v1h-1zM138 255h1v1h-1zM121 348h1v1h-1zM418 377h1v1h-1zM511 535h1v1h-1zM400 91h1v1h-1zM463 273h1v1h-1zM69 194h1v1h-1zM492 87h1v1h-1zM464 266h1v1h-1zM560 420h1v1h-1zM116 214h1v1h-1zM75 215h1v1h-1zM99 307h1v1h-1zM385 70h1v1h-1zM420 389h1v1h-1zM71 223h1v1h-1zM121 75h1v1h-1zM514 575h1v1h-1zM91 137h1v1h-1zM498 206h1v1h-1zM464 575h1v1h-1zM256 96h1v1h-1zM221 525h1v1h-1zM376 439h1v1h-1zM225 284h1v1h-1zM134 263h1v1h-1zM340 127h1v1h-1zM533 463h1v1h-1zM249 102h1v1h-1zM463 211h1v1h-1zM242 151h1v1h-1zM113 94h1v1h-1zM388 518h1v1h-1zM490 436h1v1h-1zM352 107h1v1h-1zM302 184h1v1h-1zM74 607h1v1h-1zM89 353h1v1h-1zM480 483h1v1h-1zM532 137h1v1h-1zM110 250h1v1h-1zM226 272h1v1h-1zM329 453h1v1h-1zM214 70h1v1h-1zM125 195h1v1h-1zM222 482h1v1h-1zM541 307h1v1h-1zM105 76h1v1h-1zM364 221h1v1h-1zM248 507h1v1h-1zM94 599h1v1h-1zM276 476h1v1h-1zM429 290h1v1h-1zM384 86h1v1h-1zM447 104h1v1h-1zM401 90h1v1h-1zM184 526h1v1h-1zM412 199h1v1h-1zM413 222h1v1h-1zM560 262h1v1h-1zM477 132h1v1h-1zM420 268h1v1h-1zM483 560h1v1h-1zM276 409h1v1h-1zM212 174h1v1h-1zM569 358h1v1h-1zM83 283h1v1h-1zM147 523h1v1h-1zM260 429h1v1h-1zM79 564h1v1h-1zM71 575h1v1h-1zM170 107h1v1h-1zM243 279h1v1h-1zM351 487h1v1h-1zM144 232h1v1h-1zM214 399h1v1h-1zM80 410h1v1h-1zM71 349h1v1h-1zM531 174h1v1h-1zM339 337h1v1h-1zM229 504h1v1h-1zM136 170h1v1h-1zM250 390h1v1h-1zM93 154h1v1h-1zM415 213h1v1h-1zM555 202h1v1h-1zM531 251h1v1h-1zM124 286h1v1h-1zM379 418h1v1h-1zM122 123h1v1h-1zM256 157h1v1h-1zM231 589h1v1h-1zM220 255h1v1h-1zM389 160h1v1h-1zM356 223h1v1h-1zM168 407h1v1h-1zM209 339h1v1h-1zM217 457h1v1h-1zM119 75h1v1h-1zM282 180h1v1h-1zM594 394h1v1h-1zM434 181h1v1h-1zM533 353h1v1h-1zM128 101h1v1h-1zM111 400h1v1h-1zM180 358h1v1h-1zM573 280h1v1h-1zM244 233h1v1h-1zM333 295h1v1h-1zM511 557h1v1h-1zM406 506h1v1h-1zM309 141h1v1h-1zM431 293h1v1h-1zM394 432h1v1h-1zM427 151h1v1h-1zM447 509h1v1h-1zM426 173h1v1h-1zM315 227h1v1h-1zM367 600h1v1h-1zM359 403h1v1h-1zM114 255h1v1h-1zM514 226h1v1h-1zM415 461h1v1h-1zM110 392h1v1h-1zM376 480h1v1h-1zM399 121h1v1h-1zM378 467h1v1h-1zM362 337h1v1h-1zM376 420h1v1h-1zM308 592h1v1h-1zM326 225h1v1h-1zM467 128h1v1h-1zM506 325h1v1h-1zM89 280h1v1h-1zM245 231h1v1h-1zM310 274h1v1h-1zM312 217h1v1h-1zM514 406h1v1h-1zM381 82h1v1h-1zM430 547h1v1h-1zM330 564h1v1h-1zM513 353h1v1h-1zM335 552h1v1h-1zM130 276h1v1h-1zM102 484h1v1h-1zM213 576h1v1h-1zM130 291h1v1h-1zM195 224h1v1h-1zM87 588h1v1h-1zM490 257h1v1h-1zM78 453h1v1h-1zM221 206h1v1h-1zM156 93h1v1h-1zM343 256h1v1h-1zM219 465h1v1h-1zM607 189h1v1h-1zM135 253h1v1h-1zM488 214h1v1h-1zM156 602h1v1h-1zM128 535h1v1h-1zM557 169h1v1h-1zM441 517h1v1h-1zM467 378h1v1h-1zM439 563h1v1h-1zM110 465h1v1h-1zM294 549h1v1h-1zM155 459h1v1h-1zM492 601h1v1h-1zM121 224h1v1h-1zM454 298h1v1h-1zM427 176h1v1h-1zM276 523h1v1h-1zM596 268h1v1h-1zM165 574h1v1h-1zM545 547h1v1h-1zM134 275h1v1h-1zM301 114h1v1h-1zM117 290h1v1h-1zM604 226h1v1h-1zM136 429h1v1h-1zM427 121h1v1h-1zM270 317h1v1h-1zM422 534h1v1h-1zM463 263h1v1h-1zM374 600h1v1h-1zM105 573h1v1h-1zM332 362h1v1h-1zM341 577h1v1h-1zM134 117h1v1h-1zM164 343h1v1h-1zM393 192h1v1h-1zM323 399h1v1h-1zM355 439h1v1h-1zM327 158h1v1h-1zM92 135h1v1h-1zM118 557h1v1h-1zM283 454h1v1h-1zM530 400h1v1h-1zM131 171h1v1h-1zM422 423h1v1h-1zM189 203h1v1h-1zM111 209h1v1h-1zM438 184h1v1h-1zM76 167h1v1h-1zM277 606h1v1h-1zM565 243h1v1h-1zM407 514h1v1h-1zM295 401h1v1h-1zM576 406h1v1h-1zM69 562h1v1h-1zM83 96h1v1h-1zM74 108h1v1h-1zM297 163h1v1h-1zM298 319h1v1h-1zM310 173h1v1h-1zM101 274h1v1h-1zM360 183h1v1h-1zM264 278h1v1h-1zM218 480h1v1h-1zM608 485h1v1h-1zM125 104h1v1h-1zM512 291h1v1h-1zM474 610h1v1h-1zM289 468h1v1h-1zM210 558h1v1h-1zM253 538h1v1h-1zM510 143h1v1h-1zM386 254h1v1h-1zM77 300h1v1h-1zM104 322h1v1h-1zM473 443h1v1h-1zM396 152h1v1h-1zM421 479h1v1h-1zM137 84h1v1h-1zM86 91h1v1h-1zM205 182h1v1h-1zM229 176h1v1h-1zM408 220h1v1h-1zM316 345h1v1h-1zM179 392h1v1h-1zM289 380h1v1h-1zM251 260h1v1h-1zM423 540h1v1h-1zM288 516h1v1h-1zM514 143h1v1h-1zM246 552h1v1h-1zM446 191h1v1h-1zM379 569h1v1h-1zM439 333h1v1h-1zM144 331h1v1h-1zM513 152h1v1h-1zM163 234h1v1h-1zM319 515h1v1h-1zM121 230h1v1h-1zM102 592h1v1h-1zM114 603h1v1h-1zM145 567h1v1h-1zM423 337h1v1h-1zM112 419h1v1h-1zM592 365h1v1h-1zM181 478h1v1h-1zM243 556h1v1h-1zM187 427h1v1h-1zM130 383h1v1h-1zM383 259h1v1h-1zM518 311h1v1h-1zM377 577h1v1h-1zM70 154h1v1h-1zM97 311h1v1h-1zM236 112h1v1h-1zM597 330h1v1h-1zM609 212h1v1h-1zM582 383h1v1h-1zM571 255h1v1h-1zM314 297h1v1h-1zM595 303h1v1h-1zM205 462h1v1h-1zM323 364h1v1h-1zM94 530h1v1h-1zM575 579h1v1h-1zM86 424h1v1h-1zM474 335h1v1h-1zM497 301h1v1h-1zM95 353h1v1h-1zM227 98h1v1h-1zM208 97h1v1h-1zM73 150h1v1h-1zM248 318h1v1h-1zM349 334h1v1h-1zM83 88h1v1h-1zM451 306h1v1h-1zM285 371h1v1h-1zM167 238h1v1h-1zM535 200h1v1h-1zM109 449h1v1h-1zM319 391h1v1h-1zM552 503h1v1h-1zM436 492h1v1h-1zM98 405h1v1h-1zM398 362h1v1h-1zM239 153h1v1h-1zM610 313h1v1h-1zM299 167h1v1h-1zM226 593h1v1h-1zM257 264h1v1h-1zM409 186h1v1h-1zM434 414h1v1h-1zM476 162h1v1h-1zM118 174h1v1h-1zM451 391h1v1h-1zM409 134h1v1h-1zM306 69h1v1h-1zM179 550h1v1h-1zM140 125h1v1h-1zM93 490h1v1h-1zM424 536h1v1h-1zM371 345h1v1h-1zM607 356h1v1h-1zM276 533h1v1h-1zM236 540h1v1h-1zM484 146h1v1h-1zM230 100h1v1h-1zM481 479h1v1h-1zM437 78h1v1h-1zM199 405h1v1h-1zM172 258h1v1h-1zM84 368h1v1h-1zM458 476h1v1h-1zM275 606h1v1h-1zM424 402h1v1h-1zM334 283h1v1h-1zM504 324h1v1h-1zM116 396h1v1h-1zM162 279h1v1h-1zM97 512h1v1h-1zM219 153h1v1h-1zM380 547h1v1h-1zM352 113h1v1h-1zM272 315h1v1h-1zM128 77h1v1h-1zM323 570h1v1h-1zM459 191h1v1h-1zM516 504h1v1h-1zM186 253h1v1h-1zM84 381h1v1h-1zM119 123h1v1h-1zM566 246h1v1h-1zM532 566h1v1h-1zM404 361h1v1h-1zM139 573h1v1h-1zM522 388h1v1h-1zM140 460h1v1h-1zM267 445h1v1h-1zM418 265h1v1h-1zM181 311h1v1h-1zM239 491h1v1h-1zM382 573h1v1h-1zM399 591h1v1h-1zM182 211h1v1h-1zM269 259h1v1h-1zM585 339h1v1h-1zM274 113h1v1h-1zM397 540h1v1h-1zM82 403h1v1h-1zM227 222h1v1h-1zM398 478h1v1h-1zM464 575h1v1h-1zM107 411h1v1h-1zM175 326h1v1h-1zM110 576h1v1h-1zM471 83h1v1h-1zM373 472h1v1h-1zM376 323h1v1h-1zM465 230h1v1h-1zM426 261h1v1h-1zM71 290h1v1h-1zM135 533h1v1h-1zM230 302h1v1h-1zM493 214h1v1h-1zM230 384h1v1h-1zM538 507h1v1h-1zM299 159h1v1h-1zM103 456h1v1h-1zM497 449h1v1h-1zM115 483h1v1h-1zM232 329h1v1h-1zM185 157h1v1h-1zM177 584h1v1h-1zM116 76h1v1h-1zM436 105h1v1h-1zM173 416h1v1h-1zM385 546h1v1h-1zM190 494h1v1h-1zM200 258h1v1h-1zM276 284h1v1h-1zM305 327h1v1h-1zM174 121h1v1h-1zM217 540h1v1h-1zM145 132h1v1h-1zM497 106h1v1h-1zM135 229h1v1h-1zM223 264h1v1h-1zM555 524h1v1h-1zM584 607h1v1h-1zM368 335h1v1h-1zM298 395h1v1h-1zM90 542h1v1h-1zM532 513h1v1h-1zM346 356h1v1h-1zM249 521h1v1h-1zM464 378h1v1h-1zM282 213h1v1h-1zM271 356h1v1h-1zM120 452h1v1h-1zM604 443h1v1h-1zM408 323h1v1h-1zM163 520h1v1h-1zM345 220h1v1h-1zM318 319h1v1h-1zM587 277h1v1h-1zM426 434h1v1h-1zM371 289h1v1h-1zM440 281h1v1h-1zM516 608h1v1h-1zM194 163h1v1h-1zM179 118h1v1h-1zM604 441h1v1h-1zM349 544h1v1h-1zM610 551h1v1h-1zM98 438h1v1h-1zM189 236h1v1h-1zM527 390h1v1h-1zM328 539h1v1h-1zM79 422h1v1h-1zM142 303h1v1h-1zM320 498h1v1h-1zM502 526h1v1h-1zM199 400h1v1h-1zM571 404h1v1h-1zM207 532h1v1h-1zM130 154h1v1h-1zM431 259h1v1h-1zM100 480h1v1h-1zM267 361h1v1h-1zM271 354h1v1h-1zM161 155h1v1h-1zM102 587h1v1h-1zM323 585h1v1h-1zM322 258h1v1h-1zM261 478h1v1h-1zM383 128h1v1h-1zM342 226h1v1h-1zM473 324h1v1h-1zM471 383h1v1h-1zM379 445h1v1h-1zM255 598h1v1h-1zM127 266h1v1h-1zM211 599h1v1h-1zM342 206h1v1h-1zM105 472h1v1h-1zM113 481h1v1h-1zM487 361h1v1h-1zM198 489h1v1h-1zM435 545h1v1h-1zM289 478h1v1h-1zM284 267h1v1h-1zM208 330h1v1h-1zM274 345h1v1h-1zM573 79h1v1h-1zM287 215h1v1h-1zM118 584h1v1h-1zM280 471h1v1h-1zM259 542h1v1h-1zM270 542h1v1h-1zM352 166h1v1h-1zM538 228h1v1h-1zM76 242h1v1h-1zM157 525h1v1h-1zM132 315h1v1h-1zM90 457h1v1h-1zM306 406h1v1h-1zM190 351h1v1h-1zM557 404h1v1h-1zM99 168h1v1h-1zM130 571h1v1h-1zM86 409h1v1h-1zM554 470h1v1h-1zM513 412h1v1h-1zM119 278h1v1h-1zM72 483h1v1h-1zM346 226h1v1h-1zM229 357h1v1h-1zM336 262h1v1h-1zM370 526h1v1h-1zM296 535h1v1h-1zM268 356h1v1h-1zM217 541h1v1h-1zM193 188h1v1h-1zM71 522h1v1h-1zM348 123h1v1h-1zM276 94h1v1h-1zM257 422h1v1h-1zM399 101h1v1h-1zM169 565h1v1h-1zM393 443h1v1h-1zM325 385h1v1h-1zM343 508h1v1h-1zM178 563h1v1h-1zM107 103h1v1h-1zM430 230h1v1h-1zM195 483h1v1h-1zM404 560h1v1h-1zM257 397h1v1h-1zM275 281h1v1h-1zM132 159h1v1h-1zM242 548h1v1h-1zM196 237h1v1h-1zM185 380h1v1h-1zM105 517h1v1h-1zM265 467h1v1h-1zM428 69h1v1h-1zM372 537h1v1h-1zM385 433h1v1h-1zM222 533h1v1h-1zM200 95h1v1h-1zM279 161h1v1h-1zM191 538h1v1h-1zM141 431h1v1h-1zM381 401h1v1h-1zM472 480h1v1h-1zM556 160h1v1h-1zM483 427h1v1h-1zM257 314h1v1h-1zM137 491h1v1h-1zM92 603h1v1h-1zM499 447h1v1h-1zM488 505h1v1h-1zM288 148h1v1h-1zM406 546h1v1h-1zM356 321h1v1h-1zM218 443h1v1h-1zM266 405h1v1h-1zM226 198h1v1h-1zM242 195h1v1h-1zM258 584h1v1h-1zM330 74h1v1h-1zM553 498h1v1h-1zM356 532h1v1h-1zM464 281h1v1h-1zM417 349h1v1h-1zM253 248h1v1h-1zM534 573h1v1h-1zM141 562h1v1h-1zM326 366h1v1h-1zM138 435h1v1h-1zM230 474h1v1h-1zM382 556h1v1h-1zM425 114h1v1h-1zM383 304h1v1h-1zM210 538h1v1h-1zM70 411h1v1h-1zM177 347h1v1h-1zM541 528h1v1h-1zM378 445h1v1h-1zM202 341h1v1h-1zM340 463h1v1h-1zM400 294h1v1h-1zM442 319h1v1h-1zM421 260h1v1h-1zM396 481h1v1h-1zM175 119h1v1h-1zM74 166h1v1h-1zM417 286h1v1h-1zM357 370h1v1h-1zM373 303h1v1h-1zM349 192h1v1h-1zM604 583h1v1h-1zM308 516h1v1h-1zM70 575h1v1h-1zM99 462h1v1h-1zM571 180h1v1h-1zM376 97h1v1h-1zM505 543h1v1h-1zM335 85h1v1h-1zM231 278h1v1h-1zM243 583h1v1h-1zM608 564h1v1h-1zM223 420h1v1h-1zM230 399h1v1h-1zM348 471h1v1h-1zM208 342h1v1h-1zM245 134h1v1h-1zM111 376h1v1h-1zM393 562h1v1h-1zM385 163h1v1h-1zM272 508h1v1h-1zM211 176h1v1h-1zM544 562h1v1h-1zM529 223h1v1h-1zM256 146h1v1h-1zM121 261h1v1h-1zM198 320h1v1h-1zM227 161h1v1h-1zM535 368h1v1h-1zM146 458h1v1h-1zM573 459h1v1h-1zM260 204h1v1h-1zM281 572h1v1h-1zM563 92h1v1h-1zM516 479h1v1h-1zM432 232h1v1h-1zM244 426h1v1h-1zM315 175h1v1h-1zM391 526h1v1h-1zM331 140h1v1h-1zM105 488h1v1h-1zM496 283h1v1h-1zM595 480h1v1h-1zM362 243h1v1h-1zM479 431h1v1h-1zM586 249h1v1h-1zM314 146h1v1h-1zM182 72h1v1h-1zM129 78h1v1h-1zM544 117h1v1h-1zM270 229h1v1h-1zM182 578h1v1h-1zM392 202h1v1h-1zM166 205h1v1h-1zM289 355h1v1h-1zM70 214h1v1h-1zM107 335h1v1h-1zM488 196h1v1h-1zM98 401h1v1h-1zM108 81h1v1h-1zM399 570h1v1h-1zM377 180h1v1h-1zM553 438h1v1h-1zM115 296h1v1h-1zM602 349h1v1h-1zM501 318h1v1h-1zM241 202h1v1h-1zM191 521h1v1h-1zM201 423h1v1h-1zM606 324h1v1h-1zM107 400h1v1h-1zM327 464h1v1h-1zM331 484h1v1h-1zM181 444h1v1h-1zM349 391h1v1h-1zM435 244h1v1h-1zM390 314h1v1h-1zM278 343h1v1h-1zM249 557h1v1h-1zM168 212h1v1h-1zM256 133h1v1h-1zM388 571h1v1h-1zM79 188h1v1h-1zM460 215h1v1h-1z"/>
<path fill="#3a3a3a" d="M223 240h1v1h-1zM262 535h1v1h-1zM413 458h1v1h-1zM458 516h1v1h-1zM425 115h1v1h-1zM376 88h1v1h-1zM233 586h1v1h-1zM395 554h1v1h-1zM535 97h1v1h-1zM477 75h1v1h-1zM202 559h1v1h-1zM265 345h1v1h-1zM230 498h1v1h-1zM75 85h1v1h-1zM103 599h1v1h-1zM117 399h1v1h-1zM360 102h1v1h-1zM459 457h1v1h-1zM69 159h1v1h-1zM108 555h1v1h-1zM119 144h1v1h-1zM208 497h1v1h-1zM302 216h1v1h-1zM93 399h1v1h-1zM262 71h1v1h-1zM492 285h1v1h-1zM144 475h1v1h-1zM379 154h1v1h-1zM201 589h1v1h-1zM527 128h1v1h-1zM73 233h1v1h-1zM467 390h1v1h-1zM529 411h1v1h-1zM76 438h1v1h-1zM84 363h1v1h-1zM419 474h1v1h-1zM97 278h1v1h-1zM230 110h1v1h-1zM511 512h1v1h-1zM267 271h1v1h-1zM79 380h1v1h-1zM320 325h1v1h-1zM104 80h1v1h-1zM285 153h1v1h-1zM102 93h1v1h-1zM334 136h1v1h-1zM591 476h1v1h-1zM223 362h1v1h-1zM221 567h1v1h-1zM407 168h1v1h-1zM351 504h1v1h-1zM130 517h1v1h-1zM277 277h1v1h-1zM289 341h1v1h-1zM144 197h1v1h-1zM411 282h1v1h-1zM597 449h1v1h-1zM371 88h1v1h-1zM559 367h1v1h-1zM562 566h1v1h-1zM410 258h1v1h-1zM206 192h1v1h-1zM394 341h1v1h-1zM195 273h1v1h-1zM144 390h1v1h-1zM319 303h1v1h-1zM122 203h1v1h-1zM569 299h1v1h-1zM200 132h1v1h-1zM577 203h1v1h-1zM343 464h1v1h-1zM144 252h1v1h-1zM482 462h1v1h-1zM299 218h1v1h-1zM114 461h1v1h-1zM179 265h1v1h-1zM405 475h1v1h-1zM406 479h1v1h-1zM426 599h1v1h-1zM161 466h1v1h-1zM253 317h1v1h-1zM202 455h1v1h-1zM484 362h1v1h-1zM325 152h1v1h-1zM240 582h1v1h-1zM312 91h1v1h-1zM108 578h1v1h-1zM319 567h1v1h-1zM569 340h1v1h-1zM160 244h1v1h-1zM74 380h1v1h-1zM214 274h1v1h-1zM607 372h1v1h-1zM117 322h1v1h-1zM265 431h1v1h-1zM549 406h1v1h-1zM108 591h1v1h-1zM568 267h1v1h-1zM598 567h1v1h-1zM277 484h1v1h-1zM351 524h1v1h-1zM325 319h1v1h-1zM383 483h1v1h-1zM324 503h1v1h-1zM258 253h1v1h-1zM101 83h1v1h-1zM362 569h1v1h-1zM433 377h1v1h-1zM132 334h1v1h-1zM227 223h1v1h-1zM397 171h1v1h-1zM89 159h1v1h-1zM251 561h1v1h-1zM291 546h1v1h-1zM295 484h1v1h-1zM249 541h1v1h-1zM234 579h1v1h-1zM215 278h1v1h-1zM113 72h1v1h-1zM242 249h1v1h-1zM124 471h1v1h-1zM288 528h1v1h-1zM337 187h1v1h-1zM446 421h1v1h-1zM327 376h1v1h-1zM233 311h1v1h-1zM395 245h1v1h-1zM460 253h1v1h-1zM277 180h1v1h-1zM186 359h1v1h-1zM480 359h1v1h-1zM543 78h1v1h-1zM353 263h1v1h-1zM179 512h1v1h-1zM569 240h1v1h-1zM522 511h1v1h-1zM260 87h1v1h-1zM86 143h1v1h-1zM287 110h1v1h-1zM191 572h1v1h-1zM376 588h1v1h-1zM135 298h1v1h-1zM604 215h1v1h-1zM340 243h1v1h-1zM223 450h1v1h-1zM610 486h1v1h-1zM74 217h1v1h-1zM130 165h1v1h-1zM258 114h1v1h-1zM540 503h1v1h-1zM386 462h1v1h-1zM115 575h1v1h-1zM478 182h1v1h-1zM420 448h1v1h-1zM316 181h1v1h-1zM361 248h1v1h-1zM385 358h1v1h-1zM169 119h1v1h-1zM563 72h1v1h-1zM460 513h1v1h-1zM137 217h1v1h-1zM318 561h1v1h-1zM222 592h1v1h-1zM350 324h1v1h-1zM82 141h1v1h-1zM501 392h1v1h-1zM178 431h1v1h-1zM491 314h1v1h-1zM228 438h1v1h-1zM221 243h1v1h-1zM463 335h1v1h-1zM258 425h1v1h-1zM499 523h1v1h-1zM299 407h1v1h-1zM218 90h1v1h-1zM130 355h1v1h-1zM309 561h1v1h-1zM156 509h1v1h-1zM533 133h1v1h-1zM521 518h1v1h-1zM436 326h1v1h-1zM278 458h1v1h-1zM285 237h1v1h-1zM385 119h1v1h-1zM318 569h1v1h-1zM120 366h1v1h-1zM253 318h1v1h-1zM221 367h1v1h-1zM194 98h1v1h-1zM225 169h1v1h-1zM330 468h1v1h-1zM210 378h1v1h-1zM220 560h1v1h-1zM209 502h1v1h-1zM102 458h1v1h-1zM487 436h1v1h-1zM534 84h1v1h-1zM152 347h1v1h-1zM136 266h1v1h-1zM179 510h1v1h-1zM473 210h1v1h-1zM316 171h1v1h-1zM109 572h1v1h-1zM431 515h1v1h-1zM238 214h1v1h-1zM250 512h1v1h-1zM393 162h1v1h-1zM596 244h1v1h-1zM248 324h1v1h-1zM352 201h1v1h-1zM599 289h1v1h-1zM80 502h1v1h-1zM235 420h1v1h-1zM356 542h1v1h-1zM185 537h1v1h-1zM388 225h1v1h-1zM226 166h1v1h-1zM122 354h1v1h-1zM294 544h1v1h-1zM315 215h1v1h-1zM343 361h1v1h-1zM217 230h1v1h-1zM71 251h1v1h-1zM209 386h1v1h-1zM143 511h1v1h-1zM303 345h1v1h-1zM501 496h1v1h-1zM266 287h1v1h-1zM230 422h1v1h-1zM555 212h1v1h-1zM167 217h1v1h-1zM153 527h1v1h-1zM198 448h1v1h-1zM233 452h1v1h-1zM139 356h1v1h-1zM477 320h1v1h-1zM268 565h1v1h-1zM76 590h1v1h-1zM602 197h1v1h-1zM319 377h1v1h-1zM534 321h1v1h-1zM168 80h1v1h-1zM488 479h1v1h-1zM119 463h1v1h-1zM153 444h1v1h-1zM518 505h1v1h-1zM137 91h1v1h-1zM89 381h1v1h-1zM410 461h1v1h-1zM312 106h1v1h-1zM520 102h1v1h-1zM126 542h1v1h-1zM262 385h1v1h-1zM318 97h1v1h-1zM115 288h1v1h-1zM119 134h1v1h-1zM328 331h1v1h-1zM414 520h1v1h-1zM297 493h1v1h-1zM103 339h1v1h-1zM172 81h1v1h-1zM184 281h1v1h-1zM242 449h1v1h-1zM495 407h1v1h-1zM122 407h1v1h-1zM257 595h1v1h-1zM104 128h1v1h-1zM109 184h1v1h-1zM106 183h1v1h-1zM145 538h1v1h-1zM161 199h1v1h-1zM81 377h1v1h-1zM518 222h1v1h-1zM314 94h1v1h-1zM136 583h1v1h-1zM121 315h1v1h-1zM120 557h1v1h-1zM601 408h1v1h-1zM297 547h1v1h-1zM309 594h1v1h-1zM157 125h1v1h-1zM533 193h1v1h-1zM573 465h1v1h-1zM88 477h1v1h-1zM446 199h1v1h-1zM125 484h1v1h-1zM308 581h1v1h-1zM174 236h1v1h-1zM472 89h1v1h-1zM73 212h1v1h-1zM287 454h1v1h-1zM77 196h1v1h-1zM448 351h1v1h-1zM114 592h1v1h-1zM602 290h1v1h-1zM259 215h1v1h-1zM319 436h1v1h-1zM231 158h1v1h-1zM507 220h1v1h-1zM92 540h1v1h-1zM228 497h1v1h-1zM226 155h1v1h-1zM191 169h1v1h-1zM457 366h1v1h-1zM479 586h1v1h-1zM94 155h1v1h-1zM85 71h1v1h-1zM95 159h1v1h-1zM151 212h1v1h-1zM594 329h1v1h-1zM254 474h1v1h-1zM410 125h1v1h-1zM217 325h1v1h-1zM579 103h1v1h-1zM110 306h1v1h-1zM224 399h1v1h-1zM388 168h1v1h-1zM447 179h1v1h-1zM456 429h1v1h-1zM78 596h1v1h-1zM369 200h1v1h-1zM541 406h1v1h-1zM536 578h1v1h-1zM433 524h1v1h-1zM165 463h1v1h-1zM323 364h1v1h-1zM78 546h1v1h-1zM328 467h1v1h-1zM108 441h1v1h-1zM114 503h1v1h-1zM609 557h1v1h-1zM458 124h1v1h-1zM78 223h1v1h-1zM131 501h1v1h-1zM224 466h1v1h-1zM586 303h1v1h-1zM341 265h1v1h-1zM218 535h1v1h-1zM307 403h1v1h-1zM215 557h1v1h-1zM238 360h1v1h-1zM295 585h1v1h-1zM363 545h1v1h-1zM571 387h1v1h-1zM141 599h1v1h-1zM457 450h1v1h-1zM337 80h1v1h-1zM369 251h1v1h-1zM373 290h1v1h-1zM81 304h1v1h-1zM102 373h1v1h-1zM178 152h1v1h-1zM489 601h1v1h-1zM313 490h1v1h-1zM128 221h1v1h-1zM188 531h1v1h-1zM69 360h1v1h-1zM563 533h1v1h-1zM192 109h1v1h-1zM445 253h1v1h-1zM453 369h1v1h-1zM272 413h1v1h-1zM319 548h1v1h-1zM79 198h1v1h-1zM252 585h1v1h-1zM294 243h1v1h-1zM396 347h1v1h-1zM403 120h1v1h-1zM199 531h1v1h-1zM359 235h1v1h-1zM541 498h1v1h-1zM183 381h1v1h-1zM222 601h1v1h-1zM441 279h1v1h-1zM88 112h1v1h-1zM564 254h1v1h-1zM407 483h1v1h-1zM460 316h1v1h-1zM477 206h1v1h-1zM208 442h1v1h-1zM421 278h1v1h-1zM235 214h1v1h-1zM514 99h1v1h-1zM74 374h1v1h-1zM312 382h1v1h-1zM215 93h1v1h-1zM177 600h1v1h-1zM581 539h1v1h-1zM86 303h1v1h-1zM78 194h1v1h-1zM149 568h1v1h-1zM482 142h1v1h-1zM117 290h1v1h-1zM468 260h1v1h-1zM304 383h1v1h-1zM247 450h1v1h-1zM483 536h1v1h-1zM489 440h1v1h-1zM190 260h1v1h-1zM283 355h1v1h-1zM255 508h1v1h-1zM337 473h1v1h-1zM100 231h1v1h-1zM539 493h1v1h-1zM71 174h1v1h-1zM438 447h1v1h-1zM596 165h1v1h-1zM186 585h1v1h-1zM565 465h1v1h-1zM196 561h1v1h-1zM238 388h1v1h-1zM543 414h1v1h-1zM160 379h1v1h-1zM505 501h1v1h-1zM570 481h1v1h-1zM586 164h1v1h-1zM122 395h1v1h-1zM387 201h1v1h-1zM294 448h1v1h-1zM295 484h1v1h-1zM519 295h1v1h-1zM443 268h1v1h-1zM218 384h1v1h-1zM344 170h1v1h-1zM275 155h1v1h-1zM492 83h1v1h-1zM324 110h1v1h-1zM97 505h1v1h-1zM418 80h1v1h-1zM355 476h1v1h-1zM125 386h1v1h-1zM114 166h1v1h-1zM540 176h1v1h-1zM279 281h1v1h-1zM353 489h1v1h-1zM418 524h1v1h-1zM569 135h1v1h-1zM121 147h1v1h-1zM433 368h1v1h-1zM433 529h1v1h-1zM107 181h1v1h-1zM320 313h1v1h-1zM74 265h1v1h-1zM292 436h1v1h-1zM403 267h1v1h-1zM451 362h1v1h-1zM84 393h1v1h-1zM415 418h1v1h-1zM208 571h1v1h-1zM315 150h1v1h-1zM164 536h1v1h-1zM462 461h1v1h-1zM425 377h1v1h-1zM463 114h1v1h-1zM538 327h1v1h-1zM279 423h1v1h-1zM118 269h1v1h-1zM86 420h1v1h-1zM146 392h1v1h-1zM217 416h1v1h-1zM305 128h1v1h-1zM115 180h1v1h-1zM131 519h1v1h-1zM558 70h1v1h-1zM550 111h1v1h-1zM257 69h1v1h-1zM235 451h1v1h-1zM256 468h1v1h-1zM171 487h1v1h-1zM117 253h1v1h-1zM521 255h1v1h-1zM433 353h1v1h-1zM134 114h1v1h-1zM71 103h1v1h-1zM325 258h1v1h-1zM481 391h1v1h-1zM266 223h1v1h-1zM571 383h1v1h-1zM440 459h1v1h-1zM568 421h1v1h-1zM305 534h1v1h-1zM146 472h1v1h-1zM610 422h1v1h-1zM197 430h1v1h-1zM81 383h1v1h-1zM129 410h1v1h-1zM474 346h1v1h-1zM239 174h1v1h-1zM265 328h1v1h-1zM591 77h1v1h-1zM249 406h1v1h-1zM197 330h1v1h-1zM184 216h1v1h-1zM239 403h1v1h-1zM435 142h1v1h-1zM317 488h1v1h-1zM413 384h1v1h-1zM115 176h1v1h-1zM434 288h1v1h-1zM104 427h1v1h-1zM178 145h1v1h-1zM381 284h1v1h-1zM427 591h1v1h-1zM332 409h1v1h-1zM201 202h1v1h-1zM122 172h1v1h-1zM288 553h1v1h-1zM78 294h1v1h-1zM234 220h1v1h-1zM601 361h1v1h-1zM358 496h1v1h-1zM435 153h1v1h-1zM164 256h1v1h-1zM359 332h1v1h-1zM355 260h1v1h-1zM598 529h1v1h-1zM515 514h1v1h-1zM74 486h1v1h-1zM470 538h1v1h-1zM210 445h1v1h-1zM581 200h1v1h-1zM283 480h1v1h-1zM494 559h1v1h-1zM405 165h1v1h-1zM552 505h1v1h-1zM434 186h1v1h-1zM560 343h1v1h-1zM252 514h1v1h-1zM92 298h1v1h-1zM306 501h1v1h-1zM391 118h1v1h-1zM252 599h1v1h-1zM70 564h1v1h-1zM116 108h1v1h-1zM364 498h1v1h-1zM354 281h1v1h-1zM560 431h1v1h-1zM107 241h1v1h-1zM367 250h1v1h-1zM116 486h1v1h-1zM172 261h1v1h-1zM484 336h1v1h-1zM436 441h1v1h-1zM395 531h1v1h-1zM111 502h1v1h-1zM169 531h1v1h-1zM138 241h1v1h-1zM415 293h1v1h-1zM560 594h1v1h-1zM361 422h1v1h-1zM402 215h1v1h-1zM585 583h1v1h-1zM574 258h1v1h-1zM208 295h1v1h-1zM115 603h1v1h-1zM149 281h1v1h-1zM518 92h1v1h-1zM73 232h1v1h-1zM277 181h1v1h-1zM169 381h1v1h-1zM414 130h1v1h-1zM418 470h1v1h-1zM511 275h1v1h-1zM335 479h1v1h-1zM606 605h1v1h-1zM80 345h1v1h-1zM462 183h1v1h-1zM364 553h1v1h-1zM580 248h1v1h-1zM205 296h1v1h-1zM83 292h1v1h-1zM185 147h1v1h-1zM595 144h1v1h-1zM344 286h1v1h-1zM219 94h1v1h-1zM273 368h1v1h-1zM266 145h1v1h-1zM410 371h1v1h-1zM228 524h1v1h-1zM89 404h1v1h-1zM261 420h1v1h-1zM233 222h1v1h-1zM497 571h1v1h-1zM259 72h1v1h-1zM274 393h1v1h-1zM533 525h1v1h-1zM191 113h1v1h-1zM470 173h1v1h-1zM397 358h1v1h-1zM338 535h1v1h-1zM424 421h1v1h-1zM80 102h1v1h-1zM294 567h1v1h-1zM162 460h1v1h-1zM431 480h1v1h-1zM180 109h1v1h-1zM404 87h1v1h-1zM548 278h1v1h-1zM534 455h1v1h-1zM106 455h1v1h-1zM382 186h1v1h-1zM261 530h1v1h-1zM123 142h1v1h-1zM72 172h1v1h-1zM278 288h1v1h-1zM437 399h1v1h-1zM415 562h1v1h-1zM419 532h1v1h-1zM107 524h1v1h-1zM349 141h1v1h-1zM317 173h1v1h-1zM93 166h1v1h-1zM437 608h1v1h-1zM338 208h1v1h-1zM137 157h1v1h-1zM353 515h1v1h-1zM134 195h1v1h-1zM92 540h1v1h-1zM358 283h1v1h-1zM186 189h1v1h-1zM302 353h1v1h-1zM449 505h1v1h-1zM417 554h1v1h-1zM221 375h1v1h-1zM538 309h1v1h-1zM76 478h1v1h-1zM581 69h1v1h-1zM79 244h1v1h-1zM112 522h1v1h-1zM201 446h1v1h-1zM79 342h1v1h-1zM581 254h1v1h-1zM149 559h1v1h-1zM105 438h1v1h-1zM411 335h1v1h-1zM319 586h1v1h-1zM260 146h1v1h-1zM441 383h1v1h-1zM533 157h1v1h-1zM314 472h1v1h-1zM450 210h1v1h-1zM529 609h1v1h-1zM255 101h1v1h-1zM415 442h1v1h-1zM559 290h1v1h-1zM337 282h1v1h-1zM97 115h1v1h-1zM135 224h1v1h-1zM203 428h1v1h-1zM287 254h1v1h-1zM72 211h1v1h-1zM183 215h1v1h-1zM443 575h1v1h-1zM363 420h1v1h-1zM178 137h1v1h-1zM102 325h1v1h-1zM324 145h1v1h-1zM225 425h1v1h-1zM483 232h1v1h-1zM85 133h1v1h-1zM178 297h1v1h-1zM341 412h1v1h-1zM300 229h1v1h-1zM160 532h1v1h-1zM258 500h1v1h-1zM439 175h1v1h-1zM214 163h1v1h-1zM504 515h1v1h-1zM391 415h1v1h-1zM241 319h1v1h-1zM88 498h1v1h-1zM229 291h1v1h-1zM275 503h1v1h-1zM219 188h1v1h-1zM311 238h1v1h-1zM171 501h1v1h-1zM344 509h1v1h-1zM388 141h1v1h-1zM589 328h1v1h-1zM161 73h1v1h-1zM325 479h1v1h-1zM323 257h1v1h-1zM142 511h1v1h-1zM202 414h1v1h-1zM349 418h1v1h-1zM74 503h1v1h-1zM170 440h1v1h-1zM495 426h1v1h-1zM206 601h1v1h-1zM320 395h1v1h-1zM511 521h1v1h-1zM69 545h1v1h-1zM283 138h1v1h-1zM397 219h1v1h-1zM537 374h1v1h-1zM172 593h1v1h-1zM364 285h1v1h-1zM478 271h1v1h-1zM405 407h1v1h-1zM323 528h1v1h-1zM441 457h1v1h-1zM115 324h1v1h-1zM415 302h1v1h-1zM275 92h1v1h-1zM410 396h1v1h-1zM445 186h1v1h-1zM78 411h1v1h-1zM195 100h1v1h-1zM326 554h1v1h-1zM136 128h1v1h-1zM233 355h1v1h-1zM576 554h1v1h-1zM224 301h1v1h-1zM437 524h1v1h-1zM130 102h1v1h-1zM229 371h1v1h-1zM150 86h1v1h-1zM265 355h1v1h-1zM461 593h1v1h-1zM141 197h1v1h-1zM425 486h1v1h-1zM520 502h1v1h-1zM379 175h1v1h-1zM141 452h1v1h-1zM126 234h1v1h-1zM333 479h1v1h-1zM484 596h1v1h-1zM355 295h1v1h-1zM72 290h1v1h-1zM72 584h1v1h-1zM246 236h1v1h-1zM392 194h1v1h-1zM520 236h1v1h-1zM388 112h1v1h-1zM455 492h1v1h-1zM488 142h1v1h-1zM371 142h1v1h-1zM353 296h1v1h-1zM449 105h1v1h-1zM265 456h1v1h-1zM320 387h1v1h-1zM419 598h1v1h-1zM342 105h1v1h-1zM356 496h1v1h-1zM91 432h1v1h-1zM121 156h1v1h-1zM249 535h1v1h-1zM329 367h1v1h-1zM122 555h1v1h-1zM552 302h1v1h-1zM336 512h1v1h-1zM238 592h1v1h-1zM496 271h1v1h-1zM483 133h1v1h-1zM235 574h1v1h-1zM322 133h1v1h-1zM229 467h1v1h-1zM413 252h1v1h-1zM347 321h1v1h-1zM434 591h1v1h-1zM123 389h1v1h-1zM142 436h1v1h-1zM177 412h1v1h-1zM471 255h1v1h-1zM90 370h1v1h-1zM345 365h1v1h-1zM161 338h1v1h-1zM281 408h1v1h-1zM494 583h1v1h-1zM188 577h1v1h-1zM606 286h1v1h-1zM341 448h1v1h-1zM600 131h1v1h-1zM606 138h1v1h-1zM173 508h1v1h-1zM289 344h1v1h-1zM145 374h1v1h-1zM436 361h1v1h-1zM592 193h1v1h-1zM301 482h1v1h-1zM94 458h1v1h-1zM292 574h1v1h-1zM520 102h1v1h-1zM519 472h1v1h-1zM324 184h1v1h-1zM320 559h1v1h-1zM577 77h1v1h-1zM577 325h1v1h-1zM139 347h1v1h-1zM353 80h1v1h-1zM212 142h1v1h-1zM182 270h1v1h-1zM102 102h1v1h-1zM392 467h1v1h-1zM81 426h1v1h-1zM301 124h1v1h-1zM207 603h1v1h-1zM227 197h1v1h-1zM183 291h1v1h-1zM215 132h1v1h-1zM234 260h1v1h-1zM130 295h1v1h-1zM446 454h1v1h-1zM77 391h1v1h-1zM139 410h1v1h-1zM76 501h1v1h-1zM291 205h1v1h-1zM259 406h1v1h-1zM478 203h1v1h-1zM402 380h1v1h-1zM388 154h1v1h-1zM508 83h1v1h-1zM159 473h1v1h-1zM588 170h1v1h-1zM521 148h1v1h-1zM330 188h1v1h-1zM201 461h1v1h-1zM136 133h1v1h-1zM360 319h1v1h-1zM89 571h1v1h-1zM369 541h1v1h-1zM209 601h1v1h-1zM477 291h1v1h-1zM307 148h1v1h-1zM204 208h1v1h-1zM180 376h1v1h-1zM465 603h1v1h-1zM285 207h1v1h-1zM209 585h1v1h-1zM281 158h1v1h-1zM99 90h1v1h-1zM554 305h1v1h-1zM348 215h1v1h-1zM300 172h1v1h-1zM364 495h1v1h-1zM132 607h1v1h-1zM317 562h1v1h-1zM77 170h1v1h-1zM347 529h1v1h-1zM78 459h1v1h-1zM192 287h1v1h-1zM314 275h1v1h-1zM95 82h1v1h-1zM105 390h1v1h-1zM228 178h1v1h-1zM174 344h1v1h-1zM147 170h1v1h-1zM83 109h1v1h-1zM149 113h1v1h-1zM186 544h1v1h-1zM592 510h1v1h-1zM234 123h1v1h-1zM305 112h1v1h-1zM439 570h1v1h-1zM248 138h1v1h-1zM203 130h1v1h-1zM431 151h1v1h-1zM539 203h1v1h-1zM229 566h1v1h-1zM355 609h1v1h-1zM231 361h1v1h-1zM195 482h1v1h-1zM201 505h1v1h-1zM461 495h1v1h-1zM260 298h1v1h-1zM518 351h1v1h-1zM132 560h1v1h-1zM93 200h1v1h-1zM287 226h1v1h-1zM290 356h1v1h-1zM197 523h1v1h-1zM71 351h1v1h-1zM160 493h1v1h-1zM131 96h1v1h-1zM585 77h1v1h-1zM148 610h1v1h-1zM108 267h1v1h-1zM269 349h1v1h-1zM336 381h1v1h-1zM159 512h1v1h-1zM81 358h1v1h-1zM396 285h1v1h-1zM426 274h1v1h-1zM405 502h1v1h-1zM575 477h1v1h-1zM109 414h1v1h-1zM438 543h1v1h-1zM286 391h1v1h-1zM573 566h1v1h-1zM253 566h1v1h-1zM151 157h1v1h-1zM212 237h1v1h-1zM190 516h1v1h-1zM455 128h1v1h-1zM270 506h1v1h-1zM512 213h1v1h-1zM170 296h1v1h-1zM267 373h1v1h-1zM175 71h1v1h-1zM285 115h1v1h-1zM122 367h1v1h-1zM287 171h1v1h-1zM152 317h1v1h-1zM155 176h1v1h-1zM69 555h1v1h-1zM512 225h1v1h-1zM105 299h1v1h-1zM522 448h1v1h-1zM260 126h1v1h-1zM329 466h1v1h-1zM544 535h1v1h-1zM441 128h1v1h-1zM137 342h1v1h-1zM144 435h1v1h-1zM78 500h1v1h-1zM588 526h1v1h-1zM90 532h1v1h-1zM411 524h1v1h-1zM243 214h1v1h-1zM473 581h1v1h-1zM245 428h1v1h-1zM361 392h1v1h-1zM418 302h1v1h-1zM169 478h1v1h-1zM498 472h1v1h-1zM235 583h1v1h-1zM70 341h1v1h-1zM340 336h1v1h-1zM438 514h1v1h-1zM573 576h1v1h-1zM592 267h1v1h-1zM165 511h1v1h-1zM246 226h1v1h-1zM306 579h1v1h-1zM118 250h1v1h-1zM366 259h1v1h-1zM426 319h1v1h-1zM286 179h1v1h-1zM171 362h1v1h-1zM290 580h1v1h-1zM569 77h1v1h-1zM529 284h1v1h-1zM425 532h1v1h-1zM222 601h1v1h-1zM325 133h1v1h-1zM536 295h1v1h-1zM553 69h1v1h-1zM191 97h1v1h-1zM316 265h1v1h-1zM266 297h1v1h-1zM528 220h1v1h-1zM84 304h1v1h-1zM416 264h1v1h-1zM113 575h1v1h-1zM294 137h1v1h-1zM428 532h1v1h-1zM437 342h1v1h-1zM78 329h1v1h-1zM312 328h1v1h-1zM442 398h1v1h-1zM239 192h1v1h-1zM509 196h1v1h-1zM223 196h1v1h-1zM209 95h1v1h-1zM151 428h1v1h-1zM231 172h1v1h-1zM608 358h1v1h-1zM308 109h1v1h-1zM400 438h1v1h-1zM182 241h1v1h-1zM334 104h1v1h-1zM561 564h1v1h-1zM367 90h1v1h-1zM225 191h1v1h-1zM330 320h1v1h-1zM561 315h1v1h-1zM513 359h1v1h-1zM209 212h1v1h-1zM438 495h1v1h-1zM520 467h1v1h-1zM127 251h1v1h-1zM258 183h1v1h-1zM458 224h1v1h-1zM347 98h1v1h-1zM298 579h1v1h-1zM523 309h1v1h-1zM160 393h1v1h-1zM377 383h1v1h-1zM577 551h1v1h-1zM592 148h1v1h-1zM221 600h1v1h-1zM112 407h1v1h-1zM69 570h1v1h-1zM218 117h1v1h-1zM253 75h1v1h-1zM184 101h1v1h-1zM214 120h1v1h-1zM78 364h1v1h-1zM345 539h1v1h-1zM180 311h1v1h-1zM174 548h1v1h-1zM70 219h1v1h-1zM572 510h1v1h-1zM79 391h1v1h-1zM333 523h1v1h-1zM343 271h1v1h-1zM428 454h1v1h-1zM519 584h1v1h-1zM89 75h1v1h-1zM144 73h1v1h-1zM179 344h1v1h-1zM587 384h1v1h-1zM109 161h1v1h-1zM129 71h1v1h-1zM161 111h1v1h-1zM180 81h1v1h-1zM158 404h1v1h-1zM534 557h1v1h-1zM599 424h1v1h-1zM126 447h1v1h-1zM524 341h1v1h-1zM368 354h1v1h-1zM108 340h1v1h-1zM570 336h1v1h-1zM286 288h1v1h-1zM431 279h1v1h-1zM184 472h1v1h-1zM183 597h1v1h-1zM234 155h1v1h-1zM548 347h1v1h-1zM410 149h1v1h-1zM238 482h1v1h-1zM74 566h1v1h-1zM337 228h1v1h-1zM145 192h1v1h-1zM282 152h1v1h-1zM134 207h1v1h-1zM137 536h1v1h-1zM121 585h1v1h-1zM508 340h1v1h-1zM152 255h1v1h-1zM119 280h1v1h-1zM329 444h1v1h-1zM301 383h1v1h-1zM160 409h1v1h-1zM540 380h1v1h-1zM502 438h1v1h-1zM233 564h1v1h-1zM379 508h1v1h-1zM97 190h1v1h-1zM220 366h1v1h-1zM564 284h1v1h-1zM133 70h1v1h-1zM510 502h1v1h-1zM157 187h1v1h-1zM97 468h1v1h-1zM358 405h1v1h-1zM268 188h1v1h-1zM322 540h1v1h-1zM314 81h1v1h-1zM261 341h1v1h-1zM89 415h1v1h-1zM277 84h1v1h-1zM88 383h1v1h-1zM388 485h1v1h-1zM290 409h1v1h-1zM330 565h1v1h-1zM123 340h1v1h-1zM267 70h1v1h-1zM165 477h1v1h-1zM335 522h1v1h-1zM223 289h1v1h-1zM576 76h1v1h-1zM165 393h1v1h-1zM580 88h1v1h-1zM274 266h1v1h-1zM241 504h1v1h-1zM540 234h1v1h-1zM401 550h1v1h-1zM114 183h1v1h-1zM590 551h1v1h-1zM552 410h1v1h-1zM296 227h1v1h-1zM110 349h1v1h-1zM75 482h1v1h-1zM565 474h1v1h-1zM176 167h1v1h-1zM383 110h1v1h-1zM532 139h1v1h-1zM228 370h1v1h-1zM264 581h1v1h-1zM445 515h1v1h-1zM354 556h1v1h-1zM174 317h1v1h-1zM136 156h1v1h-1zM409 357h1v1h-1zM449 396h1v1h-1zM117 453h1v1h-1zM104 194h1v1h-1zM319 178h1v1h-1zM468 356h1v1h-1zM229 457h1v1h-1zM154 452h1v1h-1zM283 290h1v1h-1zM69 573h1v1h-1zM423 142h1v1h-1zM209 363h1v1h-1zM125 75h1v1h-1zM140 360h1v1h-1zM90 269h1v1h-1zM80 443h1v1h-1zM431 460h1v1h-1zM69 314h1v1h-1zM85 417h1v1h-1zM433 342h1v1h-1zM198 133h1v1h-1zM595 582h1v1h-1zM466 259h1v1h-1zM306 370h1v1h-1zM484 310h1v1h-1zM110 144h1v1h-1zM280 345h1v1h-1zM270 274h1v1h-1zM71 463h1v1h-1zM330 534h1v1h-1zM343 104h1v1h-1zM380 491h1v1h-1zM527 204h1v1h-1zM396 114h1v1h-1zM496 399h1v1h-1zM554 242h1v1h-1zM146 590h1v1h-1zM512 605h1v1h-1zM218 111h1v1h-1zM558 479h1v1h-1zM442 117h1v1h-1zM183 290h1v1h-1zM259 146h1v1h-1zM287 570h1v1h-1zM110 426h1v1h-1zM167 359h1v1h-1zM232 466h1v1h-1zM563 289h1v1h-1zM86 292h1v1h-1zM244 255h1v1h-1zM323 609h1v1h-1zM157 86h1v1h-1zM540 192h1v1h-1zM165 584h1v1h-1zM607 382h1v1h-1zM282 347h1v1h-1zM129 492h1v1h-1zM583 518h1v1h-1zM166 502h1v1h-1zM315 446h1v1h-1zM77 369h1v1h-1zM126 607h1v1h-1zM446 301h1v1h-1zM489 382h1v1h-1zM243 273h1v1h-1zM128 573h1v1h-1zM588 454h1v1h-1zM270 521h1v1h-1zM371 542h1v1h-1zM550 232h1v1h-1zM429 491h1v1h-1zM79 551h1v1h-1zM267 533h1v1h-1zM438 149h1v1h-1zM81 245h1v1h-1zM233 139h1v1h-1zM300 589h1v1h-1zM307 350h1v1h-1zM557 148h1v1h-1zM449 355h1v1h-1zM307 497h1v1h-1zM83 567h1v1h-1zM523 122h1v1h-1zM158 312h1v1h-1zM157 411h1v1h-1zM239 515h1v1h-1zM423 204h1v1h-1zM185 146h1v1h-1zM451 310h1v1h-1zM382 479h1v1h-1zM185 510h1v1h-1zM274 540h1v1h-1zM114 190h1v1h-1zM195 528h1v1h-1zM137 207h1v1h-1zM308 322h1v1h-1zM208 297h1v1h-1zM425 93h1v1h-1zM231 475h1v1h-1zM351 590h1v1h-1zM573 335h1v1h-1zM249 341h1v1h-1zM326 509h1v1h-1zM492 395h1v1h-1zM420 416h1v1h-1zM456 569h1v1h-1zM142 397h1v1h-1zM169 73h1v1h-1zM451 493h1v1h-1zM345 379h1v1h-1zM88 518h1v1h-1zM294 240h1v1h-1zM421 603h1v1h-1zM94 258h1v1h-1zM299 543h1v1h-1zM93 401h1v1h-1zM408 479h1v1h-1zM279 314h1v1h-1zM242 493h1v1h-1zM86 584h1v1h-1zM352 82h1v1h-1zM482 418h1v1h-1zM272 195h1v1h-1zM199 352h1v1h-1zM160 603h1v1h-1zM199 430h1v1h-1zM348 89h1v1h-1zM509 538h1v1h-1zM489 401h1v1h-1zM142 289h1v1h-1zM268 569h1v1h-1zM73 290h1v1h-1zM572 242h1v1h-1zM106 352h1v1h-1zM299 154h1v1h-1zM210 281h1v1h-1zM292 81h1v1h-1zM101 496h1v1h-1zM412 315h1v1h-1zM112 466h1v1h-1zM451 593h1v1h-1zM249 88h1v1h-1zM169 364h1v1h-1zM173 431h1v1h-1zM134 211h1v1h-1zM145 194h1v1h-1zM587 407h1v1h-1zM333 421h1v1h-1zM587 582h1v1h-1zM80 312h1v1h-1zM396 533h1v1h-1zM415 496h1v1h-1zM109 555h1v1h-1zM97 404h1v1h-1zM105 277h1v1h-1zM603 590h1v1h-1zM125 169h1v1h-1zM351 228h1v1h-1zM607 220h1v1h-1zM214 177h1v1h-1zM143 470h1v1h-1zM160 247h1v1h-1zM355 319h1v1h-1zM218 246h1v1h-1zM103 289h1v1h-1zM275 222h1v1h-1zM268 122h1v1h-1zM334 300h1v1h-1zM176 332h1v1h-1zM421 313h1v1h-1zM423 418h1v1h-1zM350 128h1v1h-1zM595 137h1v1h-1zM493 608h1v1h-1zM74 367h1v1h-1zM70 177h1v1h-1zM228 285h1v1h-1zM524 568h1v1h-1zM341 563h1v1h-1zM239 217h1v1h-1zM144 539h1v1h-1zM210 233h1v1h-1zM568 479h1v1h-1zM230 308h1v1h-1zM284 537h1v1h-1zM573 293h1v1h-1zM168 172h1v1h-1zM215 597h1v1h-1zM355 309h1v1h-1zM463 115h1v1h-1zM407 600h1v1h-1zM122 490h1v1h-1zM162 120h1v1h-1zM370 561h1v1h-1zM494 240h1v1h-1zM298 533h1v1h-1zM521 158h1v1h-1zM412 148h1v1h-1zM174 310h1v1h-1zM491 276h1v1h-1zM172 122h1v1h-1zM161 194h1v1h-1zM554 167h1v1h-1zM420 519h1v1h-1zM421 272h1v1h-1zM291 313h1v1h-1zM129 248h1v1h-1zM530 379h1v1h-1zM94 423h1v1h-1zM71 185h1v1h-1zM95 358h1v1h-1zM417 71h1v1h-1zM90 196h1v1h-1zM163 170h1v1h-1zM123 397h1v1h-1zM188 442h1v1h-1zM513 109h1v1h-1zM258 561h1v1h-1zM185 467h1v1h-1zM282 607h1v1h-1zM528 196h1v1h-1zM80 208h1v1h-1zM271 169h1v1h-1zM195 132h1v1h-1zM435 361h1v1h-1zM118 240h1v1h-1zM417 257h1v1h-1zM155 466h1v1h-1zM414 298h1v1h-1zM95 307h1v1h-1zM109 439h1v1h-1zM356 549h1v1h-1zM445 84h1v1h-1zM427 558h1v1h-1zM141 572h1v1h-1zM92 228h1v1h-1zM409 252h1v1h-1zM124 473h1v1h-1zM348 525h1v1h-1zM240 115h1v1h-1zM505 456h1v1h-1zM100 326h1v1h-1zM357 328h1v1h-1zM343 483h1v1h-1zM276 97h1v1h-1zM321 316h1v1h-1zM115 244h1v1h-1zM423 492h1v1h-1zM462 609h1v1h-1zM404 228h1v1h-1zM151 456h1v1h-1zM547 315h1v1h-1zM78 237h1v1h-1zM509 319h1v1h-1zM500 225h1v1h-1zM84 229h1v1h-1zM397 529h1v1h-1zM371 139h1v1h-1zM276 443h1v1h-1zM577 152h1v1h-1zM335 540h1v1h-1zM423 177h1v1h-1zM419 515h1v1h-1zM267 538h1v1h-1zM138 340h1v1h-1zM150 358h1v1h-1zM487 533h1v1h-1zM151 77h1v1h-1zM408 71h1v1h-1zM183 231h1v1h-1zM125 442h1v1h-1zM72 76h1v1h-1zM250 266h1v1h-1zM195 551h1v1h-1zM409 247h1v1h-1zM372 274h1v1h-1zM344 609h1v1h-1zM158 335h1v1h-1zM257 111h1v1h-1zM214 500h1v1h-1zM329 390h1v1h-1zM117 262h1v1h-1zM126 340h1v1h-1zM371 310h1v1h-1zM71 489h1v1h-1zM482 514h1v1h-1zM163 81h1v1h-1zM122 491h1v1h-1zM395 379h1v1h-1zM181 198h1v1h-1zM256 370h1v1h-1zM290 398h1v1h-1zM524 395h1v1h-1zM219 552h1v1h-1zM109 281h1v1h-1zM542 502h1v1h-1zM73 150h1v1h-1zM88 407h1v1h-1zM582 197h1v1h-1zM137 388h1v1h-1zM131 412h1v1h-1zM478 460h1v1h-1zM76 608h1v1h-1zM192 411h1v1h-1zM441 218h1v1h-1zM335 69h1v1h-1zM290 172h1v1h-1zM372 174h1v1h-1zM91 511h1v1h-1zM513 578h1v1h-1zM152 393h1v1h-1zM354 567h1v1h-1zM379 381h1v1h-1zM140 180h1v1h-1zM106 244h1v1h-1zM489 181h1v1h-1zM137 125h1v1h-1zM515 610h1v1h-1zM203 399h1v1h-1zM98 84h1v1h-1zM297 378h1v1h-1zM502 304h1v1h-1zM450 330h1v1h-1zM335 492h1v1h-1zM352 518h1v1h-1zM401 220h1v1h-1zM153 369h1v1h-1zM480 531h1v1h-1zM380 603h1v1h-1zM419 166h1v1h-1zM358 390h1v1h-1zM430 248h1v1h-1zM276 273h1v1h-1zM196 158h1v1h-1zM138 425h1v1h-1zM200 436h1v1h-1zM403 342h1v1h-1zM525 596h1v1h-1zM76 101h1v1h-1zM114 133h1v1h-1zM144 551h1v1h-1zM206 519h1v1h-1zM390 193h1v1h-1zM259 149h1v1h-1zM247 505h1v1h-1zM395 110h1v1h-1zM421 109h1v1h-1zM220 349h1v1h-1zM532 414h1v1h-1zM110 510h1v1h-1zM414 488h1v1h-1zM469 590h1v1h-1zM183 120h1v1h-1zM484 348h1v1h-1zM511 151h1v1h-1zM242 608h1v1h-1zM224 217h1v1h-1zM183 553h1v1h-1zM546 224h1v1h-1zM456 244h1v1h-1zM473 568h1v1h-1zM255 481h1v1h-1zM279 211h1v1h-1zM79 209h1v1h-1zM507 224h1v1h-1zM408 559h1v1h-1zM181 431h1v1h-1zM285 246h1v1h-1zM369 460h1v1h-1zM186 522h1v1h-1zM568 594h1v1h-1zM270 78h1v1h-1zM333 333h1v1h-1zM278 279h1v1h-1zM104 408h1v1h-1zM360 582h1v1h-1zM105 189h1v1h-1zM247 366h1v1h-1zM83 232h1v1h-1zM184 472h1v1h-1zM126 321h1v1h-1zM167 156h1v1h-1zM494 335h1v1h-1zM403 215h1v1h-1zM435 532h1v1h-1zM521 597h1v1h-1zM380 319h1v1h-1zM402 479h1v1h-1zM407 454h1v1h-1zM84 339h1v1h-1zM153 178h1v1h-1zM165 105h1v1h-1zM82 126h1v1h-1zM287 272h1v1h-1zM310 575h1v1h-1zM171 319h1v1h-1zM211 109h1v1h-1zM204 586h1v1h-1zM402 448h1v1h-1zM94 449h1v1h-1zM125 457h1v1h-1zM598 431h1v1h-1zM466 240h1v1h-1zM313 72h1v1h-1zM173 258h1v1h-1zM272 323h1v1h-1zM353 533h1v1h-1zM149 534h1v1h-1zM146 122h1v1h-1zM572 79h1v1h-1zM109 172h1v1h-1zM427 155h1v1h-1zM520 514h1v1h-1zM158 517h1v1h-1zM200 348h1v1h-1zM197 118h1v1h-1zM376 306h1v1h-1zM407 582h1v1h-1zM524 449h1v1h-1zM438 187h1v1h-1zM176 165h1v1h-1zM550 560h1v1h-1zM155 134h1v1h-1zM151 190h1v1h-1zM250 307h1v1h-1zM355 524h1v1h-1zM77 354h1v1h-1zM281 297h1v1h-1zM389 114h1v1h-1zM136 298h1v1h-1zM365 339h1v1h-1zM411 588h1v1h-1zM207 423h1v1h-1zM236 581h1v1h-1zM521 513h1v1h-1zM153 325h1v1h-1zM436 560h1v1h-1zM444 555h1v1h-1zM377 190h1v1h-1zM82 244h1v1h-1zM124 144h1v1h-1zM507 461h1v1h-1zM125 522h1v1h-1zM394 455h1v1h-1zM74 556h1v1h-1zM251 88h1v1h-1zM543 585h1v1h-1zM416 382h1v1h-1zM132 263h1v1h-1zM477 500h1v1h-1zM423 90h1v1h-1zM500 381h1v1h-1zM164 221h1v1h-1zM260 326h1v1h-1zM99 297h1v1h-1zM597 570h1v1h-1zM226 459h1v1h-1zM340 223h1v1h-1zM123 307h1v1h-1zM72 262h1v1h-1zM185 349h1v1h-1zM521 89h1v1h-1zM114 491h1v1h-1zM92 518h1v1h-1zM321 301h1v1h-1zM228 334h1v1h-1zM87 558h1v1h-1zM79 70h1v1h-1zM135 512h1v1h-1zM143 102h1v1h-1zM305 493h1v1h-1zM324 361h1v1h-1zM567 139h1v1h-1zM109 303h1v1h-1zM265 443h1v1h-1zM531 260h1v1h-1zM467 210h1v1h-1zM454 409h1v1h-1zM118 339h1v1h-1zM171 521h1v1h-1zM134 226h1v1h-1zM454 408h1v1h-1zM88 233h1v1h-1zM146 506h1v1h-1zM535 585h1v1h-1zM151 93h1v1h-1zM382 521h1v1h-1zM557 184h1v1h-1zM144 386h1v1h-1zM281 366h1v1h-1zM493 600h1v1h-1zM164 502h1v1h-1zM143 210h1v1h-1zM430 224h1v1h-1zM197 141h1v1h-1zM88 85h1v1h-1zM261 219h1v1h-1zM364 421h1v1h-1zM457 388h1v1h-1zM400 316h1v1h-1zM247 103h1v1h-1zM184 238h1v1h-1zM266 107h1v1h-1zM339 442h1v1h-1zM281 159h1v1h-1zM88 133h1v1h-1zM189 256h1v1h-1zM434 191h1v1h-1zM483 370h1v1h-1zM441 275h1v1h-1zM498 158h1v1h-1zM520 491h1v1h-1zM123 407h1v1h-1zM509 501h1v1h-1zM454 338h1v1h-1zM607 590h1v1h-1zM488 302h1v1h-1zM214 544h1v1h-1zM296 321h1v1h-1zM320 247h1v1h-1zM165 301h1v1h-1zM340 101h1v1h-1zM531 172h1v1h-1zM201 476h1v1h-1zM297 389h1v1h-1zM523 393h1v1h-1zM88 417h1v1h-1zM418 480h1v1h-1zM410 203h1v1h-1zM203 441h1v1h-1zM328 522h1v1h-1zM490 310h1v1h-1zM380 564h1v1h-1zM189 596h1v1h-1zM116 368h1v1h-1zM175 173h1v1h-1zM500 293h1v1h-1zM364 104h1v1h-1zM524 499h1v1h-1zM491 315h1v1h-1zM296 608h1v1h-1zM314 465h1v1h-1zM451 405h1v1h-1zM221 324h1v1h-1zM100 552h1v1h-1zM144 584h1v1h-1zM440 219h1v1h-1zM357 241h1v1h-1zM214 275h1v1h-1zM583 533h1v1h-1zM331 584h1v1h-1zM95 117h1v1h-1zM343 265h1v1h-1zM173 344h1v1h-1zM156 262h1v1h-1zM187 523h1v1h-1zM471 585h1v1h-1zM286 543h1v1h-1zM422 134h1v1h-1zM419 513h1v1h-1zM327 595h1v1h-1zM584 283h1v1h-1zM339 463h1v1h-1zM510 178h1v1h-1zM116 490h1v1h-1zM599 560h1v1h-1zM372 207h1v1h-1zM120 280h1v1h-1zM205 584h1v1h-1zM116 328h1v1h-1zM153 162h1v1h-1zM88 179h1v1h-1zM192 154h1v1h-1zM425 341h1v1h-1zM281 380h1v1h-1zM411 231h1v1h-1zM114 552h1v1h-1zM95 445h1v1h-1zM467 264h1v1h-1zM99 321h1v1h-1zM291 351h1v1h-1zM176 197h1v1h-1zM304 368h1v1h-1zM304 361h1v1h-1zM227 402h1v1h-1zM317 286h1v1h-1zM142 153h1v1h-1zM262 462h1v1h-1zM78 491h1v1h-1zM393 514h1v1h-1zM83 468h1v1h-1zM236 79h1v1h-1zM276 490h1v1h-1zM183 502h1v1h-1zM366 385h1v1h-1zM369 555h1v1h-1zM78 318h1v1h-1zM516 214h1v1h-1zM527 238h1v1h-1zM549 543h1v1h-1zM552 225h1v1h-1zM193 411h1v1h-1zM415 505h1v1h-1zM148 518h1v1h-1zM207 242h1v1h-1zM374 337h1v1h-1zM116 546h1v1h-1zM161 285h1v1h-1zM373 499h1v1h-1zM589 479h1v1h-1zM334 557h1v1h-1zM165 568h1v1h-1zM607 128h1v1h-1zM589 132h1v1h-1zM105 408h1v1h-1zM384 560h1v1h-1zM211 358h1v1h-1zM541 338h1v1h-1zM219 401h1v1h-1zM395 386h1v1h-1zM91 356h1v1h-1zM359 163h1v1h-1zM533 188h1v1h-1zM87 89h1v1h-1zM147 131h1v1h-1zM553 125h1v1h-1zM471 494h1v1h-1zM114 384h1v1h-1zM460 487h1v1h-1zM150 486h1v1h-1zM98 565h1v1h-1zM581 463h1v1h-1zM400 308h1v1h-1zM380 231h1v1h-1zM183 239h1v1h-1zM397 137h1v1h-1zM481 194h1v1h-1zM429 319h1v1h-1zM500 145h1v1h-1zM84 172h1v1h-1zM280 340h1v1h-1zM206 224h1v1h-1zM370 104h1v1h-1zM204 414h1v1h-1zM167 599h1v1h-1zM534 484h1v1h-1zM125 157h1v1h-1zM86 116h1v1h-1zM449 317h1v1h-1zM78 210h1v1h-1zM494 186h1v1h-1zM217 463h1v1h-1zM341 274h1v1h-1zM158 76h1v1h-1zM253 370h1v1h-1zM221 505h1v1h-1zM194 304h1v1h-1zM292 354h1v1h-1zM564 395h1v1h-1zM418 459h1v1h-1zM285 301h1v1h-1zM285 94h1v1h-1zM567 122h1v1h-1zM356 526h1v1h-1zM73 84h1v1h-1zM194 154h1v1h-1zM71 253h1v1h-1zM234 492h1v1h-1zM142 263h1v1h-1zM196 525h1v1h-1zM383 514h1v1h-1zM217 249h1v1h-1zM201 533h1v1h-1zM83 249h1v1h-1zM354 152h1v1h-1zM518 457h1v1h-1zM318 599h1v1h-1zM371 300h1v1h-1zM175 69h1v1h-1zM337 144h1v1h-1zM348 226h1v1h-1zM606 555h1v1h-1zM224 516h1v1h-1zM431 149h1v1h-1zM580 282h1v1h-1zM360 342h1v1h-1zM92 348h1v1h-1zM413 585h1v1h-1zM610 288h1v1h-1zM522 86h1v1h-1zM451 598h1v1h-1zM209 352h1v1h-1zM102 135h1v1h-1zM399 400h1v1h-1zM353 373h1v1h-1zM309 230h1v1h-1zM387 223h1v1h-1zM600 276h1v1h-1zM71 339h1v1h-1zM414 376h1v1h-1zM306 403h1v1h-1zM144 461h1v1h-1zM215 489h1v1h-1zM239 150h1v1h-1zM484 605h1v1h-1zM212 254h1v1h-1zM370 494h1v1h-1zM142 301h1v1h-1zM461 211h1v1h-1zM419 296h1v1h-1zM562 551h1v1h-1zM69 441h1v1h-1zM469 465h1v1h-1zM411 195h1v1h-1zM608 364h1v1h-1zM322 130h1v1h-1zM311 94h1v1h-1zM569 237h1v1h-1zM409 292h1v1h-1zM194 348h1v1h-1zM110 190h1v1h-1zM287 309h1v1h-1zM263 218h1v1h-1zM223 158h1v1h-1zM112 75h1v1h-1zM358 557h1v1h-1zM299 571h1v1h-1zM560 366h1v1h-1zM515 533h1v1h-1zM496 123h1v1h-1zM201 381h1v1h-1zM270 252h1v1h-1zM97 229h1v1h-1zM538 200h1v1h-1zM192 364h1v1h-1zM376 391h1v1h-1zM193 496h1v1h-1zM574 348h1v1h-1zM472 588h1v1h-1zM595 331h1v1h-1zM401 399h1v1h-1zM86 410h1v1h-1zM365 480h1v1h-1zM372 207h1v1h-1zM471 315h1v1h-1zM278 417h1v1h-1zM360 408h1v1h-1zM111 110h1v1h-1zM100 582h1v1h-1zM70 84h1v1h-1zM578 388h1v1h-1zM294 384h1v1h-1zM297 534h1v1h-1zM548 368h1v1h-1zM318 113h1v1h-1zM229 301h1v1h-1zM456 128h1v1h-1zM160 444h1v1h-1zM323 398h1v1h-1zM555 430h1v1h-1zM246 562h1v1h-1zM516 94h1v1h-1zM306 309h1v1h-1zM152 495h1v1h-1zM132 228h1v1h-1zM182 438h1v1h-1zM269 323h1v1h-1zM338 474h1v1h-1zM90 211h1v1h-1zM573 571h1v1h-1zM481 577h1v1h-1zM182 73h1v1h-1zM322 428h1v1h-1zM86 537h1v1h-1zM489 364h1v1h-1zM87 192h1v1h-1zM85 376h1v1h-1zM148 173h1v1h-1zM270 517h1v1h-1zM150 593h1v1h-1zM151 592h1v1h-1zM254 515h1v1h-1zM434 582h1v1h-1zM260 132h1v1h-1zM356 111h1v1h-1zM193 391h1v1h-1zM286 564h1v1h-1zM410 501h1v1h-1zM90 229h1v1h-1zM589 409h1v1h-1zM253 376h1v1h-1zM387 442h1v1h-1zM340 194h1v1h-1zM275 545h1v1h-1zM203 344h1v1h-1zM466 576h1v1h-1zM591 90h1v1h-1zM432 349h1v1h-1zM214 114h1v1h-1zM393 76h1v1h-1zM164 593h1v1h-1zM544 391h1v1h-1zM131 144h1v1h-1zM188 532h1v1h-1zM319 369h1v1h-1zM300 304h1v1h-1zM257 184h1v1h-1zM322 543h1v1h-1zM177 545h1v1h-1zM261 413h1v1h-1zM158 257h1v1h-1zM253 343h1v1h-1zM284 312h1v1h-1zM87 224h1v1h-1zM73 505h1v1h-1zM396 407h1v1h-1zM132 273h1v1h-1zM302 478h1v1h-1zM271 374h1v1h-1zM429 592h1v1h-1zM265 563h1v1h-1zM167 564h1v1h-1zM133 115h1v1h-1zM403 353h1v1h-1zM312 83h1v1h-1zM262 335h1v1h-1zM591 170h1v1h-1zM491 218h1v1h-1zM183 170h1v1h-1zM84 381h1v1h-1zM190 171h1v1h-1zM549 526h1v1h-1zM160 484h1v1h-1zM92 513h1v1h-1zM272 116h1v1h-1zM103 227h1v1h-1zM71 418h1v1h-1zM160 234h1v1h-1zM207 156h1v1h-1zM197 523h1v1h-1zM435 209h1v1h-1zM117 531h1v1h-1zM227 540h1v1h-1zM273 529h1v1h-1zM258 407h1v1h-1zM291 453h1v1h-1zM509 498h1v1h-1zM367 279h1v1h-1zM410 263h1v1h-1zM85 316h1v1h-1zM141 464h1v1h-1zM488 501h1v1h-1zM152 217h1v1h-1zM223 593h1v1h-1zM596 559h1v1h-1zM113 555h1v1h-1zM320 211h1v1h-1zM395 199h1v1h-1zM459 279h1v1h-1zM510 339h1v1h-1zM257 508h1v1h-1zM542 330h1v1h-1zM202 521h1v1h-1zM473 175h1v1h-1zM553 583h1v1h-1zM308 524h1v1h-1zM276 334h1v1h-1zM383 130h1v1h-1zM264 607h1v1h-1zM471 465h1v1h-1zM81 539h1v1h-1zM588 285h1v1h-1zM193 601h1v1h-1zM533 133h1v1h-1zM432 451h1v1h-1zM71 432h1v1h-1zM260 168h1v1h-1zM72 485h1v1h-1zM251 573h1v1h-1zM370 559h1v1h-1zM300 473h1v1h-1zM196 534h1v1h-1zM455 551h1v1h-1zM545 494h1v1h-1zM453 562h1v1h-1zM352 395h1v1h-1zM357 582h1v1h-1zM215 420h1v1h-1zM207 154h1v1h-1zM488 233h1v1h-1zM306 257h1v1h-1zM311 182h1v1h-1zM208 348h1v1h-1zM417 236h1v1h-1zM371 429h1v1h-1zM284 489h1v1h-1zM149 194h1v1h-1zM80 486h1v1h-1zM69 461h1v1h-1zM229 433h1v1h-1zM424 306h1v1h-1zM207 459h1v1h-1zM526 469h1v1h-1zM290 562h1v1h-1zM293 522h1v1h-1zM201 610h1v1h-1zM324 359h1v1h-1zM110 507h1v1h-1zM445 367h1v1h-1zM506 409h1v1h-1zM300 503h1v1h-1zM82 270h1v1h-1zM598 225h1v1h-1zM222 170h1v1h-1zM397 79h1v1h-1zM474 398h1v1h-1zM442 603h1v1h-1zM279 329h1v1h-1zM573 306h1v1h-1zM244 526h1v1h-1zM469 339h1v1h-1zM337 339h1v1h-1zM125 288h1v1h-1zM510 153h1v1h-1zM245 349h1v1h-1zM87 575h1v1h-1zM266 253h1v1h-1zM491 294h1v1h-1zM403 415h1v1h-1zM237 417h1v1h-1zM134 346h1v1h-1zM146 429h1v1h-1zM318 597h1v1h-1zM439 127h1v1h-1zM236 412h1v1h-1zM209 230h1v1h-1zM531 157h1v1h-1zM103 510h1v1h-1zM301 268h1v1h-1zM364 107h1v1h-1zM186 368h1v1h-1zM89 180h1v1h-1zM369 134h1v1h-1zM133 590h1v1h-1zM253 211h1v1h-1zM184 479h1v1h-1zM190 518h1v1h-1zM597 511h1v1h-1zM595 260h1v1h-1zM79 316h1v1h-1zM147 425h1v1h-1zM571 139h1v1h-1zM96 203h1v1h-1zM426 250h1v1h-1zM269 529h1v1h-1zM446 315h1v1h-1zM288 397h1v1h-1zM310 397h1v1h-1zM211 252h1v1h-1zM224 247h1v1h-1zM278 257h1v1h-1zM344 461h1v1h-1zM258 601h1v1h-1zM421 435h1v1h-1zM486 582h1v1h-1zM318 90h1v1h-1zM276 164h1v1h-1zM140 273h1v1h-1zM240 136h1v1h-1zM174 259h1v1h-1zM257 459h1v1h-1zM470 275h1v1h-1zM489 329h1v1h-1zM498 404h1v1h-1zM320 402h1v1h-1zM124 136h1v1h-1zM142 71h1v1h-1zM70 534h1v1h-1zM128 233h1v1h-1zM333 533h1v1h-1zM105 166h1v1h-1zM260 448h1v1h-1zM289 255h1v1h-1zM329 166h1v1h-1zM101 300h1v1h-1zM91 273h1v1h-1zM341 137h1v1h-1zM433 581h1v1h-1zM376 169h1v1h-1zM94 482h1v1h-1zM423 419h1v1h-1zM83 121h1v1h-1zM141 233h1v1h-1zM211 205h1v1h-1zM176 466h1v1h-1zM264 266h1v1h-1zM431 214h1v1h-1zM443 357h1v1h-1zM370 71h1v1h-1zM122 390h1v1h-1zM128 532h1v1h-1zM434 373h1v1h-1zM208 272h1v1h-1zM354 114h1v1h-1zM162 88h1v1h-1zM525 539h1v1h-1zM576 182h1v1h-1zM306 547h1v1h-1zM217 532h1v1h-1zM275 382h1v1h-1zM207 94h1v1h-1zM415 254h1v1h-1zM111 589h1v1h-1zM324 129h1v1h-1zM117 202h1v1h-1zM499 533h1v1h-1zM498 538h1v1h-1zM254 564h1v1h-1zM176 536h1v1h-1zM311 547h1v1h-1zM324 437h1v1h-1zM437 160h1v1h-1zM260 89h1v1h-1zM233 241h1v1h-1zM196 428h1v1h-1zM182 428h1v1h-1zM368 221h1v1h-1zM546 445h1v1h-1zM133 300h1v1h-1zM366 257h1v1h-1zM180 166h1v1h-1zM197 223h1v1h-1zM483 312h1v1h-1zM320 444h1v1h-1zM242 541h1v1h-1zM88 348h1v1h-1zM188 587h1v1h-1zM122 201h1v1h-1zM330 595h1v1h-1zM152 532h1v1h-1zM185 411h1v1h-1zM100 564h1v1h-1zM105 555h1v1h-1zM193 578h1v1h-1zM125 356h1v1h-1zM284 390h1v1h-1zM98 108h1v1h-1zM78 476h1v1h-1zM289 597h1v1h-1zM483 107h1v1h-1zM138 259h1v1h-1zM375 409h1v1h-1zM469 505h1v1h-1zM119 567h1v1h-1zM423 559h1v1h-1zM104 91h1v1h-1zM601 109h1v1h-1zM163 241h1v1h-1zM303 366h1v1h-1zM455 138h1v1h-1zM371 126h1v1h-1zM377 578h1v1h-1zM197 292h1v1h-1zM416 165h1v1h-1zM98 386h1v1h-1zM210 143h1v1h-1zM240 197h1v1h-1zM600 190h1v1h-1zM392 507h1v1h-1zM469 243h1v1h-1zM408 438h1v1h-1zM604 410h1v1h-1zM443 201h1v1h-1zM483 554h1v1h-1zM175 158h1v1h-1zM124 401h1v1h-1zM597 474h1v1h-1zM379 578h1v1h-1zM225 243h1v1h-1zM301 537h1v1h-1zM566 336h1v1h-1zM250 393h1v1h-1zM166 149h1v1h-1zM83 603h1v1h-1zM165 545h1v1h-1zM150 113h1v1h-1zM208 110h1v1h-1zM338 295h1v1h-1zM200 211h1v1h-1zM587 437h1v1h-1zM418 299h1v1h-1zM576 458h1v1h-1zM153 307h1v1h-1zM409 254h1v1h-1zM467 391h1v1h-1zM245 385h1v1h-1zM346 472h1v1h-1zM212 469h1v1h-1zM286 296h1v1h-1zM105 578h1v1h-1zM282 506h1v1h-1zM515 520h1v1h-1zM542 161h1v1h-1zM210 215h1v1h-1zM542 266h1v1h-1zM512 359h1v1h-1zM151 530h1v1h-1zM359 590h1v1h-1zM593 187h1v1h-1zM103 162h1v1h-1zM366 422h1v1h-1zM99 100h1v1h-1zM588 324h1v1h-1zM134 511h1v1h-1zM317 358h1v1h-1zM536 460h1v1h-1zM283 216h1v1h-1zM172 151h1v1h-1zM607 426h1v1h-1zM407 320h1v1h-1zM105 591h1v1h-1zM333 552h1v1h-1zM371 319h1v1h-1zM565 542h1v1h-1zM447 328h1v1h-1zM461 299h1v1h-1zM529 529h1v1h-1zM237 328h1v1h-1zM179 356h1v1h-1zM77 189h1v1h-1zM373 496h1v1h-1zM104 321h1v1h-1zM134 374h1v1h-1zM267 99h1v1h-1zM444 177h1v1h-1zM146 166h1v1h-1zM183 93h1v1h-1zM285 227h1v1h-1zM191 147h1v1h-1zM337 499h1v1h-1zM160 219h1v1h-1zM98 343h1v1h-1zM310 211h1v1h-1zM228 206h1v1h-1zM141 603h1v1h-1zM92 356h1v1h-1zM200 588h1v1h-1zM213 280h1v1h-1zM270 324h1v1h-1zM190 481h1v1h-1zM532 564h1v1h-1zM91 370h1v1h-1zM558 269h1v1h-1zM428 409h1v1h-1zM555 409h1v1h-1zM159 208h1v1h-1zM139 127h1v1h-1zM449 118h1v1h-1zM215 195h1v1h-1zM168 338h1v1h-1zM161 261h1v1h-1zM158 510h1v1h-1zM309 187h1v1h-1zM134 141h1v1h-1zM292 82h1v1h-1zM137 420h1v1h-1zM130 416h1v1h-1zM565 110h1v1h-1zM125 596h1v1h-1zM158 421h1v1h-1zM311 169h1v1h-1zM367 386h1v1h-1zM350 327h1v1h-1zM177 250h1v1h-1zM139 560h1v1h-1zM550 407h1v1h-1zM96 380h1v1h-1zM221 363h1v1h-1zM218 109h1v1h-1zM471 232h1v1h-1zM252 395h1v1h-1zM237 455h1v1h-1zM348 380h1v1h-1zM259 550h1v1h-1zM339 389h1v1h-1zM378 363h1v1h-1zM372 396h1v1h-1zM185 373h1v1h-1zM128 558h1v1h-1zM486 269h1v1h-1zM184 350h1v1h-1zM274 502h1v1h-1zM393 584h1v1h-1zM240 325h1v1h-1zM362 400h1v1h-1zM586 410h1v1h-1zM275 99h1v1h-1zM222 256h1v1h-1zM374 268h1v1h-1zM300 594h1v1h-1zM370 299h1v1h-1zM373 601h1v1h-1zM323 172h1v1h-1zM330 423h1v1h-1zM172 370h1v1h-1zM322 533h1v1h-1zM182 123h1v1h-1zM589 489h1v1h-1zM208 558h1v1h-1zM555 236h1v1h-1zM145 325h1v1h-1zM157 92h1v1h-1zM142 437h1v1h-1zM79 389h1v1h-1zM401 570h1v1h-1zM202 223h1v1h-1zM115 119h1v1h-1zM504 75h1v1h-1zM398 184h1v1h-1zM255 430h1v1h-1zM486 87h1v1h-1zM250 393h1v1h-1zM285 188h1v1h-1zM234 456h1v1h-1zM388 350h1v1h-1zM171 414h1v1h-1zM137 441h1v1h-1zM165 543h1v1h-1zM365 609h1v1h-1zM128 126h1v1h-1zM261 480h1v1h-1zM419 416h1v1h-1zM392 585h1v1h-1zM136 401h1v1h-1zM74 236h1v1h-1zM224 392h1v1h-1zM513 293h1v1h-1zM200 484h1v1h-1zM248 510h1v1h-1zM602 407h1v1h-1zM576 299h1v1h-1zM559 203h1v1h-1zM373 578h1v1h-1zM90 370h1v1h-1zM275 538h1v1h-1zM85 107h1v1h-1zM514 486h1v1h-1zM479 74h1v1h-1zM163 255h1v1h-1zM433 340h1v1h-1zM311 525h1v1h-1zM386 319h1v1h-1zM463 463h1v1h-1zM357 456h1v1h-1zM492 600h1v1h-1zM394 598h1v1h-1zM457 132h1v1h-1zM151 310h1v1h-1zM194 500h1v1h-1zM525 259h1v1h-1zM234 449h1v1h-1zM501 462h1v1h-1zM445 557h1v1h-1zM157 119h1v1h-1zM90 438h1v1h-1zM200 449h1v1h-1zM560 382h1v1h-1zM82 473h1v1h-1zM263 277h1v1h-1zM310 509h1v1h-1zM112 382h1v1h-1zM109 138h1v1h-1zM73 121h1v1h-1zM97 224h1v1h-1zM156 445h1v1h-1zM181 117h1v1h-1zM126 251h1v1h-1zM80 81h1v1h-1zM415 390h1v1h-1zM171 189h1v1h-1zM416 566h1v1h-1zM176 244h1v1h-1zM311 559h1v1h-1zM75 164h1v1h-1zM294 529h1v1h-1zM220 394h1v1h-1zM325 561h1v1h-1zM597 350h1v1h-1zM313 215h1v1h-1zM565 303h1v1h-1zM75 411h1v1h-1zM95 321h1v1h-1zM170 321h1v1h-1zM362 389h1v1h-1zM285 258h1v1h-1zM520 527h1v1h-1zM230 86h1v1h-1zM157 488h1v1h-1zM560 592h1v1h-1zM196 315h1v1h-1zM156 412h1v1h-1zM235 529h1v1h-1zM156 354h1v1h-1zM163 227h1v1h-1zM450 214h1v1h-1zM171 563h1v1h-1zM403 498h1v1h-1zM483 449h1v1h-1zM452 245h1v1h-1zM463 109h1v1h-1zM85 330h1v1h-1zM383 304h1v1h-1zM485 143h1v1h-1zM142 517h1v1h-1zM247 544h1v1h-1zM489 541h1v1h-1zM223 549h1v1h-1zM546 317h1v1h-1zM132 398h1v1h-1zM315 198h1v1h-1zM139 375h1v1h-1zM75 606h1v1h-1zM432 476h1v1h-1zM291 562h1v1h-1zM300 216h1v1h-1zM409 334h1v1h-1zM528 263h1v1h-1zM211 117h1v1h-1zM183 517h1v1h-1zM579 386h1v1h-1zM254 133h1v1h-1zM145 290h1v1h-1zM305 478h1v1h-1zM420 575h1v1h-1zM608 421h1v1h-1zM84 597h1v1h-1zM344 450h1v1h-1zM598 388h1v1h-1zM386 464h1v1h-1zM262 603h1v1h-1zM414 408h1v1h-1zM145 186h1v1h-1zM551 253h1v1h-1zM343 172h1v1h-1zM226 81h1v1h-1zM434 443h1v1h-1zM161 489h1v1h-1zM608 313h1v1h-1zM506 415h1v1h-1zM149 453h1v1h-1zM77 156h1v1h-1zM214 461h1v1h-1zM522 498h1v1h-1zM346 323h1v1h-1zM514 208h1v1h-1zM222 541h1v1h-1zM161 100h1v1h-1zM431 588h1v1h-1zM106 570h1v1h-1zM436 254h1v1h-1zM306 370h1v1h-1zM135 454h1v1h-1zM557 598h1v1h-1zM124 289h1v1h-1zM188 301h1v1h-1zM134 109h1v1h-1zM477 342h1v1h-1zM437 466h1v1h-1zM474 610h1v1h-1zM266 533h1v1h-1zM309 331h1v1h-1zM527 486h1v1h-1zM115 78h1v1h-1zM419 460h1v1h-1zM409 251h1v1h-1zM524 252h1v1h-1zM330 192h1v1h-1zM101 244h1v1h-1zM578 457h1v1h-1zM110 586h1v1h-1zM459 596h1v1h-1zM382 199h1v1h-1zM69 76h1v1h-1zM116 154h1v1h-1zM379 452h1v1h-1zM547 306h1v1h-1zM524 155h1v1h-1zM591 334h1v1h-1zM125 122h1v1h-1zM412 239h1v1h-1zM277 396h1v1h-1zM440 527h1v1h-1zM184 468h1v1h-1zM79 217h1v1h-1zM255 577h1v1h-1zM486 581h1v1h-1zM429 313h1v1h-1zM116 456h1v1h-1zM102 603h1v1h-1zM192 560h1v1h-1zM85 426h1v1h-1zM417 344h1v1h-1zM272 87h1v1h-1zM75 444h1v1h-1zM546 354h1v1h-1zM249 325h1v1h-1zM432 352h1v1h-1zM174 314h1v1h-1zM97 533h1v1h-1zM511 370h1v1h-1zM333 488h1v1h-1zM301 136h1v1h-1zM610 99h1v1h-1zM149 464h1v1h-1zM280 516h1v1h-1zM493 389h1v1h-1zM453 413h1v1h-1zM475 247h1v1h-1zM261 542h1v1h-1zM280 530h1v1h-1zM570 503h1v1h-1zM556 393h1v1h-1zM368 447h1v1h-1zM590 425h1v1h-1zM134 507h1v1h-1zM290 607h1v1h-1zM338 397h1v1h-1zM570 596h1v1h-1zM315 264h1v1h-1zM420 264h1v1h-1zM602 93h1v1h-1zM393 592h1v1h-1zM113 328h1v1h-1zM310 495h1v1h-1zM158 315h1v1h-1zM321 560h1v1h-1zM230 473h1v1h-1zM203 387h1v1h-1zM467 84h1v1h-1zM301 498h1v1h-1zM271 175h1v1h-1zM99 554h1v1h-1zM161 116h1v1h-1zM404 505h1v1h-1zM214 418h1v1h-1zM576 184h1v1h-1zM560 308h1v1h-1zM557 554h1v1h-1zM231 526h1v1h-1zM372 107h1v1h-1zM301 407h1v1h-1zM243 334h1v1h-1zM501 494h1v1h-1zM261 368h1v1h-1zM80 251h1v1h-1zM98 248h1v1h-1zM370 245h1v1h-1zM173 409h1v1h-1zM191 97h1v1h-1zM192 389h1v1h-1zM562 464h1v1h-1zM315 195h1v1h-1zM268 396h1v1h-1zM592 387h1v1h-1zM450 144h1v1h-1zM309 279h1v1h-1zM451 73h1v1h-1zM537 578h1v1h-1zM243 593h1v1h-1zM115 457h1v1h-1zM412 568h1v1h-1zM328 528h1v1h-1zM241 241h1v1h-1zM544 384h1v1h-1zM391 315h1v1h-1zM399 588h1v1h-1zM361 527h1v1h-1zM176 520h1v1h-1zM334 164h1v1h-1zM304 314h1v1h-1zM473 315h1v1h-1zM516 86h1v1h-1zM468 413h1v1h-1zM444 433h1v1h-1zM273 296h1v1h-1zM594 75h1v1h-1zM316 511h1v1h-1zM402 566h1v1h-1zM80 88h1v1h-1zM133 96h1v1h-1zM488 228h1v1h-1zM263 372h1v1h-1zM564 426h1v1h-1zM240 368h1v1h-1zM187 407h1v1h-1zM161 247h1v1h-1zM540 499h1v1h-1zM105 167h1v1h-1zM242 536h1v1h-1zM460 257h1v1h-1zM118 211h1v1h-1zM124 560h1v1h-1zM231 585h1v1h-1zM355 202h1v1h-1zM338 448h1v1h-1zM250 594h1v1h-1zM196 517h1v1h-1zM89 120h1v1h-1zM129 120h1v1h-1zM445 186h1v1h-1zM249 396h1v1h-1zM77 152h1v1h-1zM344 73h1v1h-1zM400 365h1v1h-1zM510 227h1v1h-1zM500 517h1v1h-1zM570 95h1v1h-1zM286 218h1v1h-1zM557 79h1v1h-1zM108 500h1v1h-1zM231 225h1v1h-1zM140 568h1v1h-1zM274 145h1v1h-1zM193 503h1v1h-1zM605 86h1v1h-1zM559 446h1v1h-1zM293 513h1v1h-1zM129 398h1v1h-1zM130 581h1v1h-1zM86 397h1v1h-1zM132 313h1v1h-1zM166 299h1v1h-1zM76 357h1v1h-1zM240 150h1v1h-1zM489 421h1v1h-1zM145 467h1v1h-1zM519 117h1v1h-1zM199 262h1v1h-1zM182 555h1v1h-1zM429 445h1v1h-1zM338 127h1v1h-1zM171 191h1v1h-1zM134 205h1v1h-1zM480 433h1v1h-1zM207 90h1v1h-1zM332 473h1v1h-1zM462 492h1v1h-1zM244 424h1v1h-1zM402 95h1v1h-1zM75 303h1v1h-1zM500 205h1v1h-1zM240 364h1v1h-1zM293 424h1v1h-1zM576 456h1v1h-1zM402 565h1v1h-1zM338 525h1v1h-1zM579 545h1v1h-1zM125 459h1v1h-1zM494 358h1v1h-1zM85 430h1v1h-1zM132 413h1v1h-1zM128 588h1v1h-1zM296 477h1v1h-1zM517 570h1v1h-1zM228 398h1v1h-1zM144 609h1v1h-1zM165 128h1v1h-1zM454 468h1v1h-1zM155 339h1v1h-1zM562 441h1v1h-1zM360 412h1v1h-1zM277 325h1v1h-1zM426 253h1v1h-1zM599 458h1v1h-1zM388 581h1v1h-1zM578 483h1v1h-1zM399 215h1v1h-1zM369 252h1v1h-1zM233 561h1v1h-1zM250 566h1v1h-1zM102 574h1v1h-1zM127 266h1v1h-1zM250 509h1v1h-1zM137 77h1v1h-1zM433 435h1v1h-1zM299 414h1v1h-1zM213 553h1v1h-1zM213 333h1v1h-1zM131 179h1v1h-1zM238 609h1v1h-1zM389 109h1v1h-1zM88 422h1v1h-1zM246 490h1v1h-1zM424 426h1v1h-1zM215 459h1v1h-1zM597 95h1v1h-1zM314 177h1v1h-1zM229 137h1v1h-1zM114 590h1v1h-1zM196 97h1v1h-1zM223 459h1v1h-1zM519 391h1v1h-1zM261 346h1v1h-1zM295 177h1v1h-1zM482 336h1v1h-1zM256 579h1v1h-1zM323 371h1v1h-1zM94 169h1v1h-1zM422 428h1v1h-1zM366 149h1v1h-1zM94 351h1v1h-1zM392 501h1v1h-1zM273 503h1v1h-1zM223 176h1v1h-1zM106 256h1v1h-1zM511 99h1v1h-1zM136 99h1v1h-1zM128 315h1v1h-1zM401 422h1v1h-1zM171 153h1v1h-1zM441 485h1v1h-1zM463 388h1v1h-1zM176 280h1v1h-1zM287 602h1v1h-1zM390 577h1v1h-1zM298 520h1v1h-1zM237 403h1v1h-1zM584 90h1v1h-1zM74 155h1v1h-1zM168 539h1v1h-1zM86 384h1v1h-1zM128 322h1v1h-1zM267 71h1v1h-1zM402 372h1v1h-1zM416 136h1v1h-1zM127 404h1v1h-1zM309 109h1v1h-1zM392 505h1v1h-1zM291 437h1v1h-1zM597 496h1v1h-1zM466 95h1v1h-1zM197 483h1v1h-1zM465 434h1v1h-1zM144 573h1v1h-1zM341 511h1v1h-1zM137 103h1v1h-1zM418 364h1v1h-1zM210 175h1v1h-1zM347 130h1v1h-1zM165 579h1v1h-1zM416 432h1v1h-1zM100 142h1v1h-1zM300 284h1v1h-1zM425 141h1v1h-1zM397 266h1v1h-1zM113 364h1v1h-1zM86 252h1v1h-1zM135 468h1v1h-1zM503 395h1v1h-1zM339 319h1v1h-1zM567 580h1v1h-1zM105 542h1v1h-1zM428 548h1v1h-1zM134 314h1v1h-1zM579 152h1v1h-1zM411 185h1v1h-1zM210 565h1v1h-1zM355 268h1v1h-1zM300 126h1v1h-1zM174 530h1v1h-1zM358 509h1v1h-1zM384 572h1v1h-1zM83 562h1v1h-1zM507 306h1v1h-1zM411 378h1v1h-1zM376 109h1v1h-1zM533 110h1v1h-1zM189 560h1v1h-1zM159 418h1v1h-1zM330 566h1v1h-1zM420 523h1v1h-1zM578 216h1v1h-1zM175 252h1v1h-1zM251 412h1v1h-1zM394 459h1v1h-1zM581 604h1v1h-1zM153 520h1v1h-1zM261 522h1v1h-1zM112 562h1v1h-1zM140 479h1v1h-1zM80 582h1v1h-1zM258 473h1v1h-1zM157 553h1v1h-1zM492 233h1v1h-1zM209 403h1v1h-1zM269 150h1v1h-1zM110 495h1v1h-1zM157 555h1v1h-1zM186 380h1v1h-1zM337 324h1v1h-1zM380 471h1v1h-1zM112 306h1v1h-1zM534 410h1v1h-1zM160 182h1v1h-1zM143 75h1v1h-1zM534 193h1v1h-1zM493 586h1v1h-1zM417 115h1v1h-1zM172 320h1v1h-1zM393 179h1v1h-1zM468 172h1v1h-1zM110 394h1v1h-1zM336 371h1v1h-1zM79 419h1v1h-1zM209 435h1v1h-1zM605 161h1v1h-1zM155 139h1v1h-1zM251 256h1v1h-1zM509 485h1v1h-1zM204 106h1v1h-1zM128 283h1v1h-1zM299 550h1v1h-1zM242 460h1v1h-1zM190 418h1v1h-1zM253 263h1v1h-1zM531 549h1v1h-1zM311 155h1v1h-1zM236 211h1v1h-1zM169 519h1v1h-1zM114 364h1v1h-1zM438 96h1v1h-1zM291 83h1v1h-1zM427 601h1v1h-1zM118 569h1v1h-1zM299 604h1v1h-1zM282 431h1v1h-1zM481 293h1v1h-1zM494 348h1v1h-1zM444 534h1v1h-1zM396 383h1v1h-1zM517 372h1v1h-1zM200 90h1v1h-1zM591 530h1v1h-1zM282 530h1v1h-1zM386 332h1v1h-1zM362 215h1v1h-1zM282 196h1v1h-1zM313 444h1v1h-1zM572 424h1v1h-1zM521 425h1v1h-1zM485 523h1v1h-1zM553 404h1v1h-1zM347 91h1v1h-1zM301 543h1v1h-1zM124 197h1v1h-1zM435 172h1v1h-1zM420 163h1v1h-1zM278 555h1v1h-1zM205 348h1v1h-1zM71 404h1v1h-1zM290 175h1v1h-1zM96 150h1v1h-1zM90 175h1v1h-1zM601 562h1v1h-1zM218 421h1v1h-1zM375 115h1v1h-1zM246 300h1v1h-1zM130 594h1v1h-1zM508 166h1v1h-1zM187 133h1v1h-1zM207 224h1v1h-1zM169 521h1v1h-1zM300 496h1v1h-1zM457 210h1v1h-1zM369 279h1v1h-1zM239 540h1v1h-1zM258 597h1v1h-1zM109 325h1v1h-1zM323 517h1v1h-1zM382 508h1v1h-1zM281 561h1v1h-1zM466 307h1v1h-1zM352 267h1v1h-1zM203 288h1v1h-1zM526 378h1v1h-1zM311 294h1v1h-1zM340 566h1v1h-1zM282 445h1v1h-1zM228 389h1v1h-1zM302 577h1v1h-1zM486 161h1v1h-1zM273 529h1v1h-1zM184 175h1v1h-1zM102 496h1v1h-1zM537 505h1v1h-1zM342 453h1v1h-1zM530 325h1v1h-1zM242 591h1v1h-1zM237 278h1v1h-1zM207 557h1v1h-1zM591 249h1v1h-1zM146 286h1v1h-1zM85 535h1v1h-1zM413 580h1v1h-1zM479 323h1v1h-1zM387 607h1v1h-1zM493 366h1v1h-1zM532 527h1v1h-1zM503 298h1v1h-1zM413 251h1v1h-1zM91 489h1v1h-1zM73 186h1v1h-1zM407 505h1v1h-1zM121 330h1v1h-1zM533 489h1v1h-1zM340 194h1v1h-1zM252 317h1v1h-1zM466 237h1v1h-1zM594 253h1v1h-1zM165 572h1v1h-1zM343 424h1v1h-1zM489 452h1v1h-1zM367 307h1v1h-1zM91 496h1v1h-1zM133 105h1v1h-1zM242 162h1v1h-1zM507 578h1v1h-1zM458 482h1v1h-1zM220 81h1v1h-1zM247 160h1v1h-1zM320 215h1v1h-1zM224 601h1v1h-1zM414 393h1v1h-1zM78 604h1v1h-1zM538 590h1v1h-1zM286 445h1v1h-1zM256 453h1v1h-1zM165 215h1v1h-1zM204 108h1v1h-1zM506 195h1v1h-1zM267 330h1v1h-1zM240 223h1v1h-1zM291 467h1v1h-1zM360 236h1v1h-1zM122 76h1v1h-1zM317 170h1v1h-1zM511 500h1v1h-1zM70 228h1v1h-1zM346 107h1v1h-1zM91 114h1v1h-1zM141 296h1v1h-1zM405 277h1v1h-1zM603 78h1v1h-1zM202 500h1v1h-1zM570 526h1v1h-1zM346 309h1v1h-1zM106 601h1v1h-1zM311 496h1v1h-1zM244 261h1v1h-1zM494 412h1v1h-1zM278 163h1v1h-1zM166 466h1v1h-1zM318 390h1v1h-1zM420 505h1v1h-1zM508 99h1v1h-1zM386 533h1v1h-1zM220 177h1v1h-1zM205 287h1v1h-1zM431 529h1v1h-1zM580 285h1v1h-1zM199 412h1v1h-1zM559 356h1v1h-1zM89 282h1v1h-1zM546 418h1v1h-1zM530 252h1v1h-1zM197 146h1v1h-1zM368 515h1v1h-1zM165 287h1v1h-1zM256 193h1v1h-1zM288 301h1v1h-1zM458 325h1v1h-1zM358 558h1v1h-1zM166 125h1v1h-1zM330 205h1v1h-1zM332 437h1v1h-1zM177 212h1v1h-1zM458 590h1v1h-1zM283 106h1v1h-1zM308 575h1v1h-1zM605 230h1v1h-1zM344 300h1v1h-1zM551 307h1v1h-1zM310 442h1v1h-1zM314 501h1v1h-1zM501 93h1v1h-1zM273 500h1v1h-1zM385 318h1v1h-1zM174 384h1v1h-1zM473 120h1v1h-1zM73 235h1v1h-1zM184 402h1v1h-1zM554 591h1v1h-1zM207 228h1v1h-1zM415 581h1v1h-1zM485 231h1v1h-1zM336 478h1v1h-1zM591 496h1v1h-1zM268 282h1v1h-1zM541 169h1v1h-1zM558 532h1v1h-1zM400 556h1v1h-1zM96 267h1v1h-1zM444 485h1v1h-1zM124 145h1v1h-1zM255 487h1v1h-1zM298 459h1v1h-1zM74 211h1v1h-1zM186 282h1v1h-1zM260 411h1v1h-1zM577 134h1v1h-1zM533 105h1v1h-1zM537 514h1v1h-1zM108 373h1v1h-1zM325 202h1v1h-1zM132 402h1v1h-1zM186 437h1v1h-1zM170 247h1v1h-1zM265 506h1v1h-1zM480 301h1v1h-1zM411 210h1v1h-1zM97 482h1v1h-1zM484 579h1v1h-1zM443 346h1v1h-1zM113 488h1v1h-1zM527 520h1v1h-1zM442 467h1v1h-1zM145 446h1v1h-1zM219 532h1v1h-1zM395 222h1v1h-1zM289 272h1v1h-1zM379 309h1v1h-1zM474 283h1v1h-1zM137 374h1v1h-1zM192 109h1v1h-1zM128 496h1v1h-1zM435 315h1v1h-1zM94 214h1v1h-1zM166 431h1v1h-1zM131 434h1v1h-1zM293 324h1v1h-1zM467 518h1v1h-1zM109 332h1v1h-1zM142 541h1v1h-1zM397 143h1v1h-1zM437 552h1v1h-1zM128 534h1v1h-1zM146 257h1v1h-1zM122 345h1v1h-1zM581 177h1v1h-1zM252 502h1v1h-1zM292 511h1v1h-1zM354 104h1v1h-1zM569 230h1v1h-1zM549 553h1v1h-1zM313 555h1v1h-1zM463 189h1v1h-1zM550 342h1v1h-1zM263 206h1v1h-1zM306 163h1v1h-1zM329 388h1v1h-1zM159 363h1v1h-1zM516 195h1v1h-1zM469 113h1v1h-1zM222 390h1v1h-1zM192 481h1v1h-1zM388 178h1v1h-1zM185 297h1v1h-1zM376 604h1v1h-1zM210 552h1v1h-1zM216 107h1v1h-1zM81 149h1v1h-1zM138 574h1v1h-1zM168 186h1v1h-1zM87 538h1v1h-1zM89 352h1v1h-1zM458 431h1v1h-1zM330 243h1v1h-1zM373 390h1v1h-1zM492 315h1v1h-1zM524 183h1v1h-1zM591 206h1v1h-1zM318 121h1v1h-1zM349 382h1v1h-1zM286 247h1v1h-1zM121 482h1v1h-1zM563 418h1v1h-1zM146 339h1v1h-1zM393 252h1v1h-1zM332 165h1v1h-1zM110 280h1v1h-1zM423 314h1v1h-1zM299 368h1v1h-1zM351 473h1v1h-1zM329 280h1v1h-1zM316 128h1v1h-1zM131 303h1v1h-1zM148 499h1v1h-1zM569 450h1v1h-1zM184 483h1v1h-1zM278 115h1v1h-1zM528 249h1v1h-1zM190 153h1v1h-1zM102 196h1v1h-1zM463 184h1v1h-1zM471 595h1v1h-1zM126 233h1v1h-1zM584 528h1v1h-1zM505 464h1v1h-1zM99 181h1v1h-1zM156 566h1v1h-1zM547 182h1v1h-1zM396 500h1v1h-1zM248 577h1v1h-1zM229 423h1v1h-1zM84 465h1v1h-1zM526 385h1v1h-1zM358 465h1v1h-1zM305 400h1v1h-1zM593 502h1v1h-1zM289 478h1v1h-1zM256 391h1v1h-1zM459 272h1v1h-1zM89 487h1v1h-1zM177 172h1v1h-1zM479 235h1v1h-1zM77 608h1v1h-1zM100 291h1v1h-1zM483 326h1v1h-1zM439 578h1v1h-1zM119 604h1v1h-1zM574 546h1v1h-1zM307 291h1v1h-1zM411 584h1v1h-1zM507 353h1v1h-1zM403 456h1v1h-1zM208 538h1v1h-1zM408 297h1v1h-1zM485 360h1v1h-1zM429 369h1v1h-1zM448 166h1v1h-1zM287 558h1v1h-1zM222 530h1v1h-1zM508 261h1v1h-1zM117 195h1v1h-1zM591 163h1v1h-1zM71 92h1v1h-1zM489 544h1v1h-1zM381 364h1v1h-1zM145 279h1v1h-1zM325 561h1v1h-1zM216 265h1v1h-1zM370 76h1v1h-1zM150 476h1v1h-1zM204 489h1v1h-1zM318 556h1v1h-1zM174 165h1v1h-1zM151 605h1v1h-1zM398 498h1v1h-1zM193 189h1v1h-1zM349 76h1v1h-1zM555 348h1v1h-1zM377 441h1v1h-1zM99 132h1v1h-1zM85 155h1v1h-1zM328 161h1v1h-1zM350 531h1v1h-1zM256 576h1v1h-1zM504 215h1v1h-1zM570 416h1v1h-1zM499 496h1v1h-1zM73 596h1v1h-1zM138 469h1v1h-1zM184 593h1v1h-1zM167 541h1v1h-1zM344 258h1v1h-1zM502 455h1v1h-1zM372 604h1v1h-1zM496 489h1v1h-1zM275 115h1v1h-1zM157 608h1v1h-1zM526 579h1v1h-1zM366 363h1v1h-1zM362 455h1v1h-1zM181 307h1v1h-1zM265 142h1v1h-1zM184 71h1v1h-1zM173 519h1v1h-1zM276 391h1v1h-1zM281 603h1v1h-1zM230 95h1v1h-1zM126 229h1v1h-1zM478 419h1v1h-1zM385 354h1v1h-1zM129 605h1v1h-1zM202 292h1v1h-1zM113 319h1v1h-1zM422 326h1v1h-1zM258 166h1v1h-1zM163 87h1v1h-1zM165 586h1v1h-1zM496 436h1v1h-1zM491 336h1v1h-1zM560 335h1v1h-1zM584 471h1v1h-1zM92 393h1v1h-1zM145 113h1v1h-1zM133 472h1v1h-1zM500 443h1v1h-1zM125 513h1v1h-1zM150 311h1v1h-1zM196 556h1v1h-1zM207 520h1v1h-1zM290 473h1v1h-1zM267 139h1v1h-1zM80 391h1v1h-1zM576 577h1v1h-1zM512 118h1v1h-1zM406 421h1v1h-1zM178 107h1v1h-1zM282 134h1v1h-1zM105 256h1v1h-1zM529 388h1v1h-1zM193 498h1v1h-1zM414 169h1v1h-1zM298 94h1v1h-1zM199 529h1v1h-1zM345 123h1v1h-1zM580 517h1v1h-1zM305 249h1v1h-1zM318 427h1v1h-1zM206 208h1v1h-1zM133 125h1v1h-1zM205 501h1v1h-1zM352 458h1v1h-1zM251 241h1v1h-1zM136 372h1v1h-1zM100 559h1v1h-1zM542 440h1v1h-1zM529 506h1v1h-1zM582 191h1v1h-1zM379 166h1v1h-1zM277 198h1v1h-1zM279 390h1v1h-1zM310 204h1v1h-1zM157 556h1v1h-1zM378 147h1v1h-1zM338 177h1v1h-1zM570 352h1v1h-1zM84 349h1v1h-1zM141 122h1v1h-1zM584 266h1v1h-1zM126 124h1v1h-1zM412 318h1v1h-1zM440 325h1v1h-1zM118 213h1v1h-1zM285 400h1v1h-1zM542 534h1v1h-1zM543 482h1v1h-1zM542 95h1v1h-1zM198 145h1v1h-1zM342 117h1v1h-1zM154 340h1v1h-1zM412 292h1v1h-1zM134 546h1v1h-1zM506 197h1v1h-1zM117 367h1v1h-1zM308 196h1v1h-1zM84 598h1v1h-1zM102 117h1v1h-1zM512 224h1v1h-1zM110 279h1v1h-1zM179 526h1v1h-1zM454 582h1v1h-1zM393 208h1v1h-1zM143 250h1v1h-1zM341 532h1v1h-1zM453 163h1v1h-1zM604 318h1v1h-1zM225 584h1v1h-1zM453 467h1v1h-1zM472 135h1v1h-1zM224 483h1v1h-1zM327 438h1v1h-1zM183 116h1v1h-1zM79 497h1v1h-1zM131 191h1v1h-1zM168 566h1v1h-1zM285 428h1v1h-1zM594 333h1v1h-1zM255 413h1v1h-1zM592 152h1v1h-1zM307 236h1v1h-1zM309 201h1v1h-1zM148 344h1v1h-1zM205 239h1v1h-1zM380 108h1v1h-1zM158 406h1v1h-1zM251 514h1v1h-1zM194 347h1v1h-1zM191 180h1v1h-1zM266 507h1v1h-1zM408 283h1v1h-1zM202 416h1v1h-1zM326 184h1v1h-1zM204 397h1v1h-1zM79 184h1v1h-1zM220 522h1v1h-1zM284 529h1v1h-1zM220 539h1v1h-1zM135 548h1v1h-1zM90 134h1v1h-1zM551 433h1v1h-1zM524 560h1v1h-1zM585 99h1v1h-1zM534 493h1v1h-1zM378 324h1v1h-1zM487 425h1v1h-1zM555 483h1v1h-1zM546 470h1v1h-1zM602 476h1v1h-1zM480 430h1v1h-1zM204 133h1v1h-1zM271 579h1v1h-1zM203 242h1v1h-1zM435 406h1v1h-1zM109 578h1v1h-1zM118 152h1v1h-1zM207 303h1v1h-1zM606 318h1v1h-1zM107 84h1v1h-1zM274 229h1v1h-1zM252 455h1v1h-1zM533 567h1v1h-1zM303 89h1v1h-1zM237 421h1v1h-1zM163 345h1v1h-1zM543 324h1v1h-1zM87 520h1v1h-1zM154 125h1v1h-1zM113 376h1v1h-1zM125 365h1v1h-1zM238 386h1v1h-1zM437 98h1v1h-1zM246 439h1v1h-1zM119 339h1v1h-1zM109 372h1v1h-1zM92 166h1v1h-1zM110 320h1v1h-1zM410 472h1v1h-1zM492 609h1v1h-1zM82 516h1v1h-1zM316 573h1v1h-1zM177 223h1v1h-1zM451 598h1v1h-1zM364 522h1v1h-1zM359 293h1v1h-1zM578 384h1v1h-1zM196 304h1v1h-1zM247 186h1v1h-1zM102 315h1v1h-1zM347 246h1v1h-1zM312 208h1v1h-1zM147 484h1v1h-1zM258 364h1v1h-1zM391 94h1v1h-1zM435 329h1v1h-1zM509 571h1v1h-1zM292 297h1v1h-1zM177 539h1v1h-1zM151 578h1v1h-1zM87 171h1v1h-1zM202 244h1v1h-1zM234 515h1v1h-1zM179 353h1v1h-1zM232 424h1v1h-1zM114 113h1v1h-1zM127 384h1v1h-1zM281 485h1v1h-1zM504 310h1v1h-1zM308 527h1v1h-1zM73 98h1v1h-1zM155 98h1v1h-1zM295 131h1v1h-1zM216 566h1v1h-1zM285 330h1v1h-1zM390 345h1v1h-1zM555 567h1v1h-1zM428 276h1v1h-1zM517 291h1v1h-1zM507 186h1v1h-1zM202 591h1v1h-1zM564 538h1v1h-1zM462 356h1v1h-1zM570 282h1v1h-1zM221 273h1v1h-1z"/>
<path fill="#303030" d="M110 395h2v2h-2zM286 453h2v2h-2zM143 491h2v2h-2zM481 405h2v2h-2zM552 187h2v2h-2zM361 269h2v2h-2zM182 300h2v2h-2zM315 325h2v2h-2zM154 157h2v2h-2zM105 297h2v2h-2zM433 567h2v2h-2zM523 243h2v2h-2zM577 605h2v2h-2zM118 69h2v2h-2zM239 404h2v2h-2zM561 518h2v2h-2zM174 411h2v2h-2zM566 568h2v2h-2zM461 323h2v2h-2zM347 188h2v2h-2zM112 370h2v2h-2zM159 119h2v2h-2zM99 399h2v2h-2zM554 513h2v2h-2zM523 247h2v2h-2zM199 445h2v2h-2zM417 466h2v2h-2zM500 345h2v2h-2zM445 321h2v2h-2zM97 84h2v2h-2zM139 98h2v2h-2zM524 397h2v2h-2zM334 564h2v2h-2zM470 603h2v2h-2zM154 311h2v2h-2zM247 426h2v2h-2zM470 415h2v2h-2zM385 87h2v2h-2zM283 85h2v2h-2zM104 535h2v2h-2zM274 514h2v2h-2zM607 420h2v2h-2zM542 569h2v2h-2zM92 481h2v2h-2zM411 547h2v2h-2zM254 492h2v2h-2zM206 302h2v2h-2zM365 334h2v2h-2zM543 380h2v2h-2zM120 101h2v2h-2zM210 136h2v2h-2zM127 364h2v2h-2zM534 304h2v2h-2zM608 329h2v2h-2zM97 333h2v2h-2zM148 450h2v2h-2zM254 502h2v2h-2zM139 84h2v2h-2zM106 138h2v2h-2zM356 184h2v2h-2zM572 548h2v2h-2zM417 164h2v2h-2zM251 378h2v2h-2zM167 452h2v2h-2zM152 84h2v2h-2zM381 308h2v2h-2zM422 567h2v2h-2zM164 325h2v2h-2zM327 198h2v2h-2zM553 253h2v2h-2zM214 262h2v2h-2zM413 508h2v2h-2zM104 290h2v2h-2zM537 554h2v2h-2zM277 293h2v2h-2zM115 487h2v2h-2zM346 530h2v2h-2zM237 544h2v2h-2zM576 521h2v2h-2zM490 206h2v2h-2zM196 168h2v2h-2zM311 574h2v2h-2zM270 499h2v2h-2zM450 170h2v2h-2zM241 268h2v2h-2zM194 445h2v2h-2zM152 156h2v2h-2zM426 328h2v2h-2zM176 505h2v2h-2zM120 323h2v2h-2zM418 151h2v2h-2zM342 448h2v2h-2zM431 610h2v2h-2zM120 579h2v2h-2zM124 548h2v2h-2zM143 95h2v2h-2zM428 316h2v2h-2zM327 131h2v2h-2zM300 318h2v2h-2zM373 266h2v2h-2zM213 235h2v2h-2zM590 354h2v2h-2zM142 251h2v2h-2zM268 153h2v2h-2zM144 530h2v2h-2zM351 254h2v2h-2zM93 175h2v2h-2zM315 335h2v2h-2zM72 153h2v2h-2zM525 505h2v2h-2zM545 326h2v2h-2zM426 486h2v2h-2zM458 308h2v2h-2zM306 563h2v2h-2zM601 366h2v2h-2zM481 518h2v2h-2zM447 161h2v2h-2zM201 564h2v2h-2zM583 594h2v2h-2zM453 315h2v2h-2z"/>
</g>
<circle cx="315.5" cy="94.6" r="1.1" fill="#333"/>
<circle cx="210.9" cy="232.9" r="1.1" fill="#333"/>
<circle cx="160.9" cy="382.9" r="1.1" fill="#333"/>
<circle cx="351.5" cy="144.3" r="1.1" fill="#333"/>
<circle cx="340.4" cy="339.3" r="1.1" fill="#333"/>
<circle cx="264" cy="244.7" r="1.1" fill="#333"/>
<circle cx="121.2" cy="388" r="1.1" fill="#333"/>
<circle cx="246.5" cy="420.8" r="1.1" fill="#333"/>
<circle cx="412.8" cy="469.8" r="1.1" fill="#333"/>
<g filter="url(#sb2)"><circle cx="127" cy="263" r="1.35" fill="#2a2a2a"/><circle cx="210" cy="265" r="1.35" fill="#2a2a2a"/><circle cx="558" cy="212.8" r="1.35" fill="#2a2a2a"/><circle cx="424.8" cy="286" r="1.35" fill="#2a2a2a"/><circle cx="580" cy="130" r="1.35" fill="#2a2a2a"/><circle cx="591" cy="236" r="1.35" fill="#2a2a2a"/><circle cx="478" cy="306" r="1.35" fill="#2a2a2a"/><circle cx="420" cy="330" r="1.35" fill="#2a2a2a"/><circle cx="228" cy="416" r="1.35" fill="#2a2a2a"/><circle cx="210" cy="478" r="1.35" fill="#2a2a2a"/><circle cx="108" cy="468" r="1.35" fill="#2a2a2a"/><circle cx="308" cy="470" r="1.35" fill="#2a2a2a"/><circle cx="318" cy="414" r="1.35" fill="#2a2a2a"/><circle cx="320" cy="396" r="1.35" fill="#2a2a2a"/><circle cx="478" cy="491" r="1.35" fill="#2a2a2a"/><circle cx="456" cy="493" r="1.35" fill="#2a2a2a"/><circle cx="571" cy="558" r="1.35" fill="#2a2a2a"/><circle cx="596" cy="563" r="1.35" fill="#2a2a2a"/><circle cx="604" cy="459" r="1.35" fill="#2a2a2a"/><circle cx="454" cy="550" r="1.35" fill="#2a2a2a"/></g>
<circle cx="340.4" cy="339.5" r="2.6" fill="#111" filter="url(#sb2)"/>
<circle cx="443.5" cy="529.7" r="30" fill="url(#halo)"/>
<path d="M443.5 511V536M430 529.5H457" stroke="#222" stroke-width="0.9"/>
<circle cx="443.5" cy="529.5" r="2.5" fill="#111"/>
</g>
<g clip-path="url(#fr)" fill="none">
<polygon points="313.3,77.4 611.2,314.2 374.4,612.1 76.5,375.3" stroke="#0000ff" stroke-width="1"/>
<polygon points="255.9,245.1 437.71,389.53 413.64,419.83 231.83,275.4" stroke="#0000ff" stroke-width="1"/>
<path d="M286.2 269.17L262.13 299.47M316.5 293.24L292.43 323.54M346.81 317.31L322.73 347.62M377.11 341.39L353.04 371.69M407.41 365.46L383.34 395.76" stroke="#0000ff" stroke-width="1"/>
<path d="M407.41 365.46L413.64 419.83M437.71 389.53L383.34 395.76" stroke="#1e9600" stroke-width="1"/>
<polygon points="280.18,276.75 401.39,373.03 389.36,388.18 268.15,291.9" stroke="#ff8c00" stroke-width="1"/>
<path d="M280.18 276.75L268.15 291.9M310.49 300.82L298.45 315.97M340.79 324.89L328.75 340.04M371.09 348.96L359.05 364.11M401.39 373.03L389.36 388.18" stroke="#ff8c00" stroke-width="1.3"/>
<polygon points="291.4,337.6 351.61,385.43 303.78,445.64 243.57,397.81" stroke="#0000ff" stroke-width="1"/>
<path d="M321.51 361.52L273.67 421.73M267.48 367.71L327.7 415.54" stroke="#0000ff" stroke-width="1"/>
<rect x="355.25" y="276.25" width="6.5" height="6.5" stroke="#ff0000" stroke-width="1.2"/>
<rect x="204.25" y="401.15" width="6.5" height="6.5" stroke="#ff0000" stroke-width="1.2"/>
<rect x="455.65" y="418.15" width="6.5" height="6.5" stroke="#ff0000" stroke-width="1.2"/>
<circle cx="315.4" cy="94.8" r="10.4" stroke="#9414f0" stroke-width="1.15"/>
<circle cx="210.9" cy="232.9" r="10.4" stroke="#9414f0" stroke-width="1.15"/>
<circle cx="160.9" cy="382.9" r="10.4" stroke="#9414f0" stroke-width="1.15"/>
<circle cx="264" cy="244.7" r="10.4" stroke="#9414f0" stroke-width="1.15"/>
<circle cx="121.2" cy="388" r="10.4" stroke="#9414f0" stroke-width="1.15"/>
<circle cx="246.5" cy="420.8" r="10.4" stroke="#9414f0" stroke-width="1.15"/>
<circle cx="412.8" cy="469.8" r="10.4" stroke="#9414f0" stroke-width="1.15"/>
<circle cx="340.3" cy="339.3" r="10.4" stroke="#9414f0" stroke-width="1.15"/>
<circle cx="315.5" cy="94.6" r="5.1" stroke="#ff8c00" stroke-width="1.15"/>
<circle cx="210.9" cy="232.9" r="5.1" stroke="#ff8c00" stroke-width="1.15"/>
<circle cx="160.9" cy="382.9" r="5.1" stroke="#ff8c00" stroke-width="1.15"/>
<circle cx="351.5" cy="144.3" r="5.1" stroke="#ff8c00" stroke-width="1.15"/>
<circle cx="340.4" cy="339.3" r="5.1" stroke="#ff8c00" stroke-width="1.15"/>
<path d="M333.3 332.5L347.4 346.3M347.3 332.6L333.4 346.5" stroke="#ff0000" stroke-width="2.6" stroke-dasharray="1.2 0.8"/>
<path d="M336 335L345 344M345 335L336 344" stroke="#0000ff" stroke-width="1" stroke-dasharray="1 1.5"/>
</g>
<text x="261.8" y="275.39" fill="#0000ff" font-size="12.4" style="font-family:'Liberation Serif',serif" stroke="#0000ff" stroke-width="0.5" text-anchor="middle">0</text>
<text x="411.8" y="394.49" fill="#0000ff" font-size="12.4" style="font-family:'Liberation Serif',serif" stroke="#0000ff" stroke-width="0.5" text-anchor="middle">5</text>
<text x="298.1" y="366.96" fill="#0000ff" font-size="13.2" style="font-family:'Liberation Serif',serif" stroke="#0000ff" stroke-width="0.6" text-anchor="middle">2</text>
<text x="325.8" y="388.96" fill="#0000ff" font-size="13.2" style="font-family:'Liberation Serif',serif" stroke="#0000ff" stroke-width="0.6" text-anchor="middle">3</text>
<text x="275.7" y="394.66" fill="#0000ff" font-size="13.2" style="font-family:'Liberation Serif',serif" stroke="#0000ff" stroke-width="0.6" text-anchor="middle">0</text>
<text x="303.5" y="416.66" fill="#0000ff" font-size="13.2" style="font-family:'Liberation Serif',serif" stroke="#0000ff" stroke-width="0.6" text-anchor="middle">1</text>
<text x="291.9" y="298.45" fill="#ff1493" font-size="17.6" style="font-family:'Liberation Serif',serif" stroke="#ff1493" stroke-width="0.3" text-anchor="middle">1</text>
<text x="321.5" y="322.75" fill="#ff1493" font-size="17.6" style="font-family:'Liberation Serif',serif" stroke="#ff1493" stroke-width="0.3" text-anchor="middle">2</text>
<text x="353.6" y="347.45" fill="#ff1493" font-size="17.6" style="font-family:'Liberation Serif',serif" stroke="#ff1493" stroke-width="0.3" text-anchor="middle">3</text>
<text x="382.5" y="370.95" fill="#ff1493" font-size="17.6" style="font-family:'Liberation Serif',serif" stroke="#ff1493" stroke-width="0.3" text-anchor="middle">4</text>
<text x="374.6" y="376.99" fill="#1e9600" font-size="11.8" style="font-family:'Liberation Serif',serif" stroke="#1e9600" stroke-width="0.5" text-anchor="middle">3</text>
<text x="404.7" y="401.59" fill="#1e9600" font-size="11.8" style="font-family:'Liberation Serif',serif" stroke="#1e9600" stroke-width="0.5" text-anchor="middle">1</text>
<text x="95.3" y="95.5" fill="#0000ff" font-size="16.4" style="font-family:'Liberation Serif',serif" textLength="22.1" lengthAdjust="spacingAndGlyphs" stroke="#dedede" stroke-width="0.12">RA</text>
<text x="125.9" y="95.5" fill="#0000ff" font-size="16.4" style="font-family:'Liberation Serif',serif" textLength="12.7" lengthAdjust="spacingAndGlyphs" stroke="#dedede" stroke-width="0.12">=</text>
<text x="149.4" y="95.5" fill="#0000ff" font-size="16.4" style="font-family:'Liberation Serif',serif" textLength="97.5" lengthAdjust="spacingAndGlyphs" stroke="#dedede" stroke-width="0.12">135.528583</text>
<text x="275.5" y="95.5" fill="#0000ff" font-size="16.4" style="font-family:'Liberation Serif',serif" textLength="33.9" lengthAdjust="spacingAndGlyphs" stroke="#dedede" stroke-width="0.12">DEC</text>
<text x="319.7" y="95.5" fill="#0000ff" font-size="16.4" style="font-family:'Liberation Serif',serif" textLength="13.5" lengthAdjust="spacingAndGlyphs" stroke="#dedede" stroke-width="0.12">=</text>
<text x="342" y="95.5" fill="#0000ff" font-size="16.4" style="font-family:'Liberation Serif',serif" textLength="99.4" lengthAdjust="spacingAndGlyphs" stroke="#dedede" stroke-width="0.12">−40.554700</text>
<text x="458.3" y="95.5" fill="#0000ff" font-size="16.4" style="font-family:'Liberation Serif',serif" textLength="42" lengthAdjust="spacingAndGlyphs" stroke="#dedede" stroke-width="0.12">ROLL</text>
<text x="507.8" y="95.5" fill="#0000ff" font-size="16.4" style="font-family:'Liberation Serif',serif" textLength="12.7" lengthAdjust="spacingAndGlyphs" stroke="#dedede" stroke-width="0.12">=</text>
<text x="529.9" y="95.5" fill="#0000ff" font-size="16.4" style="font-family:'Liberation Serif',serif" textLength="67.5" lengthAdjust="spacingAndGlyphs" stroke="#dedede" stroke-width="0.12">38.4950</text>
<text x="96.4" y="122.5" fill="#0000ff" font-size="16.4" style="font-family:'Liberation Serif',serif" textLength="42.2" lengthAdjust="spacingAndGlyphs" stroke="#dedede" stroke-width="0.12">YOFF</text>
<text x="147" y="122.5" fill="#0000ff" font-size="16.4" style="font-family:'Liberation Serif',serif" textLength="12.8" lengthAdjust="spacingAndGlyphs" stroke="#dedede" stroke-width="0.12">=</text>
<text x="185.9" y="122.5" fill="#0000ff" font-size="16.4" style="font-family:'Liberation Serif',serif" textLength="51.5" lengthAdjust="spacingAndGlyphs" stroke="#dedede" stroke-width="0.12">0.000'</text>
<text x="276.4" y="122.5" fill="#0000ff" font-size="16.4" style="font-family:'Liberation Serif',serif" textLength="43.7" lengthAdjust="spacingAndGlyphs" stroke="#dedede" stroke-width="0.12">ZOFF</text>
<text x="328.1" y="122.5" fill="#0000ff" font-size="16.4" style="font-family:'Liberation Serif',serif" textLength="12.1" lengthAdjust="spacingAndGlyphs" stroke="#dedede" stroke-width="0.12">=</text>
<text x="358.2" y="122.5" fill="#0000ff" font-size="16.4" style="font-family:'Liberation Serif',serif" textLength="61.6" lengthAdjust="spacingAndGlyphs" stroke="#dedede" stroke-width="0.12">0.0000'</text>
<text x="458.3" y="122.5" fill="#0000ff" font-size="16.4" style="font-family:'Liberation Serif',serif" textLength="39.1" lengthAdjust="spacingAndGlyphs" stroke="#dedede" stroke-width="0.12">ZSIM</text>
<text x="506.6" y="122.5" fill="#0000ff" font-size="16.4" style="font-family:'Liberation Serif',serif" textLength="12" lengthAdjust="spacingAndGlyphs" stroke="#dedede" stroke-width="0.12">=</text>
<text x="528.2" y="122.5" fill="#0000ff" font-size="16.4" style="font-family:'Liberation Serif',serif" textLength="9.2" lengthAdjust="spacingAndGlyphs" stroke="#dedede" stroke-width="0.12">0</text>
<text x="545.9" y="122.5" fill="#0000ff" font-size="16.4" style="font-family:'Liberation Serif',serif" textLength="35.1" lengthAdjust="spacingAndGlyphs" stroke="#dedede" stroke-width="0.12">mm</text>
<text x="95.3" y="150" fill="#0000ff" font-size="16.4" style="font-family:'Liberation Serif',serif" textLength="37.5" lengthAdjust="spacingAndGlyphs" stroke="#dedede" stroke-width="0.12">ACIS</text>
<text x="141.5" y="150" fill="#0000ff" font-size="16.4" style="font-family:'Liberation Serif',serif" textLength="21.7" lengthAdjust="spacingAndGlyphs" stroke="#dedede" stroke-width="0.12">PB</text>
<text x="172.9" y="150" fill="#0000ff" font-size="16.4" style="font-family:'Liberation Serif',serif" textLength="12.8" lengthAdjust="spacingAndGlyphs" stroke="#dedede" stroke-width="0.12">=</text>
<text x="196.1" y="150" fill="#0000ff" font-size="16.4" style="font-family:'Liberation Serif',serif" textLength="105.1" lengthAdjust="spacingAndGlyphs" stroke="#dedede" stroke-width="0.12">WT00AD8014</text>
<circle cx="94.9" cy="582" r="5.1" fill="none" stroke="#ff8c00" stroke-width="1.2"/>
<text x="111.8" y="584.8" fill="#ff8c00" font-size="17.6" style="font-family:'Liberation Serif',serif" textLength="95.5" lengthAdjust="spacingAndGlyphs">Guide Star</text>
<circle cx="231.6" cy="578.9" r="10.7" fill="none" stroke="#9414f0" stroke-width="1.2"/>
<text x="247.9" y="584.6" fill="#9414f0" font-size="17.6" style="font-family:'Liberation Serif',serif" textLength="76.5" lengthAdjust="spacingAndGlyphs">Acq Star</text>
<circle cx="367.2" cy="576.4" r="16" fill="none" stroke="#ff00ff" stroke-width="1.2"/>
<text x="384.3" y="584.6" fill="#ff00ff" font-size="17.6" style="font-family:'Liberation Serif',serif" textLength="79.5" lengthAdjust="spacingAndGlyphs">Mon Star</text>
<rect x="500.2" y="581.3" width="6.5" height="6.5" fill="none" stroke="#ff0000" stroke-width="1.2"/>
<text x="520.2" y="584.6" fill="#ff0000" font-size="17.6" style="font-family:'Liberation Serif',serif" textLength="78.5" lengthAdjust="spacingAndGlyphs">Fid Light</text>
<text x="174.7" y="607.1" fill="#1e9600" font-size="11.3" style="font-family:'Liberation Serif',serif" stroke="#1e9600" stroke-width="0.3" textLength="331" lengthAdjust="spacingAndGlyphs">Green denotes presence and ordering of optional ACIS chips</text>
<rect x="68.5" y="68.5" width="543" height="543" fill="none" stroke="#1e90ff" stroke-width="1.2"/>
<path d="M81.1 68V72.5M122.44 68V72.5M163.78 68V72.5M205.12 68V72.5M246.46 68V79M287.8 68V72.5M329.14 68V72.5M370.48 68V72.5M411.82 68V72.5M453.16 68V79M494.5 68V72.5M535.84 68V72.5M577.18 68V72.5M68 100.4H80M68 145.7H73M68 191H80M68 236.3H73M68 281.6H80M68 326.9H73M68 372.2H80M68 417.5H73M68 462.8H80M68 508.1H73M68 553.4H80M68 598.7H73M68 578.4H73M91.3 611V601M143 611V607M194.7 611V601M246.4 611V607M298.1 611V601M349.8 611V607M401.5 611V601M453.2 611V607M504.9 611V601M556.6 611V607M608.3 611V601" stroke="#1e90ff" stroke-width="1.2" fill="none"/>
<text x="247.3" y="62" fill="#1e90ff" font-size="16.8" style="font-family:'Liberation Serif',serif" text-anchor="middle" textLength="23.5" lengthAdjust="spacingAndGlyphs">136</text>
<text x="453.3" y="62" fill="#1e90ff" font-size="16.8" style="font-family:'Liberation Serif',serif" text-anchor="middle" textLength="23.5" lengthAdjust="spacingAndGlyphs">135</text>
<text x="62" y="100.4" fill="#1e90ff" font-size="16.8" style="font-family:'Liberation Serif',serif" text-anchor="middle" textLength="56" lengthAdjust="spacingAndGlyphs" transform="rotate(-90 62 100.4)">−39 40′</text>
<text x="62" y="191" fill="#1e90ff" font-size="16.8" style="font-family:'Liberation Serif',serif" text-anchor="middle" textLength="56" lengthAdjust="spacingAndGlyphs" transform="rotate(-90 62 191)">−38 00′</text>
<text x="62" y="281.6" fill="#1e90ff" font-size="16.8" style="font-family:'Liberation Serif',serif" text-anchor="middle" textLength="56" lengthAdjust="spacingAndGlyphs" transform="rotate(-90 62 281.6)">−40 20′</text>
<text x="62" y="372.2" fill="#1e90ff" font-size="16.8" style="font-family:'Liberation Serif',serif" text-anchor="middle" textLength="56" lengthAdjust="spacingAndGlyphs" transform="rotate(-90 62 372.2)">−40 40′</text>
<text x="62" y="462.8" fill="#1e90ff" font-size="16.8" style="font-family:'Liberation Serif',serif" text-anchor="middle" textLength="56" lengthAdjust="spacingAndGlyphs" transform="rotate(-90 62 462.8)">−39 00′</text>
<text x="62" y="553.4" fill="#1e90ff" font-size="16.8" style="font-family:'Liberation Serif',serif" text-anchor="middle" textLength="56" lengthAdjust="spacingAndGlyphs" transform="rotate(-90 62 553.4)">−41 20′</text>
<text x="91.5" y="633.6" fill="#1e90ff" font-size="16.2" style="font-family:'Liberation Serif',serif" text-anchor="middle" textLength="58.5" lengthAdjust="spacingAndGlyphs">09h07m</text>
<text x="194.9" y="633.6" fill="#1e90ff" font-size="16.2" style="font-family:'Liberation Serif',serif" text-anchor="middle" textLength="58.5" lengthAdjust="spacingAndGlyphs">09h05m</text>
<text x="298.3" y="633.6" fill="#1e90ff" font-size="16.2" style="font-family:'Liberation Serif',serif" text-anchor="middle" textLength="58.5" lengthAdjust="spacingAndGlyphs">09h03m</text>
<text x="401.7" y="633.6" fill="#1e90ff" font-size="16.2" style="font-family:'Liberation Serif',serif" text-anchor="middle" textLength="58.5" lengthAdjust="spacingAndGlyphs">09h01m</text>
<text x="505.1" y="633.6" fill="#1e90ff" font-size="16.2" style="font-family:'Liberation Serif',serif" text-anchor="middle" textLength="58.5" lengthAdjust="spacingAndGlyphs">08h59m</text>
<text x="608.5" y="633.6" fill="#1e90ff" font-size="16.2" style="font-family:'Liberation Serif',serif" text-anchor="middle" textLength="58.5" lengthAdjust="spacingAndGlyphs">08h57m</text>
<text x="77.3" y="35" fill="#1e90ff" font-size="17.9" style="font-family:'Liberation Serif',serif" textLength="526" lengthAdjust="spacingAndGlyphs">Name Vela X−1, Seq # 402591, Obsid 30499, ST Scheduled</text>
<text x="293.2" y="665.6" fill="#1e90ff" font-size="17.6" style="font-family:'Liberation Serif',serif" textLength="94" lengthAdjust="spacingAndGlyphs">RA (J2000)</text>
<text x="32" y="391.2" fill="#1e90ff" font-size="17.6" style="font-family:'Liberation Serif',serif" textLength="101.5" lengthAdjust="spacingAndGlyphs" transform="rotate(-90 32 391.2)">Dec (J2000)</text>
<text x="539.3" y="672.6" fill="#ffffff" font-size="10.7" style="font-family:'Liberation Sans',sans-serif" textLength="137.5" lengthAdjust="spacingAndGlyphs">tdowd 18–Dec–2025 18:33</text>
<rect x="615.5" y="68.5" width="21" height="543" fill="url(#cb)" stroke="#1e90ff" stroke-width="1.2"/>
<path d="M615 581.65H620M631 581.65H636M615 551.5H618.2M632.8 551.5H636M615 521.35H620M631 521.35H636M615 491.2H618.2M632.8 491.2H636M615 461.05H620M631 461.05H636M615 430.9H618.2M632.8 430.9H636M615 400.75H620M631 400.75H636M615 370.6H618.2M632.8 370.6H636M615 340.45H620M631 340.45H636M615 310.3H618.2M632.8 310.3H636M615 280.15H620M631 280.15H636M615 250H618.2M632.8 250H636M615 219.85H620M631 219.85H636M615 189.7H618.2M632.8 189.7H636M615 159.55H620M631 159.55H636M615 129.4H618.2M632.8 129.4H636M615 99.25H620M631 99.25H636" stroke="#1e90ff" stroke-width="1.2" fill="none"/>
<text x="648.3" y="581.65" fill="#1e90ff" font-size="9.5" style="font-family:'Liberation Serif',serif" stroke="#1e90ff" stroke-width="0.25" text-anchor="middle" textLength="23" lengthAdjust="spacingAndGlyphs" transform="rotate(-90 648.3 581.65)">2000</text>
<text x="648.3" y="521.35" fill="#1e90ff" font-size="9.5" style="font-family:'Liberation Serif',serif" stroke="#1e90ff" stroke-width="0.25" text-anchor="middle" textLength="23" lengthAdjust="spacingAndGlyphs" transform="rotate(-90 648.3 521.35)">4000</text>
<text x="648.3" y="461.05" fill="#1e90ff" font-size="9.5" style="font-family:'Liberation Serif',serif" stroke="#1e90ff" stroke-width="0.25" text-anchor="middle" textLength="23" lengthAdjust="spacingAndGlyphs" transform="rotate(-90 648.3 461.05)">6000</text>
<text x="648.3" y="400.75" fill="#1e90ff" font-size="9.5" style="font-family:'Liberation Serif',serif" stroke="#1e90ff" stroke-width="0.25" text-anchor="middle" textLength="23" lengthAdjust="spacingAndGlyphs" transform="rotate(-90 648.3 400.75)">8000</text>
<g transform="rotate(-90 648.3 347.95)">
<text x="648.3" y="347.95" fill="#1e90ff" font-size="9.5" style="font-family:'Liberation Serif',serif" stroke="#1e90ff" stroke-width="0.25" textLength="10.5" lengthAdjust="spacingAndGlyphs">10</text>
<text x="659" y="343.95" fill="#1e90ff" font-size="7.5" style="font-family:'Liberation Serif',serif" stroke="#1e90ff" stroke-width="0.3">4</text>
</g>
<g transform="rotate(-90 648.3 298.15)">
<text x="648.3" y="298.15" fill="#1e90ff" font-size="9.5" style="font-family:'Liberation Serif',serif" stroke="#1e90ff" stroke-width="0.25" textLength="31.5" lengthAdjust="spacingAndGlyphs">1.2x10</text>
<text x="680" y="294.15" fill="#1e90ff" font-size="7.5" style="font-family:'Liberation Serif',serif" stroke="#1e90ff" stroke-width="0.3">4</text>
</g>
<g transform="rotate(-90 648.3 237.85)">
<text x="648.3" y="237.85" fill="#1e90ff" font-size="9.5" style="font-family:'Liberation Serif',serif" stroke="#1e90ff" stroke-width="0.25" textLength="31.5" lengthAdjust="spacingAndGlyphs">1.4x10</text>
<text x="680" y="233.85" fill="#1e90ff" font-size="7.5" style="font-family:'Liberation Serif',serif" stroke="#1e90ff" stroke-width="0.3">4</text>
</g>
<g transform="rotate(-90 648.3 177.55)">
<text x="648.3" y="177.55" fill="#1e90ff" font-size="9.5" style="font-family:'Liberation Serif',serif" stroke="#1e90ff" stroke-width="0.25" textLength="31.5" lengthAdjust="spacingAndGlyphs">1.6x10</text>
<text x="680" y="173.55" fill="#1e90ff" font-size="7.5" style="font-family:'Liberation Serif',serif" stroke="#1e90ff" stroke-width="0.3">4</text>
</g>
<g transform="rotate(-90 648.3 117.25)">
<text x="648.3" y="117.25" fill="#1e90ff" font-size="9.5" style="font-family:'Liberation Serif',serif" stroke="#1e90ff" stroke-width="0.25" textLength="31.5" lengthAdjust="spacingAndGlyphs">1.8x10</text>
<text x="680" y="113.25" fill="#1e90ff" font-size="7.5" style="font-family:'Liberation Serif',serif" stroke="#1e90ff" stroke-width="0.3">4</text>
</g>
<text x="658.5" y="170" fill="#1e90ff" font-size="9.8" style="font-family:'Liberation Serif',serif" stroke="#1e90ff" stroke-width="0.3" textLength="102" lengthAdjust="spacingAndGlyphs" transform="rotate(-90 658.5 170)">POSS scaled density</text>
</svg></body></html>
